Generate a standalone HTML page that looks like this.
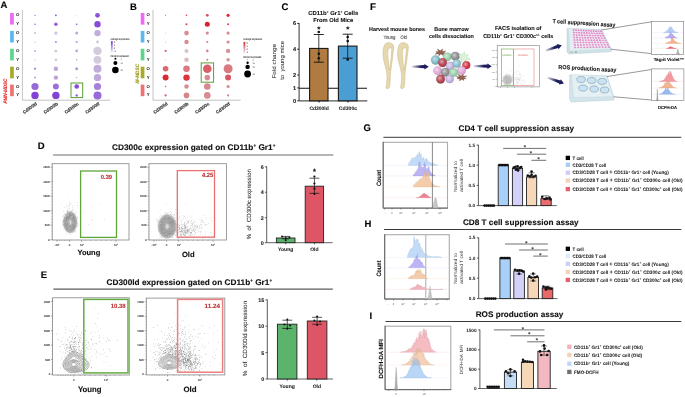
<!DOCTYPE html>
<html><head><meta charset="utf-8"><style>
html,body{margin:0;padding:0;background:#fff;}
body{width:685px;height:397px;overflow:hidden;}
svg{display:block;font-family:"Liberation Sans", sans-serif;will-change:transform;}
text{white-space:pre;text-rendering:geometricPrecision;}
</style></head><body>
<svg width="685" height="397" viewBox="0 0 685 397">
<rect x="0" y="0" width="685" height="397" fill="#fff"/>
<text x="0.60" y="7.80" font-size="9.5" font-weight="bold" text-anchor="start" fill="#000" stroke="#000" stroke-width="0.120">A</text>
<rect x="10.10" y="13.00" width="3.70" height="11.60" fill="#EE6AF2" stroke="none" stroke-width="0.8"/>
<rect x="10.10" y="30.90" width="3.70" height="11.60" fill="#5AB8EE" stroke="none" stroke-width="0.8"/>
<rect x="10.10" y="48.80" width="3.70" height="11.60" fill="#5CD68C" stroke="none" stroke-width="0.8"/>
<rect x="10.10" y="66.70" width="3.70" height="11.60" fill="#A9A92A" stroke="none" stroke-width="0.8"/>
<rect x="10.10" y="84.60" width="3.70" height="11.60" fill="#EE7272" stroke="none" stroke-width="0.8"/>
<text x="17.60" y="16.30" font-size="4.3" font-weight="bold" text-anchor="middle" fill="#222">O</text>
<text x="17.60" y="25.20" font-size="4.3" font-weight="bold" text-anchor="middle" fill="#222">Y</text>
<text x="17.60" y="34.10" font-size="4.3" font-weight="bold" text-anchor="middle" fill="#222">O</text>
<text x="17.60" y="43.00" font-size="4.3" font-weight="bold" text-anchor="middle" fill="#222">Y</text>
<text x="17.60" y="51.90" font-size="4.3" font-weight="bold" text-anchor="middle" fill="#222">O</text>
<text x="17.60" y="60.80" font-size="4.3" font-weight="bold" text-anchor="middle" fill="#222">Y</text>
<text x="17.60" y="69.70" font-size="4.3" font-weight="bold" text-anchor="middle" fill="#222">O</text>
<text x="17.60" y="78.60" font-size="4.3" font-weight="bold" text-anchor="middle" fill="#222">Y</text>
<text x="17.60" y="87.50" font-size="4.3" font-weight="bold" text-anchor="middle" fill="#222">O</text>
<text x="17.60" y="96.40" font-size="4.3" font-weight="bold" text-anchor="middle" fill="#222">Y</text>
<line x1="22.40" y1="10.00" x2="22.40" y2="100.20" stroke="#9a9a9a" stroke-width="0.6"/>
<line x1="22.40" y1="100.20" x2="110.00" y2="100.20" stroke="#9a9a9a" stroke-width="0.6"/>
<circle cx="35.00" cy="15.30" r="0.60" fill="#874bd7"/>
<circle cx="55.90" cy="15.30" r="0.90" fill="#874bd7"/>
<circle cx="76.70" cy="15.30" r="0.30" fill="#874bd7"/>
<circle cx="97.50" cy="15.30" r="2.40" fill="#8b53d7"/>
<circle cx="35.00" cy="24.20" r="0.70" fill="#874bd7"/>
<circle cx="55.90" cy="24.20" r="1.70" fill="#905ad7"/>
<circle cx="76.70" cy="24.20" r="0.80" fill="#874bd7"/>
<circle cx="97.50" cy="24.20" r="3.20" fill="#874bd7"/>
<circle cx="35.00" cy="33.10" r="0.90" fill="#bca6da"/>
<circle cx="55.90" cy="33.10" r="1.60" fill="#cdc4db"/>
<circle cx="76.70" cy="33.10" r="1.50" fill="#bca6da"/>
<circle cx="97.50" cy="33.10" r="3.20" fill="#c0adda"/>
<circle cx="35.00" cy="42.00" r="0.60" fill="#b397da"/>
<circle cx="55.90" cy="42.00" r="1.10" fill="#b397da"/>
<circle cx="76.70" cy="42.00" r="1.10" fill="#b79eda"/>
<circle cx="97.50" cy="42.00" r="1.40" fill="#cdc4db"/>
<circle cx="35.00" cy="50.90" r="0.90" fill="#b79eda"/>
<circle cx="55.90" cy="50.90" r="1.50" fill="#d2cbdc"/>
<circle cx="76.70" cy="50.90" r="1.40" fill="#bca6da"/>
<circle cx="97.50" cy="50.90" r="4.20" fill="#d2cbdc"/>
<circle cx="35.00" cy="59.80" r="0.60" fill="#bca6da"/>
<circle cx="55.90" cy="59.80" r="1.40" fill="#d2cbdc"/>
<circle cx="76.70" cy="59.80" r="0.80" fill="#bca6da"/>
<circle cx="97.50" cy="59.80" r="3.90" fill="#d2cbdc"/>
<circle cx="35.00" cy="68.70" r="1.20" fill="#b59ada"/>
<circle cx="55.90" cy="68.70" r="2.20" fill="#bca6da"/>
<circle cx="76.70" cy="68.70" r="1.50" fill="#b59ada"/>
<circle cx="97.50" cy="68.70" r="4.00" fill="#c0adda"/>
<circle cx="35.00" cy="77.60" r="1.00" fill="#b59ada"/>
<circle cx="55.90" cy="77.60" r="2.20" fill="#baa3da"/>
<circle cx="76.70" cy="77.60" r="0.70" fill="#b59ada"/>
<circle cx="97.50" cy="77.60" r="3.70" fill="#bda9da"/>
<circle cx="35.00" cy="86.50" r="3.60" fill="#9869d8"/>
<circle cx="55.90" cy="86.50" r="3.00" fill="#9d71d8"/>
<circle cx="76.70" cy="86.50" r="2.30" fill="#874bd7"/>
<circle cx="97.50" cy="86.50" r="3.60" fill="#a680d9"/>
<circle cx="35.00" cy="95.40" r="3.70" fill="#8244d6"/>
<circle cx="55.90" cy="95.40" r="3.70" fill="#8244d6"/>
<circle cx="76.70" cy="95.40" r="1.20" fill="#9462d8"/>
<circle cx="97.50" cy="95.40" r="4.00" fill="#9869d8"/>
<text x="37.40" y="104.50" font-size="4.6" font-weight="bold" text-anchor="end" fill="#333" textLength="16.30" lengthAdjust="spacingAndGlyphs" transform="rotate(-36 37.40 104.50)" stroke="#333" stroke-width="0.15">Cd300ld</text>
<text x="58.30" y="104.50" font-size="4.6" font-weight="bold" text-anchor="end" fill="#333" textLength="16.30" lengthAdjust="spacingAndGlyphs" transform="rotate(-36 58.30 104.50)" stroke="#333" stroke-width="0.15">Cd300lb</text>
<text x="79.10" y="104.50" font-size="4.6" font-weight="bold" text-anchor="end" fill="#333" textLength="16.30" lengthAdjust="spacingAndGlyphs" transform="rotate(-36 79.10 104.50)" stroke="#333" stroke-width="0.15">Cd300c</text>
<text x="99.90" y="104.50" font-size="4.6" font-weight="bold" text-anchor="end" fill="#333" textLength="16.30" lengthAdjust="spacingAndGlyphs" transform="rotate(-36 99.90 104.50)" stroke="#333" stroke-width="0.15">Cd300lf</text>
<rect x="71.00" y="83.00" width="11.70" height="14.60" fill="none" stroke="#5A9E32" stroke-width="1.0"/>
<text x="129.90" y="9.80" font-size="9.5" font-weight="bold" text-anchor="start" fill="#000" stroke="#000" stroke-width="0.120">B</text>
<rect x="140.70" y="13.00" width="3.70" height="11.60" fill="#EE6AF2" stroke="none" stroke-width="0.8"/>
<rect x="140.70" y="30.90" width="3.70" height="11.60" fill="#5AB8EE" stroke="none" stroke-width="0.8"/>
<rect x="140.70" y="48.80" width="3.70" height="11.60" fill="#5CD68C" stroke="none" stroke-width="0.8"/>
<rect x="140.70" y="66.70" width="3.70" height="11.60" fill="#A9A92A" stroke="none" stroke-width="0.8"/>
<rect x="140.70" y="84.60" width="3.70" height="11.60" fill="#EE7272" stroke="none" stroke-width="0.8"/>
<text x="148.20" y="16.30" font-size="4.3" font-weight="bold" text-anchor="middle" fill="#222">O</text>
<text x="148.20" y="25.20" font-size="4.3" font-weight="bold" text-anchor="middle" fill="#222">Y</text>
<text x="148.20" y="34.10" font-size="4.3" font-weight="bold" text-anchor="middle" fill="#222">O</text>
<text x="148.20" y="43.00" font-size="4.3" font-weight="bold" text-anchor="middle" fill="#222">Y</text>
<text x="148.20" y="51.90" font-size="4.3" font-weight="bold" text-anchor="middle" fill="#222">O</text>
<text x="148.20" y="60.80" font-size="4.3" font-weight="bold" text-anchor="middle" fill="#222">Y</text>
<text x="148.20" y="69.70" font-size="4.3" font-weight="bold" text-anchor="middle" fill="#222">O</text>
<text x="148.20" y="78.60" font-size="4.3" font-weight="bold" text-anchor="middle" fill="#222">Y</text>
<text x="148.20" y="87.50" font-size="4.3" font-weight="bold" text-anchor="middle" fill="#222">O</text>
<text x="148.20" y="96.40" font-size="4.3" font-weight="bold" text-anchor="middle" fill="#222">Y</text>
<line x1="153.00" y1="10.00" x2="153.00" y2="100.20" stroke="#9a9a9a" stroke-width="0.6"/>
<line x1="153.00" y1="100.20" x2="240.60" y2="100.20" stroke="#9a9a9a" stroke-width="0.6"/>
<circle cx="165.60" cy="15.30" r="0.50" fill="#d9343f"/>
<circle cx="186.50" cy="15.30" r="0.80" fill="#d93c47"/>
<circle cx="207.30" cy="15.30" r="1.40" fill="#d94e58"/>
<circle cx="228.10" cy="15.30" r="1.60" fill="#d92b37"/>
<circle cx="186.50" cy="24.20" r="1.00" fill="#d93c47"/>
<circle cx="207.30" cy="24.20" r="2.50" fill="#d9222f"/>
<circle cx="228.10" cy="24.20" r="1.00" fill="#d93c47"/>
<circle cx="165.60" cy="33.10" r="0.40" fill="#d96870"/>
<circle cx="186.50" cy="33.10" r="2.30" fill="#d88c91"/>
<circle cx="207.30" cy="33.10" r="1.60" fill="#d88c91"/>
<circle cx="228.10" cy="33.10" r="1.60" fill="#d88c91"/>
<circle cx="165.60" cy="42.00" r="0.40" fill="#d96870"/>
<circle cx="186.50" cy="42.00" r="2.20" fill="#d88c91"/>
<circle cx="207.30" cy="42.00" r="1.00" fill="#d87a80"/>
<circle cx="228.10" cy="42.00" r="1.60" fill="#d88c91"/>
<circle cx="165.60" cy="50.90" r="1.10" fill="#d96870"/>
<circle cx="186.50" cy="50.90" r="2.00" fill="#d8c4c5"/>
<circle cx="207.30" cy="50.90" r="1.30" fill="#d88389"/>
<circle cx="228.10" cy="50.90" r="2.20" fill="#d89499"/>
<circle cx="165.60" cy="59.80" r="0.40" fill="#d96870"/>
<circle cx="186.50" cy="59.80" r="2.30" fill="#d8bdbe"/>
<circle cx="207.30" cy="59.80" r="1.00" fill="#d87a80"/>
<circle cx="228.10" cy="59.80" r="1.80" fill="#d89499"/>
<circle cx="165.60" cy="68.70" r="2.80" fill="#d96870"/>
<circle cx="186.50" cy="68.70" r="3.30" fill="#d87a80"/>
<circle cx="207.30" cy="68.70" r="4.30" fill="#d96068"/>
<circle cx="228.10" cy="68.70" r="4.50" fill="#d87a80"/>
<circle cx="165.60" cy="77.60" r="3.00" fill="#d92b37"/>
<circle cx="186.50" cy="77.60" r="3.20" fill="#d9343f"/>
<circle cx="207.30" cy="77.60" r="2.80" fill="#d88c91"/>
<circle cx="228.10" cy="77.60" r="3.00" fill="#d95760"/>
<circle cx="165.60" cy="86.50" r="0.70" fill="#d95760"/>
<circle cx="186.50" cy="86.50" r="2.20" fill="#d88c91"/>
<circle cx="207.30" cy="86.50" r="3.30" fill="#d8888e"/>
<circle cx="228.10" cy="86.50" r="1.60" fill="#d88c91"/>
<circle cx="165.60" cy="95.40" r="1.10" fill="#d96068"/>
<circle cx="186.50" cy="95.40" r="2.80" fill="#d88389"/>
<circle cx="207.30" cy="95.40" r="3.30" fill="#d88c91"/>
<circle cx="228.10" cy="95.40" r="1.10" fill="#d88389"/>
<text x="168.00" y="104.50" font-size="4.6" font-weight="bold" text-anchor="end" fill="#333" textLength="16.30" lengthAdjust="spacingAndGlyphs" transform="rotate(-36 168.00 104.50)" stroke="#333" stroke-width="0.15">Cd300ld</text>
<text x="188.90" y="104.50" font-size="4.6" font-weight="bold" text-anchor="end" fill="#333" textLength="16.30" lengthAdjust="spacingAndGlyphs" transform="rotate(-36 188.90 104.50)" stroke="#333" stroke-width="0.15">Cd300lb</text>
<text x="209.70" y="104.50" font-size="4.6" font-weight="bold" text-anchor="end" fill="#333" textLength="16.30" lengthAdjust="spacingAndGlyphs" transform="rotate(-36 209.70 104.50)" stroke="#333" stroke-width="0.15">Cd300c</text>
<text x="230.50" y="104.50" font-size="4.6" font-weight="bold" text-anchor="end" fill="#333" textLength="16.30" lengthAdjust="spacingAndGlyphs" transform="rotate(-36 230.50 104.50)" stroke="#333" stroke-width="0.15">Cd300lf</text>
<rect x="201.20" y="62.90" width="12.40" height="19.30" fill="none" stroke="#5A9E32" stroke-width="1.0"/>
<text x="7.40" y="103.60" font-size="5.0" font-weight="bold" text-anchor="start" fill="#E02424" textLength="25.00" lengthAdjust="spacingAndGlyphs" transform="rotate(-90 7.40 103.60)" font-style="italic" stroke="#E02424" stroke-width="0.12">PMN-MDSC</text>
<text x="138.80" y="83.40" font-size="5.0" font-weight="bold" text-anchor="start" fill="#9A9A1A" textLength="19.50" lengthAdjust="spacingAndGlyphs" transform="rotate(-90 138.80 83.40)" font-style="italic" stroke="#9A9A1A" stroke-width="0.1">M-MDSC</text>
<text x="110.60" y="39.60" font-size="2.6" font-weight="normal" text-anchor="start" fill="#333" textLength="19.00" lengthAdjust="spacingAndGlyphs" stroke="#333" stroke-width="0.06">Average Expression</text>
<defs><linearGradient id="ga" x1="0" y1="0" x2="0" y2="1"><stop offset="0" stop-color="#7A32DA"/><stop offset="1" stop-color="#ECEAF0"/></linearGradient></defs>
<rect x="110.90" y="41.20" width="1.80" height="11.30" fill="url(#ga)" stroke="none" stroke-width="0.8"/>
<text x="113.80" y="43.00" font-size="2.2" font-weight="normal" text-anchor="start" fill="#444" stroke="#333" stroke-width="0.06">2</text>
<text x="113.80" y="46.00" font-size="2.2" font-weight="normal" text-anchor="start" fill="#444" stroke="#333" stroke-width="0.06">1</text>
<text x="113.80" y="49.00" font-size="2.2" font-weight="normal" text-anchor="start" fill="#444" stroke="#333" stroke-width="0.06">0</text>
<text x="113.80" y="52.00" font-size="2.2" font-weight="normal" text-anchor="start" fill="#444" stroke="#333" stroke-width="0.06">-1</text>
<text x="110.60" y="57.00" font-size="2.6" font-weight="normal" text-anchor="start" fill="#333" textLength="18.00" lengthAdjust="spacingAndGlyphs" stroke="#333" stroke-width="0.06">Percent Expressed</text>
<circle cx="115.40" cy="58.70" r="1.00" fill="#000"/>
<circle cx="115.40" cy="63.00" r="2.00" fill="#000"/>
<circle cx="115.40" cy="70.00" r="3.30" fill="#000"/>
<text x="120.50" y="59.50" font-size="2.2" font-weight="normal" text-anchor="start" fill="#444">1</text>
<text x="120.50" y="63.80" font-size="2.2" font-weight="normal" text-anchor="start" fill="#444">10</text>
<text x="120.50" y="70.80" font-size="2.2" font-weight="normal" text-anchor="start" fill="#444">20</text>
<text x="243.20" y="40.30" font-size="2.6" font-weight="normal" text-anchor="start" fill="#333" textLength="19.00" lengthAdjust="spacingAndGlyphs" stroke="#333" stroke-width="0.06">Average Expression</text>
<defs><linearGradient id="gb" x1="0" y1="0" x2="0" y2="1"><stop offset="0" stop-color="#D9222F"/><stop offset="1" stop-color="#ECEAF0"/></linearGradient></defs>
<rect x="243.50" y="41.90" width="1.80" height="11.30" fill="url(#gb)" stroke="none" stroke-width="0.8"/>
<text x="246.40" y="43.70" font-size="2.2" font-weight="normal" text-anchor="start" fill="#444" stroke="#333" stroke-width="0.06">2</text>
<text x="246.40" y="46.70" font-size="2.2" font-weight="normal" text-anchor="start" fill="#444" stroke="#333" stroke-width="0.06">1</text>
<text x="246.40" y="49.70" font-size="2.2" font-weight="normal" text-anchor="start" fill="#444" stroke="#333" stroke-width="0.06">0</text>
<text x="246.40" y="52.70" font-size="2.2" font-weight="normal" text-anchor="start" fill="#444" stroke="#333" stroke-width="0.06">-1</text>
<text x="243.20" y="57.70" font-size="2.6" font-weight="normal" text-anchor="start" fill="#333" textLength="18.00" lengthAdjust="spacingAndGlyphs" stroke="#333" stroke-width="0.06">Percent Expressed</text>
<circle cx="247.60" cy="59.80" r="0.40" fill="#000"/>
<circle cx="247.60" cy="62.70" r="1.20" fill="#000"/>
<circle cx="247.60" cy="66.90" r="2.20" fill="#000"/>
<circle cx="247.60" cy="74.00" r="3.40" fill="#000"/>
<text x="252.50" y="60.60" font-size="2.2" font-weight="normal" text-anchor="start" fill="#444">0</text>
<text x="252.50" y="63.50" font-size="2.2" font-weight="normal" text-anchor="start" fill="#444">10</text>
<text x="252.50" y="67.70" font-size="2.2" font-weight="normal" text-anchor="start" fill="#444">20</text>
<text x="252.50" y="74.80" font-size="2.2" font-weight="normal" text-anchor="start" fill="#444">30</text>
<text x="281.50" y="9.90" font-size="9.5" font-weight="bold" text-anchor="start" fill="#000" stroke="#000" stroke-width="0.120">C</text>
<text x="333.20" y="15.40" font-size="5.8" font-weight="bold" text-anchor="middle" fill="#111" textLength="50.00" lengthAdjust="spacingAndGlyphs" stroke="#111" stroke-width="0.087">CD11b<tspan font-size="3.2" dy="-2">+</tspan><tspan dy="2"> Gr1</tspan><tspan font-size="3.2" dy="-2">+</tspan><tspan dy="2"> Cells</tspan></text>
<text x="333.20" y="21.60" font-size="5.8" font-weight="bold" text-anchor="middle" fill="#111" textLength="40.00" lengthAdjust="spacingAndGlyphs" stroke="#111" stroke-width="0.087">From Old Mice</text>
<line x1="299.10" y1="23.00" x2="299.10" y2="100.80" stroke="#333" stroke-width="1.0"/>
<line x1="297.20" y1="23.40" x2="299.10" y2="23.40" stroke="#111" stroke-width="0.9"/>
<text x="296.20" y="25.40" font-size="5.6" font-weight="bold" text-anchor="end" fill="#111" stroke="#111" stroke-width="0.084">6</text>
<line x1="297.20" y1="49.20" x2="299.10" y2="49.20" stroke="#111" stroke-width="0.9"/>
<text x="296.20" y="51.20" font-size="5.6" font-weight="bold" text-anchor="end" fill="#111" stroke="#111" stroke-width="0.084">4</text>
<line x1="297.20" y1="75.00" x2="299.10" y2="75.00" stroke="#111" stroke-width="0.9"/>
<text x="296.20" y="77.00" font-size="5.6" font-weight="bold" text-anchor="end" fill="#111" stroke="#111" stroke-width="0.084">2</text>
<line x1="297.20" y1="87.90" x2="299.10" y2="87.90" stroke="#111" stroke-width="0.9"/>
<text x="296.20" y="89.90" font-size="5.6" font-weight="bold" text-anchor="end" fill="#111" stroke="#111" stroke-width="0.084">1</text>
<line x1="297.20" y1="100.80" x2="299.10" y2="100.80" stroke="#111" stroke-width="0.9"/>
<text x="296.20" y="102.80" font-size="5.6" font-weight="bold" text-anchor="end" fill="#111" stroke="#111" stroke-width="0.084">0</text>
<line x1="299.10" y1="100.80" x2="367.30" y2="100.80" stroke="#555" stroke-width="1.2"/>
<line x1="299.10" y1="88.20" x2="367.00" y2="88.20" stroke="#111" stroke-width="1.1"/>
<rect x="309.60" y="48.43" width="18.40" height="52.37" fill="#B07B40" stroke="#1a1a1a" stroke-width="1.1"/>
<rect x="338.40" y="46.10" width="18.60" height="54.70" fill="#4A9ED4" stroke="#1a1a1a" stroke-width="1.1"/>
<line x1="318.80" y1="34.50" x2="318.80" y2="62.20" stroke="#111" stroke-width="0.8"/>
<line x1="313.80" y1="34.50" x2="323.80" y2="34.50" stroke="#111" stroke-width="0.9"/>
<line x1="313.80" y1="62.20" x2="323.80" y2="62.20" stroke="#111" stroke-width="0.9"/>
<circle cx="318.80" cy="32.00" r="1.30" fill="#111"/>
<circle cx="318.80" cy="53.70" r="1.30" fill="#111"/>
<circle cx="318.80" cy="58.20" r="1.30" fill="#111"/>
<text x="318.80" y="32.20" font-size="8" font-weight="bold" text-anchor="middle" fill="#111" stroke="#111" stroke-width="0.120">*</text>
<line x1="347.70" y1="34.20" x2="347.70" y2="58.20" stroke="#111" stroke-width="0.8"/>
<line x1="342.70" y1="34.20" x2="352.70" y2="34.20" stroke="#111" stroke-width="0.9"/>
<line x1="342.70" y1="58.20" x2="352.70" y2="58.20" stroke="#111" stroke-width="0.9"/>
<circle cx="347.70" cy="37.00" r="1.30" fill="#111"/>
<circle cx="347.70" cy="41.10" r="1.30" fill="#111"/>
<circle cx="347.70" cy="59.60" r="1.30" fill="#111"/>
<text x="347.70" y="32.20" font-size="8" font-weight="bold" text-anchor="middle" fill="#111" stroke="#111" stroke-width="0.120">*</text>
<line x1="319.10" y1="100.80" x2="319.10" y2="102.60" stroke="#111" stroke-width="0.9"/>
<text x="319.10" y="109.60" font-size="5.0" font-weight="bold" text-anchor="middle" fill="#222" textLength="19.40" lengthAdjust="spacingAndGlyphs" stroke="#222" stroke-width="0.075">Cd300ld</text>
<line x1="348.00" y1="100.80" x2="348.00" y2="102.60" stroke="#111" stroke-width="0.9"/>
<text x="348.00" y="109.60" font-size="5.0" font-weight="bold" text-anchor="middle" fill="#222" textLength="18.40" lengthAdjust="spacingAndGlyphs" stroke="#222" stroke-width="0.075">Cd300c</text>
<text x="275.90" y="78.60" font-size="5.6" font-weight="normal" text-anchor="start" fill="#333" textLength="34.70" lengthAdjust="spacingAndGlyphs" transform="rotate(-90 275.90 78.60)" stroke="#333" stroke-width="0.067">Fold change</text>
<text x="284.00" y="79.80" font-size="5.6" font-weight="normal" text-anchor="start" fill="#333" textLength="38.80" lengthAdjust="spacingAndGlyphs" transform="rotate(-90 284.00 79.80)" stroke="#333" stroke-width="0.067">to  young mice</text>
<text x="369.90" y="9.90" font-size="9.8" font-weight="bold" text-anchor="start" fill="#000" stroke="#000" stroke-width="0.120">F</text>
<text x="369.00" y="30.60" font-size="5.6" font-weight="bold" text-anchor="start" fill="#111" textLength="56.00" lengthAdjust="spacingAndGlyphs" stroke="#111" stroke-width="0.084">Harvest mouse bones</text>
<text x="383.40" y="38.80" font-size="5.0" font-weight="normal" text-anchor="start" fill="#333" textLength="12.10" lengthAdjust="spacingAndGlyphs" stroke="#333" stroke-width="0.060">Young</text>
<text x="400.50" y="38.80" font-size="5.0" font-weight="normal" text-anchor="start" fill="#333" textLength="6.40" lengthAdjust="spacingAndGlyphs" stroke="#333" stroke-width="0.060">Old</text>
<path transform="translate(382.6,42.2)" d="M1.6,3.6 C2.2,1.2 4.5,0.2 7,0.5 C9.2,0.8 10.9,2.2 11.2,4.4 C11.3,6 10.6,10 10.0,15 C9.4,20 8.8,25 8.0,29.5 C7.6,33 7.7,38 7.4,42.5 C7.2,44.8 6.6,46.3 5.2,46.4 C4.0,46.5 3.2,46.0 3.4,45.0 C4.0,42 4.6,38 4.4,33.5 C4.2,29.5 3.0,25 1.8,21 C0.7,17 0.2,13 0.5,9 C0.7,6.5 1.1,5 1.6,3.6 Z M5.4,7.5 C6.5,5.8 8.2,5.2 9.2,5.6 C9.0,10 8.6,15 8.0,20 C7.6,23.5 7.2,26 6.8,28 C6.3,24 5.7,19 5.3,14 C5.1,11.5 5.1,9 5.4,7.5 Z" fill="#E6D9B0" fill-rule="evenodd" stroke="#C6B482" stroke-width="0.5"/>
<path transform="translate(397.2,42.2)" d="M1.6,3.6 C2.2,1.2 4.5,0.2 7,0.5 C9.2,0.8 10.9,2.2 11.2,4.4 C11.3,6 10.6,10 10.0,15 C9.4,20 8.8,25 8.0,29.5 C7.6,33 7.7,38 7.4,42.5 C7.2,44.8 6.6,46.3 5.2,46.4 C4.0,46.5 3.2,46.0 3.4,45.0 C4.0,42 4.6,38 4.4,33.5 C4.2,29.5 3.0,25 1.8,21 C0.7,17 0.2,13 0.5,9 C0.7,6.5 1.1,5 1.6,3.6 Z M5.4,7.5 C6.5,5.8 8.2,5.2 9.2,5.6 C9.0,10 8.6,15 8.0,20 C7.6,23.5 7.2,26 6.8,28 C6.3,24 5.7,19 5.3,14 C5.1,11.5 5.1,9 5.4,7.5 Z" fill="#E6D9B0" fill-rule="evenodd" stroke="#C6B482" stroke-width="0.5"/>
<defs><linearGradient id="arw" x1="0" y1="0" x2="1" y2="0"><stop offset="0" stop-color="#1E1E5C" stop-opacity="0.15"/><stop offset="0.55" stop-color="#1E1E5C"/><stop offset="1" stop-color="#1E1E5C"/></linearGradient></defs>
<polygon transform="translate(411.8,66.7) rotate(0.00)" points="0,-0.9 12.6,-1.6 12.6,-2.8 17.0,0 12.6,2.8 12.6,1.6 0,0.9" fill="url(#arw)"/>
<polygon transform="translate(473.8,66.2) rotate(0.00)" points="0,-0.9 13.6,-1.6 13.6,-2.8 18.0,0 13.6,2.8 13.6,1.6 0,0.9" fill="url(#arw)"/>
<polygon transform="translate(545.7,50.6) rotate(-18.54)" points="0,-0.9 12.581460479004656,-1.6 12.581460479004656,-2.8 16.981460479004657,0 12.581460479004656,2.8 12.581460479004656,1.6 0,0.9" fill="url(#arw)"/>
<polygon transform="translate(547.6,77.6) rotate(19.48)" points="0,-0.9 12.99540169125161,-1.6 12.99540169125161,-2.8 17.39540169125161,0 12.99540169125161,2.8 12.99540169125161,1.6 0,0.9" fill="url(#arw)"/>
<text x="451.50" y="30.70" font-size="5.6" font-weight="bold" text-anchor="middle" fill="#111" textLength="34.40" lengthAdjust="spacingAndGlyphs" stroke="#111" stroke-width="0.084">Bone marrow</text>
<text x="451.40" y="37.80" font-size="5.6" font-weight="bold" text-anchor="middle" fill="#111" textLength="44.80" lengthAdjust="spacingAndGlyphs" stroke="#111" stroke-width="0.084">cells dissociation</text>
<defs><radialGradient id="cg" cx="0.4" cy="0.38" r="0.65"><stop offset="0" stop-color="#fff" stop-opacity="0.55"/><stop offset="0.6" stop-color="#fff" stop-opacity="0.05"/><stop offset="1" stop-color="#000" stop-opacity="0.12"/></radialGradient></defs>
<polygon points="445.49,53.36 443.23,53.74 443.69,55.82 440.85,54.03 438.83,55.74 438.72,53.78 434.97,54.18 437.27,52.68 435.80,51.66 438.73,51.62 437.42,49.09 440.33,50.85 442.56,48.91 442.13,51.45 445.79,50.95 443.85,52.33" fill="#95604F" stroke="#684337" stroke-width="0.35" stroke-linejoin="round"/>
<polygon points="470.13,59.36 466.22,59.65 465.48,61.69 463.62,59.73 460.62,62.90 461.27,59.12 457.89,58.29 461.33,56.64 459.52,53.43 462.74,54.68 464.24,51.63 465.01,55.31 468.30,54.34 466.45,57.00" fill="#DDF2DA" stroke="#9CCC9A" stroke-width="0.35" stroke-linejoin="round"/>
<polygon points="466.36,78.50 463.67,78.70 463.97,80.45 461.68,79.36 459.60,81.01 459.87,78.68 457.27,78.88 458.12,77.78 456.39,76.69 459.41,76.63 458.16,74.00 461.13,75.93 463.34,73.91 463.23,76.30 466.82,75.93 463.88,77.46" fill="#95604F" stroke="#684337" stroke-width="0.35" stroke-linejoin="round"/>
<circle cx="435.6" cy="60.0" r="4.5" fill="#7CBAC6" stroke="#5d8c94" stroke-width="0.3"/>
<circle cx="435.6" cy="60.0" r="4.5" fill="url(#cg)"/>
<circle cx="447.2" cy="56.8" r="4.1" fill="#96D2A8" stroke="#709e7e" stroke-width="0.3"/>
<circle cx="447.2" cy="56.8" r="4.1" fill="url(#cg)"/>
<circle cx="455.2" cy="56.2" r="4.1" fill="#8E8E8E" stroke="#6a6a6a" stroke-width="0.3"/>
<circle cx="455.2" cy="56.2" r="4.1" fill="url(#cg)"/>
<circle cx="442.6" cy="62.6" r="4.3" fill="#B43E4C" stroke="#872e39" stroke-width="0.3"/>
<circle cx="442.6" cy="62.6" r="4.3" fill="url(#cg)"/>
<circle cx="450.2" cy="66.0" r="4.2" fill="#C4B2E2" stroke="#9386aa" stroke-width="0.3"/>
<circle cx="450.2" cy="66.0" r="4.2" fill="url(#cg)"/>
<circle cx="456.7" cy="63.5" r="4.0" fill="#86C2CE" stroke="#64929a" stroke-width="0.3"/>
<circle cx="456.7" cy="63.5" r="4.0" fill="url(#cg)"/>
<circle cx="466.3" cy="65.1" r="3.9" fill="#D42C3A" stroke="#9f212c" stroke-width="0.3"/>
<circle cx="466.3" cy="65.1" r="3.9" fill="url(#cg)"/>
<circle cx="437.6" cy="70.6" r="4.2" fill="#E2A8DA" stroke="#aa7ea4" stroke-width="0.3"/>
<circle cx="437.6" cy="70.6" r="4.2" fill="url(#cg)"/>
<circle cx="445.2" cy="72.2" r="4.2" fill="#8E8E8E" stroke="#6a6a6a" stroke-width="0.3"/>
<circle cx="445.2" cy="72.2" r="4.2" fill="url(#cg)"/>
<circle cx="453.7" cy="72.6" r="4.1" fill="#96D2A8" stroke="#709e7e" stroke-width="0.3"/>
<circle cx="453.7" cy="72.6" r="4.1" fill="url(#cg)"/>
<circle cx="461.6" cy="70.3" r="4.1" fill="#E2A8DA" stroke="#aa7ea4" stroke-width="0.3"/>
<circle cx="461.6" cy="70.3" r="4.1" fill="url(#cg)"/>
<circle cx="440.6" cy="79.1" r="4.3" fill="#B43E4C" stroke="#872e39" stroke-width="0.3"/>
<circle cx="440.6" cy="79.1" r="4.3" fill="url(#cg)"/>
<circle cx="449.7" cy="79.1" r="4.0" fill="#C4B2E2" stroke="#9386aa" stroke-width="0.3"/>
<circle cx="449.7" cy="79.1" r="4.0" fill="url(#cg)"/>
<text x="518.20" y="30.40" font-size="5.6" font-weight="bold" text-anchor="middle" fill="#111" textLength="46.50" lengthAdjust="spacingAndGlyphs" stroke="#111" stroke-width="0.084">FACS isolation of</text>
<text x="518.20" y="37.80" font-size="5.6" font-weight="bold" text-anchor="middle" fill="#111" textLength="70.00" lengthAdjust="spacingAndGlyphs" stroke="#111" stroke-width="0.084">CD11b<tspan font-size="3.2" dy="-2">+</tspan><tspan dy="2"> Gr1</tspan><tspan font-size="3.2" dy="-2">+</tspan><tspan dy="2"> CD300c</tspan><tspan font-size="3.2" dy="-2">+/-</tspan><tspan dy="2"> cells</tspan></text>
<rect x="497.20" y="45.30" width="42.20" height="41.60" fill="#fff" stroke="#666" stroke-width="0.5"/>
<line x1="495.90" y1="86.40" x2="497.20" y2="86.40" stroke="#666" stroke-width="0.4"/>
<text x="495.30" y="87.00" font-size="1.6" font-weight="normal" text-anchor="end" fill="#555">0</text>
<line x1="495.90" y1="79.20" x2="497.20" y2="79.20" stroke="#666" stroke-width="0.4"/>
<text x="495.30" y="79.80" font-size="1.6" font-weight="normal" text-anchor="end" fill="#555">50K</text>
<line x1="495.90" y1="72.00" x2="497.20" y2="72.00" stroke="#666" stroke-width="0.4"/>
<text x="495.30" y="72.60" font-size="1.6" font-weight="normal" text-anchor="end" fill="#555">100K</text>
<line x1="495.90" y1="64.80" x2="497.20" y2="64.80" stroke="#666" stroke-width="0.4"/>
<text x="495.30" y="65.40" font-size="1.6" font-weight="normal" text-anchor="end" fill="#555">150K</text>
<line x1="495.90" y1="57.60" x2="497.20" y2="57.60" stroke="#666" stroke-width="0.4"/>
<text x="495.30" y="58.20" font-size="1.6" font-weight="normal" text-anchor="end" fill="#555">200K</text>
<line x1="495.90" y1="50.40" x2="497.20" y2="50.40" stroke="#666" stroke-width="0.4"/>
<text x="495.30" y="51.00" font-size="1.6" font-weight="normal" text-anchor="end" fill="#555">250K</text>
<line x1="500.50" y1="86.90" x2="500.50" y2="88.00" stroke="#666" stroke-width="0.4"/>
<line x1="507.50" y1="86.90" x2="507.50" y2="88.00" stroke="#666" stroke-width="0.4"/>
<line x1="514.50" y1="86.90" x2="514.50" y2="88.00" stroke="#666" stroke-width="0.4"/>
<line x1="532.00" y1="86.90" x2="532.00" y2="88.00" stroke="#666" stroke-width="0.4"/>
<defs><radialGradient id="fb" cx="0.5" cy="0.55" r="0.5"><stop offset="0" stop-color="#bdbdbd"/><stop offset="0.6" stop-color="#c8c8c8"/><stop offset="1" stop-color="#e8e8e8" stop-opacity="0"/></radialGradient></defs>
<ellipse cx="507.4" cy="79.4" rx="6.2" ry="7.0" fill="url(#fb)"/>
<rect x="510.3" y="81.8" width="0.4" height="0.4" fill="#888"/>
<rect x="519.2" y="82.0" width="0.4" height="0.4" fill="#aaa"/>
<rect x="499.6" y="74.6" width="0.4" height="0.4" fill="#999"/>
<rect x="518.7" y="80.6" width="0.4" height="0.4" fill="#888"/>
<rect x="512.5" y="85.2" width="0.4" height="0.4" fill="#888"/>
<rect x="513.6" y="77.5" width="0.4" height="0.4" fill="#999"/>
<rect x="506.1" y="75.1" width="0.4" height="0.4" fill="#888"/>
<rect x="506.2" y="77.4" width="0.4" height="0.4" fill="#999"/>
<rect x="524.3" y="82.1" width="0.4" height="0.4" fill="#aaa"/>
<rect x="504.9" y="82.2" width="0.4" height="0.4" fill="#aaa"/>
<rect x="502.9" y="77.0" width="0.4" height="0.4" fill="#888"/>
<rect x="503.9" y="76.3" width="0.4" height="0.4" fill="#aaa"/>
<rect x="520.4" y="83.6" width="0.4" height="0.4" fill="#888"/>
<rect x="506.4" y="75.9" width="0.4" height="0.4" fill="#bbb"/>
<rect x="513.2" y="74.5" width="0.4" height="0.4" fill="#bbb"/>
<rect x="508.8" y="82.1" width="0.4" height="0.4" fill="#999"/>
<rect x="510.5" y="76.3" width="0.4" height="0.4" fill="#aaa"/>
<rect x="498.9" y="78.1" width="0.4" height="0.4" fill="#bbb"/>
<rect x="517.0" y="82.7" width="0.4" height="0.4" fill="#aaa"/>
<rect x="516.4" y="83.8" width="0.4" height="0.4" fill="#888"/>
<rect x="514.5" y="79.1" width="0.4" height="0.4" fill="#aaa"/>
<rect x="508.8" y="83.0" width="0.4" height="0.4" fill="#bbb"/>
<rect x="505.7" y="77.1" width="0.4" height="0.4" fill="#888"/>
<rect x="518.9" y="77.8" width="0.4" height="0.4" fill="#888"/>
<rect x="521.4" y="82.1" width="0.4" height="0.4" fill="#bbb"/>
<rect x="510.6" y="83.8" width="0.4" height="0.4" fill="#aaa"/>
<rect x="519.2" y="80.2" width="0.4" height="0.4" fill="#999"/>
<rect x="506.2" y="76.1" width="0.4" height="0.4" fill="#999"/>
<rect x="512.4" y="77.1" width="0.4" height="0.4" fill="#999"/>
<rect x="500.4" y="85.5" width="0.4" height="0.4" fill="#bbb"/>
<rect x="518.2" y="81.9" width="0.4" height="0.4" fill="#aaa"/>
<rect x="520.9" y="73.9" width="0.4" height="0.4" fill="#aaa"/>
<rect x="506.8" y="66.8" width="0.4" height="0.4" fill="#bbb"/>
<rect x="515.6" y="78.8" width="0.4" height="0.4" fill="#999"/>
<rect x="517.5" y="84.9" width="0.4" height="0.4" fill="#888"/>
<rect x="503.4" y="80.1" width="0.4" height="0.4" fill="#aaa"/>
<rect x="511.3" y="82.0" width="0.4" height="0.4" fill="#aaa"/>
<rect x="507.6" y="77.0" width="0.4" height="0.4" fill="#999"/>
<rect x="509.1" y="74.5" width="0.4" height="0.4" fill="#888"/>
<rect x="499.3" y="82.0" width="0.4" height="0.4" fill="#bbb"/>
<rect x="506.8" y="82.2" width="0.4" height="0.4" fill="#bbb"/>
<rect x="510.5" y="78.3" width="0.4" height="0.4" fill="#888"/>
<rect x="519.0" y="79.0" width="0.4" height="0.4" fill="#888"/>
<rect x="510.9" y="80.7" width="0.4" height="0.4" fill="#888"/>
<rect x="504.6" y="77.2" width="0.4" height="0.4" fill="#aaa"/>
<rect x="510.1" y="78.4" width="0.4" height="0.4" fill="#999"/>
<rect x="509.2" y="77.8" width="0.4" height="0.4" fill="#aaa"/>
<rect x="520.5" y="77.8" width="0.4" height="0.4" fill="#bbb"/>
<rect x="521.1" y="85.6" width="0.4" height="0.4" fill="#bbb"/>
<rect x="506.4" y="80.0" width="0.4" height="0.4" fill="#999"/>
<rect x="516.8" y="82.0" width="0.4" height="0.4" fill="#aaa"/>
<rect x="502.1" y="80.4" width="0.4" height="0.4" fill="#888"/>
<rect x="505.6" y="84.8" width="0.4" height="0.4" fill="#888"/>
<rect x="512.3" y="75.7" width="0.4" height="0.4" fill="#888"/>
<rect x="510.3" y="76.2" width="0.4" height="0.4" fill="#aaa"/>
<rect x="517.1" y="77.2" width="0.4" height="0.4" fill="#999"/>
<rect x="500.9" y="77.9" width="0.4" height="0.4" fill="#aaa"/>
<rect x="506.1" y="74.8" width="0.4" height="0.4" fill="#999"/>
<rect x="516.1" y="71.7" width="0.4" height="0.4" fill="#999"/>
<rect x="514.3" y="84.5" width="0.4" height="0.4" fill="#888"/>
<rect x="523.5" y="79.0" width="0.4" height="0.4" fill="#bbb"/>
<rect x="518.8" y="78.2" width="0.4" height="0.4" fill="#aaa"/>
<rect x="517.9" y="78.3" width="0.4" height="0.4" fill="#999"/>
<rect x="517.9" y="82.5" width="0.4" height="0.4" fill="#aaa"/>
<rect x="514.6" y="85.5" width="0.4" height="0.4" fill="#888"/>
<rect x="502.6" y="80.3" width="0.4" height="0.4" fill="#888"/>
<rect x="513.7" y="77.5" width="0.4" height="0.4" fill="#bbb"/>
<rect x="514.2" y="72.2" width="0.4" height="0.4" fill="#bbb"/>
<rect x="517.3" y="76.4" width="0.4" height="0.4" fill="#aaa"/>
<rect x="525.4" y="85.1" width="0.4" height="0.4" fill="#bbb"/>
<rect x="501.6" y="81.2" width="0.4" height="0.4" fill="#888"/>
<rect x="511.4" y="76.8" width="0.4" height="0.4" fill="#999"/>
<rect x="520.6" y="80.5" width="0.4" height="0.4" fill="#bbb"/>
<rect x="513.3" y="77.1" width="0.4" height="0.4" fill="#bbb"/>
<rect x="508.7" y="76.0" width="0.4" height="0.4" fill="#999"/>
<rect x="523.5" y="80.6" width="0.4" height="0.4" fill="#888"/>
<rect x="499.9" y="83.2" width="0.4" height="0.4" fill="#999"/>
<rect x="516.4" y="80.0" width="0.4" height="0.4" fill="#999"/>
<rect x="512.5" y="75.5" width="0.4" height="0.4" fill="#bbb"/>
<rect x="513.2" y="78.1" width="0.4" height="0.4" fill="#aaa"/>
<rect x="519.7" y="75.5" width="0.4" height="0.4" fill="#bbb"/>
<rect x="518.2" y="71.3" width="0.4" height="0.4" fill="#999"/>
<rect x="504.2" y="78.4" width="0.4" height="0.4" fill="#888"/>
<rect x="519.8" y="73.9" width="0.4" height="0.4" fill="#888"/>
<rect x="512.6" y="77.0" width="0.4" height="0.4" fill="#999"/>
<rect x="501.7" y="80.7" width="0.4" height="0.4" fill="#888"/>
<rect x="508.4" y="84.3" width="0.4" height="0.4" fill="#bbb"/>
<rect x="512.7" y="77.4" width="0.4" height="0.4" fill="#888"/>
<rect x="512.0" y="83.1" width="0.4" height="0.4" fill="#888"/>
<rect x="503.7" y="79.2" width="0.4" height="0.4" fill="#888"/>
<rect x="503.6" y="81.7" width="0.4" height="0.4" fill="#999"/>
<rect x="509.5" y="74.9" width="0.4" height="0.4" fill="#bbb"/>
<rect x="507.1" y="79.3" width="0.4" height="0.4" fill="#aaa"/>
<rect x="524.2" y="75.1" width="0.4" height="0.4" fill="#999"/>
<rect x="513.9" y="77.4" width="0.4" height="0.4" fill="#888"/>
<rect x="507.6" y="82.0" width="0.4" height="0.4" fill="#999"/>
<rect x="508.0" y="80.9" width="0.4" height="0.4" fill="#aaa"/>
<rect x="514.9" y="70.1" width="0.4" height="0.4" fill="#999"/>
<rect x="520.7" y="77.1" width="0.4" height="0.4" fill="#aaa"/>
<rect x="516.5" y="78.9" width="0.4" height="0.4" fill="#888"/>
<rect x="506.0" y="82.6" width="0.4" height="0.4" fill="#999"/>
<rect x="515.6" y="83.6" width="0.4" height="0.4" fill="#bbb"/>
<rect x="509.7" y="82.0" width="0.4" height="0.4" fill="#aaa"/>
<rect x="517.2" y="81.9" width="0.4" height="0.4" fill="#aaa"/>
<rect x="505.4" y="77.9" width="0.4" height="0.4" fill="#888"/>
<rect x="506.1" y="83.1" width="0.4" height="0.4" fill="#aaa"/>
<rect x="509.6" y="79.4" width="0.4" height="0.4" fill="#999"/>
<rect x="515.0" y="79.1" width="0.4" height="0.4" fill="#aaa"/>
<rect x="517.4" y="71.6" width="0.4" height="0.4" fill="#aaa"/>
<rect x="505.3" y="82.6" width="0.4" height="0.4" fill="#bbb"/>
<rect x="511.1" y="77.6" width="0.4" height="0.4" fill="#888"/>
<rect x="513.3" y="76.8" width="0.4" height="0.4" fill="#888"/>
<rect x="511.9" y="80.3" width="0.4" height="0.4" fill="#888"/>
<rect x="512.9" y="77.7" width="0.4" height="0.4" fill="#999"/>
<rect x="523.8" y="83.1" width="0.4" height="0.4" fill="#bbb"/>
<rect x="532.8" y="80.5" width="0.4" height="0.4" fill="#bbb"/>
<rect x="516.6" y="77.9" width="0.4" height="0.4" fill="#999"/>
<rect x="521.8" y="81.4" width="0.4" height="0.4" fill="#888"/>
<rect x="517.0" y="78.8" width="0.4" height="0.4" fill="#999"/>
<rect x="513.7" y="83.2" width="0.4" height="0.4" fill="#aaa"/>
<rect x="507.7" y="78.9" width="0.4" height="0.4" fill="#bbb"/>
<rect x="507.9" y="79.5" width="0.4" height="0.4" fill="#aaa"/>
<rect x="518.9" y="65.8" width="0.4" height="0.4" fill="#888"/>
<rect x="522.5" y="80.2" width="0.4" height="0.4" fill="#999"/>
<rect x="507.1" y="79.2" width="0.4" height="0.4" fill="#bbb"/>
<rect x="521.4" y="84.7" width="0.4" height="0.4" fill="#bbb"/>
<rect x="507.5" y="74.8" width="0.4" height="0.4" fill="#bbb"/>
<rect x="517.5" y="78.8" width="0.4" height="0.4" fill="#999"/>
<rect x="517.9" y="79.0" width="0.4" height="0.4" fill="#999"/>
<rect x="507.0" y="81.8" width="0.4" height="0.4" fill="#888"/>
<rect x="512.6" y="78.8" width="0.4" height="0.4" fill="#aaa"/>
<rect x="510.0" y="80.1" width="0.4" height="0.4" fill="#bbb"/>
<rect x="518.7" y="74.6" width="0.4" height="0.4" fill="#aaa"/>
<rect x="503.9" y="75.5" width="0.4" height="0.4" fill="#888"/>
<rect x="508.3" y="80.2" width="0.4" height="0.4" fill="#bbb"/>
<rect x="518.2" y="79.6" width="0.4" height="0.4" fill="#aaa"/>
<rect x="520.1" y="78.5" width="0.4" height="0.4" fill="#999"/>
<rect x="525.1" y="81.5" width="0.4" height="0.4" fill="#999"/>
<rect x="511.8" y="79.7" width="0.4" height="0.4" fill="#bbb"/>
<rect x="516.5" y="81.3" width="0.4" height="0.4" fill="#999"/>
<rect x="522.1" y="84.0" width="0.4" height="0.4" fill="#999"/>
<rect x="510.5" y="80.3" width="0.4" height="0.4" fill="#888"/>
<rect x="509.2" y="85.5" width="0.4" height="0.4" fill="#888"/>
<rect x="505.1" y="76.7" width="0.4" height="0.4" fill="#999"/>
<rect x="506.3" y="73.5" width="0.4" height="0.4" fill="#bbb"/>
<rect x="512.9" y="72.3" width="0.4" height="0.4" fill="#bbb"/>
<rect x="518.2" y="85.3" width="0.4" height="0.4" fill="#999"/>
<rect x="523.9" y="81.8" width="0.4" height="0.4" fill="#bbb"/>
<rect x="510.8" y="71.3" width="0.4" height="0.4" fill="#999"/>
<rect x="521.2" y="75.5" width="0.4" height="0.4" fill="#888"/>
<rect x="516.0" y="74.2" width="0.4" height="0.4" fill="#999"/>
<rect x="513.6" y="80.2" width="0.4" height="0.4" fill="#aaa"/>
<rect x="518.1" y="78.4" width="0.4" height="0.4" fill="#bbb"/>
<rect x="503.5" y="77.2" width="0.4" height="0.4" fill="#999"/>
<rect x="511.5" y="79.5" width="0.4" height="0.4" fill="#888"/>
<rect x="511.9" y="74.2" width="0.4" height="0.4" fill="#888"/>
<rect x="510.7" y="78.1" width="0.4" height="0.4" fill="#bbb"/>
<rect x="512.0" y="81.3" width="0.4" height="0.4" fill="#aaa"/>
<rect x="513.1" y="86.0" width="0.4" height="0.4" fill="#bbb"/>
<rect x="505.6" y="79.7" width="0.4" height="0.4" fill="#bbb"/>
<rect x="516.5" y="77.5" width="0.4" height="0.4" fill="#888"/>
<rect x="505.1" y="75.2" width="0.4" height="0.4" fill="#888"/>
<rect x="507.3" y="77.1" width="0.4" height="0.4" fill="#aaa"/>
<rect x="509.5" y="77.8" width="0.4" height="0.4" fill="#bbb"/>
<rect x="516.8" y="80.8" width="0.4" height="0.4" fill="#888"/>
<rect x="508.5" y="73.2" width="0.4" height="0.4" fill="#aaa"/>
<rect x="510.6" y="75.9" width="0.4" height="0.4" fill="#bbb"/>
<rect x="508.8" y="80.0" width="0.4" height="0.4" fill="#999"/>
<rect x="511.0" y="81.3" width="0.4" height="0.4" fill="#bbb"/>
<rect x="519.2" y="80.0" width="0.4" height="0.4" fill="#bbb"/>
<rect x="518.4" y="79.3" width="0.4" height="0.4" fill="#999"/>
<rect x="514.5" y="80.4" width="0.4" height="0.4" fill="#aaa"/>
<rect x="515.3" y="78.8" width="0.4" height="0.4" fill="#aaa"/>
<rect x="519.7" y="74.9" width="0.4" height="0.4" fill="#999"/>
<rect x="498.7" y="79.6" width="0.4" height="0.4" fill="#bbb"/>
<rect x="512.5" y="79.6" width="0.4" height="0.4" fill="#bbb"/>
<rect x="509.2" y="75.3" width="0.4" height="0.4" fill="#999"/>
<rect x="506.5" y="81.7" width="0.4" height="0.4" fill="#888"/>
<rect x="512.2" y="79.3" width="0.4" height="0.4" fill="#aaa"/>
<rect x="513.7" y="77.6" width="0.4" height="0.4" fill="#999"/>
<rect x="508.8" y="70.1" width="0.4" height="0.4" fill="#aaa"/>
<rect x="512.0" y="81.1" width="0.4" height="0.4" fill="#bbb"/>
<rect x="520.7" y="79.5" width="0.4" height="0.4" fill="#aaa"/>
<rect x="521.7" y="76.1" width="0.4" height="0.4" fill="#888"/>
<rect x="511.6" y="80.9" width="0.4" height="0.4" fill="#aaa"/>
<rect x="509.6" y="77.6" width="0.4" height="0.4" fill="#aaa"/>
<rect x="506.8" y="81.0" width="0.4" height="0.4" fill="#aaa"/>
<rect x="513.5" y="74.9" width="0.4" height="0.4" fill="#888"/>
<rect x="515.5" y="73.6" width="0.4" height="0.4" fill="#999"/>
<rect x="511.6" y="78.1" width="0.4" height="0.4" fill="#bbb"/>
<rect x="501.6" y="81.8" width="0.4" height="0.4" fill="#aaa"/>
<rect x="508.2" y="78.6" width="0.4" height="0.4" fill="#bbb"/>
<rect x="509.0" y="82.6" width="0.4" height="0.4" fill="#aaa"/>
<rect x="508.0" y="81.3" width="0.4" height="0.4" fill="#bbb"/>
<rect x="505.9" y="77.9" width="0.4" height="0.4" fill="#999"/>
<rect x="510.4" y="78.1" width="0.4" height="0.4" fill="#bbb"/>
<rect x="505.2" y="78.0" width="0.4" height="0.4" fill="#aaa"/>
<rect x="519.1" y="79.4" width="0.4" height="0.4" fill="#999"/>
<rect x="507.4" y="78.5" width="0.4" height="0.4" fill="#999"/>
<rect x="510.4" y="81.1" width="0.4" height="0.4" fill="#999"/>
<rect x="504.0" y="85.5" width="0.4" height="0.4" fill="#999"/>
<rect x="520.2" y="74.6" width="0.4" height="0.4" fill="#bbb"/>
<rect x="504.0" y="84.5" width="0.4" height="0.4" fill="#999"/>
<rect x="507.8" y="82.4" width="0.4" height="0.4" fill="#888"/>
<rect x="503.5" y="79.6" width="0.4" height="0.4" fill="#aaa"/>
<rect x="517.4" y="83.3" width="0.4" height="0.4" fill="#999"/>
<rect x="523.6" y="84.8" width="0.4" height="0.4" fill="#bbb"/>
<rect x="506.3" y="82.4" width="0.4" height="0.4" fill="#aaa"/>
<rect x="519.7" y="72.1" width="0.4" height="0.4" fill="#888"/>
<rect x="516.8" y="82.9" width="0.4" height="0.4" fill="#bbb"/>
<rect x="501.40" y="49.00" width="11.90" height="36.70" fill="none" stroke="#63A840" stroke-width="0.6"/>
<rect x="513.70" y="49.00" width="20.30" height="36.70" fill="none" stroke="#E88080" stroke-width="0.6"/>
<text x="507.30" y="56.00" font-size="2.6" font-weight="normal" text-anchor="middle" fill="#5AA03A">CD300c-</text>
<text x="523.20" y="56.00" font-size="2.6" font-weight="normal" text-anchor="middle" fill="#E06060">CD300c+</text>
<text x="552.40" y="23.00" font-size="5.8" font-weight="bold" text-anchor="start" fill="#111" textLength="63.00" lengthAdjust="spacingAndGlyphs" transform="rotate(3.6 552.40 23.00)" stroke="#111" stroke-width="0.087">T cell suppression assay</text>
<text x="558.30" y="68.90" font-size="5.8" font-weight="bold" text-anchor="start" fill="#111" textLength="58.00" lengthAdjust="spacingAndGlyphs" transform="rotate(3.0 558.30 68.90)" stroke="#111" stroke-width="0.087">ROS production assay</text>
<polygon points="567,28.6 601.5,29.5 611.3,49 611.3,51.6 569,54 567,52" fill="#CFE2E6" stroke="#A9C3CA" stroke-width="0.4"/>
<polygon points="568.6,28.2 601.4,29.9 610.6,49 569.6,51.2" fill="#E2EFF2" stroke="#B9CFD5" stroke-width="0.3"/>
<polygon points="572.6,29.7 601,31 609.4,47.6 574.8,48.3" fill="#F3EEF6"/>
<ellipse cx="573.60" cy="30.00" rx="1.1" ry="0.9" fill="#DE8EC8"/>
<ellipse cx="576.09" cy="30.13" rx="1.1" ry="0.9" fill="#DE8EC8"/>
<ellipse cx="578.58" cy="30.25" rx="1.1" ry="0.9" fill="#DE8EC8"/>
<ellipse cx="581.07" cy="30.38" rx="1.1" ry="0.9" fill="#DE8EC8"/>
<ellipse cx="583.56" cy="30.51" rx="1.1" ry="0.9" fill="#DE8EC8"/>
<ellipse cx="586.05" cy="30.64" rx="1.1" ry="0.9" fill="#DE8EC8"/>
<ellipse cx="588.55" cy="30.76" rx="1.1" ry="0.9" fill="#DE8EC8"/>
<ellipse cx="591.04" cy="30.89" rx="1.1" ry="0.9" fill="#DE8EC8"/>
<ellipse cx="593.53" cy="31.02" rx="1.1" ry="0.9" fill="#DE8EC8"/>
<ellipse cx="596.02" cy="31.15" rx="1.1" ry="0.9" fill="#DE8EC8"/>
<ellipse cx="598.51" cy="31.27" rx="1.1" ry="0.9" fill="#DE8EC8"/>
<ellipse cx="601.00" cy="31.40" rx="1.1" ry="0.9" fill="#DE8EC8"/>
<ellipse cx="573.83" cy="32.49" rx="1.1" ry="0.9" fill="#DE8EC8"/>
<ellipse cx="576.40" cy="32.59" rx="1.1" ry="0.9" fill="#DE8EC8"/>
<ellipse cx="578.97" cy="32.69" rx="1.1" ry="0.9" fill="#DE8EC8"/>
<ellipse cx="581.54" cy="32.80" rx="1.1" ry="0.9" fill="#DE8EC8"/>
<ellipse cx="584.11" cy="32.90" rx="1.1" ry="0.9" fill="#DE8EC8"/>
<ellipse cx="586.69" cy="33.01" rx="1.1" ry="0.9" fill="#DE8EC8"/>
<ellipse cx="589.26" cy="33.11" rx="1.1" ry="0.9" fill="#DE8EC8"/>
<ellipse cx="591.83" cy="33.21" rx="1.1" ry="0.9" fill="#DE8EC8"/>
<ellipse cx="594.40" cy="33.32" rx="1.1" ry="0.9" fill="#DE8EC8"/>
<ellipse cx="596.97" cy="33.42" rx="1.1" ry="0.9" fill="#DE8EC8"/>
<ellipse cx="599.54" cy="33.52" rx="1.1" ry="0.9" fill="#DE8EC8"/>
<ellipse cx="602.11" cy="33.63" rx="1.1" ry="0.9" fill="#DE8EC8"/>
<ellipse cx="574.06" cy="34.97" rx="1.1" ry="0.9" fill="#DE8EC8"/>
<ellipse cx="576.71" cy="35.05" rx="1.1" ry="0.9" fill="#DE8EC8"/>
<ellipse cx="579.36" cy="35.13" rx="1.1" ry="0.9" fill="#DE8EC8"/>
<ellipse cx="582.01" cy="35.21" rx="1.1" ry="0.9" fill="#DE8EC8"/>
<ellipse cx="584.66" cy="35.29" rx="1.1" ry="0.9" fill="#DE8EC8"/>
<ellipse cx="587.32" cy="35.37" rx="1.1" ry="0.9" fill="#DE8EC8"/>
<ellipse cx="589.97" cy="35.45" rx="1.1" ry="0.9" fill="#DE8EC8"/>
<ellipse cx="592.62" cy="35.54" rx="1.1" ry="0.9" fill="#DE8EC8"/>
<ellipse cx="595.27" cy="35.62" rx="1.1" ry="0.9" fill="#DE8EC8"/>
<ellipse cx="597.92" cy="35.70" rx="1.1" ry="0.9" fill="#DE8EC8"/>
<ellipse cx="600.58" cy="35.78" rx="1.1" ry="0.9" fill="#DE8EC8"/>
<ellipse cx="603.23" cy="35.86" rx="1.1" ry="0.9" fill="#DE8EC8"/>
<ellipse cx="574.29" cy="37.46" rx="1.1" ry="0.9" fill="#DE8EC8"/>
<ellipse cx="577.02" cy="37.51" rx="1.1" ry="0.9" fill="#DE8EC8"/>
<ellipse cx="579.75" cy="37.57" rx="1.1" ry="0.9" fill="#DE8EC8"/>
<ellipse cx="582.48" cy="37.63" rx="1.1" ry="0.9" fill="#DE8EC8"/>
<ellipse cx="585.22" cy="37.69" rx="1.1" ry="0.9" fill="#DE8EC8"/>
<ellipse cx="587.95" cy="37.74" rx="1.1" ry="0.9" fill="#DE8EC8"/>
<ellipse cx="590.68" cy="37.80" rx="1.1" ry="0.9" fill="#DE8EC8"/>
<ellipse cx="593.41" cy="37.86" rx="1.1" ry="0.9" fill="#DE8EC8"/>
<ellipse cx="596.15" cy="37.91" rx="1.1" ry="0.9" fill="#DE8EC8"/>
<ellipse cx="598.88" cy="37.97" rx="1.1" ry="0.9" fill="#DE8EC8"/>
<ellipse cx="601.61" cy="38.03" rx="1.1" ry="0.9" fill="#DE8EC8"/>
<ellipse cx="604.34" cy="38.09" rx="1.1" ry="0.9" fill="#DE8EC8"/>
<ellipse cx="574.51" cy="39.94" rx="1.1" ry="0.9" fill="#DE8EC8"/>
<ellipse cx="577.33" cy="39.98" rx="1.1" ry="0.9" fill="#DE8EC8"/>
<ellipse cx="580.14" cy="40.01" rx="1.1" ry="0.9" fill="#DE8EC8"/>
<ellipse cx="582.95" cy="40.04" rx="1.1" ry="0.9" fill="#DE8EC8"/>
<ellipse cx="585.77" cy="40.08" rx="1.1" ry="0.9" fill="#DE8EC8"/>
<ellipse cx="588.58" cy="40.11" rx="1.1" ry="0.9" fill="#DE8EC8"/>
<ellipse cx="591.39" cy="40.15" rx="1.1" ry="0.9" fill="#DE8EC8"/>
<ellipse cx="594.21" cy="40.18" rx="1.1" ry="0.9" fill="#DE8EC8"/>
<ellipse cx="597.02" cy="40.21" rx="1.1" ry="0.9" fill="#DE8EC8"/>
<ellipse cx="599.83" cy="40.25" rx="1.1" ry="0.9" fill="#DE8EC8"/>
<ellipse cx="602.64" cy="40.28" rx="1.1" ry="0.9" fill="#DE8EC8"/>
<ellipse cx="605.46" cy="40.31" rx="1.1" ry="0.9" fill="#DE8EC8"/>
<ellipse cx="574.74" cy="42.43" rx="1.1" ry="0.9" fill="#DE8EC8"/>
<ellipse cx="577.64" cy="42.44" rx="1.1" ry="0.9" fill="#DE8EC8"/>
<ellipse cx="580.53" cy="42.45" rx="1.1" ry="0.9" fill="#DE8EC8"/>
<ellipse cx="583.42" cy="42.46" rx="1.1" ry="0.9" fill="#DE8EC8"/>
<ellipse cx="586.32" cy="42.47" rx="1.1" ry="0.9" fill="#DE8EC8"/>
<ellipse cx="589.21" cy="42.48" rx="1.1" ry="0.9" fill="#DE8EC8"/>
<ellipse cx="592.10" cy="42.49" rx="1.1" ry="0.9" fill="#DE8EC8"/>
<ellipse cx="595.00" cy="42.50" rx="1.1" ry="0.9" fill="#DE8EC8"/>
<ellipse cx="597.89" cy="42.51" rx="1.1" ry="0.9" fill="#DE8EC8"/>
<ellipse cx="600.78" cy="42.52" rx="1.1" ry="0.9" fill="#DE8EC8"/>
<ellipse cx="603.68" cy="42.53" rx="1.1" ry="0.9" fill="#DE8EC8"/>
<ellipse cx="606.57" cy="42.54" rx="1.1" ry="0.9" fill="#DE8EC8"/>
<ellipse cx="574.97" cy="44.91" rx="1.1" ry="0.9" fill="#DE8EC8"/>
<ellipse cx="577.95" cy="44.90" rx="1.1" ry="0.9" fill="#DE8EC8"/>
<ellipse cx="580.92" cy="44.89" rx="1.1" ry="0.9" fill="#DE8EC8"/>
<ellipse cx="583.89" cy="44.88" rx="1.1" ry="0.9" fill="#DE8EC8"/>
<ellipse cx="586.87" cy="44.86" rx="1.1" ry="0.9" fill="#DE8EC8"/>
<ellipse cx="589.84" cy="44.85" rx="1.1" ry="0.9" fill="#DE8EC8"/>
<ellipse cx="592.82" cy="44.84" rx="1.1" ry="0.9" fill="#DE8EC8"/>
<ellipse cx="595.79" cy="44.82" rx="1.1" ry="0.9" fill="#DE8EC8"/>
<ellipse cx="598.76" cy="44.81" rx="1.1" ry="0.9" fill="#DE8EC8"/>
<ellipse cx="601.74" cy="44.80" rx="1.1" ry="0.9" fill="#DE8EC8"/>
<ellipse cx="604.71" cy="44.78" rx="1.1" ry="0.9" fill="#DE8EC8"/>
<ellipse cx="607.69" cy="44.77" rx="1.1" ry="0.9" fill="#DE8EC8"/>
<ellipse cx="575.20" cy="47.40" rx="1.1" ry="0.9" fill="#DE8EC8"/>
<ellipse cx="578.25" cy="47.36" rx="1.1" ry="0.9" fill="#DE8EC8"/>
<ellipse cx="581.31" cy="47.33" rx="1.1" ry="0.9" fill="#DE8EC8"/>
<ellipse cx="584.36" cy="47.29" rx="1.1" ry="0.9" fill="#DE8EC8"/>
<ellipse cx="587.42" cy="47.25" rx="1.1" ry="0.9" fill="#DE8EC8"/>
<ellipse cx="590.47" cy="47.22" rx="1.1" ry="0.9" fill="#DE8EC8"/>
<ellipse cx="593.53" cy="47.18" rx="1.1" ry="0.9" fill="#DE8EC8"/>
<ellipse cx="596.58" cy="47.15" rx="1.1" ry="0.9" fill="#DE8EC8"/>
<ellipse cx="599.64" cy="47.11" rx="1.1" ry="0.9" fill="#DE8EC8"/>
<ellipse cx="602.69" cy="47.07" rx="1.1" ry="0.9" fill="#DE8EC8"/>
<ellipse cx="605.75" cy="47.04" rx="1.1" ry="0.9" fill="#DE8EC8"/>
<ellipse cx="608.80" cy="47.00" rx="1.1" ry="0.9" fill="#DE8EC8"/>
<line x1="569.50" y1="52.20" x2="573.50" y2="52.00" stroke="#888" stroke-width="0.4"/>
<line x1="575.00" y1="52.00" x2="577.00" y2="51.90" stroke="#333" stroke-width="0.5"/>
<line x1="601.50" y1="30.00" x2="651.30" y2="21.80" stroke="#333" stroke-width="0.5"/>
<line x1="610.80" y1="49.20" x2="651.30" y2="53.60" stroke="#333" stroke-width="0.5"/>
<polygon points="569.6,75 607,75.8 613.8,97 613.8,100 571,102 569.6,99" fill="#D3E5EA" stroke="#A9C3CA" stroke-width="0.4"/>
<polygon points="571.5,74.6 606.8,76.2 612.8,96.6 573.6,97.6" fill="#E4F0F3" stroke="#B9CFD5" stroke-width="0.3"/>
<ellipse cx="581.1" cy="79.5" rx="4.3" ry="3.0" fill="#C9E3F4" stroke="#6A8898" stroke-width="0.5"/>
<ellipse cx="591.7" cy="80.4" rx="4.3" ry="3.0" fill="#C9E3F4" stroke="#6A8898" stroke-width="0.5"/>
<ellipse cx="602.2" cy="81.4" rx="4.3" ry="3.0" fill="#C9E3F4" stroke="#6A8898" stroke-width="0.5"/>
<ellipse cx="583.0" cy="88.1" rx="4.3" ry="3.0" fill="#C9E3F4" stroke="#6A8898" stroke-width="0.5"/>
<ellipse cx="594.1" cy="89.0" rx="4.3" ry="3.0" fill="#C9E3F4" stroke="#6A8898" stroke-width="0.5"/>
<ellipse cx="604.6" cy="90.0" rx="4.3" ry="3.0" fill="#C9E3F4" stroke="#6A8898" stroke-width="0.5"/>
<line x1="606.80" y1="76.60" x2="651.40" y2="69.50" stroke="#333" stroke-width="0.5"/>
<line x1="613.60" y1="96.80" x2="651.40" y2="100.00" stroke="#333" stroke-width="0.5"/>
<rect x="651.30" y="21.30" width="32.40" height="33.00" fill="#fff" stroke="#777" stroke-width="0.6"/>
<line x1="651.80" y1="32.70" x2="683.20" y2="32.70" stroke="#C8D8F8" stroke-width="0.3"/>
<line x1="651.80" y1="38.00" x2="683.20" y2="38.00" stroke="#D4D0F8" stroke-width="0.3"/>
<line x1="651.80" y1="43.40" x2="683.20" y2="43.40" stroke="#F8D8C8" stroke-width="0.3"/>
<line x1="651.80" y1="48.40" x2="683.20" y2="48.40" stroke="#F8C8C8" stroke-width="0.3"/>
<path d="M663.50,32.70 L663.50,32.63 L663.79,32.56 L664.08,32.52 L664.37,32.39 L664.66,32.27 L664.95,32.29 L665.24,32.19 L665.53,31.60 L665.82,31.74 L666.11,31.57 L666.40,30.68 L666.69,30.98 L666.98,30.38 L667.27,30.64 L667.56,30.24 L667.85,30.73 L668.14,29.67 L668.43,28.78 L668.72,28.94 L669.01,27.82 L669.30,27.43 L669.59,28.87 L669.88,26.41 L670.17,26.87 L670.46,27.87 L670.75,28.86 L671.04,26.40 L671.33,27.85 L671.62,27.46 L671.91,27.47 L672.20,28.37 L672.49,28.45 L672.78,29.91 L673.07,29.61 L673.36,30.45 L673.65,30.07 L673.94,30.39 L674.23,31.42 L674.52,31.52 L674.81,31.59 L675.10,31.19 L675.39,31.71 L675.68,31.74 L675.97,32.03 L676.26,32.07 L676.55,32.23 L676.84,32.36 L677.13,32.42 L677.42,32.51 L677.71,32.56 L678.00,32.63 L678.00,32.70 Z" fill="#A6C4F6" fill-opacity="0.85" stroke="#95b0dd" stroke-width="0.25"/>
<path d="M665.00,38.00 L665.00,37.84 L665.24,37.80 L665.48,37.65 L665.72,37.61 L665.96,37.52 L666.20,37.23 L666.44,36.74 L666.68,36.58 L666.92,36.39 L667.16,36.70 L667.40,36.25 L667.64,36.43 L667.88,36.49 L668.12,36.55 L668.36,36.42 L668.60,35.55 L668.84,35.49 L669.08,35.13 L669.32,34.49 L669.56,34.97 L669.80,33.99 L670.04,32.42 L670.28,31.72 L670.52,31.40 L670.76,31.78 L671.00,34.54 L671.24,33.50 L671.48,33.53 L671.72,33.98 L671.96,34.79 L672.20,34.21 L672.44,35.30 L672.68,33.97 L672.92,34.60 L673.16,35.50 L673.40,36.10 L673.64,35.55 L673.88,36.08 L674.12,35.88 L674.36,36.06 L674.60,36.53 L674.84,36.78 L675.08,36.84 L675.32,37.14 L675.56,37.44 L675.80,37.53 L676.04,37.54 L676.28,37.80 L676.52,37.87 L676.76,37.87 L677.00,37.94 L677.00,38.00 Z" fill="#A89EF2" fill-opacity="0.85" stroke="#978eda" stroke-width="0.25"/>
<path d="M665.50,43.40 L665.50,43.29 L665.81,43.21 L666.12,43.11 L666.43,42.95 L666.74,42.83 L667.05,42.56 L667.36,42.79 L667.67,42.37 L667.98,41.84 L668.29,41.88 L668.60,41.53 L668.91,42.19 L669.22,41.84 L669.53,42.03 L669.84,41.65 L670.15,41.38 L670.46,41.71 L670.77,40.89 L671.08,40.15 L671.39,37.89 L671.70,37.69 L672.01,39.21 L672.32,37.00 L672.63,39.17 L672.94,37.94 L673.25,39.86 L673.56,40.68 L673.87,39.44 L674.18,41.14 L674.49,41.41 L674.80,40.58 L675.11,40.93 L675.42,41.79 L675.73,41.28 L676.04,41.90 L676.35,42.00 L676.66,42.51 L676.97,42.24 L677.28,42.54 L677.59,42.57 L677.90,42.74 L678.21,43.02 L678.52,43.09 L678.83,43.19 L679.14,43.25 L679.45,43.30 L679.76,43.31 L680.07,43.33 L680.38,43.37 L680.69,43.37 L681.00,43.39 L681.00,43.40 Z" fill="#F2A47E" fill-opacity="0.85" stroke="#da9471" stroke-width="0.25"/>
<path d="M666.50,48.40 L666.50,48.36 L666.67,48.34 L666.83,48.33 L667.00,48.32 L667.17,48.31 L667.33,48.24 L667.50,48.22 L667.67,48.14 L667.83,48.13 L668.00,48.00 L668.17,48.03 L668.33,47.82 L668.50,47.74 L668.67,47.75 L668.83,47.60 L669.00,47.43 L669.17,47.56 L669.33,47.27 L669.50,47.02 L669.67,47.26 L669.83,46.82 L670.00,46.82 L670.17,46.64 L670.33,46.99 L670.50,47.16 L670.67,46.60 L670.83,46.61 L671.00,46.91 L671.17,47.21 L671.33,47.18 L671.50,46.92 L671.67,47.22 L671.83,46.88 L672.00,47.19 L672.17,47.49 L672.33,47.34 L672.50,47.57 L672.67,47.41 L672.83,47.53 L673.00,47.75 L673.17,47.79 L673.33,47.86 L673.50,47.91 L673.67,47.95 L673.83,48.16 L674.00,48.16 L674.17,48.17 L674.33,48.24 L674.50,48.24 L674.67,48.30 L674.83,48.28 L675.00,48.32 L675.17,48.35 L675.33,48.35 L675.50,48.37 L675.67,48.37 L675.83,48.38 L676.00,48.39 L676.17,48.39 L676.33,48.39 L676.50,48.39 L676.50,48.40 Z" fill="#E8485A" fill-opacity="0.85" stroke="#d14151" stroke-width="0.25"/>
<path d="M676.20,54.00 L676.20,53.85 L676.26,53.82 L676.31,53.75 L676.37,53.72 L676.43,53.62 L676.48,53.55 L676.54,53.49 L676.60,53.33 L676.65,53.27 L676.71,53.07 L676.77,52.99 L676.82,52.82 L676.88,52.54 L676.94,52.19 L676.99,52.22 L677.05,51.96 L677.11,51.53 L677.16,51.10 L677.22,51.04 L677.28,50.90 L677.33,50.27 L677.39,50.69 L677.45,49.87 L677.50,50.12 L677.56,50.09 L677.62,49.99 L677.67,49.72 L677.73,49.20 L677.79,49.75 L677.84,49.39 L677.90,49.38 L677.96,49.68 L678.01,49.63 L678.07,50.16 L678.13,50.29 L678.18,50.33 L678.24,50.15 L678.30,50.54 L678.35,50.82 L678.41,50.87 L678.47,51.17 L678.52,51.47 L678.58,51.45 L678.64,51.72 L678.69,52.12 L678.75,52.20 L678.81,52.41 L678.86,52.50 L678.92,52.72 L678.98,52.97 L679.03,52.98 L679.09,53.26 L679.15,53.33 L679.20,53.39 L679.26,53.54 L679.32,53.59 L679.37,53.69 L679.43,53.71 L679.49,53.75 L679.54,53.81 L679.60,53.83 L679.60,54.00 Z" fill="#A8A8A8" fill-opacity="0.85" stroke="#979797" stroke-width="0.25"/>
<line x1="656.00" y1="54.30" x2="656.00" y2="55.30" stroke="#555" stroke-width="0.35"/>
<line x1="661.00" y1="54.30" x2="661.00" y2="55.30" stroke="#555" stroke-width="0.35"/>
<line x1="667.00" y1="54.30" x2="667.00" y2="55.30" stroke="#555" stroke-width="0.35"/>
<line x1="673.00" y1="54.30" x2="673.00" y2="55.30" stroke="#555" stroke-width="0.35"/>
<line x1="679.00" y1="54.30" x2="679.00" y2="55.30" stroke="#555" stroke-width="0.35"/>
<text x="668.90" y="60.80" font-size="4.4" font-weight="bold" text-anchor="middle" fill="#111" textLength="30.50" lengthAdjust="spacingAndGlyphs" stroke="#111" stroke-width="0.1">Tag-it Violet™</text>
<rect x="651.40" y="68.90" width="32.50" height="31.50" fill="#fff" stroke="#777" stroke-width="0.6"/>
<line x1="651.90" y1="81.40" x2="683.40" y2="81.40" stroke="#F8C8C8" stroke-width="0.3"/>
<line x1="651.90" y1="88.00" x2="683.40" y2="88.00" stroke="#F8D8C8" stroke-width="0.3"/>
<line x1="651.90" y1="94.30" x2="683.40" y2="94.30" stroke="#C8D8F8" stroke-width="0.3"/>
<path d="M659.30,81.40 L659.30,81.32 L659.59,81.26 L659.89,81.29 L660.18,81.20 L660.48,81.22 L660.77,81.16 L661.07,80.97 L661.37,81.04 L661.66,80.85 L661.95,80.79 L662.25,80.67 L662.54,80.51 L662.84,80.51 L663.13,79.95 L663.43,80.24 L663.72,79.93 L664.02,79.91 L664.31,79.42 L664.61,78.96 L664.90,77.93 L665.20,78.35 L665.50,78.47 L665.79,77.86 L666.08,75.87 L666.38,77.60 L666.67,75.80 L666.97,76.05 L667.26,74.79 L667.56,75.41 L667.86,73.84 L668.15,74.16 L668.44,73.26 L668.74,71.97 L669.03,72.98 L669.33,74.60 L669.62,74.81 L669.92,71.00 L670.22,72.92 L670.51,74.25 L670.80,71.36 L671.10,73.25 L671.39,73.20 L671.69,73.33 L671.99,75.92 L672.28,76.34 L672.58,75.74 L672.87,78.06 L673.16,77.51 L673.46,79.13 L673.75,78.87 L674.05,79.37 L674.35,79.63 L674.64,80.10 L674.93,80.56 L675.23,80.87 L675.52,81.02 L675.82,81.07 L676.12,81.17 L676.41,81.28 L676.71,81.27 L677.00,81.33 L677.00,81.40 Z" fill="#F08890" fill-opacity="0.85" stroke="#d87a82" stroke-width="0.25"/>
<path d="M659.00,88.00 L659.00,87.88 L659.29,87.85 L659.58,87.83 L659.88,87.69 L660.17,87.76 L660.46,87.60 L660.75,87.40 L661.04,87.52 L661.33,87.24 L661.62,87.06 L661.92,87.18 L662.21,86.82 L662.50,86.37 L662.79,86.32 L663.08,85.79 L663.38,86.11 L663.67,85.75 L663.96,85.65 L664.25,84.73 L664.54,83.62 L664.83,83.85 L665.12,83.08 L665.42,83.59 L665.71,82.37 L666.00,83.73 L666.29,82.97 L666.58,81.61 L666.88,81.22 L667.17,81.98 L667.46,82.93 L667.75,82.29 L668.04,82.46 L668.33,82.27 L668.62,80.70 L668.92,82.78 L669.21,80.95 L669.50,81.32 L669.79,83.89 L670.08,83.38 L670.38,83.50 L670.67,84.86 L670.96,84.43 L671.25,84.02 L671.54,85.65 L671.83,85.34 L672.12,86.23 L672.42,86.06 L672.71,86.11 L673.00,86.88 L673.29,87.18 L673.58,87.30 L673.88,87.27 L674.17,87.57 L674.46,87.64 L674.75,87.65 L675.04,87.67 L675.33,87.80 L675.62,87.85 L675.92,87.87 L676.21,87.93 L676.50,87.93 L676.50,88.00 Z" fill="#F0A880" fill-opacity="0.85" stroke="#d89773" stroke-width="0.25"/>
<path d="M659.00,94.30 L659.00,94.20 L659.27,94.18 L659.55,94.13 L659.83,94.12 L660.10,93.99 L660.38,93.91 L660.65,93.85 L660.92,93.86 L661.20,93.65 L661.48,93.58 L661.75,93.47 L662.02,92.90 L662.30,92.62 L662.58,93.08 L662.85,92.13 L663.12,92.07 L663.40,92.03 L663.67,91.87 L663.95,90.99 L664.23,91.00 L664.50,90.25 L664.77,89.95 L665.05,90.77 L665.33,89.07 L665.60,88.26 L665.88,88.02 L666.15,88.73 L666.42,90.13 L666.70,90.18 L666.98,89.79 L667.25,87.60 L667.52,89.43 L667.80,89.39 L668.08,88.23 L668.35,89.93 L668.62,89.65 L668.90,90.21 L669.17,91.26 L669.45,90.61 L669.73,90.57 L670.00,91.95 L670.27,92.15 L670.55,92.22 L670.83,92.86 L671.10,92.71 L671.38,92.75 L671.65,93.10 L671.92,93.37 L672.20,93.42 L672.48,93.80 L672.75,93.81 L673.02,93.95 L673.30,93.99 L673.58,94.12 L673.85,94.10 L674.12,94.20 L674.40,94.22 L674.67,94.22 L674.95,94.24 L675.23,94.26 L675.50,94.27 L675.50,94.30 Z" fill="#86ABF0" fill-opacity="0.85" stroke="#799ad8" stroke-width="0.25"/>
<path d="M656.60,100.40 L656.60,100.02 L656.63,99.90 L656.65,99.74 L656.68,99.61 L656.71,99.41 L656.73,99.16 L656.76,98.94 L656.79,98.57 L656.81,98.17 L656.84,97.70 L656.87,97.44 L656.89,96.87 L656.92,96.41 L656.95,95.49 L656.97,94.90 L657.00,94.62 L657.03,93.34 L657.05,92.65 L657.08,92.20 L657.11,91.59 L657.13,91.41 L657.16,91.03 L657.19,90.05 L657.21,90.17 L657.24,89.74 L657.27,89.50 L657.29,89.66 L657.32,89.19 L657.35,89.30 L657.37,89.00 L657.40,89.57 L657.43,89.71 L657.45,90.18 L657.48,90.39 L657.51,91.01 L657.53,91.62 L657.56,91.47 L657.59,92.00 L657.61,92.66 L657.64,93.30 L657.67,94.09 L657.69,94.65 L657.72,95.11 L657.75,95.71 L657.77,95.86 L657.80,96.47 L657.83,96.73 L657.85,97.29 L657.88,97.50 L657.91,97.89 L657.93,98.39 L657.96,98.62 L657.99,98.76 L658.01,99.06 L658.04,99.20 L658.07,99.44 L658.09,99.62 L658.12,99.71 L658.15,99.82 L658.17,99.94 L658.20,100.03 L658.20,100.40 Z" fill="#909090" fill-opacity="0.85" stroke="#828282" stroke-width="0.25"/>
<line x1="657.30" y1="100.40" x2="657.30" y2="101.40" stroke="#555" stroke-width="0.35"/>
<line x1="668.50" y1="100.40" x2="668.50" y2="101.40" stroke="#555" stroke-width="0.35"/>
<text x="667.50" y="108.60" font-size="4.4" font-weight="bold" text-anchor="middle" fill="#111" textLength="19.00" lengthAdjust="spacingAndGlyphs" stroke="#111" stroke-width="0.1">DCFH-DA</text>
<text x="37.70" y="149.40" font-size="9.5" font-weight="bold" text-anchor="start" fill="#000" stroke="#000" stroke-width="0.120">D</text>
<line x1="53.10" y1="155.00" x2="333.40" y2="155.00" stroke="#9c9c9c" stroke-width="1.5"/>
<text x="112" y="150.4" font-size="8.1" font-weight="bold" fill="#111" stroke="#111" stroke-width="0.12" textLength="163.4" lengthAdjust="spacingAndGlyphs">CD300c expression gated on CD11b<tspan font-size="4.5" dy="-3">+</tspan><tspan dy="3"> Gr1</tspan><tspan font-size="4.5" dy="-3">+</tspan></text>
<rect x="52.20" y="163.70" width="76.80" height="76.30" fill="#fff" stroke="#858585" stroke-width="0.8"/>
<line x1="50.60" y1="239.70" x2="52.20" y2="239.70" stroke="#555" stroke-width="0.5"/>
<text x="49.80" y="240.70" font-size="2.8" font-weight="normal" text-anchor="end" fill="#444" stroke="#444" stroke-width="0.12">0</text>
<line x1="51.30" y1="236.80" x2="52.20" y2="236.80" stroke="#777" stroke-width="0.35"/>
<line x1="51.30" y1="233.90" x2="52.20" y2="233.90" stroke="#777" stroke-width="0.35"/>
<line x1="51.30" y1="231.00" x2="52.20" y2="231.00" stroke="#777" stroke-width="0.35"/>
<line x1="51.30" y1="228.10" x2="52.20" y2="228.10" stroke="#777" stroke-width="0.35"/>
<line x1="50.60" y1="225.20" x2="52.20" y2="225.20" stroke="#555" stroke-width="0.5"/>
<text x="49.80" y="226.20" font-size="2.8" font-weight="normal" text-anchor="end" fill="#444" stroke="#444" stroke-width="0.12">50K</text>
<line x1="51.30" y1="222.30" x2="52.20" y2="222.30" stroke="#777" stroke-width="0.35"/>
<line x1="51.30" y1="219.40" x2="52.20" y2="219.40" stroke="#777" stroke-width="0.35"/>
<line x1="51.30" y1="216.50" x2="52.20" y2="216.50" stroke="#777" stroke-width="0.35"/>
<line x1="51.30" y1="213.60" x2="52.20" y2="213.60" stroke="#777" stroke-width="0.35"/>
<line x1="50.60" y1="210.70" x2="52.20" y2="210.70" stroke="#555" stroke-width="0.5"/>
<text x="49.80" y="211.70" font-size="2.8" font-weight="normal" text-anchor="end" fill="#444" stroke="#444" stroke-width="0.12">100K</text>
<line x1="51.30" y1="207.80" x2="52.20" y2="207.80" stroke="#777" stroke-width="0.35"/>
<line x1="51.30" y1="204.90" x2="52.20" y2="204.90" stroke="#777" stroke-width="0.35"/>
<line x1="51.30" y1="202.00" x2="52.20" y2="202.00" stroke="#777" stroke-width="0.35"/>
<line x1="51.30" y1="199.10" x2="52.20" y2="199.10" stroke="#777" stroke-width="0.35"/>
<line x1="50.60" y1="196.20" x2="52.20" y2="196.20" stroke="#555" stroke-width="0.5"/>
<text x="49.80" y="197.20" font-size="2.8" font-weight="normal" text-anchor="end" fill="#444" stroke="#444" stroke-width="0.12">150K</text>
<line x1="51.30" y1="193.30" x2="52.20" y2="193.30" stroke="#777" stroke-width="0.35"/>
<line x1="51.30" y1="190.40" x2="52.20" y2="190.40" stroke="#777" stroke-width="0.35"/>
<line x1="51.30" y1="187.50" x2="52.20" y2="187.50" stroke="#777" stroke-width="0.35"/>
<line x1="51.30" y1="184.60" x2="52.20" y2="184.60" stroke="#777" stroke-width="0.35"/>
<line x1="50.60" y1="181.70" x2="52.20" y2="181.70" stroke="#555" stroke-width="0.5"/>
<text x="49.80" y="182.70" font-size="2.8" font-weight="normal" text-anchor="end" fill="#444" stroke="#444" stroke-width="0.12">200K</text>
<line x1="51.30" y1="178.80" x2="52.20" y2="178.80" stroke="#777" stroke-width="0.35"/>
<line x1="51.30" y1="175.90" x2="52.20" y2="175.90" stroke="#777" stroke-width="0.35"/>
<line x1="51.30" y1="173.00" x2="52.20" y2="173.00" stroke="#777" stroke-width="0.35"/>
<line x1="51.30" y1="170.10" x2="52.20" y2="170.10" stroke="#777" stroke-width="0.35"/>
<line x1="50.60" y1="167.20" x2="52.20" y2="167.20" stroke="#555" stroke-width="0.5"/>
<text x="49.80" y="168.20" font-size="2.8" font-weight="normal" text-anchor="end" fill="#444" stroke="#444" stroke-width="0.12">250K</text>
<line x1="51.30" y1="164.30" x2="52.20" y2="164.30" stroke="#777" stroke-width="0.35"/>
<line x1="57.00" y1="240.00" x2="57.00" y2="241.60" stroke="#555" stroke-width="0.5"/>
<line x1="69.60" y1="240.00" x2="69.60" y2="241.60" stroke="#555" stroke-width="0.5"/>
<line x1="81.60" y1="240.00" x2="81.60" y2="241.60" stroke="#555" stroke-width="0.5"/>
<line x1="116.00" y1="240.00" x2="116.00" y2="241.60" stroke="#555" stroke-width="0.5"/>
<line x1="59.50" y1="240.00" x2="59.50" y2="240.90" stroke="#555" stroke-width="0.35"/>
<line x1="62.00" y1="240.00" x2="62.00" y2="240.90" stroke="#555" stroke-width="0.35"/>
<line x1="64.50" y1="240.00" x2="64.50" y2="240.90" stroke="#555" stroke-width="0.35"/>
<line x1="67.00" y1="240.00" x2="67.00" y2="240.90" stroke="#555" stroke-width="0.35"/>
<line x1="86.00" y1="240.00" x2="86.00" y2="240.90" stroke="#555" stroke-width="0.35"/>
<line x1="91.00" y1="240.00" x2="91.00" y2="240.90" stroke="#555" stroke-width="0.35"/>
<line x1="96.00" y1="240.00" x2="96.00" y2="240.90" stroke="#555" stroke-width="0.35"/>
<line x1="101.00" y1="240.00" x2="101.00" y2="240.90" stroke="#555" stroke-width="0.35"/>
<line x1="106.00" y1="240.00" x2="106.00" y2="240.90" stroke="#555" stroke-width="0.35"/>
<line x1="111.00" y1="240.00" x2="111.00" y2="240.90" stroke="#555" stroke-width="0.35"/>
<text x="57" y="246.4" font-size="2.8" fill="#444" stroke="#444" stroke-width="0.1" text-anchor="middle">-10<tspan font-size="1.6" dy="-1">3</tspan></text>
<text x="69.6" y="246.4" font-size="2.8" fill="#444" stroke="#444" stroke-width="0.1" text-anchor="middle">0</text>
<text x="82" y="246.4" font-size="2.8" fill="#444" stroke="#444" stroke-width="0.1" text-anchor="middle">10<tspan font-size="1.6" dy="-1">3</tspan></text>
<text x="116" y="246.4" font-size="2.8" fill="#444" stroke="#444" stroke-width="0.1" text-anchor="middle">10<tspan font-size="1.6" dy="-1">5</tspan></text>
<defs><radialGradient id="gb21" cx="0.5" cy="0.52" r="0.5"><stop offset="0" stop-color="#f2f2f2"/><stop offset="0.12" stop-color="#d0d0d0"/><stop offset="0.3" stop-color="#a2a2a2"/><stop offset="0.65" stop-color="#989898"/><stop offset="0.88" stop-color="#b4b4b4"/><stop offset="1" stop-color="#e0e0e0" stop-opacity="0.4"/></radialGradient></defs>
<ellipse cx="70.2" cy="222.0" rx="7.6" ry="11.3" fill="url(#gb21)"/>
<rect x="73.7" y="230.9" width="0.5" height="0.5" fill="#f4f4f4"/>
<rect x="68.7" y="233.2" width="0.5" height="0.5" fill="#c8c8c8"/>
<rect x="72.3" y="213.7" width="0.5" height="0.5" fill="#dedede"/>
<rect x="62.9" y="220.1" width="0.5" height="0.5" fill="#8a8a8a"/>
<rect x="65.8" y="228.9" width="0.5" height="0.5" fill="#8a8a8a"/>
<rect x="74.6" y="230.5" width="0.5" height="0.5" fill="#9c9c9c"/>
<rect x="68.3" y="214.3" width="0.5" height="0.5" fill="#f4f4f4"/>
<rect x="70.9" y="214.1" width="0.5" height="0.5" fill="#c8c8c8"/>
<rect x="74.9" y="223.5" width="0.5" height="0.5" fill="#c8c8c8"/>
<rect x="67.9" y="212.6" width="0.5" height="0.5" fill="#b0b0b0"/>
<rect x="77.3" y="223.6" width="0.5" height="0.5" fill="#8a8a8a"/>
<rect x="75.9" y="230.5" width="0.5" height="0.5" fill="#c8c8c8"/>
<rect x="74.0" y="231.0" width="0.5" height="0.5" fill="#c8c8c8"/>
<rect x="66.6" y="222.5" width="0.5" height="0.5" fill="#8a8a8a"/>
<rect x="62.8" y="224.1" width="0.5" height="0.5" fill="#8a8a8a"/>
<rect x="70.9" y="216.4" width="0.5" height="0.5" fill="#f4f4f4"/>
<rect x="70.4" y="211.1" width="0.5" height="0.5" fill="#dedede"/>
<rect x="72.4" y="221.8" width="0.5" height="0.5" fill="#dedede"/>
<rect x="62.7" y="223.7" width="0.5" height="0.5" fill="#9c9c9c"/>
<rect x="68.5" y="226.0" width="0.5" height="0.5" fill="#dedede"/>
<rect x="65.9" y="226.0" width="0.5" height="0.5" fill="#c8c8c8"/>
<rect x="65.5" y="221.9" width="0.5" height="0.5" fill="#c8c8c8"/>
<rect x="69.2" y="223.3" width="0.5" height="0.5" fill="#8a8a8a"/>
<rect x="74.0" y="230.8" width="0.5" height="0.5" fill="#c8c8c8"/>
<rect x="72.4" y="222.1" width="0.5" height="0.5" fill="#dedede"/>
<rect x="70.2" y="216.1" width="0.5" height="0.5" fill="#dedede"/>
<rect x="66.7" y="233.2" width="0.5" height="0.5" fill="#8a8a8a"/>
<rect x="71.7" y="226.6" width="0.5" height="0.5" fill="#b0b0b0"/>
<rect x="72.6" y="215.8" width="0.5" height="0.5" fill="#dedede"/>
<rect x="73.9" y="219.4" width="0.5" height="0.5" fill="#9c9c9c"/>
<rect x="77.1" y="226.5" width="0.5" height="0.5" fill="#c8c8c8"/>
<rect x="65.3" y="229.3" width="0.5" height="0.5" fill="#f4f4f4"/>
<rect x="63.5" y="220.8" width="0.5" height="0.5" fill="#9c9c9c"/>
<rect x="63.3" y="228.8" width="0.5" height="0.5" fill="#f4f4f4"/>
<rect x="63.6" y="215.7" width="0.5" height="0.5" fill="#c8c8c8"/>
<rect x="63.4" y="221.6" width="0.5" height="0.5" fill="#9c9c9c"/>
<rect x="71.4" y="224.8" width="0.5" height="0.5" fill="#c8c8c8"/>
<rect x="71.1" y="213.5" width="0.5" height="0.5" fill="#b0b0b0"/>
<rect x="74.2" y="224.0" width="0.5" height="0.5" fill="#b0b0b0"/>
<rect x="74.3" y="223.3" width="0.5" height="0.5" fill="#c8c8c8"/>
<rect x="74.6" y="225.1" width="0.5" height="0.5" fill="#9c9c9c"/>
<rect x="77.4" y="220.9" width="0.5" height="0.5" fill="#c8c8c8"/>
<rect x="73.2" y="223.4" width="0.5" height="0.5" fill="#f4f4f4"/>
<rect x="63.2" y="220.3" width="0.5" height="0.5" fill="#8a8a8a"/>
<rect x="77.8" y="218.6" width="0.5" height="0.5" fill="#b0b0b0"/>
<rect x="72.4" y="210.8" width="0.5" height="0.5" fill="#dedede"/>
<rect x="71.0" y="213.4" width="0.5" height="0.5" fill="#c8c8c8"/>
<rect x="68.0" y="230.5" width="0.5" height="0.5" fill="#b0b0b0"/>
<rect x="74.7" y="230.1" width="0.5" height="0.5" fill="#c8c8c8"/>
<rect x="67.0" y="210.8" width="0.5" height="0.5" fill="#8a8a8a"/>
<rect x="69.8" y="229.1" width="0.5" height="0.5" fill="#9c9c9c"/>
<rect x="74.0" y="214.4" width="0.5" height="0.5" fill="#b0b0b0"/>
<rect x="67.2" y="212.2" width="0.5" height="0.5" fill="#9c9c9c"/>
<rect x="71.9" y="224.8" width="0.5" height="0.5" fill="#8a8a8a"/>
<rect x="72.8" y="231.2" width="0.5" height="0.5" fill="#9c9c9c"/>
<rect x="72.8" y="223.9" width="0.5" height="0.5" fill="#b0b0b0"/>
<rect x="74.5" y="228.5" width="0.5" height="0.5" fill="#b0b0b0"/>
<rect x="63.9" y="229.1" width="0.5" height="0.5" fill="#dedede"/>
<rect x="72.0" y="226.6" width="0.5" height="0.5" fill="#c8c8c8"/>
<rect x="72.4" y="232.2" width="0.5" height="0.5" fill="#8a8a8a"/>
<rect x="65.5" y="216.6" width="0.5" height="0.5" fill="#f4f4f4"/>
<rect x="71.3" y="211.1" width="0.5" height="0.5" fill="#8a8a8a"/>
<rect x="64.3" y="229.5" width="0.5" height="0.5" fill="#c8c8c8"/>
<rect x="70.5" y="216.8" width="0.5" height="0.5" fill="#f4f4f4"/>
<rect x="71.1" y="234.1" width="0.5" height="0.5" fill="#dedede"/>
<rect x="69.5" y="224.3" width="0.5" height="0.5" fill="#c8c8c8"/>
<rect x="74.2" y="230.8" width="0.5" height="0.5" fill="#b0b0b0"/>
<rect x="73.3" y="211.9" width="0.5" height="0.5" fill="#c8c8c8"/>
<rect x="72.7" y="220.8" width="0.5" height="0.5" fill="#dedede"/>
<rect x="76.2" y="225.5" width="0.5" height="0.5" fill="#b0b0b0"/>
<rect x="74.8" y="220.6" width="0.5" height="0.5" fill="#f4f4f4"/>
<rect x="65.0" y="214.4" width="0.5" height="0.5" fill="#9c9c9c"/>
<rect x="77.1" y="226.4" width="0.5" height="0.5" fill="#9c9c9c"/>
<rect x="67.3" y="227.5" width="0.5" height="0.5" fill="#c8c8c8"/>
<rect x="72.0" y="224.1" width="0.5" height="0.5" fill="#8a8a8a"/>
<rect x="64.9" y="214.0" width="0.5" height="0.5" fill="#c8c8c8"/>
<rect x="62.1" y="221.6" width="0.5" height="0.5" fill="#f4f4f4"/>
<rect x="66.8" y="215.5" width="0.5" height="0.5" fill="#dedede"/>
<rect x="62.4" y="221.1" width="0.5" height="0.5" fill="#8a8a8a"/>
<rect x="70.5" y="224.7" width="0.5" height="0.5" fill="#c8c8c8"/>
<rect x="74.4" y="223.7" width="0.5" height="0.5" fill="#dedede"/>
<rect x="73.1" y="212.4" width="0.5" height="0.5" fill="#c8c8c8"/>
<rect x="71.8" y="214.5" width="0.5" height="0.5" fill="#b0b0b0"/>
<rect x="63.6" y="222.8" width="0.5" height="0.5" fill="#f4f4f4"/>
<rect x="75.2" y="226.4" width="0.5" height="0.5" fill="#c8c8c8"/>
<rect x="65.7" y="228.9" width="0.5" height="0.5" fill="#9c9c9c"/>
<rect x="71.4" y="212.3" width="0.5" height="0.5" fill="#dedede"/>
<rect x="66.4" y="212.0" width="0.5" height="0.5" fill="#f4f4f4"/>
<rect x="72.0" y="216.2" width="0.5" height="0.5" fill="#c8c8c8"/>
<rect x="74.7" y="218.1" width="0.5" height="0.5" fill="#dedede"/>
<rect x="65.7" y="228.1" width="0.5" height="0.5" fill="#f4f4f4"/>
<rect x="70.9" y="221.9" width="0.5" height="0.5" fill="#b0b0b0"/>
<rect x="72.5" y="233.1" width="0.5" height="0.5" fill="#f4f4f4"/>
<rect x="74.0" y="229.3" width="0.5" height="0.5" fill="#8a8a8a"/>
<rect x="63.7" y="220.6" width="0.5" height="0.5" fill="#c8c8c8"/>
<rect x="69.9" y="213.6" width="0.5" height="0.5" fill="#8a8a8a"/>
<rect x="73.6" y="221.7" width="0.5" height="0.5" fill="#c8c8c8"/>
<rect x="71.5" y="228.9" width="0.5" height="0.5" fill="#f4f4f4"/>
<rect x="67.0" y="219.3" width="0.5" height="0.5" fill="#8a8a8a"/>
<rect x="74.7" y="219.9" width="0.5" height="0.5" fill="#b0b0b0"/>
<rect x="77.9" y="217.9" width="0.5" height="0.5" fill="#f4f4f4"/>
<rect x="66.1" y="221.7" width="0.5" height="0.5" fill="#f4f4f4"/>
<rect x="69.3" y="229.5" width="0.5" height="0.5" fill="#c8c8c8"/>
<rect x="64.8" y="223.7" width="0.5" height="0.5" fill="#dedede"/>
<rect x="66.7" y="213.2" width="0.5" height="0.5" fill="#f4f4f4"/>
<rect x="66.9" y="226.3" width="0.5" height="0.5" fill="#9c9c9c"/>
<rect x="74.0" y="221.1" width="0.5" height="0.5" fill="#b0b0b0"/>
<rect x="73.2" y="210.8" width="0.5" height="0.5" fill="#f4f4f4"/>
<rect x="68.7" y="224.5" width="0.5" height="0.5" fill="#dedede"/>
<rect x="76.5" y="224.4" width="0.5" height="0.5" fill="#f4f4f4"/>
<rect x="62.3" y="225.9" width="0.5" height="0.5" fill="#dedede"/>
<rect x="75.1" y="231.8" width="0.5" height="0.5" fill="#9c9c9c"/>
<rect x="62.6" y="225.3" width="0.5" height="0.5" fill="#b0b0b0"/>
<rect x="73.4" y="230.1" width="0.5" height="0.5" fill="#c8c8c8"/>
<rect x="68.4" y="221.5" width="0.5" height="0.5" fill="#9c9c9c"/>
<rect x="63.4" y="227.8" width="0.5" height="0.5" fill="#9c9c9c"/>
<rect x="71.4" y="233.0" width="0.5" height="0.5" fill="#dedede"/>
<rect x="77.2" y="216.7" width="0.5" height="0.5" fill="#8a8a8a"/>
<rect x="69.0" y="219.2" width="0.5" height="0.5" fill="#c8c8c8"/>
<rect x="76.0" y="215.7" width="0.5" height="0.5" fill="#f4f4f4"/>
<rect x="71.0" y="224.8" width="0.5" height="0.5" fill="#dedede"/>
<rect x="65.0" y="215.9" width="0.5" height="0.5" fill="#c8c8c8"/>
<rect x="67.2" y="212.8" width="0.5" height="0.5" fill="#9c9c9c"/>
<rect x="69.6" y="229.3" width="0.5" height="0.5" fill="#b0b0b0"/>
<rect x="69.7" y="221.1" width="0.5" height="0.5" fill="#8a8a8a"/>
<rect x="68.4" y="217.3" width="0.5" height="0.5" fill="#8a8a8a"/>
<rect x="68.6" y="217.1" width="0.5" height="0.5" fill="#b0b0b0"/>
<rect x="68.2" y="226.0" width="0.5" height="0.5" fill="#dedede"/>
<rect x="63.3" y="222.3" width="0.5" height="0.5" fill="#f4f4f4"/>
<rect x="69.0" y="223.3" width="0.5" height="0.5" fill="#9c9c9c"/>
<rect x="75.8" y="218.2" width="0.5" height="0.5" fill="#c8c8c8"/>
<rect x="71.4" y="227.2" width="0.5" height="0.5" fill="#dedede"/>
<rect x="66.0" y="225.3" width="0.5" height="0.5" fill="#9c9c9c"/>
<rect x="70.6" y="224.4" width="0.5" height="0.5" fill="#b0b0b0"/>
<rect x="65.0" y="215.9" width="0.5" height="0.5" fill="#f4f4f4"/>
<rect x="73.4" y="231.3" width="0.5" height="0.5" fill="#c8c8c8"/>
<rect x="62.5" y="223.6" width="0.5" height="0.5" fill="#c8c8c8"/>
<rect x="73.0" y="210.9" width="0.5" height="0.5" fill="#f4f4f4"/>
<rect x="76.7" y="225.5" width="0.5" height="0.5" fill="#f4f4f4"/>
<rect x="75.2" y="216.8" width="0.5" height="0.5" fill="#8a8a8a"/>
<rect x="75.3" y="220.6" width="0.5" height="0.5" fill="#c8c8c8"/>
<rect x="77.1" y="217.7" width="0.5" height="0.5" fill="#8a8a8a"/>
<rect x="73.2" y="219.3" width="0.5" height="0.5" fill="#b0b0b0"/>
<rect x="64.5" y="215.3" width="0.5" height="0.5" fill="#f4f4f4"/>
<rect x="70.2" y="216.7" width="0.5" height="0.5" fill="#dedede"/>
<rect x="64.8" y="222.0" width="0.5" height="0.5" fill="#9c9c9c"/>
<rect x="76.4" y="221.9" width="0.5" height="0.5" fill="#c8c8c8"/>
<rect x="69.7" y="210.3" width="0.5" height="0.5" fill="#b0b0b0"/>
<rect x="73.7" y="218.7" width="0.5" height="0.5" fill="#dedede"/>
<rect x="72.9" y="230.2" width="0.5" height="0.5" fill="#b0b0b0"/>
<rect x="62.7" y="216.5" width="0.5" height="0.5" fill="#c8c8c8"/>
<rect x="77.2" y="219.0" width="0.5" height="0.5" fill="#f4f4f4"/>
<rect x="69.8" y="211.3" width="0.5" height="0.5" fill="#9c9c9c"/>
<rect x="75.6" y="218.1" width="0.5" height="0.5" fill="#dedede"/>
<rect x="69.2" y="226.8" width="0.5" height="0.5" fill="#f4f4f4"/>
<rect x="64.3" y="226.6" width="0.5" height="0.5" fill="#c8c8c8"/>
<rect x="70.3" y="212.0" width="0.5" height="0.5" fill="#b0b0b0"/>
<rect x="73.2" y="232.4" width="0.5" height="0.5" fill="#9c9c9c"/>
<rect x="65.9" y="222.4" width="0.5" height="0.5" fill="#dedede"/>
<rect x="72.6" y="217.6" width="0.5" height="0.5" fill="#b0b0b0"/>
<rect x="63.8" y="216.2" width="0.5" height="0.5" fill="#f4f4f4"/>
<rect x="72.7" y="226.5" width="0.5" height="0.5" fill="#9c9c9c"/>
<rect x="66.4" y="227.4" width="0.5" height="0.5" fill="#8a8a8a"/>
<rect x="71.5" y="210.6" width="0.5" height="0.5" fill="#b0b0b0"/>
<rect x="62.8" y="216.3" width="0.5" height="0.5" fill="#9c9c9c"/>
<rect x="62.4" y="223.0" width="0.5" height="0.5" fill="#dedede"/>
<rect x="72.4" y="214.0" width="0.5" height="0.5" fill="#8a8a8a"/>
<rect x="78.1" y="224.0" width="0.5" height="0.5" fill="#9c9c9c"/>
<rect x="64.5" y="222.0" width="0.5" height="0.5" fill="#c8c8c8"/>
<rect x="65.0" y="218.8" width="0.5" height="0.5" fill="#f4f4f4"/>
<rect x="67.5" y="211.2" width="0.5" height="0.5" fill="#8a8a8a"/>
<rect x="67.2" y="226.4" width="0.5" height="0.5" fill="#c8c8c8"/>
<rect x="72.3" y="210.5" width="0.5" height="0.5" fill="#9c9c9c"/>
<rect x="66.2" y="218.0" width="0.5" height="0.5" fill="#8a8a8a"/>
<rect x="70.1" y="215.8" width="0.5" height="0.5" fill="#9c9c9c"/>
<rect x="74.8" y="231.0" width="0.5" height="0.5" fill="#b0b0b0"/>
<rect x="75.4" y="227.9" width="0.5" height="0.5" fill="#f4f4f4"/>
<rect x="71.0" y="227.5" width="0.5" height="0.5" fill="#c8c8c8"/>
<rect x="71.0" y="213.3" width="0.5" height="0.5" fill="#8a8a8a"/>
<rect x="68.3" y="215.4" width="0.5" height="0.5" fill="#f4f4f4"/>
<rect x="69.4" y="221.8" width="0.5" height="0.5" fill="#9c9c9c"/>
<rect x="69.3" y="228.2" width="0.5" height="0.5" fill="#c8c8c8"/>
<rect x="77.0" y="226.0" width="0.5" height="0.5" fill="#dedede"/>
<rect x="69.5" y="220.5" width="0.5" height="0.5" fill="#f4f4f4"/>
<rect x="71.0" y="232.4" width="0.5" height="0.5" fill="#c8c8c8"/>
<rect x="62.0" y="222.0" width="0.5" height="0.5" fill="#b0b0b0"/>
<rect x="69.1" y="222.7" width="0.5" height="0.5" fill="#b0b0b0"/>
<rect x="73.5" y="228.2" width="0.5" height="0.5" fill="#c8c8c8"/>
<rect x="66.5" y="215.7" width="0.5" height="0.5" fill="#dedede"/>
<rect x="65.5" y="217.8" width="0.5" height="0.5" fill="#9c9c9c"/>
<rect x="76.9" y="223.2" width="0.5" height="0.5" fill="#c8c8c8"/>
<rect x="74.3" y="212.9" width="0.5" height="0.5" fill="#dedede"/>
<rect x="70.2" y="214.7" width="0.5" height="0.5" fill="#9c9c9c"/>
<rect x="74.0" y="231.6" width="0.5" height="0.5" fill="#b0b0b0"/>
<rect x="68.6" y="215.6" width="0.5" height="0.5" fill="#8a8a8a"/>
<rect x="66.6" y="223.5" width="0.5" height="0.5" fill="#8a8a8a"/>
<rect x="64.7" y="214.0" width="0.5" height="0.5" fill="#9c9c9c"/>
<rect x="67.0" y="220.4" width="0.5" height="0.5" fill="#f4f4f4"/>
<rect x="74.2" y="227.3" width="0.5" height="0.5" fill="#8a8a8a"/>
<rect x="72.2" y="231.9" width="0.5" height="0.5" fill="#dedede"/>
<rect x="77.5" y="223.2" width="0.5" height="0.5" fill="#9c9c9c"/>
<rect x="68.1" y="219.7" width="0.5" height="0.5" fill="#9c9c9c"/>
<rect x="63.4" y="226.6" width="0.5" height="0.5" fill="#dedede"/>
<rect x="67.8" y="211.4" width="0.5" height="0.5" fill="#c8c8c8"/>
<rect x="68.7" y="228.6" width="0.5" height="0.5" fill="#f4f4f4"/>
<rect x="65.6" y="230.6" width="0.5" height="0.5" fill="#8a8a8a"/>
<rect x="68.6" y="220.8" width="0.5" height="0.5" fill="#c8c8c8"/>
<rect x="71.0" y="212.6" width="0.5" height="0.5" fill="#9c9c9c"/>
<rect x="76.7" y="224.3" width="0.5" height="0.5" fill="#b0b0b0"/>
<rect x="71.4" y="211.6" width="0.5" height="0.5" fill="#dedede"/>
<rect x="72.2" y="216.0" width="0.5" height="0.5" fill="#b0b0b0"/>
<rect x="66.7" y="213.4" width="0.5" height="0.5" fill="#c8c8c8"/>
<rect x="74.1" y="218.6" width="0.5" height="0.5" fill="#8a8a8a"/>
<rect x="69.6" y="225.6" width="0.5" height="0.5" fill="#b0b0b0"/>
<rect x="71.5" y="217.8" width="0.5" height="0.5" fill="#f4f4f4"/>
<rect x="72.9" y="227.6" width="0.5" height="0.5" fill="#8a8a8a"/>
<rect x="69.4" y="232.2" width="0.5" height="0.5" fill="#9c9c9c"/>
<rect x="77.1" y="225.3" width="0.5" height="0.5" fill="#c8c8c8"/>
<rect x="67.5" y="221.7" width="0.5" height="0.5" fill="#c8c8c8"/>
<rect x="71.8" y="233.4" width="0.5" height="0.5" fill="#f4f4f4"/>
<rect x="72.1" y="230.3" width="0.5" height="0.5" fill="#b0b0b0"/>
<rect x="65.9" y="216.8" width="0.5" height="0.5" fill="#8a8a8a"/>
<rect x="66.9" y="224.5" width="0.5" height="0.5" fill="#8a8a8a"/>
<rect x="70.9" y="227.0" width="0.5" height="0.5" fill="#b0b0b0"/>
<rect x="77.5" y="222.9" width="0.5" height="0.5" fill="#f4f4f4"/>
<rect x="74.3" y="220.6" width="0.5" height="0.5" fill="#b0b0b0"/>
<rect x="65.2" y="220.6" width="0.5" height="0.5" fill="#b0b0b0"/>
<rect x="67.8" y="210.8" width="0.5" height="0.5" fill="#9c9c9c"/>
<rect x="68.1" y="214.0" width="0.5" height="0.5" fill="#b0b0b0"/>
<rect x="64.8" y="230.7" width="0.5" height="0.5" fill="#f4f4f4"/>
<rect x="74.4" y="230.1" width="0.5" height="0.5" fill="#f4f4f4"/>
<rect x="66.5" y="211.1" width="0.5" height="0.5" fill="#8a8a8a"/>
<rect x="70.4" y="234.4" width="0.5" height="0.5" fill="#b0b0b0"/>
<rect x="63.2" y="217.9" width="0.5" height="0.5" fill="#9c9c9c"/>
<rect x="70.0" y="220.0" width="0.5" height="0.5" fill="#dedede"/>
<rect x="69.6" y="228.4" width="0.5" height="0.5" fill="#dedede"/>
<rect x="70.6" y="216.1" width="0.5" height="0.5" fill="#8a8a8a"/>
<rect x="75.7" y="213.5" width="0.5" height="0.5" fill="#c8c8c8"/>
<rect x="76.1" y="220.8" width="0.5" height="0.5" fill="#f4f4f4"/>
<rect x="68.3" y="217.1" width="0.5" height="0.5" fill="#9c9c9c"/>
<rect x="67.1" y="215.3" width="0.5" height="0.5" fill="#f4f4f4"/>
<rect x="76.8" y="217.3" width="0.5" height="0.5" fill="#dedede"/>
<rect x="67.9" y="225.0" width="0.5" height="0.5" fill="#8a8a8a"/>
<rect x="70.3" y="216.9" width="0.5" height="0.5" fill="#8a8a8a"/>
<rect x="70.4" y="219.3" width="0.5" height="0.5" fill="#f4f4f4"/>
<rect x="68.6" y="226.6" width="0.5" height="0.5" fill="#dedede"/>
<rect x="68.6" y="230.0" width="0.5" height="0.5" fill="#f4f4f4"/>
<rect x="68.3" y="232.5" width="0.5" height="0.5" fill="#f4f4f4"/>
<rect x="66.0" y="219.8" width="0.5" height="0.5" fill="#8a8a8a"/>
<rect x="67.9" y="211.2" width="0.5" height="0.5" fill="#b0b0b0"/>
<rect x="62.4" y="224.7" width="0.5" height="0.5" fill="#f4f4f4"/>
<rect x="69.7" y="229.3" width="0.5" height="0.5" fill="#dedede"/>
<rect x="65.7" y="231.9" width="0.5" height="0.5" fill="#b0b0b0"/>
<rect x="71.1" y="226.8" width="0.5" height="0.5" fill="#8a8a8a"/>
<rect x="68.9" y="232.8" width="0.5" height="0.5" fill="#8a8a8a"/>
<rect x="71.9" y="221.5" width="0.5" height="0.5" fill="#b0b0b0"/>
<rect x="68.1" y="213.7" width="0.5" height="0.5" fill="#8a8a8a"/>
<rect x="71.3" y="217.1" width="0.5" height="0.5" fill="#dedede"/>
<rect x="68.6" y="216.5" width="0.5" height="0.5" fill="#9c9c9c"/>
<rect x="74.0" y="214.0" width="0.5" height="0.5" fill="#9c9c9c"/>
<rect x="71.95" y="210.30" width="0.45" height="0.45" fill="#aaa"/>
<rect x="70.75" y="211.84" width="0.45" height="0.45" fill="#555"/>
<rect x="63.85" y="207.23" width="0.45" height="0.45" fill="#777"/>
<rect x="73.95" y="220.51" width="0.45" height="0.45" fill="#555"/>
<rect x="73.24" y="217.50" width="0.45" height="0.45" fill="#aaa"/>
<rect x="67.33" y="209.12" width="0.45" height="0.45" fill="#555"/>
<rect x="75.06" y="219.28" width="0.45" height="0.45" fill="#aaa"/>
<rect x="68.52" y="214.56" width="0.45" height="0.45" fill="#aaa"/>
<rect x="63.41" y="224.96" width="0.45" height="0.45" fill="#777"/>
<rect x="69.32" y="201.81" width="0.45" height="0.45" fill="#555"/>
<rect x="77.32" y="205.62" width="0.45" height="0.45" fill="#999"/>
<rect x="71.50" y="213.39" width="0.45" height="0.45" fill="#aaa"/>
<rect x="76.40" y="212.47" width="0.45" height="0.45" fill="#aaa"/>
<rect x="68.37" y="205.43" width="0.45" height="0.45" fill="#aaa"/>
<rect x="69.67" y="204.79" width="0.45" height="0.45" fill="#777"/>
<rect x="66.89" y="210.70" width="0.45" height="0.45" fill="#999"/>
<rect x="67.97" y="216.93" width="0.45" height="0.45" fill="#999"/>
<rect x="80.63" y="204.73" width="0.45" height="0.45" fill="#555"/>
<rect x="70.85" y="203.37" width="0.45" height="0.45" fill="#777"/>
<rect x="61.28" y="203.11" width="0.45" height="0.45" fill="#999"/>
<rect x="72.18" y="212.90" width="0.45" height="0.45" fill="#999"/>
<rect x="69.40" y="206.62" width="0.45" height="0.45" fill="#aaa"/>
<rect x="69.26" y="216.67" width="0.45" height="0.45" fill="#777"/>
<rect x="72.03" y="213.53" width="0.45" height="0.45" fill="#999"/>
<rect x="63.37" y="214.81" width="0.45" height="0.45" fill="#555"/>
<rect x="69.10" y="226.16" width="0.45" height="0.45" fill="#555"/>
<rect x="72.60" y="208.69" width="0.45" height="0.45" fill="#777"/>
<rect x="68.21" y="194.72" width="0.45" height="0.45" fill="#aaa"/>
<rect x="75.14" y="213.92" width="0.45" height="0.45" fill="#999"/>
<rect x="77.22" y="192.63" width="0.45" height="0.45" fill="#aaa"/>
<rect x="69.27" y="208.32" width="0.45" height="0.45" fill="#555"/>
<rect x="62.88" y="211.31" width="0.45" height="0.45" fill="#aaa"/>
<rect x="76.74" y="207.71" width="0.45" height="0.45" fill="#999"/>
<rect x="63.04" y="210.90" width="0.45" height="0.45" fill="#aaa"/>
<rect x="69.65" y="210.98" width="0.45" height="0.45" fill="#aaa"/>
<rect x="66.23" y="205.68" width="0.45" height="0.45" fill="#555"/>
<rect x="73.49" y="217.64" width="0.45" height="0.45" fill="#555"/>
<rect x="77.40" y="202.27" width="0.45" height="0.45" fill="#777"/>
<rect x="77.58" y="204.72" width="0.45" height="0.45" fill="#777"/>
<rect x="65.18" y="206.57" width="0.45" height="0.45" fill="#aaa"/>
<rect x="70.38" y="215.21" width="0.45" height="0.45" fill="#aaa"/>
<rect x="67.34" y="223.81" width="0.45" height="0.45" fill="#999"/>
<rect x="71.37" y="213.06" width="0.45" height="0.45" fill="#999"/>
<rect x="69.69" y="190.88" width="0.45" height="0.45" fill="#aaa"/>
<rect x="67.88" y="207.68" width="0.45" height="0.45" fill="#555"/>
<rect x="69.70" y="204.57" width="0.45" height="0.45" fill="#777"/>
<rect x="67.49" y="214.67" width="0.45" height="0.45" fill="#aaa"/>
<rect x="72.64" y="205.64" width="0.45" height="0.45" fill="#777"/>
<rect x="72.77" y="206.92" width="0.45" height="0.45" fill="#555"/>
<rect x="75.41" y="212.27" width="0.45" height="0.45" fill="#999"/>
<rect x="69.85" y="215.37" width="0.45" height="0.45" fill="#999"/>
<rect x="70.26" y="212.02" width="0.45" height="0.45" fill="#aaa"/>
<rect x="68.01" y="213.54" width="0.45" height="0.45" fill="#777"/>
<rect x="68.53" y="216.04" width="0.45" height="0.45" fill="#999"/>
<rect x="72.12" y="213.62" width="0.45" height="0.45" fill="#777"/>
<rect x="74.61" y="201.85" width="0.45" height="0.45" fill="#aaa"/>
<rect x="64.45" y="213.46" width="0.45" height="0.45" fill="#777"/>
<rect x="68.69" y="211.48" width="0.45" height="0.45" fill="#777"/>
<rect x="68.68" y="218.67" width="0.45" height="0.45" fill="#555"/>
<rect x="73.20" y="209.24" width="0.45" height="0.45" fill="#999"/>
<rect x="92.40" y="206.56" width="0.45" height="0.45" fill="#777"/>
<rect x="83.07" y="210.14" width="0.45" height="0.45" fill="#777"/>
<rect x="92.38" y="220.53" width="0.45" height="0.45" fill="#999"/>
<rect x="100.75" y="202.94" width="0.45" height="0.45" fill="#777"/>
<rect x="113.58" y="217.81" width="0.45" height="0.45" fill="#aaa"/>
<rect x="105.95" y="209.59" width="0.45" height="0.45" fill="#999"/>
<rect x="88.43" y="224.24" width="0.45" height="0.45" fill="#777"/>
<rect x="85.33" y="212.63" width="0.45" height="0.45" fill="#aaa"/>
<rect x="104.41" y="218.88" width="0.45" height="0.45" fill="#777"/>
<rect x="115.74" y="222.41" width="0.45" height="0.45" fill="#999"/>
<rect x="91.31" y="219.73" width="0.45" height="0.45" fill="#555"/>
<rect x="84.41" y="229.28" width="0.45" height="0.45" fill="#aaa"/>
<rect x="80.60" y="171.00" width="35.90" height="66.40" fill="none" stroke="#5FA63A" stroke-width="1.3"/>
<text x="112.10" y="179.00" font-size="6.0" font-weight="bold" text-anchor="end" fill="#B83232" textLength="11.30" lengthAdjust="spacingAndGlyphs" stroke="#B83232" stroke-width="0.090">0.39</text>
<text x="88.90" y="255.30" font-size="7.4" font-weight="bold" text-anchor="middle" fill="#111" textLength="22.80" lengthAdjust="spacingAndGlyphs" stroke="#111" stroke-width="0.111">Young</text>
<rect x="149.00" y="163.70" width="77.50" height="76.30" fill="#fff" stroke="#858585" stroke-width="0.8"/>
<line x1="147.40" y1="239.70" x2="149.00" y2="239.70" stroke="#555" stroke-width="0.5"/>
<text x="146.60" y="240.70" font-size="2.8" font-weight="normal" text-anchor="end" fill="#444" stroke="#444" stroke-width="0.12">0</text>
<line x1="148.10" y1="236.80" x2="149.00" y2="236.80" stroke="#777" stroke-width="0.35"/>
<line x1="148.10" y1="233.90" x2="149.00" y2="233.90" stroke="#777" stroke-width="0.35"/>
<line x1="148.10" y1="231.00" x2="149.00" y2="231.00" stroke="#777" stroke-width="0.35"/>
<line x1="148.10" y1="228.10" x2="149.00" y2="228.10" stroke="#777" stroke-width="0.35"/>
<line x1="147.40" y1="225.20" x2="149.00" y2="225.20" stroke="#555" stroke-width="0.5"/>
<text x="146.60" y="226.20" font-size="2.8" font-weight="normal" text-anchor="end" fill="#444" stroke="#444" stroke-width="0.12">50K</text>
<line x1="148.10" y1="222.30" x2="149.00" y2="222.30" stroke="#777" stroke-width="0.35"/>
<line x1="148.10" y1="219.40" x2="149.00" y2="219.40" stroke="#777" stroke-width="0.35"/>
<line x1="148.10" y1="216.50" x2="149.00" y2="216.50" stroke="#777" stroke-width="0.35"/>
<line x1="148.10" y1="213.60" x2="149.00" y2="213.60" stroke="#777" stroke-width="0.35"/>
<line x1="147.40" y1="210.70" x2="149.00" y2="210.70" stroke="#555" stroke-width="0.5"/>
<text x="146.60" y="211.70" font-size="2.8" font-weight="normal" text-anchor="end" fill="#444" stroke="#444" stroke-width="0.12">100K</text>
<line x1="148.10" y1="207.80" x2="149.00" y2="207.80" stroke="#777" stroke-width="0.35"/>
<line x1="148.10" y1="204.90" x2="149.00" y2="204.90" stroke="#777" stroke-width="0.35"/>
<line x1="148.10" y1="202.00" x2="149.00" y2="202.00" stroke="#777" stroke-width="0.35"/>
<line x1="148.10" y1="199.10" x2="149.00" y2="199.10" stroke="#777" stroke-width="0.35"/>
<line x1="147.40" y1="196.20" x2="149.00" y2="196.20" stroke="#555" stroke-width="0.5"/>
<text x="146.60" y="197.20" font-size="2.8" font-weight="normal" text-anchor="end" fill="#444" stroke="#444" stroke-width="0.12">150K</text>
<line x1="148.10" y1="193.30" x2="149.00" y2="193.30" stroke="#777" stroke-width="0.35"/>
<line x1="148.10" y1="190.40" x2="149.00" y2="190.40" stroke="#777" stroke-width="0.35"/>
<line x1="148.10" y1="187.50" x2="149.00" y2="187.50" stroke="#777" stroke-width="0.35"/>
<line x1="148.10" y1="184.60" x2="149.00" y2="184.60" stroke="#777" stroke-width="0.35"/>
<line x1="147.40" y1="181.70" x2="149.00" y2="181.70" stroke="#555" stroke-width="0.5"/>
<text x="146.60" y="182.70" font-size="2.8" font-weight="normal" text-anchor="end" fill="#444" stroke="#444" stroke-width="0.12">200K</text>
<line x1="148.10" y1="178.80" x2="149.00" y2="178.80" stroke="#777" stroke-width="0.35"/>
<line x1="148.10" y1="175.90" x2="149.00" y2="175.90" stroke="#777" stroke-width="0.35"/>
<line x1="148.10" y1="173.00" x2="149.00" y2="173.00" stroke="#777" stroke-width="0.35"/>
<line x1="148.10" y1="170.10" x2="149.00" y2="170.10" stroke="#777" stroke-width="0.35"/>
<line x1="147.40" y1="167.20" x2="149.00" y2="167.20" stroke="#555" stroke-width="0.5"/>
<text x="146.60" y="168.20" font-size="2.8" font-weight="normal" text-anchor="end" fill="#444" stroke="#444" stroke-width="0.12">250K</text>
<line x1="148.10" y1="164.30" x2="149.00" y2="164.30" stroke="#777" stroke-width="0.35"/>
<line x1="154.00" y1="240.00" x2="154.00" y2="241.60" stroke="#555" stroke-width="0.5"/>
<line x1="166.60" y1="240.00" x2="166.60" y2="241.60" stroke="#555" stroke-width="0.5"/>
<line x1="178.60" y1="240.00" x2="178.60" y2="241.60" stroke="#555" stroke-width="0.5"/>
<line x1="213.00" y1="240.00" x2="213.00" y2="241.60" stroke="#555" stroke-width="0.5"/>
<line x1="156.50" y1="240.00" x2="156.50" y2="240.90" stroke="#555" stroke-width="0.35"/>
<line x1="159.00" y1="240.00" x2="159.00" y2="240.90" stroke="#555" stroke-width="0.35"/>
<line x1="161.50" y1="240.00" x2="161.50" y2="240.90" stroke="#555" stroke-width="0.35"/>
<line x1="164.00" y1="240.00" x2="164.00" y2="240.90" stroke="#555" stroke-width="0.35"/>
<line x1="183.00" y1="240.00" x2="183.00" y2="240.90" stroke="#555" stroke-width="0.35"/>
<line x1="188.00" y1="240.00" x2="188.00" y2="240.90" stroke="#555" stroke-width="0.35"/>
<line x1="193.00" y1="240.00" x2="193.00" y2="240.90" stroke="#555" stroke-width="0.35"/>
<line x1="198.00" y1="240.00" x2="198.00" y2="240.90" stroke="#555" stroke-width="0.35"/>
<line x1="203.00" y1="240.00" x2="203.00" y2="240.90" stroke="#555" stroke-width="0.35"/>
<line x1="208.00" y1="240.00" x2="208.00" y2="240.90" stroke="#555" stroke-width="0.35"/>
<text x="154" y="246.4" font-size="2.8" fill="#444" stroke="#444" stroke-width="0.1" text-anchor="middle">-10<tspan font-size="1.6" dy="-1">3</tspan></text>
<text x="166.6" y="246.4" font-size="2.8" fill="#444" stroke="#444" stroke-width="0.1" text-anchor="middle">0</text>
<text x="179" y="246.4" font-size="2.8" fill="#444" stroke="#444" stroke-width="0.1" text-anchor="middle">10<tspan font-size="1.6" dy="-1">3</tspan></text>
<text x="213" y="246.4" font-size="2.8" fill="#444" stroke="#444" stroke-width="0.1" text-anchor="middle">10<tspan font-size="1.6" dy="-1">5</tspan></text>
<rect x="186.68" y="232.13" width="0.45" height="0.45" fill="#999"/>
<rect x="181.59" y="228.56" width="0.45" height="0.45" fill="#555"/>
<rect x="182.49" y="229.42" width="0.45" height="0.45" fill="#999"/>
<rect x="187.03" y="227.45" width="0.45" height="0.45" fill="#aaa"/>
<rect x="182.84" y="231.10" width="0.45" height="0.45" fill="#777"/>
<rect x="176.17" y="230.38" width="0.45" height="0.45" fill="#777"/>
<rect x="190.69" y="223.58" width="0.45" height="0.45" fill="#777"/>
<rect x="177.89" y="232.05" width="0.45" height="0.45" fill="#555"/>
<rect x="185.89" y="230.76" width="0.45" height="0.45" fill="#777"/>
<rect x="177.09" y="232.39" width="0.45" height="0.45" fill="#555"/>
<rect x="178.96" y="230.14" width="0.45" height="0.45" fill="#aaa"/>
<rect x="177.95" y="238.49" width="0.45" height="0.45" fill="#777"/>
<rect x="180.60" y="235.37" width="0.45" height="0.45" fill="#555"/>
<rect x="184.01" y="226.38" width="0.45" height="0.45" fill="#777"/>
<rect x="182.42" y="232.38" width="0.45" height="0.45" fill="#aaa"/>
<rect x="185.69" y="228.57" width="0.45" height="0.45" fill="#555"/>
<rect x="183.22" y="230.54" width="0.45" height="0.45" fill="#777"/>
<rect x="174.20" y="232.83" width="0.45" height="0.45" fill="#555"/>
<rect x="185.09" y="229.59" width="0.45" height="0.45" fill="#999"/>
<rect x="187.86" y="231.89" width="0.45" height="0.45" fill="#aaa"/>
<rect x="190.52" y="232.61" width="0.45" height="0.45" fill="#aaa"/>
<rect x="197.75" y="231.36" width="0.45" height="0.45" fill="#999"/>
<rect x="189.66" y="229.79" width="0.45" height="0.45" fill="#777"/>
<rect x="177.60" y="228.11" width="0.45" height="0.45" fill="#777"/>
<rect x="183.90" y="234.36" width="0.45" height="0.45" fill="#999"/>
<rect x="186.94" y="237.42" width="0.45" height="0.45" fill="#777"/>
<rect x="174.16" y="227.04" width="0.45" height="0.45" fill="#999"/>
<rect x="185.94" y="233.01" width="0.45" height="0.45" fill="#555"/>
<rect x="180.14" y="231.01" width="0.45" height="0.45" fill="#555"/>
<rect x="184.00" y="228.01" width="0.45" height="0.45" fill="#aaa"/>
<rect x="188.86" y="229.19" width="0.45" height="0.45" fill="#555"/>
<rect x="189.34" y="230.49" width="0.45" height="0.45" fill="#999"/>
<rect x="178.63" y="238.38" width="0.45" height="0.45" fill="#777"/>
<rect x="189.31" y="234.91" width="0.45" height="0.45" fill="#999"/>
<rect x="175.02" y="235.52" width="0.45" height="0.45" fill="#555"/>
<rect x="184.41" y="230.27" width="0.45" height="0.45" fill="#777"/>
<rect x="178.35" y="225.69" width="0.45" height="0.45" fill="#aaa"/>
<rect x="184.11" y="234.48" width="0.45" height="0.45" fill="#777"/>
<rect x="199.23" y="228.16" width="0.45" height="0.45" fill="#777"/>
<rect x="181.49" y="230.17" width="0.45" height="0.45" fill="#555"/>
<rect x="194.27" y="231.23" width="0.45" height="0.45" fill="#999"/>
<rect x="185.25" y="231.13" width="0.45" height="0.45" fill="#999"/>
<rect x="193.74" y="234.66" width="0.45" height="0.45" fill="#777"/>
<rect x="194.82" y="229.77" width="0.45" height="0.45" fill="#555"/>
<rect x="181.71" y="233.08" width="0.45" height="0.45" fill="#777"/>
<rect x="180.78" y="230.98" width="0.45" height="0.45" fill="#777"/>
<rect x="184.14" y="230.81" width="0.45" height="0.45" fill="#555"/>
<rect x="183.10" y="234.06" width="0.45" height="0.45" fill="#999"/>
<rect x="178.85" y="228.71" width="0.45" height="0.45" fill="#555"/>
<rect x="181.72" y="230.70" width="0.45" height="0.45" fill="#777"/>
<rect x="190.08" y="234.32" width="0.45" height="0.45" fill="#777"/>
<rect x="178.14" y="233.77" width="0.45" height="0.45" fill="#777"/>
<rect x="174.14" y="232.78" width="0.45" height="0.45" fill="#777"/>
<rect x="180.06" y="235.83" width="0.45" height="0.45" fill="#777"/>
<rect x="183.91" y="230.17" width="0.45" height="0.45" fill="#aaa"/>
<rect x="193.66" y="229.54" width="0.45" height="0.45" fill="#999"/>
<rect x="176.21" y="225.57" width="0.45" height="0.45" fill="#777"/>
<rect x="175.67" y="231.70" width="0.45" height="0.45" fill="#555"/>
<rect x="188.69" y="231.57" width="0.45" height="0.45" fill="#aaa"/>
<rect x="193.07" y="237.94" width="0.45" height="0.45" fill="#999"/>
<rect x="182.85" y="230.78" width="0.45" height="0.45" fill="#aaa"/>
<rect x="184.09" y="231.91" width="0.45" height="0.45" fill="#777"/>
<rect x="180.77" y="231.70" width="0.45" height="0.45" fill="#555"/>
<rect x="185.50" y="226.44" width="0.45" height="0.45" fill="#555"/>
<rect x="182.37" y="232.83" width="0.45" height="0.45" fill="#aaa"/>
<rect x="176.12" y="230.39" width="0.45" height="0.45" fill="#aaa"/>
<rect x="175.96" y="229.14" width="0.45" height="0.45" fill="#aaa"/>
<rect x="187.18" y="229.86" width="0.45" height="0.45" fill="#777"/>
<rect x="187.65" y="229.22" width="0.45" height="0.45" fill="#555"/>
<rect x="187.54" y="228.84" width="0.45" height="0.45" fill="#777"/>
<rect x="185.24" y="225.45" width="0.45" height="0.45" fill="#555"/>
<rect x="179.05" y="227.04" width="0.45" height="0.45" fill="#555"/>
<rect x="187.66" y="227.30" width="0.45" height="0.45" fill="#999"/>
<rect x="190.42" y="233.11" width="0.45" height="0.45" fill="#aaa"/>
<rect x="181.18" y="236.10" width="0.45" height="0.45" fill="#555"/>
<rect x="177.92" y="224.55" width="0.45" height="0.45" fill="#555"/>
<rect x="190.30" y="233.32" width="0.45" height="0.45" fill="#999"/>
<rect x="186.92" y="230.62" width="0.45" height="0.45" fill="#777"/>
<rect x="190.11" y="234.98" width="0.45" height="0.45" fill="#555"/>
<rect x="186.36" y="227.16" width="0.45" height="0.45" fill="#777"/>
<rect x="174.57" y="234.38" width="0.45" height="0.45" fill="#555"/>
<rect x="181.04" y="224.48" width="0.45" height="0.45" fill="#777"/>
<rect x="185.71" y="234.22" width="0.45" height="0.45" fill="#aaa"/>
<rect x="186.84" y="230.86" width="0.45" height="0.45" fill="#777"/>
<rect x="175.87" y="232.63" width="0.45" height="0.45" fill="#555"/>
<rect x="191.39" y="235.50" width="0.45" height="0.45" fill="#999"/>
<rect x="179.31" y="234.69" width="0.45" height="0.45" fill="#777"/>
<rect x="181.15" y="232.57" width="0.45" height="0.45" fill="#aaa"/>
<rect x="180.29" y="228.10" width="0.45" height="0.45" fill="#aaa"/>
<rect x="182.08" y="228.58" width="0.45" height="0.45" fill="#aaa"/>
<rect x="184.74" y="236.81" width="0.45" height="0.45" fill="#555"/>
<rect x="178.45" y="229.94" width="0.45" height="0.45" fill="#777"/>
<rect x="180.48" y="233.22" width="0.45" height="0.45" fill="#555"/>
<rect x="183.78" y="235.47" width="0.45" height="0.45" fill="#555"/>
<rect x="188.68" y="228.94" width="0.45" height="0.45" fill="#555"/>
<rect x="179.31" y="231.74" width="0.45" height="0.45" fill="#555"/>
<rect x="188.54" y="230.41" width="0.45" height="0.45" fill="#555"/>
<rect x="184.55" y="221.94" width="0.45" height="0.45" fill="#777"/>
<rect x="191.16" y="233.03" width="0.45" height="0.45" fill="#555"/>
<rect x="181.08" y="227.34" width="0.45" height="0.45" fill="#555"/>
<rect x="197.03" y="228.33" width="0.45" height="0.45" fill="#999"/>
<rect x="192.52" y="228.93" width="0.45" height="0.45" fill="#999"/>
<rect x="184.74" y="224.23" width="0.45" height="0.45" fill="#999"/>
<rect x="187.49" y="231.69" width="0.45" height="0.45" fill="#555"/>
<rect x="180.36" y="231.00" width="0.45" height="0.45" fill="#777"/>
<rect x="187.12" y="230.51" width="0.45" height="0.45" fill="#555"/>
<rect x="180.88" y="234.60" width="0.45" height="0.45" fill="#555"/>
<rect x="191.94" y="231.18" width="0.45" height="0.45" fill="#555"/>
<rect x="185.51" y="234.72" width="0.45" height="0.45" fill="#555"/>
<rect x="182.67" y="232.49" width="0.45" height="0.45" fill="#777"/>
<rect x="176.45" y="230.84" width="0.45" height="0.45" fill="#777"/>
<rect x="185.20" y="227.36" width="0.45" height="0.45" fill="#999"/>
<rect x="181.39" y="227.39" width="0.45" height="0.45" fill="#999"/>
<rect x="185.78" y="236.70" width="0.45" height="0.45" fill="#aaa"/>
<rect x="185.86" y="236.16" width="0.45" height="0.45" fill="#999"/>
<rect x="178.50" y="226.95" width="0.45" height="0.45" fill="#555"/>
<rect x="186.44" y="231.98" width="0.45" height="0.45" fill="#555"/>
<rect x="193.24" y="229.56" width="0.45" height="0.45" fill="#777"/>
<rect x="178.79" y="229.27" width="0.45" height="0.45" fill="#555"/>
<rect x="185.84" y="226.72" width="0.45" height="0.45" fill="#555"/>
<rect x="185.40" y="231.82" width="0.45" height="0.45" fill="#999"/>
<rect x="182.84" y="230.51" width="0.45" height="0.45" fill="#aaa"/>
<rect x="185.61" y="233.09" width="0.45" height="0.45" fill="#999"/>
<rect x="177.51" y="228.07" width="0.45" height="0.45" fill="#aaa"/>
<rect x="185.61" y="228.57" width="0.45" height="0.45" fill="#aaa"/>
<rect x="187.07" y="230.21" width="0.45" height="0.45" fill="#999"/>
<rect x="184.44" y="224.86" width="0.45" height="0.45" fill="#555"/>
<rect x="184.86" y="225.20" width="0.45" height="0.45" fill="#555"/>
<rect x="180.83" y="234.29" width="0.45" height="0.45" fill="#aaa"/>
<rect x="186.90" y="233.15" width="0.45" height="0.45" fill="#999"/>
<rect x="177.29" y="231.93" width="0.45" height="0.45" fill="#555"/>
<rect x="201.28" y="231.49" width="0.45" height="0.45" fill="#aaa"/>
<rect x="182.47" y="226.54" width="0.45" height="0.45" fill="#aaa"/>
<rect x="180.07" y="231.31" width="0.45" height="0.45" fill="#aaa"/>
<rect x="183.17" y="233.79" width="0.45" height="0.45" fill="#999"/>
<rect x="179.29" y="230.87" width="0.45" height="0.45" fill="#777"/>
<rect x="182.07" y="231.22" width="0.45" height="0.45" fill="#777"/>
<rect x="180.96" y="236.32" width="0.45" height="0.45" fill="#999"/>
<rect x="185.87" y="229.98" width="0.45" height="0.45" fill="#777"/>
<rect x="179.08" y="225.43" width="0.45" height="0.45" fill="#777"/>
<rect x="179.29" y="227.00" width="0.45" height="0.45" fill="#777"/>
<rect x="195.37" y="232.47" width="0.45" height="0.45" fill="#555"/>
<rect x="194.51" y="225.74" width="0.45" height="0.45" fill="#999"/>
<rect x="187.94" y="230.59" width="0.45" height="0.45" fill="#aaa"/>
<rect x="181.27" y="235.07" width="0.45" height="0.45" fill="#555"/>
<rect x="188.22" y="234.45" width="0.45" height="0.45" fill="#555"/>
<rect x="175.37" y="230.96" width="0.45" height="0.45" fill="#aaa"/>
<rect x="183.27" y="234.52" width="0.45" height="0.45" fill="#999"/>
<rect x="176.85" y="229.55" width="0.45" height="0.45" fill="#999"/>
<rect x="177.62" y="230.56" width="0.45" height="0.45" fill="#777"/>
<rect x="185.10" y="228.95" width="0.45" height="0.45" fill="#999"/>
<rect x="190.80" y="224.92" width="0.45" height="0.45" fill="#999"/>
<rect x="189.52" y="236.56" width="0.45" height="0.45" fill="#aaa"/>
<rect x="175.73" y="226.75" width="0.45" height="0.45" fill="#777"/>
<rect x="184.44" y="228.46" width="0.45" height="0.45" fill="#777"/>
<rect x="178.67" y="231.70" width="0.45" height="0.45" fill="#777"/>
<rect x="187.82" y="232.73" width="0.45" height="0.45" fill="#555"/>
<rect x="179.50" y="228.67" width="0.45" height="0.45" fill="#aaa"/>
<rect x="176.74" y="227.12" width="0.45" height="0.45" fill="#777"/>
<rect x="186.10" y="232.45" width="0.45" height="0.45" fill="#aaa"/>
<rect x="181.84" y="226.69" width="0.45" height="0.45" fill="#999"/>
<rect x="186.41" y="231.77" width="0.45" height="0.45" fill="#aaa"/>
<rect x="180.93" y="231.20" width="0.45" height="0.45" fill="#aaa"/>
<rect x="195.92" y="227.52" width="0.45" height="0.45" fill="#aaa"/>
<rect x="179.87" y="226.11" width="0.45" height="0.45" fill="#aaa"/>
<rect x="194.11" y="231.18" width="0.45" height="0.45" fill="#777"/>
<rect x="182.15" y="225.21" width="0.45" height="0.45" fill="#999"/>
<rect x="176.60" y="234.06" width="0.45" height="0.45" fill="#777"/>
<rect x="183.20" y="232.81" width="0.45" height="0.45" fill="#999"/>
<rect x="184.75" y="229.76" width="0.45" height="0.45" fill="#aaa"/>
<rect x="181.90" y="231.41" width="0.45" height="0.45" fill="#555"/>
<rect x="186.85" y="232.19" width="0.45" height="0.45" fill="#555"/>
<rect x="181.85" y="228.61" width="0.45" height="0.45" fill="#555"/>
<rect x="184.01" y="234.97" width="0.45" height="0.45" fill="#555"/>
<rect x="194.77" y="232.77" width="0.45" height="0.45" fill="#555"/>
<rect x="178.88" y="229.39" width="0.45" height="0.45" fill="#777"/>
<rect x="184.17" y="228.71" width="0.45" height="0.45" fill="#777"/>
<rect x="193.46" y="236.67" width="0.45" height="0.45" fill="#777"/>
<rect x="178.95" y="228.19" width="0.45" height="0.45" fill="#555"/>
<rect x="182.11" y="229.49" width="0.45" height="0.45" fill="#999"/>
<rect x="183.04" y="228.18" width="0.45" height="0.45" fill="#aaa"/>
<rect x="190.17" y="228.48" width="0.45" height="0.45" fill="#aaa"/>
<rect x="187.57" y="230.74" width="0.45" height="0.45" fill="#777"/>
<rect x="180.95" y="227.35" width="0.45" height="0.45" fill="#999"/>
<rect x="184.91" y="232.34" width="0.45" height="0.45" fill="#555"/>
<rect x="189.10" y="228.92" width="0.45" height="0.45" fill="#777"/>
<rect x="187.05" y="231.61" width="0.45" height="0.45" fill="#555"/>
<rect x="175.00" y="235.65" width="0.45" height="0.45" fill="#aaa"/>
<rect x="181.13" y="230.21" width="0.45" height="0.45" fill="#777"/>
<rect x="181.80" y="227.77" width="0.45" height="0.45" fill="#999"/>
<rect x="190.34" y="232.13" width="0.45" height="0.45" fill="#999"/>
<rect x="183.20" y="232.44" width="0.45" height="0.45" fill="#aaa"/>
<rect x="188.43" y="231.29" width="0.45" height="0.45" fill="#555"/>
<rect x="180.71" y="228.95" width="0.45" height="0.45" fill="#777"/>
<rect x="179.32" y="225.51" width="0.45" height="0.45" fill="#777"/>
<rect x="174.96" y="228.30" width="0.45" height="0.45" fill="#555"/>
<rect x="183.47" y="229.29" width="0.45" height="0.45" fill="#999"/>
<rect x="184.49" y="232.17" width="0.45" height="0.45" fill="#555"/>
<rect x="184.49" y="231.71" width="0.45" height="0.45" fill="#999"/>
<rect x="185.23" y="232.53" width="0.45" height="0.45" fill="#999"/>
<rect x="185.65" y="227.43" width="0.45" height="0.45" fill="#999"/>
<rect x="177.62" y="234.13" width="0.45" height="0.45" fill="#777"/>
<rect x="186.06" y="223.10" width="0.45" height="0.45" fill="#777"/>
<rect x="193.50" y="229.92" width="0.45" height="0.45" fill="#555"/>
<rect x="182.45" y="228.10" width="0.45" height="0.45" fill="#999"/>
<rect x="185.60" y="233.50" width="0.45" height="0.45" fill="#777"/>
<rect x="180.78" y="229.92" width="0.45" height="0.45" fill="#aaa"/>
<rect x="189.07" y="231.40" width="0.45" height="0.45" fill="#777"/>
<rect x="183.22" y="233.05" width="0.45" height="0.45" fill="#999"/>
<rect x="185.94" y="229.86" width="0.45" height="0.45" fill="#555"/>
<rect x="181.39" y="230.88" width="0.45" height="0.45" fill="#aaa"/>
<rect x="190.76" y="232.29" width="0.45" height="0.45" fill="#777"/>
<rect x="189.66" y="235.34" width="0.45" height="0.45" fill="#aaa"/>
<rect x="180.00" y="234.51" width="0.45" height="0.45" fill="#555"/>
<rect x="180.94" y="229.75" width="0.45" height="0.45" fill="#999"/>
<rect x="179.78" y="232.57" width="0.45" height="0.45" fill="#777"/>
<rect x="182.80" y="233.29" width="0.45" height="0.45" fill="#aaa"/>
<rect x="174.98" y="209.51" width="0.45" height="0.45" fill="#555"/>
<rect x="174.46" y="232.02" width="0.45" height="0.45" fill="#999"/>
<rect x="166.00" y="227.83" width="0.45" height="0.45" fill="#777"/>
<rect x="170.00" y="216.71" width="0.45" height="0.45" fill="#999"/>
<rect x="177.32" y="238.69" width="0.45" height="0.45" fill="#aaa"/>
<rect x="155.92" y="218.90" width="0.45" height="0.45" fill="#555"/>
<rect x="171.13" y="212.39" width="0.45" height="0.45" fill="#555"/>
<rect x="187.26" y="217.59" width="0.45" height="0.45" fill="#999"/>
<rect x="169.06" y="227.12" width="0.45" height="0.45" fill="#aaa"/>
<rect x="175.31" y="212.01" width="0.45" height="0.45" fill="#aaa"/>
<rect x="168.04" y="229.57" width="0.45" height="0.45" fill="#777"/>
<rect x="161.66" y="235.49" width="0.45" height="0.45" fill="#777"/>
<rect x="173.96" y="214.74" width="0.45" height="0.45" fill="#555"/>
<rect x="163.37" y="231.63" width="0.45" height="0.45" fill="#aaa"/>
<rect x="172.82" y="224.82" width="0.45" height="0.45" fill="#aaa"/>
<rect x="170.08" y="211.62" width="0.45" height="0.45" fill="#777"/>
<rect x="170.01" y="231.54" width="0.45" height="0.45" fill="#777"/>
<rect x="172.61" y="228.65" width="0.45" height="0.45" fill="#777"/>
<rect x="174.12" y="214.02" width="0.45" height="0.45" fill="#777"/>
<rect x="176.53" y="209.33" width="0.45" height="0.45" fill="#aaa"/>
<rect x="168.77" y="233.95" width="0.45" height="0.45" fill="#777"/>
<rect x="172.71" y="230.55" width="0.45" height="0.45" fill="#999"/>
<rect x="163.75" y="234.19" width="0.45" height="0.45" fill="#999"/>
<rect x="164.98" y="222.12" width="0.45" height="0.45" fill="#aaa"/>
<rect x="175.76" y="225.17" width="0.45" height="0.45" fill="#999"/>
<rect x="175.96" y="227.72" width="0.45" height="0.45" fill="#aaa"/>
<rect x="169.98" y="211.66" width="0.45" height="0.45" fill="#aaa"/>
<rect x="164.68" y="231.47" width="0.45" height="0.45" fill="#555"/>
<rect x="185.20" y="222.70" width="0.45" height="0.45" fill="#999"/>
<rect x="166.00" y="236.29" width="0.45" height="0.45" fill="#aaa"/>
<rect x="185.20" y="204.02" width="0.45" height="0.45" fill="#777"/>
<rect x="172.60" y="217.87" width="0.45" height="0.45" fill="#999"/>
<rect x="159.43" y="238.14" width="0.45" height="0.45" fill="#aaa"/>
<rect x="176.40" y="229.55" width="0.45" height="0.45" fill="#aaa"/>
<rect x="173.64" y="233.41" width="0.45" height="0.45" fill="#aaa"/>
<rect x="175.00" y="228.29" width="0.45" height="0.45" fill="#999"/>
<rect x="173.68" y="221.04" width="0.45" height="0.45" fill="#777"/>
<rect x="178.65" y="226.65" width="0.45" height="0.45" fill="#999"/>
<rect x="164.52" y="235.14" width="0.45" height="0.45" fill="#aaa"/>
<rect x="179.68" y="217.62" width="0.45" height="0.45" fill="#777"/>
<rect x="173.58" y="226.33" width="0.45" height="0.45" fill="#999"/>
<rect x="184.93" y="217.84" width="0.45" height="0.45" fill="#555"/>
<rect x="187.28" y="222.18" width="0.45" height="0.45" fill="#777"/>
<rect x="183.95" y="224.58" width="0.45" height="0.45" fill="#999"/>
<rect x="165.94" y="204.66" width="0.45" height="0.45" fill="#777"/>
<rect x="166.94" y="215.32" width="0.45" height="0.45" fill="#999"/>
<rect x="178.16" y="220.74" width="0.45" height="0.45" fill="#aaa"/>
<rect x="190.70" y="221.44" width="0.45" height="0.45" fill="#555"/>
<rect x="179.05" y="212.26" width="0.45" height="0.45" fill="#999"/>
<rect x="176.07" y="226.18" width="0.45" height="0.45" fill="#aaa"/>
<rect x="182.72" y="234.61" width="0.45" height="0.45" fill="#555"/>
<rect x="183.92" y="216.66" width="0.45" height="0.45" fill="#999"/>
<rect x="179.02" y="216.62" width="0.45" height="0.45" fill="#555"/>
<rect x="164.59" y="228.41" width="0.45" height="0.45" fill="#777"/>
<rect x="158.07" y="211.40" width="0.45" height="0.45" fill="#aaa"/>
<rect x="170.76" y="207.83" width="0.45" height="0.45" fill="#999"/>
<rect x="183.57" y="215.60" width="0.45" height="0.45" fill="#aaa"/>
<rect x="184.56" y="232.99" width="0.45" height="0.45" fill="#aaa"/>
<rect x="167.19" y="225.44" width="0.45" height="0.45" fill="#aaa"/>
<rect x="161.32" y="224.70" width="0.45" height="0.45" fill="#999"/>
<rect x="166.99" y="231.95" width="0.45" height="0.45" fill="#555"/>
<rect x="162.77" y="225.89" width="0.45" height="0.45" fill="#777"/>
<rect x="175.27" y="220.60" width="0.45" height="0.45" fill="#aaa"/>
<rect x="172.54" y="237.20" width="0.45" height="0.45" fill="#999"/>
<rect x="160.19" y="209.34" width="0.45" height="0.45" fill="#999"/>
<rect x="169.87" y="213.78" width="0.45" height="0.45" fill="#777"/>
<rect x="167.05" y="229.44" width="0.45" height="0.45" fill="#aaa"/>
<rect x="166.68" y="213.72" width="0.45" height="0.45" fill="#999"/>
<rect x="185.34" y="235.45" width="0.45" height="0.45" fill="#999"/>
<rect x="182.35" y="228.15" width="0.45" height="0.45" fill="#555"/>
<rect x="188.02" y="225.35" width="0.45" height="0.45" fill="#999"/>
<rect x="165.17" y="214.47" width="0.45" height="0.45" fill="#777"/>
<rect x="178.45" y="219.30" width="0.45" height="0.45" fill="#aaa"/>
<rect x="177.20" y="214.38" width="0.45" height="0.45" fill="#777"/>
<rect x="172.26" y="223.19" width="0.45" height="0.45" fill="#555"/>
<rect x="176.02" y="213.59" width="0.45" height="0.45" fill="#999"/>
<rect x="171.97" y="228.55" width="0.45" height="0.45" fill="#777"/>
<rect x="172.92" y="229.50" width="0.45" height="0.45" fill="#999"/>
<rect x="175.98" y="224.14" width="0.45" height="0.45" fill="#777"/>
<rect x="170.47" y="219.65" width="0.45" height="0.45" fill="#555"/>
<rect x="177.36" y="220.13" width="0.45" height="0.45" fill="#999"/>
<rect x="171.66" y="236.95" width="0.45" height="0.45" fill="#777"/>
<rect x="184.64" y="223.80" width="0.45" height="0.45" fill="#777"/>
<rect x="180.88" y="220.10" width="0.45" height="0.45" fill="#aaa"/>
<rect x="157.44" y="219.86" width="0.45" height="0.45" fill="#555"/>
<rect x="177.96" y="218.38" width="0.45" height="0.45" fill="#777"/>
<rect x="181.51" y="222.72" width="0.45" height="0.45" fill="#aaa"/>
<rect x="191.67" y="229.05" width="0.45" height="0.45" fill="#555"/>
<rect x="192.49" y="224.65" width="0.45" height="0.45" fill="#999"/>
<rect x="187.10" y="230.77" width="0.45" height="0.45" fill="#777"/>
<rect x="195.54" y="220.87" width="0.45" height="0.45" fill="#777"/>
<rect x="200.23" y="234.18" width="0.45" height="0.45" fill="#777"/>
<rect x="195.19" y="231.87" width="0.45" height="0.45" fill="#aaa"/>
<rect x="192.52" y="223.51" width="0.45" height="0.45" fill="#999"/>
<rect x="200.62" y="231.28" width="0.45" height="0.45" fill="#555"/>
<rect x="200.89" y="219.29" width="0.45" height="0.45" fill="#555"/>
<rect x="189.78" y="233.43" width="0.45" height="0.45" fill="#555"/>
<rect x="201.31" y="224.16" width="0.45" height="0.45" fill="#999"/>
<rect x="210.17" y="218.53" width="0.45" height="0.45" fill="#aaa"/>
<rect x="205.38" y="232.96" width="0.45" height="0.45" fill="#777"/>
<rect x="181.62" y="229.95" width="0.45" height="0.45" fill="#777"/>
<rect x="180.12" y="220.89" width="0.45" height="0.45" fill="#aaa"/>
<rect x="184.80" y="231.36" width="0.45" height="0.45" fill="#555"/>
<rect x="201.58" y="217.16" width="0.45" height="0.45" fill="#999"/>
<rect x="187.96" y="222.01" width="0.45" height="0.45" fill="#999"/>
<rect x="191.64" y="219.89" width="0.45" height="0.45" fill="#555"/>
<rect x="179.60" y="225.55" width="0.45" height="0.45" fill="#777"/>
<rect x="192.05" y="224.18" width="0.45" height="0.45" fill="#999"/>
<rect x="182.90" y="224.16" width="0.45" height="0.45" fill="#555"/>
<rect x="188.63" y="221.88" width="0.45" height="0.45" fill="#777"/>
<rect x="196.64" y="225.67" width="0.45" height="0.45" fill="#555"/>
<rect x="194.57" y="225.26" width="0.45" height="0.45" fill="#999"/>
<rect x="199.43" y="231.58" width="0.45" height="0.45" fill="#999"/>
<rect x="204.29" y="235.30" width="0.45" height="0.45" fill="#999"/>
<rect x="184.37" y="227.46" width="0.45" height="0.45" fill="#555"/>
<rect x="191.70" y="215.42" width="0.45" height="0.45" fill="#aaa"/>
<rect x="191.40" y="221.65" width="0.45" height="0.45" fill="#aaa"/>
<rect x="201.54" y="227.01" width="0.45" height="0.45" fill="#777"/>
<rect x="191.39" y="230.11" width="0.45" height="0.45" fill="#999"/>
<rect x="199.33" y="219.10" width="0.45" height="0.45" fill="#aaa"/>
<rect x="192.60" y="230.40" width="0.45" height="0.45" fill="#999"/>
<rect x="185.51" y="226.70" width="0.45" height="0.45" fill="#555"/>
<rect x="194.50" y="210.99" width="0.45" height="0.45" fill="#999"/>
<rect x="191.67" y="230.80" width="0.45" height="0.45" fill="#999"/>
<rect x="191.01" y="225.18" width="0.45" height="0.45" fill="#999"/>
<rect x="194.76" y="234.72" width="0.45" height="0.45" fill="#777"/>
<rect x="192.26" y="234.77" width="0.45" height="0.45" fill="#555"/>
<rect x="192.73" y="227.75" width="0.45" height="0.45" fill="#777"/>
<rect x="183.91" y="215.90" width="0.45" height="0.45" fill="#999"/>
<rect x="184.50" y="225.53" width="0.45" height="0.45" fill="#555"/>
<rect x="200.79" y="222.08" width="0.45" height="0.45" fill="#555"/>
<rect x="201.67" y="225.34" width="0.45" height="0.45" fill="#777"/>
<rect x="184.07" y="222.82" width="0.45" height="0.45" fill="#555"/>
<rect x="194.59" y="228.22" width="0.45" height="0.45" fill="#999"/>
<rect x="206.72" y="224.43" width="0.45" height="0.45" fill="#555"/>
<rect x="210.63" y="232.30" width="0.45" height="0.45" fill="#555"/>
<rect x="196.45" y="226.88" width="0.45" height="0.45" fill="#777"/>
<rect x="188.95" y="221.12" width="0.45" height="0.45" fill="#999"/>
<rect x="203.56" y="221.83" width="0.45" height="0.45" fill="#555"/>
<rect x="193.52" y="226.76" width="0.45" height="0.45" fill="#aaa"/>
<rect x="190.72" y="235.58" width="0.45" height="0.45" fill="#999"/>
<rect x="204.57" y="223.88" width="0.45" height="0.45" fill="#777"/>
<rect x="186.91" y="226.14" width="0.45" height="0.45" fill="#777"/>
<rect x="197.03" y="225.55" width="0.45" height="0.45" fill="#aaa"/>
<rect x="195.36" y="228.80" width="0.45" height="0.45" fill="#777"/>
<rect x="213.23" y="236.26" width="0.45" height="0.45" fill="#555"/>
<rect x="181.33" y="214.99" width="0.45" height="0.45" fill="#999"/>
<rect x="179.58" y="227.83" width="0.45" height="0.45" fill="#777"/>
<rect x="191.41" y="227.89" width="0.45" height="0.45" fill="#777"/>
<rect x="180.99" y="222.27" width="0.45" height="0.45" fill="#999"/>
<rect x="184.17" y="230.64" width="0.45" height="0.45" fill="#aaa"/>
<rect x="193.91" y="220.34" width="0.45" height="0.45" fill="#999"/>
<rect x="194.92" y="225.86" width="0.45" height="0.45" fill="#555"/>
<rect x="186.45" y="236.62" width="0.45" height="0.45" fill="#999"/>
<rect x="202.46" y="237.83" width="0.45" height="0.45" fill="#555"/>
<rect x="181.37" y="220.20" width="0.45" height="0.45" fill="#aaa"/>
<rect x="190.53" y="227.69" width="0.45" height="0.45" fill="#555"/>
<rect x="196.67" y="226.05" width="0.45" height="0.45" fill="#aaa"/>
<rect x="185.58" y="226.96" width="0.45" height="0.45" fill="#555"/>
<rect x="191.53" y="232.23" width="0.45" height="0.45" fill="#777"/>
<rect x="202.76" y="220.77" width="0.45" height="0.45" fill="#aaa"/>
<rect x="192.20" y="226.67" width="0.45" height="0.45" fill="#aaa"/>
<rect x="211.70" y="220.69" width="0.45" height="0.45" fill="#555"/>
<rect x="200.14" y="232.13" width="0.45" height="0.45" fill="#777"/>
<rect x="182.24" y="219.18" width="0.45" height="0.45" fill="#777"/>
<rect x="196.76" y="224.78" width="0.45" height="0.45" fill="#aaa"/>
<rect x="203.74" y="215.26" width="0.45" height="0.45" fill="#777"/>
<rect x="196.29" y="230.72" width="0.45" height="0.45" fill="#999"/>
<rect x="202.19" y="234.96" width="0.45" height="0.45" fill="#999"/>
<rect x="194.97" y="225.09" width="0.45" height="0.45" fill="#777"/>
<rect x="188.07" y="215.65" width="0.45" height="0.45" fill="#999"/>
<rect x="185.53" y="233.68" width="0.45" height="0.45" fill="#777"/>
<rect x="194.71" y="225.83" width="0.45" height="0.45" fill="#aaa"/>
<rect x="197.27" y="227.11" width="0.45" height="0.45" fill="#555"/>
<rect x="188.32" y="221.67" width="0.45" height="0.45" fill="#555"/>
<rect x="186.55" y="220.03" width="0.45" height="0.45" fill="#777"/>
<rect x="186.07" y="224.35" width="0.45" height="0.45" fill="#999"/>
<rect x="199.42" y="226.73" width="0.45" height="0.45" fill="#555"/>
<rect x="206.12" y="219.23" width="0.45" height="0.45" fill="#aaa"/>
<rect x="191.53" y="223.04" width="0.45" height="0.45" fill="#999"/>
<rect x="199.45" y="225.65" width="0.45" height="0.45" fill="#aaa"/>
<rect x="187.60" y="223.54" width="0.45" height="0.45" fill="#999"/>
<rect x="192.00" y="219.12" width="0.45" height="0.45" fill="#999"/>
<rect x="188.33" y="220.79" width="0.45" height="0.45" fill="#777"/>
<rect x="189.55" y="232.55" width="0.45" height="0.45" fill="#aaa"/>
<rect x="201.02" y="227.36" width="0.45" height="0.45" fill="#aaa"/>
<rect x="185.19" y="231.58" width="0.45" height="0.45" fill="#999"/>
<rect x="212.23" y="217.70" width="0.45" height="0.45" fill="#aaa"/>
<rect x="193.68" y="222.30" width="0.45" height="0.45" fill="#777"/>
<rect x="191.61" y="216.77" width="0.45" height="0.45" fill="#aaa"/>
<rect x="204.93" y="236.64" width="0.45" height="0.45" fill="#555"/>
<rect x="198.79" y="227.23" width="0.45" height="0.45" fill="#999"/>
<rect x="194.97" y="228.30" width="0.45" height="0.45" fill="#aaa"/>
<rect x="202.34" y="221.25" width="0.45" height="0.45" fill="#999"/>
<rect x="186.98" y="221.40" width="0.45" height="0.45" fill="#555"/>
<rect x="183.71" y="225.83" width="0.45" height="0.45" fill="#555"/>
<rect x="181.01" y="226.30" width="0.45" height="0.45" fill="#999"/>
<rect x="201.63" y="226.76" width="0.45" height="0.45" fill="#777"/>
<rect x="201.67" y="220.84" width="0.45" height="0.45" fill="#999"/>
<rect x="187.45" y="229.14" width="0.45" height="0.45" fill="#aaa"/>
<rect x="194.54" y="227.83" width="0.45" height="0.45" fill="#999"/>
<rect x="191.43" y="232.54" width="0.45" height="0.45" fill="#555"/>
<rect x="198.81" y="235.84" width="0.45" height="0.45" fill="#aaa"/>
<rect x="194.58" y="227.36" width="0.45" height="0.45" fill="#aaa"/>
<rect x="201.99" y="221.71" width="0.45" height="0.45" fill="#aaa"/>
<rect x="197.63" y="229.33" width="0.45" height="0.45" fill="#aaa"/>
<rect x="196.98" y="226.03" width="0.45" height="0.45" fill="#555"/>
<rect x="193.42" y="229.90" width="0.45" height="0.45" fill="#777"/>
<rect x="182.65" y="228.37" width="0.45" height="0.45" fill="#777"/>
<rect x="184.63" y="227.97" width="0.45" height="0.45" fill="#555"/>
<rect x="179.90" y="231.36" width="0.45" height="0.45" fill="#aaa"/>
<rect x="205.59" y="224.26" width="0.45" height="0.45" fill="#777"/>
<rect x="192.89" y="226.69" width="0.45" height="0.45" fill="#999"/>
<rect x="205.63" y="217.24" width="0.45" height="0.45" fill="#777"/>
<rect x="199.10" y="225.78" width="0.45" height="0.45" fill="#999"/>
<rect x="189.79" y="228.28" width="0.45" height="0.45" fill="#aaa"/>
<rect x="191.81" y="225.53" width="0.45" height="0.45" fill="#777"/>
<rect x="203.14" y="237.79" width="0.45" height="0.45" fill="#999"/>
<rect x="183.83" y="223.50" width="0.45" height="0.45" fill="#999"/>
<rect x="190.31" y="217.35" width="0.45" height="0.45" fill="#aaa"/>
<rect x="192.83" y="222.81" width="0.45" height="0.45" fill="#555"/>
<rect x="205.03" y="231.14" width="0.45" height="0.45" fill="#999"/>
<rect x="183.23" y="218.51" width="0.45" height="0.45" fill="#777"/>
<rect x="194.52" y="224.09" width="0.45" height="0.45" fill="#aaa"/>
<rect x="191.70" y="225.75" width="0.45" height="0.45" fill="#999"/>
<rect x="197.13" y="232.27" width="0.45" height="0.45" fill="#aaa"/>
<rect x="188.07" y="223.60" width="0.45" height="0.45" fill="#aaa"/>
<rect x="200.27" y="228.87" width="0.45" height="0.45" fill="#aaa"/>
<rect x="181.39" y="224.47" width="0.45" height="0.45" fill="#999"/>
<rect x="192.18" y="224.31" width="0.45" height="0.45" fill="#999"/>
<rect x="190.63" y="232.48" width="0.45" height="0.45" fill="#555"/>
<rect x="194.32" y="230.63" width="0.45" height="0.45" fill="#555"/>
<rect x="176.39" y="225.04" width="0.45" height="0.45" fill="#555"/>
<rect x="185.16" y="228.29" width="0.45" height="0.45" fill="#999"/>
<rect x="193.09" y="222.63" width="0.45" height="0.45" fill="#555"/>
<rect x="180.77" y="231.42" width="0.45" height="0.45" fill="#777"/>
<rect x="202.43" y="228.34" width="0.45" height="0.45" fill="#999"/>
<rect x="201.04" y="220.59" width="0.45" height="0.45" fill="#555"/>
<rect x="204.97" y="225.09" width="0.45" height="0.45" fill="#777"/>
<rect x="183.85" y="230.15" width="0.45" height="0.45" fill="#999"/>
<rect x="196.38" y="226.94" width="0.45" height="0.45" fill="#aaa"/>
<rect x="198.37" y="229.04" width="0.45" height="0.45" fill="#999"/>
<rect x="187.61" y="229.66" width="0.45" height="0.45" fill="#555"/>
<rect x="200.34" y="224.51" width="0.45" height="0.45" fill="#555"/>
<rect x="208.29" y="222.95" width="0.45" height="0.45" fill="#777"/>
<defs><radialGradient id="gb22" cx="0.5" cy="0.52" r="0.5"><stop offset="0" stop-color="#f2f2f2"/><stop offset="0.12" stop-color="#d0d0d0"/><stop offset="0.3" stop-color="#a2a2a2"/><stop offset="0.65" stop-color="#989898"/><stop offset="0.88" stop-color="#b4b4b4"/><stop offset="1" stop-color="#e0e0e0" stop-opacity="0.4"/></radialGradient></defs>
<ellipse cx="167.2" cy="226.0" rx="9.8" ry="12.8" fill="url(#gb22)"/>
<rect x="171.1" y="224.6" width="0.5" height="0.5" fill="#8a8a8a"/>
<rect x="161.7" y="219.9" width="0.5" height="0.5" fill="#f4f4f4"/>
<rect x="173.5" y="233.8" width="0.5" height="0.5" fill="#b0b0b0"/>
<rect x="168.0" y="222.2" width="0.5" height="0.5" fill="#b0b0b0"/>
<rect x="173.1" y="224.0" width="0.5" height="0.5" fill="#dedede"/>
<rect x="170.6" y="235.4" width="0.5" height="0.5" fill="#f4f4f4"/>
<rect x="175.3" y="220.5" width="0.5" height="0.5" fill="#8a8a8a"/>
<rect x="165.8" y="225.0" width="0.5" height="0.5" fill="#b0b0b0"/>
<rect x="165.5" y="231.7" width="0.5" height="0.5" fill="#8a8a8a"/>
<rect x="158.1" y="219.2" width="0.5" height="0.5" fill="#dedede"/>
<rect x="172.9" y="229.0" width="0.5" height="0.5" fill="#b0b0b0"/>
<rect x="166.6" y="239.8" width="0.5" height="0.5" fill="#b0b0b0"/>
<rect x="175.4" y="218.3" width="0.5" height="0.5" fill="#f4f4f4"/>
<rect x="161.5" y="225.3" width="0.5" height="0.5" fill="#b0b0b0"/>
<rect x="164.9" y="220.7" width="0.5" height="0.5" fill="#8a8a8a"/>
<rect x="161.6" y="237.2" width="0.5" height="0.5" fill="#c8c8c8"/>
<rect x="174.0" y="221.5" width="0.5" height="0.5" fill="#dedede"/>
<rect x="172.2" y="220.0" width="0.5" height="0.5" fill="#9c9c9c"/>
<rect x="164.9" y="234.1" width="0.5" height="0.5" fill="#dedede"/>
<rect x="175.3" y="227.7" width="0.5" height="0.5" fill="#dedede"/>
<rect x="160.4" y="223.5" width="0.5" height="0.5" fill="#f4f4f4"/>
<rect x="172.9" y="220.6" width="0.5" height="0.5" fill="#8a8a8a"/>
<rect x="173.6" y="225.8" width="0.5" height="0.5" fill="#c8c8c8"/>
<rect x="167.7" y="222.7" width="0.5" height="0.5" fill="#9c9c9c"/>
<rect x="160.4" y="225.3" width="0.5" height="0.5" fill="#8a8a8a"/>
<rect x="162.6" y="227.6" width="0.5" height="0.5" fill="#8a8a8a"/>
<rect x="161.1" y="223.6" width="0.5" height="0.5" fill="#b0b0b0"/>
<rect x="174.4" y="220.0" width="0.5" height="0.5" fill="#c8c8c8"/>
<rect x="174.9" y="228.4" width="0.5" height="0.5" fill="#f4f4f4"/>
<rect x="166.6" y="214.6" width="0.5" height="0.5" fill="#8a8a8a"/>
<rect x="173.7" y="228.9" width="0.5" height="0.5" fill="#9c9c9c"/>
<rect x="173.6" y="221.5" width="0.5" height="0.5" fill="#8a8a8a"/>
<rect x="159.4" y="226.1" width="0.5" height="0.5" fill="#dedede"/>
<rect x="165.3" y="237.4" width="0.5" height="0.5" fill="#c8c8c8"/>
<rect x="164.5" y="226.5" width="0.5" height="0.5" fill="#f4f4f4"/>
<rect x="161.4" y="235.9" width="0.5" height="0.5" fill="#dedede"/>
<rect x="167.0" y="230.9" width="0.5" height="0.5" fill="#9c9c9c"/>
<rect x="158.6" y="226.0" width="0.5" height="0.5" fill="#b0b0b0"/>
<rect x="174.2" y="232.4" width="0.5" height="0.5" fill="#dedede"/>
<rect x="162.1" y="228.9" width="0.5" height="0.5" fill="#8a8a8a"/>
<rect x="171.4" y="228.8" width="0.5" height="0.5" fill="#f4f4f4"/>
<rect x="170.9" y="230.4" width="0.5" height="0.5" fill="#b0b0b0"/>
<rect x="164.4" y="226.3" width="0.5" height="0.5" fill="#8a8a8a"/>
<rect x="166.6" y="230.3" width="0.5" height="0.5" fill="#c8c8c8"/>
<rect x="162.2" y="219.9" width="0.5" height="0.5" fill="#8a8a8a"/>
<rect x="166.2" y="212.5" width="0.5" height="0.5" fill="#9c9c9c"/>
<rect x="173.6" y="228.1" width="0.5" height="0.5" fill="#dedede"/>
<rect x="172.0" y="227.3" width="0.5" height="0.5" fill="#c8c8c8"/>
<rect x="165.6" y="223.7" width="0.5" height="0.5" fill="#f4f4f4"/>
<rect x="165.7" y="216.6" width="0.5" height="0.5" fill="#9c9c9c"/>
<rect x="170.0" y="223.0" width="0.5" height="0.5" fill="#8a8a8a"/>
<rect x="174.6" y="221.5" width="0.5" height="0.5" fill="#9c9c9c"/>
<rect x="173.9" y="218.8" width="0.5" height="0.5" fill="#8a8a8a"/>
<rect x="171.4" y="227.0" width="0.5" height="0.5" fill="#b0b0b0"/>
<rect x="174.5" y="228.6" width="0.5" height="0.5" fill="#8a8a8a"/>
<rect x="165.6" y="238.2" width="0.5" height="0.5" fill="#9c9c9c"/>
<rect x="160.0" y="215.7" width="0.5" height="0.5" fill="#f4f4f4"/>
<rect x="168.0" y="236.2" width="0.5" height="0.5" fill="#9c9c9c"/>
<rect x="163.8" y="231.7" width="0.5" height="0.5" fill="#f4f4f4"/>
<rect x="173.8" y="226.5" width="0.5" height="0.5" fill="#f4f4f4"/>
<rect x="174.9" y="234.1" width="0.5" height="0.5" fill="#dedede"/>
<rect x="161.0" y="223.3" width="0.5" height="0.5" fill="#dedede"/>
<rect x="166.7" y="233.1" width="0.5" height="0.5" fill="#dedede"/>
<rect x="172.5" y="236.8" width="0.5" height="0.5" fill="#dedede"/>
<rect x="159.6" y="226.3" width="0.5" height="0.5" fill="#9c9c9c"/>
<rect x="171.8" y="225.0" width="0.5" height="0.5" fill="#c8c8c8"/>
<rect x="161.6" y="237.0" width="0.5" height="0.5" fill="#8a8a8a"/>
<rect x="160.6" y="233.4" width="0.5" height="0.5" fill="#9c9c9c"/>
<rect x="166.4" y="222.0" width="0.5" height="0.5" fill="#c8c8c8"/>
<rect x="165.9" y="228.8" width="0.5" height="0.5" fill="#dedede"/>
<rect x="171.3" y="225.0" width="0.5" height="0.5" fill="#dedede"/>
<rect x="160.4" y="236.5" width="0.5" height="0.5" fill="#8a8a8a"/>
<rect x="157.9" y="223.9" width="0.5" height="0.5" fill="#8a8a8a"/>
<rect x="173.0" y="232.6" width="0.5" height="0.5" fill="#8a8a8a"/>
<rect x="170.6" y="214.0" width="0.5" height="0.5" fill="#8a8a8a"/>
<rect x="157.9" y="220.2" width="0.5" height="0.5" fill="#b0b0b0"/>
<rect x="156.8" y="225.6" width="0.5" height="0.5" fill="#c8c8c8"/>
<rect x="160.2" y="221.4" width="0.5" height="0.5" fill="#dedede"/>
<rect x="161.9" y="238.1" width="0.5" height="0.5" fill="#f4f4f4"/>
<rect x="172.1" y="228.2" width="0.5" height="0.5" fill="#dedede"/>
<rect x="163.7" y="219.5" width="0.5" height="0.5" fill="#b0b0b0"/>
<rect x="172.5" y="226.1" width="0.5" height="0.5" fill="#8a8a8a"/>
<rect x="172.5" y="222.5" width="0.5" height="0.5" fill="#8a8a8a"/>
<rect x="170.5" y="224.2" width="0.5" height="0.5" fill="#c8c8c8"/>
<rect x="171.9" y="214.0" width="0.5" height="0.5" fill="#9c9c9c"/>
<rect x="160.3" y="227.3" width="0.5" height="0.5" fill="#b0b0b0"/>
<rect x="171.6" y="232.9" width="0.5" height="0.5" fill="#9c9c9c"/>
<rect x="157.4" y="222.6" width="0.5" height="0.5" fill="#b0b0b0"/>
<rect x="173.2" y="220.5" width="0.5" height="0.5" fill="#b0b0b0"/>
<rect x="162.2" y="225.4" width="0.5" height="0.5" fill="#9c9c9c"/>
<rect x="171.3" y="215.0" width="0.5" height="0.5" fill="#dedede"/>
<rect x="168.7" y="228.4" width="0.5" height="0.5" fill="#9c9c9c"/>
<rect x="168.8" y="221.7" width="0.5" height="0.5" fill="#c8c8c8"/>
<rect x="165.2" y="231.1" width="0.5" height="0.5" fill="#c8c8c8"/>
<rect x="172.9" y="229.5" width="0.5" height="0.5" fill="#c8c8c8"/>
<rect x="173.1" y="234.5" width="0.5" height="0.5" fill="#c8c8c8"/>
<rect x="160.0" y="230.2" width="0.5" height="0.5" fill="#c8c8c8"/>
<rect x="163.4" y="214.3" width="0.5" height="0.5" fill="#f4f4f4"/>
<rect x="162.6" y="228.4" width="0.5" height="0.5" fill="#f4f4f4"/>
<rect x="170.3" y="226.3" width="0.5" height="0.5" fill="#9c9c9c"/>
<rect x="172.4" y="215.8" width="0.5" height="0.5" fill="#8a8a8a"/>
<rect x="168.7" y="235.5" width="0.5" height="0.5" fill="#f4f4f4"/>
<rect x="166.8" y="231.0" width="0.5" height="0.5" fill="#9c9c9c"/>
<rect x="162.1" y="222.0" width="0.5" height="0.5" fill="#9c9c9c"/>
<rect x="163.1" y="222.8" width="0.5" height="0.5" fill="#b0b0b0"/>
<rect x="166.7" y="216.6" width="0.5" height="0.5" fill="#f4f4f4"/>
<rect x="170.3" y="234.0" width="0.5" height="0.5" fill="#c8c8c8"/>
<rect x="158.0" y="221.6" width="0.5" height="0.5" fill="#b0b0b0"/>
<rect x="168.0" y="219.7" width="0.5" height="0.5" fill="#9c9c9c"/>
<rect x="168.4" y="236.1" width="0.5" height="0.5" fill="#f4f4f4"/>
<rect x="166.6" y="228.9" width="0.5" height="0.5" fill="#9c9c9c"/>
<rect x="163.1" y="221.6" width="0.5" height="0.5" fill="#c8c8c8"/>
<rect x="169.2" y="217.8" width="0.5" height="0.5" fill="#8a8a8a"/>
<rect x="162.7" y="222.7" width="0.5" height="0.5" fill="#c8c8c8"/>
<rect x="159.7" y="235.8" width="0.5" height="0.5" fill="#9c9c9c"/>
<rect x="175.2" y="229.1" width="0.5" height="0.5" fill="#b0b0b0"/>
<rect x="165.1" y="222.2" width="0.5" height="0.5" fill="#f4f4f4"/>
<rect x="156.9" y="225.2" width="0.5" height="0.5" fill="#c8c8c8"/>
<rect x="171.7" y="232.3" width="0.5" height="0.5" fill="#f4f4f4"/>
<rect x="167.1" y="224.4" width="0.5" height="0.5" fill="#9c9c9c"/>
<rect x="158.2" y="230.6" width="0.5" height="0.5" fill="#9c9c9c"/>
<rect x="162.9" y="226.6" width="0.5" height="0.5" fill="#dedede"/>
<rect x="169.0" y="229.8" width="0.5" height="0.5" fill="#b0b0b0"/>
<rect x="170.4" y="230.0" width="0.5" height="0.5" fill="#f4f4f4"/>
<rect x="173.8" y="231.0" width="0.5" height="0.5" fill="#b0b0b0"/>
<rect x="164.1" y="216.5" width="0.5" height="0.5" fill="#b0b0b0"/>
<rect x="164.5" y="215.9" width="0.5" height="0.5" fill="#9c9c9c"/>
<rect x="172.5" y="216.1" width="0.5" height="0.5" fill="#f4f4f4"/>
<rect x="170.8" y="227.5" width="0.5" height="0.5" fill="#8a8a8a"/>
<rect x="175.0" y="226.6" width="0.5" height="0.5" fill="#c8c8c8"/>
<rect x="162.8" y="220.2" width="0.5" height="0.5" fill="#c8c8c8"/>
<rect x="167.5" y="221.7" width="0.5" height="0.5" fill="#c8c8c8"/>
<rect x="166.5" y="236.6" width="0.5" height="0.5" fill="#dedede"/>
<rect x="163.4" y="224.0" width="0.5" height="0.5" fill="#b0b0b0"/>
<rect x="174.1" y="221.5" width="0.5" height="0.5" fill="#8a8a8a"/>
<rect x="164.3" y="216.4" width="0.5" height="0.5" fill="#9c9c9c"/>
<rect x="158.1" y="230.4" width="0.5" height="0.5" fill="#8a8a8a"/>
<rect x="160.8" y="228.6" width="0.5" height="0.5" fill="#8a8a8a"/>
<rect x="166.1" y="227.8" width="0.5" height="0.5" fill="#c8c8c8"/>
<rect x="162.8" y="230.9" width="0.5" height="0.5" fill="#dedede"/>
<rect x="157.7" y="220.9" width="0.5" height="0.5" fill="#b0b0b0"/>
<rect x="170.8" y="226.0" width="0.5" height="0.5" fill="#c8c8c8"/>
<rect x="169.7" y="218.8" width="0.5" height="0.5" fill="#9c9c9c"/>
<rect x="163.0" y="227.6" width="0.5" height="0.5" fill="#8a8a8a"/>
<rect x="171.9" y="225.7" width="0.5" height="0.5" fill="#c8c8c8"/>
<rect x="167.7" y="213.5" width="0.5" height="0.5" fill="#f4f4f4"/>
<rect x="165.6" y="236.8" width="0.5" height="0.5" fill="#b0b0b0"/>
<rect x="166.5" y="217.5" width="0.5" height="0.5" fill="#8a8a8a"/>
<rect x="157.3" y="221.0" width="0.5" height="0.5" fill="#9c9c9c"/>
<rect x="169.7" y="234.2" width="0.5" height="0.5" fill="#8a8a8a"/>
<rect x="170.7" y="214.5" width="0.5" height="0.5" fill="#b0b0b0"/>
<rect x="167.1" y="224.5" width="0.5" height="0.5" fill="#c8c8c8"/>
<rect x="157.2" y="223.9" width="0.5" height="0.5" fill="#c8c8c8"/>
<rect x="169.0" y="232.0" width="0.5" height="0.5" fill="#f4f4f4"/>
<rect x="163.5" y="238.1" width="0.5" height="0.5" fill="#c8c8c8"/>
<rect x="171.9" y="231.6" width="0.5" height="0.5" fill="#8a8a8a"/>
<rect x="160.4" y="215.5" width="0.5" height="0.5" fill="#c8c8c8"/>
<rect x="169.8" y="232.3" width="0.5" height="0.5" fill="#9c9c9c"/>
<rect x="168.9" y="215.2" width="0.5" height="0.5" fill="#f4f4f4"/>
<rect x="158.7" y="231.3" width="0.5" height="0.5" fill="#b0b0b0"/>
<rect x="169.8" y="229.9" width="0.5" height="0.5" fill="#b0b0b0"/>
<rect x="177.3" y="223.5" width="0.5" height="0.5" fill="#f4f4f4"/>
<rect x="161.6" y="235.4" width="0.5" height="0.5" fill="#b0b0b0"/>
<rect x="160.6" y="218.4" width="0.5" height="0.5" fill="#f4f4f4"/>
<rect x="159.2" y="234.4" width="0.5" height="0.5" fill="#9c9c9c"/>
<rect x="164.6" y="222.1" width="0.5" height="0.5" fill="#b0b0b0"/>
<rect x="167.0" y="239.8" width="0.5" height="0.5" fill="#f4f4f4"/>
<rect x="167.5" y="229.1" width="0.5" height="0.5" fill="#c8c8c8"/>
<rect x="170.2" y="219.4" width="0.5" height="0.5" fill="#8a8a8a"/>
<rect x="159.0" y="232.1" width="0.5" height="0.5" fill="#8a8a8a"/>
<rect x="167.1" y="224.0" width="0.5" height="0.5" fill="#f4f4f4"/>
<rect x="168.9" y="216.4" width="0.5" height="0.5" fill="#c8c8c8"/>
<rect x="159.6" y="232.1" width="0.5" height="0.5" fill="#dedede"/>
<rect x="167.6" y="220.1" width="0.5" height="0.5" fill="#b0b0b0"/>
<rect x="171.3" y="227.6" width="0.5" height="0.5" fill="#8a8a8a"/>
<rect x="167.5" y="216.6" width="0.5" height="0.5" fill="#dedede"/>
<rect x="160.7" y="225.7" width="0.5" height="0.5" fill="#9c9c9c"/>
<rect x="166.3" y="233.9" width="0.5" height="0.5" fill="#f4f4f4"/>
<rect x="169.8" y="227.0" width="0.5" height="0.5" fill="#f4f4f4"/>
<rect x="173.1" y="227.2" width="0.5" height="0.5" fill="#dedede"/>
<rect x="164.7" y="229.2" width="0.5" height="0.5" fill="#c8c8c8"/>
<rect x="159.6" y="225.0" width="0.5" height="0.5" fill="#b0b0b0"/>
<rect x="173.0" y="232.4" width="0.5" height="0.5" fill="#b0b0b0"/>
<rect x="163.1" y="230.5" width="0.5" height="0.5" fill="#9c9c9c"/>
<rect x="172.1" y="230.3" width="0.5" height="0.5" fill="#dedede"/>
<rect x="165.7" y="213.4" width="0.5" height="0.5" fill="#c8c8c8"/>
<rect x="164.7" y="232.5" width="0.5" height="0.5" fill="#b0b0b0"/>
<rect x="165.4" y="212.4" width="0.5" height="0.5" fill="#b0b0b0"/>
<rect x="168.3" y="212.1" width="0.5" height="0.5" fill="#b0b0b0"/>
<rect x="169.8" y="219.3" width="0.5" height="0.5" fill="#b0b0b0"/>
<rect x="176.6" y="223.4" width="0.5" height="0.5" fill="#c8c8c8"/>
<rect x="162.9" y="224.2" width="0.5" height="0.5" fill="#f4f4f4"/>
<rect x="170.7" y="229.2" width="0.5" height="0.5" fill="#9c9c9c"/>
<rect x="168.2" y="219.3" width="0.5" height="0.5" fill="#c8c8c8"/>
<rect x="161.7" y="215.5" width="0.5" height="0.5" fill="#c8c8c8"/>
<rect x="170.3" y="217.0" width="0.5" height="0.5" fill="#dedede"/>
<rect x="174.3" y="224.3" width="0.5" height="0.5" fill="#b0b0b0"/>
<rect x="170.7" y="224.7" width="0.5" height="0.5" fill="#b0b0b0"/>
<rect x="163.0" y="213.5" width="0.5" height="0.5" fill="#dedede"/>
<rect x="161.7" y="220.1" width="0.5" height="0.5" fill="#b0b0b0"/>
<rect x="175.5" y="225.1" width="0.5" height="0.5" fill="#dedede"/>
<rect x="173.8" y="223.7" width="0.5" height="0.5" fill="#9c9c9c"/>
<rect x="167.8" y="217.4" width="0.5" height="0.5" fill="#8a8a8a"/>
<rect x="165.7" y="212.4" width="0.5" height="0.5" fill="#f4f4f4"/>
<rect x="169.8" y="222.8" width="0.5" height="0.5" fill="#8a8a8a"/>
<rect x="166.3" y="217.8" width="0.5" height="0.5" fill="#f4f4f4"/>
<rect x="173.6" y="215.6" width="0.5" height="0.5" fill="#c8c8c8"/>
<rect x="164.9" y="219.2" width="0.5" height="0.5" fill="#c8c8c8"/>
<rect x="172.6" y="226.5" width="0.5" height="0.5" fill="#b0b0b0"/>
<rect x="164.8" y="226.7" width="0.5" height="0.5" fill="#9c9c9c"/>
<rect x="173.6" y="225.2" width="0.5" height="0.5" fill="#8a8a8a"/>
<rect x="164.9" y="225.6" width="0.5" height="0.5" fill="#8a8a8a"/>
<rect x="176.4" y="228.0" width="0.5" height="0.5" fill="#c8c8c8"/>
<rect x="176.4" y="223.7" width="0.5" height="0.5" fill="#dedede"/>
<rect x="163.5" y="216.5" width="0.5" height="0.5" fill="#9c9c9c"/>
<rect x="159.0" y="225.3" width="0.5" height="0.5" fill="#8a8a8a"/>
<rect x="171.1" y="220.0" width="0.5" height="0.5" fill="#c8c8c8"/>
<rect x="162.0" y="238.0" width="0.5" height="0.5" fill="#f4f4f4"/>
<rect x="170.2" y="227.2" width="0.5" height="0.5" fill="#f4f4f4"/>
<rect x="169.1" y="220.3" width="0.5" height="0.5" fill="#dedede"/>
<rect x="170.7" y="234.9" width="0.5" height="0.5" fill="#f4f4f4"/>
<rect x="168.2" y="236.6" width="0.5" height="0.5" fill="#b0b0b0"/>
<rect x="166.1" y="233.2" width="0.5" height="0.5" fill="#b0b0b0"/>
<rect x="169.8" y="216.1" width="0.5" height="0.5" fill="#b0b0b0"/>
<rect x="162.9" y="231.2" width="0.5" height="0.5" fill="#dedede"/>
<rect x="162.7" y="230.4" width="0.5" height="0.5" fill="#b0b0b0"/>
<rect x="169.3" y="224.6" width="0.5" height="0.5" fill="#b0b0b0"/>
<rect x="163.3" y="216.1" width="0.5" height="0.5" fill="#f4f4f4"/>
<rect x="174.5" y="221.0" width="0.5" height="0.5" fill="#9c9c9c"/>
<rect x="173.6" y="226.0" width="0.5" height="0.5" fill="#f4f4f4"/>
<rect x="167.0" y="215.8" width="0.5" height="0.5" fill="#8a8a8a"/>
<rect x="164.1" y="223.1" width="0.5" height="0.5" fill="#dedede"/>
<rect x="162.5" y="228.2" width="0.5" height="0.5" fill="#8a8a8a"/>
<rect x="172.7" y="237.1" width="0.5" height="0.5" fill="#8a8a8a"/>
<rect x="173.2" y="232.5" width="0.5" height="0.5" fill="#dedede"/>
<rect x="166.8" y="215.2" width="0.5" height="0.5" fill="#b0b0b0"/>
<rect x="168.5" y="227.1" width="0.5" height="0.5" fill="#b0b0b0"/>
<rect x="172.5" y="223.7" width="0.5" height="0.5" fill="#8a8a8a"/>
<rect x="177.0" y="224.9" width="0.5" height="0.5" fill="#dedede"/>
<rect x="166.3" y="233.6" width="0.5" height="0.5" fill="#dedede"/>
<rect x="170.5" y="219.1" width="0.5" height="0.5" fill="#9c9c9c"/>
<rect x="168.5" y="219.1" width="0.5" height="0.5" fill="#8a8a8a"/>
<rect x="162.3" y="232.2" width="0.5" height="0.5" fill="#8a8a8a"/>
<rect x="172.8" y="218.8" width="0.5" height="0.5" fill="#c8c8c8"/>
<rect x="166.9" y="221.8" width="0.5" height="0.5" fill="#b0b0b0"/>
<rect x="167.7" y="214.8" width="0.5" height="0.5" fill="#b0b0b0"/>
<rect x="166.2" y="220.1" width="0.5" height="0.5" fill="#f4f4f4"/>
<rect x="170.4" y="230.7" width="0.5" height="0.5" fill="#dedede"/>
<rect x="164.1" y="213.2" width="0.5" height="0.5" fill="#dedede"/>
<rect x="169.1" y="235.4" width="0.5" height="0.5" fill="#8a8a8a"/>
<rect x="160.3" y="226.8" width="0.5" height="0.5" fill="#dedede"/>
<rect x="159.6" y="230.9" width="0.5" height="0.5" fill="#c8c8c8"/>
<rect x="172.0" y="221.1" width="0.5" height="0.5" fill="#8a8a8a"/>
<rect x="168.5" y="235.7" width="0.5" height="0.5" fill="#f4f4f4"/>
<rect x="160.7" y="231.9" width="0.5" height="0.5" fill="#9c9c9c"/>
<rect x="161.9" y="218.4" width="0.5" height="0.5" fill="#f4f4f4"/>
<rect x="175.4" y="217.3" width="0.5" height="0.5" fill="#9c9c9c"/>
<rect x="165.5" y="213.8" width="0.5" height="0.5" fill="#f4f4f4"/>
<rect x="165.0" y="217.6" width="0.5" height="0.5" fill="#c8c8c8"/>
<rect x="157.6" y="227.3" width="0.5" height="0.5" fill="#8a8a8a"/>
<rect x="172.1" y="223.1" width="0.5" height="0.5" fill="#dedede"/>
<rect x="168.9" y="222.1" width="0.5" height="0.5" fill="#8a8a8a"/>
<rect x="164.0" y="220.4" width="0.5" height="0.5" fill="#dedede"/>
<rect x="160.9" y="229.6" width="0.5" height="0.5" fill="#dedede"/>
<rect x="160.1" y="230.5" width="0.5" height="0.5" fill="#9c9c9c"/>
<rect x="171.7" y="218.7" width="0.5" height="0.5" fill="#b0b0b0"/>
<rect x="164.3" y="215.0" width="0.5" height="0.5" fill="#9c9c9c"/>
<rect x="172.7" y="219.5" width="0.5" height="0.5" fill="#b0b0b0"/>
<rect x="175.5" y="228.8" width="0.5" height="0.5" fill="#9c9c9c"/>
<rect x="173.6" y="228.3" width="0.5" height="0.5" fill="#f4f4f4"/>
<rect x="164.3" y="224.8" width="0.5" height="0.5" fill="#8a8a8a"/>
<rect x="166.1" y="227.3" width="0.5" height="0.5" fill="#c8c8c8"/>
<rect x="162.8" y="233.9" width="0.5" height="0.5" fill="#dedede"/>
<rect x="165.5" y="227.8" width="0.5" height="0.5" fill="#dedede"/>
<rect x="166.2" y="220.5" width="0.5" height="0.5" fill="#f4f4f4"/>
<rect x="170.6" y="235.0" width="0.5" height="0.5" fill="#dedede"/>
<rect x="158.8" y="223.9" width="0.5" height="0.5" fill="#f4f4f4"/>
<rect x="173.0" y="234.4" width="0.5" height="0.5" fill="#c8c8c8"/>
<rect x="177.9" y="224.7" width="0.5" height="0.5" fill="#8a8a8a"/>
<rect x="159.0" y="229.7" width="0.5" height="0.5" fill="#b0b0b0"/>
<rect x="162.5" y="226.2" width="0.5" height="0.5" fill="#dedede"/>
<rect x="174.5" y="223.0" width="0.5" height="0.5" fill="#8a8a8a"/>
<rect x="175.6" y="220.6" width="0.5" height="0.5" fill="#9c9c9c"/>
<rect x="163.3" y="223.9" width="0.5" height="0.5" fill="#8a8a8a"/>
<rect x="166.7" y="234.6" width="0.5" height="0.5" fill="#b0b0b0"/>
<rect x="176.0" y="227.9" width="0.5" height="0.5" fill="#f4f4f4"/>
<rect x="163.5" y="221.0" width="0.5" height="0.5" fill="#f4f4f4"/>
<rect x="168.9" y="220.0" width="0.5" height="0.5" fill="#dedede"/>
<rect x="167.0" y="213.0" width="0.5" height="0.5" fill="#9c9c9c"/>
<rect x="169.5" y="219.6" width="0.5" height="0.5" fill="#8a8a8a"/>
<rect x="167.1" y="226.4" width="0.5" height="0.5" fill="#8a8a8a"/>
<rect x="176.3" y="220.6" width="0.5" height="0.5" fill="#dedede"/>
<rect x="172.0" y="228.9" width="0.5" height="0.5" fill="#c8c8c8"/>
<rect x="159.1" y="221.6" width="0.5" height="0.5" fill="#f4f4f4"/>
<rect x="173.4" y="215.9" width="0.5" height="0.5" fill="#9c9c9c"/>
<rect x="159.4" y="216.9" width="0.5" height="0.5" fill="#9c9c9c"/>
<rect x="167.1" y="218.0" width="0.5" height="0.5" fill="#c8c8c8"/>
<rect x="174.0" y="217.6" width="0.5" height="0.5" fill="#8a8a8a"/>
<rect x="166.2" y="225.7" width="0.5" height="0.5" fill="#f4f4f4"/>
<rect x="173.1" y="227.5" width="0.5" height="0.5" fill="#8a8a8a"/>
<rect x="177.30" y="170.60" width="37.20" height="66.60" fill="none" stroke="#E87070" stroke-width="1.3"/>
<text x="213.30" y="177.40" font-size="6.0" font-weight="bold" text-anchor="end" fill="#B83232" textLength="11.40" lengthAdjust="spacingAndGlyphs" stroke="#B83232" stroke-width="0.090">4.25</text>
<text x="188.30" y="256.60" font-size="7.4" font-weight="bold" text-anchor="middle" fill="#111" textLength="12.70" lengthAdjust="spacingAndGlyphs" stroke="#111" stroke-width="0.111">Old</text>
<line x1="266.70" y1="166.50" x2="266.70" y2="242.70" stroke="#333" stroke-width="0.8"/>
<line x1="264.90" y1="166.80" x2="266.70" y2="166.80" stroke="#333" stroke-width="0.8"/>
<text x="263.70" y="168.74" font-size="5.4" font-weight="bold" text-anchor="end" fill="#222" stroke="#222" stroke-width="0.081">6</text>
<line x1="264.90" y1="192.20" x2="266.70" y2="192.20" stroke="#333" stroke-width="0.8"/>
<text x="263.70" y="194.14" font-size="5.4" font-weight="bold" text-anchor="end" fill="#222" stroke="#222" stroke-width="0.081">4</text>
<line x1="264.90" y1="217.80" x2="266.70" y2="217.80" stroke="#333" stroke-width="0.8"/>
<text x="263.70" y="219.74" font-size="5.4" font-weight="bold" text-anchor="end" fill="#222" stroke="#222" stroke-width="0.081">2</text>
<line x1="264.90" y1="242.70" x2="266.70" y2="242.70" stroke="#333" stroke-width="0.8"/>
<text x="263.70" y="244.64" font-size="5.4" font-weight="bold" text-anchor="end" fill="#222" stroke="#222" stroke-width="0.081">0</text>
<line x1="266.70" y1="242.70" x2="332.70" y2="242.70" stroke="#222" stroke-width="0.7"/>
<rect x="276.40" y="238.00" width="18.60" height="4.70" fill="#5BB36C" stroke="#222" stroke-width="0.9"/>
<rect x="305.20" y="186.20" width="18.40" height="56.50" fill="#DE5566" stroke="#222" stroke-width="0.9"/>
<line x1="285.70" y1="236.40" x2="285.70" y2="238.80" stroke="#111" stroke-width="0.7"/>
<line x1="282.20" y1="236.40" x2="289.20" y2="236.40" stroke="#111" stroke-width="0.7"/>
<line x1="282.20" y1="238.80" x2="289.20" y2="238.80" stroke="#111" stroke-width="0.7"/>
<circle cx="282.00" cy="236.50" r="1.00" fill="#111"/>
<circle cx="285.70" cy="238.50" r="1.00" fill="#111"/>
<circle cx="289.50" cy="237.20" r="1.00" fill="#111"/>
<circle cx="285.70" cy="240.20" r="1.00" fill="#111"/>
<line x1="314.40" y1="178.20" x2="314.40" y2="193.30" stroke="#111" stroke-width="0.7"/>
<line x1="309.50" y1="178.20" x2="319.30" y2="178.20" stroke="#111" stroke-width="0.7"/>
<line x1="309.50" y1="193.30" x2="319.30" y2="193.30" stroke="#111" stroke-width="0.7"/>
<circle cx="314.40" cy="176.60" r="1.10" fill="#111"/>
<circle cx="314.40" cy="183.50" r="1.10" fill="#111"/>
<circle cx="314.40" cy="188.70" r="1.10" fill="#111"/>
<circle cx="314.40" cy="194.00" r="1.10" fill="#111"/>
<text x="314.40" y="174.00" font-size="7.5" font-weight="bold" text-anchor="middle" fill="#111" stroke="#111" stroke-width="0.112">*</text>
<line x1="285.70" y1="242.70" x2="285.70" y2="244.40" stroke="#222" stroke-width="0.7"/>
<text x="285.70" y="251.40" font-size="5.0" font-weight="bold" text-anchor="middle" fill="#222" stroke="#222" stroke-width="0.075">Young</text>
<line x1="314.40" y1="242.70" x2="314.40" y2="244.40" stroke="#222" stroke-width="0.7"/>
<text x="314.40" y="251.40" font-size="5.0" font-weight="bold" text-anchor="middle" fill="#222" stroke="#222" stroke-width="0.075">Old</text>
<text x="251.20" y="239.30" font-size="6.0" font-weight="normal" text-anchor="start" fill="#333" textLength="70.30" lengthAdjust="spacingAndGlyphs" transform="rotate(-90 251.20 239.30)" stroke="#333" stroke-width="0.072">%  of  CD300c expression</text>
<text x="40.70" y="277.60" font-size="9.5" font-weight="bold" text-anchor="start" fill="#000" stroke="#000" stroke-width="0.120">E</text>
<line x1="53.40" y1="289.10" x2="332.80" y2="289.10" stroke="#333" stroke-width="1.0"/>
<text x="106.6" y="284.9" font-size="8.1" font-weight="bold" fill="#111" stroke="#111" stroke-width="0.12" textLength="165.5" lengthAdjust="spacingAndGlyphs">CD300ld expression gated on CD11b<tspan font-size="4.5" dy="-3">+</tspan><tspan dy="3"> Gr1</tspan><tspan font-size="4.5" dy="-3">+</tspan></text>
<rect x="52.60" y="297.80" width="76.70" height="77.20" fill="#fff" stroke="#858585" stroke-width="0.8"/>
<line x1="51.00" y1="374.10" x2="52.60" y2="374.10" stroke="#555" stroke-width="0.5"/>
<text x="50.20" y="375.10" font-size="2.8" font-weight="normal" text-anchor="end" fill="#444" stroke="#444" stroke-width="0.12">0</text>
<line x1="51.70" y1="371.20" x2="52.60" y2="371.20" stroke="#777" stroke-width="0.35"/>
<line x1="51.70" y1="368.30" x2="52.60" y2="368.30" stroke="#777" stroke-width="0.35"/>
<line x1="51.70" y1="365.40" x2="52.60" y2="365.40" stroke="#777" stroke-width="0.35"/>
<line x1="51.70" y1="362.50" x2="52.60" y2="362.50" stroke="#777" stroke-width="0.35"/>
<line x1="51.00" y1="359.60" x2="52.60" y2="359.60" stroke="#555" stroke-width="0.5"/>
<text x="50.20" y="360.60" font-size="2.8" font-weight="normal" text-anchor="end" fill="#444" stroke="#444" stroke-width="0.12">50K</text>
<line x1="51.70" y1="356.70" x2="52.60" y2="356.70" stroke="#777" stroke-width="0.35"/>
<line x1="51.70" y1="353.80" x2="52.60" y2="353.80" stroke="#777" stroke-width="0.35"/>
<line x1="51.70" y1="350.90" x2="52.60" y2="350.90" stroke="#777" stroke-width="0.35"/>
<line x1="51.70" y1="348.00" x2="52.60" y2="348.00" stroke="#777" stroke-width="0.35"/>
<line x1="51.00" y1="345.10" x2="52.60" y2="345.10" stroke="#555" stroke-width="0.5"/>
<text x="50.20" y="346.10" font-size="2.8" font-weight="normal" text-anchor="end" fill="#444" stroke="#444" stroke-width="0.12">100K</text>
<line x1="51.70" y1="342.20" x2="52.60" y2="342.20" stroke="#777" stroke-width="0.35"/>
<line x1="51.70" y1="339.30" x2="52.60" y2="339.30" stroke="#777" stroke-width="0.35"/>
<line x1="51.70" y1="336.40" x2="52.60" y2="336.40" stroke="#777" stroke-width="0.35"/>
<line x1="51.70" y1="333.50" x2="52.60" y2="333.50" stroke="#777" stroke-width="0.35"/>
<line x1="51.00" y1="330.60" x2="52.60" y2="330.60" stroke="#555" stroke-width="0.5"/>
<text x="50.20" y="331.60" font-size="2.8" font-weight="normal" text-anchor="end" fill="#444" stroke="#444" stroke-width="0.12">150K</text>
<line x1="51.70" y1="327.70" x2="52.60" y2="327.70" stroke="#777" stroke-width="0.35"/>
<line x1="51.70" y1="324.80" x2="52.60" y2="324.80" stroke="#777" stroke-width="0.35"/>
<line x1="51.70" y1="321.90" x2="52.60" y2="321.90" stroke="#777" stroke-width="0.35"/>
<line x1="51.70" y1="319.00" x2="52.60" y2="319.00" stroke="#777" stroke-width="0.35"/>
<line x1="51.00" y1="316.10" x2="52.60" y2="316.10" stroke="#555" stroke-width="0.5"/>
<text x="50.20" y="317.10" font-size="2.8" font-weight="normal" text-anchor="end" fill="#444" stroke="#444" stroke-width="0.12">200K</text>
<line x1="51.70" y1="313.20" x2="52.60" y2="313.20" stroke="#777" stroke-width="0.35"/>
<line x1="51.70" y1="310.30" x2="52.60" y2="310.30" stroke="#777" stroke-width="0.35"/>
<line x1="51.70" y1="307.40" x2="52.60" y2="307.40" stroke="#777" stroke-width="0.35"/>
<line x1="51.70" y1="304.50" x2="52.60" y2="304.50" stroke="#777" stroke-width="0.35"/>
<line x1="51.00" y1="301.60" x2="52.60" y2="301.60" stroke="#555" stroke-width="0.5"/>
<text x="50.20" y="302.60" font-size="2.8" font-weight="normal" text-anchor="end" fill="#444" stroke="#444" stroke-width="0.12">250K</text>
<line x1="51.70" y1="298.70" x2="52.60" y2="298.70" stroke="#777" stroke-width="0.35"/>
<line x1="73.80" y1="375.00" x2="73.80" y2="376.60" stroke="#555" stroke-width="0.5"/>
<line x1="106.10" y1="375.00" x2="106.10" y2="376.60" stroke="#555" stroke-width="0.5"/>
<line x1="58.00" y1="375.00" x2="58.00" y2="375.90" stroke="#555" stroke-width="0.35"/>
<line x1="60.50" y1="375.00" x2="60.50" y2="375.90" stroke="#555" stroke-width="0.35"/>
<line x1="63.00" y1="375.00" x2="63.00" y2="375.90" stroke="#555" stroke-width="0.35"/>
<line x1="65.50" y1="375.00" x2="65.50" y2="375.90" stroke="#555" stroke-width="0.35"/>
<line x1="68.00" y1="375.00" x2="68.00" y2="375.90" stroke="#555" stroke-width="0.35"/>
<line x1="70.50" y1="375.00" x2="70.50" y2="375.90" stroke="#555" stroke-width="0.35"/>
<line x1="80.00" y1="375.00" x2="80.00" y2="375.90" stroke="#555" stroke-width="0.35"/>
<line x1="85.00" y1="375.00" x2="85.00" y2="375.90" stroke="#555" stroke-width="0.35"/>
<line x1="90.00" y1="375.00" x2="90.00" y2="375.90" stroke="#555" stroke-width="0.35"/>
<line x1="95.00" y1="375.00" x2="95.00" y2="375.90" stroke="#555" stroke-width="0.35"/>
<line x1="100.00" y1="375.00" x2="100.00" y2="375.90" stroke="#555" stroke-width="0.35"/>
<line x1="105.00" y1="375.00" x2="105.00" y2="375.90" stroke="#555" stroke-width="0.35"/>
<line x1="110.00" y1="375.00" x2="110.00" y2="375.90" stroke="#555" stroke-width="0.35"/>
<line x1="115.00" y1="375.00" x2="115.00" y2="375.90" stroke="#555" stroke-width="0.35"/>
<line x1="120.00" y1="375.00" x2="120.00" y2="375.90" stroke="#555" stroke-width="0.35"/>
<text x="73.8" y="381.4" font-size="2.8" fill="#444" stroke="#444" stroke-width="0.1" text-anchor="middle">0</text>
<text x="106.1" y="381.4" font-size="2.8" fill="#444" stroke="#444" stroke-width="0.1" text-anchor="middle">10<tspan font-size="1.6" dy="-1">5</tspan></text>
<rect x="72.28" y="359.43" width="0.45" height="0.45" fill="#555"/>
<rect x="81.64" y="349.87" width="0.45" height="0.45" fill="#777"/>
<rect x="69.49" y="352.10" width="0.45" height="0.45" fill="#333"/>
<rect x="78.01" y="342.01" width="0.45" height="0.45" fill="#333"/>
<rect x="72.23" y="356.94" width="0.45" height="0.45" fill="#555"/>
<rect x="82.09" y="354.01" width="0.45" height="0.45" fill="#777"/>
<rect x="70.50" y="344.65" width="0.45" height="0.45" fill="#333"/>
<rect x="82.80" y="363.19" width="0.45" height="0.45" fill="#999"/>
<rect x="85.00" y="342.19" width="0.45" height="0.45" fill="#555"/>
<rect x="81.94" y="358.75" width="0.45" height="0.45" fill="#999"/>
<rect x="83.37" y="364.48" width="0.45" height="0.45" fill="#333"/>
<rect x="79.17" y="357.91" width="0.45" height="0.45" fill="#555"/>
<rect x="81.78" y="357.60" width="0.45" height="0.45" fill="#333"/>
<rect x="72.55" y="351.41" width="0.45" height="0.45" fill="#333"/>
<rect x="74.75" y="359.79" width="0.45" height="0.45" fill="#333"/>
<rect x="67.38" y="362.31" width="0.45" height="0.45" fill="#999"/>
<rect x="79.22" y="349.97" width="0.45" height="0.45" fill="#333"/>
<rect x="81.13" y="362.47" width="0.45" height="0.45" fill="#999"/>
<rect x="65.68" y="361.69" width="0.45" height="0.45" fill="#333"/>
<rect x="83.46" y="346.03" width="0.45" height="0.45" fill="#777"/>
<rect x="81.67" y="369.61" width="0.45" height="0.45" fill="#333"/>
<rect x="74.03" y="341.61" width="0.45" height="0.45" fill="#333"/>
<rect x="86.90" y="353.81" width="0.45" height="0.45" fill="#999"/>
<rect x="69.48" y="342.59" width="0.45" height="0.45" fill="#999"/>
<rect x="73.42" y="352.55" width="0.45" height="0.45" fill="#555"/>
<rect x="77.22" y="363.41" width="0.45" height="0.45" fill="#999"/>
<rect x="72.93" y="346.63" width="0.45" height="0.45" fill="#999"/>
<rect x="85.02" y="361.66" width="0.45" height="0.45" fill="#555"/>
<rect x="80.78" y="352.06" width="0.45" height="0.45" fill="#999"/>
<rect x="80.97" y="350.20" width="0.45" height="0.45" fill="#999"/>
<rect x="77.37" y="347.69" width="0.45" height="0.45" fill="#999"/>
<rect x="75.45" y="348.79" width="0.45" height="0.45" fill="#555"/>
<rect x="77.13" y="361.27" width="0.45" height="0.45" fill="#999"/>
<rect x="74.72" y="352.16" width="0.45" height="0.45" fill="#555"/>
<rect x="66.66" y="351.29" width="0.45" height="0.45" fill="#999"/>
<rect x="73.60" y="360.70" width="0.45" height="0.45" fill="#333"/>
<rect x="79.36" y="346.20" width="0.45" height="0.45" fill="#555"/>
<rect x="68.23" y="351.57" width="0.45" height="0.45" fill="#777"/>
<rect x="86.21" y="344.65" width="0.45" height="0.45" fill="#333"/>
<rect x="80.77" y="367.73" width="0.45" height="0.45" fill="#555"/>
<rect x="70.58" y="346.76" width="0.45" height="0.45" fill="#555"/>
<rect x="60.06" y="367.78" width="0.45" height="0.45" fill="#333"/>
<rect x="86.02" y="358.47" width="0.45" height="0.45" fill="#777"/>
<rect x="77.58" y="363.86" width="0.45" height="0.45" fill="#777"/>
<rect x="74.85" y="361.81" width="0.45" height="0.45" fill="#999"/>
<rect x="65.96" y="344.05" width="0.45" height="0.45" fill="#777"/>
<rect x="70.76" y="348.53" width="0.45" height="0.45" fill="#999"/>
<rect x="79.16" y="341.81" width="0.45" height="0.45" fill="#555"/>
<rect x="82.45" y="360.83" width="0.45" height="0.45" fill="#999"/>
<rect x="76.47" y="360.68" width="0.45" height="0.45" fill="#999"/>
<rect x="74.64" y="361.55" width="0.45" height="0.45" fill="#999"/>
<rect x="88.17" y="348.80" width="0.45" height="0.45" fill="#333"/>
<rect x="56.22" y="333.82" width="0.45" height="0.45" fill="#333"/>
<rect x="76.45" y="342.31" width="0.45" height="0.45" fill="#999"/>
<rect x="78.02" y="347.50" width="0.45" height="0.45" fill="#777"/>
<rect x="69.51" y="350.43" width="0.45" height="0.45" fill="#333"/>
<rect x="78.50" y="372.99" width="0.45" height="0.45" fill="#999"/>
<rect x="82.08" y="365.55" width="0.45" height="0.45" fill="#999"/>
<rect x="88.85" y="357.83" width="0.45" height="0.45" fill="#777"/>
<rect x="69.57" y="347.03" width="0.45" height="0.45" fill="#555"/>
<rect x="72.61" y="358.80" width="0.45" height="0.45" fill="#777"/>
<rect x="66.83" y="347.89" width="0.45" height="0.45" fill="#999"/>
<rect x="84.01" y="359.37" width="0.45" height="0.45" fill="#333"/>
<rect x="77.63" y="360.28" width="0.45" height="0.45" fill="#999"/>
<rect x="84.76" y="361.88" width="0.45" height="0.45" fill="#999"/>
<rect x="82.00" y="355.82" width="0.45" height="0.45" fill="#777"/>
<rect x="74.01" y="357.15" width="0.45" height="0.45" fill="#777"/>
<rect x="70.34" y="341.84" width="0.45" height="0.45" fill="#777"/>
<rect x="71.61" y="354.57" width="0.45" height="0.45" fill="#333"/>
<rect x="71.53" y="361.08" width="0.45" height="0.45" fill="#999"/>
<rect x="77.92" y="359.69" width="0.45" height="0.45" fill="#333"/>
<rect x="77.10" y="355.61" width="0.45" height="0.45" fill="#777"/>
<rect x="80.98" y="350.54" width="0.45" height="0.45" fill="#333"/>
<rect x="81.12" y="373.27" width="0.45" height="0.45" fill="#333"/>
<rect x="88.34" y="342.91" width="0.45" height="0.45" fill="#777"/>
<rect x="59.88" y="351.57" width="0.45" height="0.45" fill="#777"/>
<rect x="73.59" y="359.50" width="0.45" height="0.45" fill="#999"/>
<rect x="77.62" y="339.66" width="0.45" height="0.45" fill="#999"/>
<rect x="70.69" y="355.70" width="0.45" height="0.45" fill="#777"/>
<rect x="72.27" y="352.65" width="0.45" height="0.45" fill="#555"/>
<rect x="76.52" y="353.07" width="0.45" height="0.45" fill="#777"/>
<rect x="71.46" y="354.17" width="0.45" height="0.45" fill="#777"/>
<rect x="74.96" y="361.71" width="0.45" height="0.45" fill="#777"/>
<rect x="75.60" y="358.93" width="0.45" height="0.45" fill="#777"/>
<rect x="81.97" y="354.75" width="0.45" height="0.45" fill="#999"/>
<rect x="82.28" y="347.05" width="0.45" height="0.45" fill="#333"/>
<rect x="63.92" y="370.77" width="0.45" height="0.45" fill="#777"/>
<rect x="82.54" y="350.98" width="0.45" height="0.45" fill="#999"/>
<rect x="71.66" y="358.07" width="0.45" height="0.45" fill="#555"/>
<rect x="84.91" y="359.65" width="0.45" height="0.45" fill="#333"/>
<rect x="79.40" y="363.33" width="0.45" height="0.45" fill="#333"/>
<rect x="67.03" y="354.28" width="0.45" height="0.45" fill="#999"/>
<rect x="82.09" y="345.19" width="0.45" height="0.45" fill="#333"/>
<rect x="70.85" y="347.57" width="0.45" height="0.45" fill="#333"/>
<rect x="65.20" y="350.48" width="0.45" height="0.45" fill="#333"/>
<rect x="82.78" y="334.03" width="0.45" height="0.45" fill="#333"/>
<rect x="85.06" y="362.07" width="0.45" height="0.45" fill="#777"/>
<rect x="68.90" y="357.83" width="0.45" height="0.45" fill="#777"/>
<rect x="79.19" y="351.83" width="0.45" height="0.45" fill="#333"/>
<rect x="87.50" y="347.60" width="0.45" height="0.45" fill="#999"/>
<rect x="70.08" y="361.72" width="0.45" height="0.45" fill="#777"/>
<rect x="75.29" y="343.06" width="0.45" height="0.45" fill="#333"/>
<rect x="82.81" y="348.51" width="0.45" height="0.45" fill="#555"/>
<rect x="73.77" y="348.14" width="0.45" height="0.45" fill="#555"/>
<rect x="85.33" y="350.55" width="0.45" height="0.45" fill="#777"/>
<rect x="64.63" y="356.35" width="0.45" height="0.45" fill="#555"/>
<rect x="71.91" y="354.21" width="0.45" height="0.45" fill="#333"/>
<rect x="88.74" y="365.06" width="0.45" height="0.45" fill="#777"/>
<rect x="81.47" y="333.69" width="0.45" height="0.45" fill="#555"/>
<rect x="79.68" y="359.97" width="0.45" height="0.45" fill="#555"/>
<rect x="75.50" y="355.88" width="0.45" height="0.45" fill="#999"/>
<rect x="78.38" y="356.71" width="0.45" height="0.45" fill="#333"/>
<rect x="78.00" y="342.26" width="0.45" height="0.45" fill="#333"/>
<rect x="77.74" y="361.94" width="0.45" height="0.45" fill="#555"/>
<rect x="79.73" y="353.42" width="0.45" height="0.45" fill="#777"/>
<rect x="79.59" y="357.67" width="0.45" height="0.45" fill="#333"/>
<rect x="79.01" y="364.17" width="0.45" height="0.45" fill="#555"/>
<rect x="75.94" y="361.32" width="0.45" height="0.45" fill="#333"/>
<rect x="68.18" y="369.24" width="0.45" height="0.45" fill="#999"/>
<rect x="71.30" y="363.32" width="0.45" height="0.45" fill="#777"/>
<rect x="78.00" y="342.67" width="0.45" height="0.45" fill="#777"/>
<rect x="77.87" y="358.23" width="0.45" height="0.45" fill="#999"/>
<rect x="80.33" y="362.82" width="0.45" height="0.45" fill="#999"/>
<rect x="86.77" y="338.21" width="0.45" height="0.45" fill="#777"/>
<rect x="76.78" y="363.24" width="0.45" height="0.45" fill="#333"/>
<rect x="70.42" y="353.13" width="0.45" height="0.45" fill="#555"/>
<rect x="80.82" y="354.28" width="0.45" height="0.45" fill="#333"/>
<rect x="61.06" y="353.16" width="0.45" height="0.45" fill="#999"/>
<rect x="75.93" y="341.60" width="0.45" height="0.45" fill="#999"/>
<rect x="84.36" y="349.47" width="0.45" height="0.45" fill="#999"/>
<rect x="76.41" y="359.08" width="0.45" height="0.45" fill="#999"/>
<rect x="81.64" y="365.63" width="0.45" height="0.45" fill="#333"/>
<rect x="83.51" y="356.07" width="0.45" height="0.45" fill="#555"/>
<rect x="68.86" y="369.17" width="0.45" height="0.45" fill="#555"/>
<rect x="72.50" y="336.53" width="0.45" height="0.45" fill="#777"/>
<rect x="75.69" y="357.32" width="0.45" height="0.45" fill="#777"/>
<rect x="77.97" y="362.89" width="0.45" height="0.45" fill="#555"/>
<rect x="82.09" y="356.70" width="0.45" height="0.45" fill="#999"/>
<rect x="71.84" y="337.72" width="0.45" height="0.45" fill="#333"/>
<rect x="68.38" y="352.43" width="0.45" height="0.45" fill="#999"/>
<rect x="75.23" y="360.37" width="0.45" height="0.45" fill="#999"/>
<rect x="80.78" y="362.32" width="0.45" height="0.45" fill="#333"/>
<rect x="76.59" y="365.30" width="0.45" height="0.45" fill="#333"/>
<rect x="79.34" y="357.74" width="0.45" height="0.45" fill="#333"/>
<rect x="82.15" y="358.01" width="0.45" height="0.45" fill="#333"/>
<rect x="57.34" y="338.95" width="0.45" height="0.45" fill="#777"/>
<rect x="78.91" y="347.98" width="0.45" height="0.45" fill="#555"/>
<rect x="91.30" y="348.19" width="0.45" height="0.45" fill="#555"/>
<rect x="83.37" y="356.46" width="0.45" height="0.45" fill="#999"/>
<rect x="78.92" y="355.36" width="0.45" height="0.45" fill="#999"/>
<rect x="82.03" y="362.95" width="0.45" height="0.45" fill="#555"/>
<rect x="68.98" y="355.46" width="0.45" height="0.45" fill="#333"/>
<rect x="91.22" y="367.80" width="0.45" height="0.45" fill="#999"/>
<rect x="71.34" y="344.17" width="0.45" height="0.45" fill="#555"/>
<rect x="85.35" y="364.52" width="0.45" height="0.45" fill="#999"/>
<rect x="76.39" y="349.76" width="0.45" height="0.45" fill="#333"/>
<rect x="77.26" y="355.33" width="0.45" height="0.45" fill="#999"/>
<rect x="71.59" y="364.90" width="0.45" height="0.45" fill="#777"/>
<rect x="80.92" y="352.04" width="0.45" height="0.45" fill="#555"/>
<rect x="68.41" y="368.45" width="0.45" height="0.45" fill="#333"/>
<rect x="61.07" y="359.27" width="0.45" height="0.45" fill="#777"/>
<rect x="76.67" y="364.73" width="0.45" height="0.45" fill="#333"/>
<rect x="82.83" y="358.99" width="0.45" height="0.45" fill="#999"/>
<rect x="73.20" y="361.01" width="0.45" height="0.45" fill="#333"/>
<rect x="65.71" y="339.87" width="0.45" height="0.45" fill="#777"/>
<rect x="87.28" y="355.82" width="0.45" height="0.45" fill="#999"/>
<rect x="73.16" y="351.45" width="0.45" height="0.45" fill="#777"/>
<rect x="76.23" y="349.24" width="0.45" height="0.45" fill="#999"/>
<rect x="69.27" y="342.18" width="0.45" height="0.45" fill="#555"/>
<rect x="67.97" y="354.67" width="0.45" height="0.45" fill="#333"/>
<rect x="73.44" y="351.10" width="0.45" height="0.45" fill="#555"/>
<rect x="73.83" y="349.40" width="0.45" height="0.45" fill="#333"/>
<rect x="72.41" y="349.21" width="0.45" height="0.45" fill="#555"/>
<rect x="76.89" y="353.04" width="0.45" height="0.45" fill="#555"/>
<rect x="76.24" y="331.54" width="0.45" height="0.45" fill="#777"/>
<rect x="69.97" y="349.09" width="0.45" height="0.45" fill="#777"/>
<rect x="87.20" y="348.45" width="0.45" height="0.45" fill="#999"/>
<rect x="83.00" y="357.97" width="0.45" height="0.45" fill="#555"/>
<rect x="69.22" y="337.08" width="0.45" height="0.45" fill="#777"/>
<rect x="78.54" y="335.89" width="0.45" height="0.45" fill="#333"/>
<rect x="74.70" y="354.56" width="0.45" height="0.45" fill="#777"/>
<rect x="69.84" y="356.82" width="0.45" height="0.45" fill="#777"/>
<rect x="80.58" y="369.92" width="0.45" height="0.45" fill="#555"/>
<rect x="74.99" y="346.98" width="0.45" height="0.45" fill="#777"/>
<rect x="73.52" y="349.14" width="0.45" height="0.45" fill="#333"/>
<rect x="79.02" y="336.97" width="0.45" height="0.45" fill="#555"/>
<rect x="66.90" y="364.56" width="0.45" height="0.45" fill="#777"/>
<rect x="78.14" y="349.37" width="0.45" height="0.45" fill="#555"/>
<rect x="83.09" y="349.11" width="0.45" height="0.45" fill="#333"/>
<rect x="73.93" y="365.11" width="0.45" height="0.45" fill="#777"/>
<rect x="82.77" y="355.97" width="0.45" height="0.45" fill="#333"/>
<rect x="78.03" y="344.29" width="0.45" height="0.45" fill="#999"/>
<rect x="71.22" y="347.99" width="0.45" height="0.45" fill="#333"/>
<rect x="65.28" y="345.59" width="0.45" height="0.45" fill="#333"/>
<rect x="69.33" y="351.93" width="0.45" height="0.45" fill="#333"/>
<rect x="83.96" y="362.91" width="0.45" height="0.45" fill="#333"/>
<rect x="57.75" y="329.51" width="0.45" height="0.45" fill="#777"/>
<rect x="90.64" y="349.23" width="0.45" height="0.45" fill="#555"/>
<rect x="80.44" y="352.64" width="0.45" height="0.45" fill="#999"/>
<rect x="70.84" y="357.33" width="0.45" height="0.45" fill="#333"/>
<rect x="80.29" y="351.62" width="0.45" height="0.45" fill="#555"/>
<rect x="70.33" y="359.08" width="0.45" height="0.45" fill="#555"/>
<rect x="72.28" y="353.46" width="0.45" height="0.45" fill="#555"/>
<rect x="72.01" y="337.98" width="0.45" height="0.45" fill="#555"/>
<rect x="71.44" y="351.47" width="0.45" height="0.45" fill="#999"/>
<rect x="86.25" y="347.54" width="0.45" height="0.45" fill="#333"/>
<rect x="72.14" y="338.73" width="0.45" height="0.45" fill="#777"/>
<rect x="76.02" y="354.77" width="0.45" height="0.45" fill="#333"/>
<rect x="70.31" y="345.49" width="0.45" height="0.45" fill="#999"/>
<rect x="77.94" y="364.72" width="0.45" height="0.45" fill="#555"/>
<rect x="83.22" y="348.17" width="0.45" height="0.45" fill="#555"/>
<rect x="80.40" y="337.79" width="0.45" height="0.45" fill="#999"/>
<rect x="82.82" y="354.38" width="0.45" height="0.45" fill="#555"/>
<rect x="70.78" y="358.54" width="0.45" height="0.45" fill="#999"/>
<rect x="74.01" y="373.64" width="0.45" height="0.45" fill="#555"/>
<rect x="77.72" y="363.07" width="0.45" height="0.45" fill="#333"/>
<rect x="71.01" y="354.65" width="0.45" height="0.45" fill="#555"/>
<rect x="62.89" y="346.44" width="0.45" height="0.45" fill="#999"/>
<rect x="67.85" y="357.68" width="0.45" height="0.45" fill="#777"/>
<rect x="87.92" y="363.15" width="0.45" height="0.45" fill="#555"/>
<rect x="68.62" y="347.57" width="0.45" height="0.45" fill="#555"/>
<rect x="75.49" y="337.59" width="0.45" height="0.45" fill="#333"/>
<rect x="74.48" y="348.67" width="0.45" height="0.45" fill="#777"/>
<rect x="71.59" y="364.50" width="0.45" height="0.45" fill="#999"/>
<rect x="82.51" y="354.21" width="0.45" height="0.45" fill="#555"/>
<rect x="69.03" y="357.77" width="0.45" height="0.45" fill="#777"/>
<rect x="78.17" y="368.00" width="0.45" height="0.45" fill="#999"/>
<rect x="81.97" y="356.11" width="0.45" height="0.45" fill="#999"/>
<rect x="73.77" y="341.92" width="0.45" height="0.45" fill="#333"/>
<rect x="75.67" y="351.38" width="0.45" height="0.45" fill="#555"/>
<rect x="84.49" y="366.59" width="0.45" height="0.45" fill="#999"/>
<rect x="83.18" y="373.72" width="0.45" height="0.45" fill="#555"/>
<rect x="71.46" y="371.85" width="0.45" height="0.45" fill="#555"/>
<rect x="81.11" y="360.82" width="0.45" height="0.45" fill="#555"/>
<rect x="66.66" y="357.00" width="0.45" height="0.45" fill="#555"/>
<rect x="79.84" y="340.68" width="0.45" height="0.45" fill="#333"/>
<rect x="81.16" y="359.60" width="0.45" height="0.45" fill="#777"/>
<rect x="76.35" y="349.45" width="0.45" height="0.45" fill="#555"/>
<rect x="71.03" y="348.88" width="0.45" height="0.45" fill="#333"/>
<rect x="77.29" y="364.63" width="0.45" height="0.45" fill="#999"/>
<rect x="89.70" y="346.43" width="0.45" height="0.45" fill="#999"/>
<rect x="85.13" y="359.49" width="0.45" height="0.45" fill="#999"/>
<rect x="74.33" y="358.99" width="0.45" height="0.45" fill="#555"/>
<rect x="84.34" y="353.50" width="0.45" height="0.45" fill="#999"/>
<rect x="73.25" y="356.12" width="0.45" height="0.45" fill="#999"/>
<rect x="71.37" y="356.55" width="0.45" height="0.45" fill="#333"/>
<rect x="79.23" y="346.48" width="0.45" height="0.45" fill="#555"/>
<rect x="91.04" y="356.48" width="0.45" height="0.45" fill="#333"/>
<rect x="61.92" y="344.23" width="0.45" height="0.45" fill="#777"/>
<rect x="78.89" y="357.47" width="0.45" height="0.45" fill="#555"/>
<rect x="70.17" y="346.21" width="0.45" height="0.45" fill="#333"/>
<rect x="70.65" y="350.69" width="0.45" height="0.45" fill="#333"/>
<rect x="84.32" y="373.02" width="0.45" height="0.45" fill="#555"/>
<rect x="73.15" y="361.87" width="0.45" height="0.45" fill="#555"/>
<rect x="67.81" y="365.49" width="0.45" height="0.45" fill="#999"/>
<rect x="80.65" y="350.74" width="0.45" height="0.45" fill="#777"/>
<rect x="78.50" y="342.09" width="0.45" height="0.45" fill="#999"/>
<rect x="75.65" y="333.26" width="0.45" height="0.45" fill="#999"/>
<rect x="62.77" y="344.54" width="0.45" height="0.45" fill="#333"/>
<rect x="65.53" y="352.28" width="0.45" height="0.45" fill="#333"/>
<rect x="75.53" y="338.10" width="0.45" height="0.45" fill="#333"/>
<rect x="72.74" y="341.80" width="0.45" height="0.45" fill="#333"/>
<rect x="75.69" y="358.42" width="0.45" height="0.45" fill="#333"/>
<rect x="74.03" y="346.51" width="0.45" height="0.45" fill="#777"/>
<rect x="64.54" y="348.12" width="0.45" height="0.45" fill="#999"/>
<rect x="69.90" y="346.73" width="0.45" height="0.45" fill="#333"/>
<rect x="80.14" y="342.03" width="0.45" height="0.45" fill="#777"/>
<rect x="70.98" y="349.57" width="0.45" height="0.45" fill="#333"/>
<rect x="75.06" y="337.43" width="0.45" height="0.45" fill="#999"/>
<rect x="75.06" y="341.54" width="0.45" height="0.45" fill="#333"/>
<rect x="59.72" y="346.61" width="0.45" height="0.45" fill="#777"/>
<rect x="71.70" y="341.39" width="0.45" height="0.45" fill="#777"/>
<rect x="70.55" y="347.69" width="0.45" height="0.45" fill="#333"/>
<rect x="70.74" y="345.38" width="0.45" height="0.45" fill="#555"/>
<rect x="72.87" y="346.02" width="0.45" height="0.45" fill="#333"/>
<rect x="65.29" y="349.70" width="0.45" height="0.45" fill="#555"/>
<rect x="85.98" y="351.62" width="0.45" height="0.45" fill="#777"/>
<rect x="74.82" y="346.14" width="0.45" height="0.45" fill="#777"/>
<rect x="82.53" y="342.93" width="0.45" height="0.45" fill="#555"/>
<rect x="76.26" y="344.69" width="0.45" height="0.45" fill="#555"/>
<rect x="77.07" y="334.40" width="0.45" height="0.45" fill="#333"/>
<rect x="70.91" y="349.72" width="0.45" height="0.45" fill="#555"/>
<rect x="67.71" y="355.35" width="0.45" height="0.45" fill="#333"/>
<rect x="66.44" y="348.98" width="0.45" height="0.45" fill="#777"/>
<rect x="74.50" y="338.01" width="0.45" height="0.45" fill="#333"/>
<rect x="96.04" y="350.79" width="0.45" height="0.45" fill="#333"/>
<rect x="73.77" y="335.46" width="0.45" height="0.45" fill="#999"/>
<rect x="75.48" y="353.16" width="0.45" height="0.45" fill="#999"/>
<rect x="71.94" y="344.03" width="0.45" height="0.45" fill="#555"/>
<rect x="80.46" y="337.24" width="0.45" height="0.45" fill="#555"/>
<rect x="66.59" y="348.04" width="0.45" height="0.45" fill="#999"/>
<rect x="65.60" y="353.63" width="0.45" height="0.45" fill="#777"/>
<rect x="69.95" y="342.88" width="0.45" height="0.45" fill="#555"/>
<rect x="74.19" y="330.11" width="0.45" height="0.45" fill="#777"/>
<rect x="69.09" y="344.40" width="0.45" height="0.45" fill="#999"/>
<rect x="67.38" y="351.09" width="0.45" height="0.45" fill="#333"/>
<rect x="76.52" y="326.56" width="0.45" height="0.45" fill="#333"/>
<rect x="73.79" y="353.80" width="0.45" height="0.45" fill="#777"/>
<rect x="69.80" y="353.32" width="0.45" height="0.45" fill="#555"/>
<rect x="67.41" y="339.86" width="0.45" height="0.45" fill="#333"/>
<rect x="73.08" y="331.30" width="0.45" height="0.45" fill="#999"/>
<rect x="93.57" y="336.18" width="0.45" height="0.45" fill="#999"/>
<rect x="76.64" y="356.07" width="0.45" height="0.45" fill="#777"/>
<rect x="72.38" y="350.64" width="0.45" height="0.45" fill="#555"/>
<rect x="73.76" y="342.25" width="0.45" height="0.45" fill="#777"/>
<rect x="69.39" y="348.20" width="0.45" height="0.45" fill="#999"/>
<rect x="69.62" y="353.08" width="0.45" height="0.45" fill="#555"/>
<rect x="79.55" y="334.42" width="0.45" height="0.45" fill="#999"/>
<rect x="64.93" y="327.50" width="0.45" height="0.45" fill="#555"/>
<rect x="73.97" y="346.47" width="0.45" height="0.45" fill="#555"/>
<rect x="77.47" y="347.07" width="0.45" height="0.45" fill="#999"/>
<rect x="81.59" y="354.58" width="0.45" height="0.45" fill="#333"/>
<rect x="71.84" y="351.75" width="0.45" height="0.45" fill="#999"/>
<rect x="76.94" y="352.15" width="0.45" height="0.45" fill="#555"/>
<rect x="73.14" y="354.79" width="0.45" height="0.45" fill="#777"/>
<rect x="78.18" y="344.79" width="0.45" height="0.45" fill="#333"/>
<rect x="71.72" y="351.33" width="0.45" height="0.45" fill="#999"/>
<rect x="79.12" y="340.33" width="0.45" height="0.45" fill="#333"/>
<rect x="78.72" y="345.98" width="0.45" height="0.45" fill="#555"/>
<rect x="89.34" y="352.21" width="0.45" height="0.45" fill="#999"/>
<rect x="58.40" y="339.03" width="0.45" height="0.45" fill="#333"/>
<rect x="66.61" y="347.04" width="0.45" height="0.45" fill="#333"/>
<rect x="70.70" y="341.45" width="0.45" height="0.45" fill="#333"/>
<rect x="74.49" y="344.37" width="0.45" height="0.45" fill="#333"/>
<rect x="74.43" y="339.13" width="0.45" height="0.45" fill="#555"/>
<rect x="71.97" y="346.63" width="0.45" height="0.45" fill="#333"/>
<rect x="77.25" y="356.82" width="0.45" height="0.45" fill="#555"/>
<rect x="82.70" y="351.60" width="0.45" height="0.45" fill="#555"/>
<rect x="69.21" y="344.96" width="0.45" height="0.45" fill="#999"/>
<rect x="67.56" y="345.81" width="0.45" height="0.45" fill="#555"/>
<rect x="76.39" y="334.21" width="0.45" height="0.45" fill="#999"/>
<rect x="61.00" y="340.88" width="0.45" height="0.45" fill="#333"/>
<rect x="67.66" y="348.74" width="0.45" height="0.45" fill="#777"/>
<rect x="79.74" y="349.90" width="0.45" height="0.45" fill="#777"/>
<rect x="69.35" y="348.25" width="0.45" height="0.45" fill="#555"/>
<rect x="84.23" y="349.37" width="0.45" height="0.45" fill="#999"/>
<rect x="80.12" y="334.94" width="0.45" height="0.45" fill="#333"/>
<rect x="73.79" y="344.74" width="0.45" height="0.45" fill="#777"/>
<rect x="81.10" y="342.65" width="0.45" height="0.45" fill="#999"/>
<rect x="81.61" y="332.24" width="0.45" height="0.45" fill="#333"/>
<rect x="68.51" y="359.17" width="0.45" height="0.45" fill="#555"/>
<rect x="73.28" y="346.77" width="0.45" height="0.45" fill="#777"/>
<rect x="77.61" y="335.10" width="0.45" height="0.45" fill="#999"/>
<rect x="64.04" y="347.81" width="0.45" height="0.45" fill="#333"/>
<rect x="92.40" y="343.79" width="0.45" height="0.45" fill="#555"/>
<rect x="72.46" y="359.97" width="0.45" height="0.45" fill="#777"/>
<rect x="73.18" y="348.02" width="0.45" height="0.45" fill="#777"/>
<rect x="82.60" y="344.19" width="0.45" height="0.45" fill="#555"/>
<rect x="67.85" y="347.85" width="0.45" height="0.45" fill="#555"/>
<rect x="83.30" y="333.06" width="0.45" height="0.45" fill="#999"/>
<rect x="72.16" y="353.45" width="0.45" height="0.45" fill="#333"/>
<rect x="83.44" y="343.03" width="0.45" height="0.45" fill="#777"/>
<rect x="69.08" y="330.20" width="0.45" height="0.45" fill="#555"/>
<rect x="85.10" y="331.21" width="0.45" height="0.45" fill="#555"/>
<rect x="84.01" y="336.11" width="0.45" height="0.45" fill="#777"/>
<rect x="79.21" y="339.32" width="0.45" height="0.45" fill="#333"/>
<rect x="62.86" y="351.84" width="0.45" height="0.45" fill="#555"/>
<rect x="66.82" y="347.13" width="0.45" height="0.45" fill="#777"/>
<rect x="75.50" y="346.04" width="0.45" height="0.45" fill="#777"/>
<rect x="75.10" y="336.97" width="0.45" height="0.45" fill="#333"/>
<rect x="74.44" y="338.17" width="0.45" height="0.45" fill="#555"/>
<rect x="79.94" y="353.48" width="0.45" height="0.45" fill="#777"/>
<rect x="68.97" y="350.40" width="0.45" height="0.45" fill="#555"/>
<rect x="63.89" y="344.23" width="0.45" height="0.45" fill="#999"/>
<rect x="77.15" y="352.11" width="0.45" height="0.45" fill="#333"/>
<rect x="72.93" y="347.64" width="0.45" height="0.45" fill="#999"/>
<rect x="82.58" y="348.41" width="0.45" height="0.45" fill="#555"/>
<rect x="66.08" y="344.29" width="0.45" height="0.45" fill="#333"/>
<rect x="65.01" y="329.02" width="0.45" height="0.45" fill="#555"/>
<rect x="71.21" y="351.52" width="0.45" height="0.45" fill="#999"/>
<rect x="68.14" y="339.88" width="0.45" height="0.45" fill="#777"/>
<rect x="71.05" y="356.67" width="0.45" height="0.45" fill="#333"/>
<rect x="73.68" y="351.62" width="0.45" height="0.45" fill="#555"/>
<rect x="80.74" y="338.32" width="0.45" height="0.45" fill="#777"/>
<rect x="85.22" y="345.63" width="0.45" height="0.45" fill="#333"/>
<rect x="74.63" y="329.37" width="0.45" height="0.45" fill="#777"/>
<rect x="72.88" y="332.63" width="0.45" height="0.45" fill="#555"/>
<rect x="84.72" y="352.71" width="0.45" height="0.45" fill="#777"/>
<rect x="73.44" y="342.19" width="0.45" height="0.45" fill="#555"/>
<rect x="67.11" y="339.33" width="0.45" height="0.45" fill="#777"/>
<rect x="60.56" y="341.53" width="0.45" height="0.45" fill="#555"/>
<rect x="81.57" y="339.48" width="0.45" height="0.45" fill="#777"/>
<rect x="69.87" y="347.04" width="0.45" height="0.45" fill="#333"/>
<rect x="88.77" y="346.07" width="0.45" height="0.45" fill="#777"/>
<rect x="72.50" y="333.01" width="0.45" height="0.45" fill="#999"/>
<rect x="65.43" y="332.66" width="0.45" height="0.45" fill="#333"/>
<rect x="63.74" y="337.01" width="0.45" height="0.45" fill="#999"/>
<rect x="69.31" y="336.64" width="0.45" height="0.45" fill="#333"/>
<rect x="59.92" y="346.21" width="0.45" height="0.45" fill="#555"/>
<rect x="74.86" y="349.99" width="0.45" height="0.45" fill="#333"/>
<rect x="79.67" y="330.83" width="0.45" height="0.45" fill="#777"/>
<rect x="72.86" y="351.19" width="0.45" height="0.45" fill="#333"/>
<rect x="75.74" y="346.08" width="0.45" height="0.45" fill="#555"/>
<rect x="74.81" y="350.46" width="0.45" height="0.45" fill="#333"/>
<rect x="70.03" y="362.27" width="0.45" height="0.45" fill="#333"/>
<rect x="66.68" y="354.80" width="0.45" height="0.45" fill="#999"/>
<rect x="83.86" y="338.15" width="0.45" height="0.45" fill="#777"/>
<rect x="74.26" y="348.96" width="0.45" height="0.45" fill="#777"/>
<rect x="76.00" y="352.73" width="0.45" height="0.45" fill="#555"/>
<rect x="71.19" y="339.80" width="0.45" height="0.45" fill="#999"/>
<rect x="63.98" y="342.77" width="0.45" height="0.45" fill="#777"/>
<rect x="70.33" y="345.49" width="0.45" height="0.45" fill="#333"/>
<rect x="62.17" y="338.24" width="0.45" height="0.45" fill="#999"/>
<rect x="78.53" y="337.74" width="0.45" height="0.45" fill="#555"/>
<rect x="72.93" y="346.49" width="0.45" height="0.45" fill="#333"/>
<rect x="58.80" y="332.99" width="0.45" height="0.45" fill="#999"/>
<rect x="67.65" y="344.16" width="0.45" height="0.45" fill="#333"/>
<rect x="84.26" y="324.44" width="0.45" height="0.45" fill="#999"/>
<rect x="71.49" y="341.54" width="0.45" height="0.45" fill="#333"/>
<rect x="73.71" y="351.43" width="0.45" height="0.45" fill="#555"/>
<rect x="70.94" y="331.45" width="0.45" height="0.45" fill="#555"/>
<rect x="84.63" y="319.91" width="0.45" height="0.45" fill="#777"/>
<rect x="81.57" y="353.60" width="0.45" height="0.45" fill="#333"/>
<rect x="73.95" y="342.56" width="0.45" height="0.45" fill="#555"/>
<rect x="72.86" y="335.54" width="0.45" height="0.45" fill="#999"/>
<rect x="74.37" y="340.68" width="0.45" height="0.45" fill="#777"/>
<rect x="78.40" y="350.72" width="0.45" height="0.45" fill="#333"/>
<rect x="69.83" y="346.72" width="0.45" height="0.45" fill="#333"/>
<rect x="74.42" y="349.85" width="0.45" height="0.45" fill="#999"/>
<rect x="71.24" y="334.35" width="0.45" height="0.45" fill="#777"/>
<rect x="61.45" y="357.00" width="0.45" height="0.45" fill="#777"/>
<rect x="85.33" y="330.43" width="0.45" height="0.45" fill="#555"/>
<rect x="73.23" y="347.21" width="0.45" height="0.45" fill="#333"/>
<rect x="109.19" y="340.20" width="0.45" height="0.45" fill="#333"/>
<rect x="91.32" y="367.20" width="0.45" height="0.45" fill="#555"/>
<rect x="99.01" y="340.95" width="0.45" height="0.45" fill="#333"/>
<rect x="108.14" y="348.69" width="0.45" height="0.45" fill="#999"/>
<rect x="90.97" y="339.01" width="0.45" height="0.45" fill="#333"/>
<rect x="95.73" y="353.93" width="0.45" height="0.45" fill="#777"/>
<rect x="91.00" y="367.45" width="0.45" height="0.45" fill="#333"/>
<rect x="100.75" y="354.12" width="0.45" height="0.45" fill="#555"/>
<rect x="103.32" y="361.78" width="0.45" height="0.45" fill="#999"/>
<rect x="90.40" y="359.83" width="0.45" height="0.45" fill="#333"/>
<rect x="96.61" y="356.12" width="0.45" height="0.45" fill="#999"/>
<rect x="105.13" y="356.67" width="0.45" height="0.45" fill="#999"/>
<rect x="95.84" y="342.76" width="0.45" height="0.45" fill="#555"/>
<rect x="85.20" y="330.04" width="0.45" height="0.45" fill="#333"/>
<rect x="97.38" y="344.33" width="0.45" height="0.45" fill="#999"/>
<rect x="85.35" y="354.25" width="0.45" height="0.45" fill="#777"/>
<rect x="96.87" y="358.02" width="0.45" height="0.45" fill="#999"/>
<rect x="105.63" y="362.02" width="0.45" height="0.45" fill="#777"/>
<rect x="85.36" y="326.41" width="0.45" height="0.45" fill="#999"/>
<rect x="84.41" y="334.91" width="0.45" height="0.45" fill="#777"/>
<rect x="95.15" y="323.11" width="0.45" height="0.45" fill="#333"/>
<rect x="87.78" y="341.75" width="0.45" height="0.45" fill="#555"/>
<rect x="92.87" y="345.61" width="0.45" height="0.45" fill="#777"/>
<rect x="117.57" y="339.99" width="0.45" height="0.45" fill="#333"/>
<rect x="99.13" y="352.94" width="0.45" height="0.45" fill="#777"/>
<rect x="96.70" y="325.83" width="0.45" height="0.45" fill="#777"/>
<rect x="87.31" y="362.26" width="0.45" height="0.45" fill="#555"/>
<rect x="86.35" y="340.16" width="0.45" height="0.45" fill="#555"/>
<rect x="103.63" y="337.80" width="0.45" height="0.45" fill="#333"/>
<rect x="84.83" y="333.96" width="0.45" height="0.45" fill="#555"/>
<rect x="108.20" y="340.26" width="0.45" height="0.45" fill="#333"/>
<rect x="85.57" y="351.30" width="0.45" height="0.45" fill="#777"/>
<rect x="98.88" y="337.39" width="0.45" height="0.45" fill="#333"/>
<rect x="95.18" y="332.43" width="0.45" height="0.45" fill="#999"/>
<rect x="87.89" y="341.87" width="0.45" height="0.45" fill="#333"/>
<rect x="104.26" y="352.43" width="0.45" height="0.45" fill="#999"/>
<rect x="98.94" y="335.65" width="0.45" height="0.45" fill="#555"/>
<rect x="90.65" y="333.36" width="0.45" height="0.45" fill="#777"/>
<rect x="91.74" y="331.80" width="0.45" height="0.45" fill="#333"/>
<rect x="94.70" y="308.00" width="0.45" height="0.45" fill="#777"/>
<rect x="93.72" y="342.98" width="0.45" height="0.45" fill="#999"/>
<rect x="89.10" y="344.25" width="0.45" height="0.45" fill="#999"/>
<rect x="110.26" y="351.47" width="0.45" height="0.45" fill="#555"/>
<rect x="96.88" y="352.57" width="0.45" height="0.45" fill="#333"/>
<rect x="103.03" y="354.19" width="0.45" height="0.45" fill="#999"/>
<rect x="109.33" y="349.21" width="0.45" height="0.45" fill="#333"/>
<rect x="107.29" y="338.13" width="0.45" height="0.45" fill="#333"/>
<rect x="99.85" y="341.91" width="0.45" height="0.45" fill="#555"/>
<rect x="95.87" y="343.31" width="0.45" height="0.45" fill="#333"/>
<rect x="102.33" y="343.61" width="0.45" height="0.45" fill="#999"/>
<rect x="103.40" y="349.44" width="0.45" height="0.45" fill="#333"/>
<rect x="106.38" y="340.94" width="0.45" height="0.45" fill="#555"/>
<rect x="97.29" y="318.52" width="0.45" height="0.45" fill="#777"/>
<rect x="91.56" y="339.26" width="0.45" height="0.45" fill="#333"/>
<rect x="100.39" y="328.83" width="0.45" height="0.45" fill="#555"/>
<rect x="94.76" y="349.06" width="0.45" height="0.45" fill="#555"/>
<rect x="86.69" y="316.87" width="0.45" height="0.45" fill="#777"/>
<rect x="97.97" y="331.31" width="0.45" height="0.45" fill="#777"/>
<rect x="98.51" y="313.06" width="0.45" height="0.45" fill="#777"/>
<rect x="107.33" y="355.99" width="0.45" height="0.45" fill="#333"/>
<rect x="85.20" y="340.30" width="0.45" height="0.45" fill="#555"/>
<rect x="109.78" y="364.98" width="0.45" height="0.45" fill="#999"/>
<path d="M88.84,364.00 L88.94,365.33 L88.90,366.68 L87.94,367.87 L87.11,369.13 L85.38,370.09 L83.48,370.97 L81.41,371.83 L78.65,371.99 L76.08,372.35 L73.40,372.61 L71.54,372.67 L69.73,372.38 L68.06,371.84 L66.82,370.83 L65.51,370.01 L64.53,368.98 L63.79,367.84 L63.34,366.61 L63.15,365.32 L62.80,364.00 L63.31,362.65 L63.61,361.26 L64.57,359.96 L65.46,358.51 L66.50,356.99 L67.86,355.66 L69.25,354.36 L70.57,352.94 L71.97,351.76 L73.40,351.02 L75.56,351.71 L77.74,352.76 L79.66,354.32 L81.44,355.88 L83.25,357.29 L85.04,358.63 L86.30,360.06 L87.66,361.34 L88.94,362.62 Z" fill="#fff" fill-opacity="0.75"/>
<path d="M74.94,364.00 L74.97,364.13 L74.91,364.26 L74.89,364.40 L74.73,364.50 L74.60,364.61 L74.43,364.71 L74.18,364.76 L73.95,364.84 L73.68,364.86 L73.40,364.86 L73.22,364.86 L73.04,364.82 L72.88,364.76 L72.71,364.72 L72.61,364.60 L72.47,364.52 L72.40,364.40 L72.40,364.26 L72.37,364.13 L72.36,364.00 L72.37,363.86 L72.47,363.74 L72.52,363.61 L72.62,363.50 L72.72,363.38 L72.83,363.29 L72.97,363.22 L73.12,363.20 L73.25,363.14 L73.40,363.14 L73.62,363.13 L73.83,363.18 L74.05,363.22 L74.25,363.28 L74.43,363.38 L74.60,363.48 L74.74,363.60 L74.84,363.73 L74.88,363.87 Z" fill="none" stroke="#2a2a2a" stroke-width="0.35"/>
<path d="M76.61,364.00 L76.53,364.27 L76.39,364.52 L76.32,364.78 L76.09,365.01 L75.75,365.19 L75.47,365.43 L74.93,365.50 L74.50,365.68 L73.95,365.70 L73.40,365.69 L73.04,365.68 L72.69,365.63 L72.38,365.50 L72.04,365.41 L71.79,365.23 L71.55,365.04 L71.41,364.80 L71.31,364.54 L71.24,364.28 L71.27,364.00 L71.37,363.73 L71.49,363.47 L71.65,363.22 L71.81,362.97 L72.02,362.75 L72.27,362.58 L72.54,362.44 L72.85,362.41 L73.11,362.31 L73.40,362.32 L73.83,362.29 L74.26,362.36 L74.67,362.46 L75.09,362.58 L75.39,362.80 L75.78,362.98 L76.04,363.22 L76.21,363.48 L76.51,363.72 Z" fill="none" stroke="#2a2a2a" stroke-width="0.35"/>
<path d="M77.95,364.00 L78.10,364.40 L78.03,364.80 L77.82,365.18 L77.57,365.56 L77.00,365.83 L76.49,366.14 L75.72,366.27 L75.01,366.45 L74.20,366.49 L73.40,366.60 L72.86,366.54 L72.31,366.50 L71.87,366.25 L71.39,366.08 L70.94,365.87 L70.78,365.47 L70.44,365.18 L70.29,364.81 L70.22,364.41 L70.27,364.00 L70.38,363.60 L70.46,363.18 L70.81,362.84 L71.03,362.46 L71.36,362.16 L71.72,361.88 L72.14,361.70 L72.57,361.62 L72.96,361.41 L73.40,361.45 L74.06,361.41 L74.72,361.47 L75.33,361.66 L75.87,361.92 L76.49,362.14 L76.90,362.49 L77.30,362.84 L77.70,363.20 L77.98,363.59 Z" fill="none" stroke="#2a2a2a" stroke-width="0.35"/>
<path d="M79.71,364.00 L79.70,364.54 L79.52,365.06 L79.35,365.58 L78.75,366.00 L78.22,366.45 L77.30,366.70 L76.47,367.00 L75.60,367.34 L74.47,367.34 L73.40,367.42 L72.69,367.31 L71.94,367.32 L71.33,367.03 L70.79,366.71 L70.25,366.40 L69.70,366.07 L69.43,365.59 L69.42,365.03 L69.10,364.55 L69.35,364.00 L69.37,363.46 L69.58,362.93 L69.84,362.41 L70.34,362.02 L70.66,361.52 L71.22,361.25 L71.69,360.89 L72.23,360.64 L72.82,360.58 L73.40,360.66 L74.27,360.57 L75.10,360.74 L75.96,360.89 L76.77,361.17 L77.34,361.62 L78.11,361.97 L78.70,362.42 L79.26,362.91 L79.49,363.46 Z" fill="none" stroke="#2a2a2a" stroke-width="0.35"/>
<path d="M81.25,364.00 L81.38,364.68 L80.94,365.30 L80.89,365.99 L80.19,366.54 L79.43,367.07 L78.33,367.41 L77.33,367.84 L76.07,368.07 L74.74,368.17 L73.40,368.41 L72.47,368.34 L71.61,368.08 L70.85,367.73 L69.95,367.58 L69.50,366.97 L68.89,366.53 L68.50,365.96 L68.16,365.36 L68.12,364.68 L68.17,364.00 L68.36,363.33 L68.50,362.63 L68.94,362.01 L69.52,361.49 L69.98,360.91 L70.57,360.43 L71.29,360.17 L72.01,360.01 L72.70,359.86 L73.40,359.58 L74.46,359.83 L75.57,359.84 L76.50,360.24 L77.47,360.58 L78.34,361.02 L79.38,361.42 L79.81,362.10 L80.53,362.67 L81.10,363.31 Z" fill="none" stroke="#2a2a2a" stroke-width="0.35"/>
<path d="M82.78,364.00 L82.54,364.78 L82.36,365.55 L82.37,366.39 L81.41,367.00 L80.40,367.56 L79.44,368.18 L78.18,368.68 L76.58,368.85 L75.00,368.98 L73.40,369.06 L72.31,369.09 L71.22,368.99 L70.34,368.48 L69.31,368.24 L68.56,367.69 L67.98,367.04 L67.58,366.33 L67.42,365.55 L67.12,364.81 L67.19,364.00 L67.29,363.18 L67.84,362.45 L68.25,361.64 L68.84,360.84 L69.37,359.89 L70.18,359.12 L70.86,358.13 L71.70,357.36 L72.55,356.69 L73.40,356.21 L74.72,356.51 L75.96,357.34 L77.10,358.25 L78.39,358.99 L79.55,359.83 L80.43,360.75 L81.47,361.54 L82.15,362.37 L82.57,363.18 Z" fill="none" stroke="#2a2a2a" stroke-width="0.35"/>
<path d="M84.01,364.00 L84.32,364.94 L84.18,365.86 L83.46,366.68 L82.86,367.54 L81.86,368.30 L80.55,368.94 L78.97,369.45 L77.22,369.81 L75.29,369.87 L73.40,370.06 L72.13,369.95 L70.85,369.81 L69.82,369.24 L68.80,368.78 L67.74,368.31 L67.01,367.59 L66.67,366.69 L66.10,365.89 L65.95,364.96 L66.06,364.00 L66.36,363.06 L66.91,362.19 L67.37,361.23 L67.84,360.16 L68.57,359.09 L69.61,358.27 L70.53,357.32 L71.43,356.28 L72.37,355.26 L73.40,354.90 L74.95,355.26 L76.44,356.13 L77.92,357.06 L79.37,358.03 L80.54,359.16 L81.46,360.28 L82.56,361.20 L83.34,362.15 L84.09,363.05 Z" fill="none" stroke="#2a2a2a" stroke-width="0.35"/>
<path d="M85.77,364.00 L86.13,365.09 L85.36,366.07 L84.93,367.07 L84.03,367.98 L82.78,368.77 L81.57,369.65 L79.81,370.27 L77.59,370.38 L75.58,370.79 L73.40,370.68 L71.97,370.69 L70.60,370.40 L69.17,370.20 L67.93,369.68 L66.89,368.96 L66.29,367.99 L65.63,367.11 L65.33,366.09 L64.95,365.09 L65.22,364.00 L65.21,362.91 L65.79,361.88 L66.37,360.78 L67.00,359.58 L67.88,358.39 L69.05,357.42 L69.98,356.11 L71.15,355.21 L72.29,354.39 L73.40,353.34 L75.09,354.31 L76.77,355.20 L78.53,356.11 L80.16,357.23 L81.42,358.55 L82.91,359.62 L83.85,360.81 L84.50,361.93 L85.53,362.92 Z" fill="none" stroke="#2a2a2a" stroke-width="0.35"/>
<path d="M87.16,364.00 L87.28,365.19 L87.17,366.38 L86.71,367.54 L85.36,368.47 L83.99,369.38 L82.49,370.29 L80.36,370.80 L78.25,371.39 L75.88,371.72 L73.40,371.65 L71.72,371.83 L70.09,371.57 L68.83,370.71 L67.52,370.10 L66.39,369.34 L65.30,368.55 L64.71,367.47 L64.04,366.43 L63.71,365.25 L64.07,364.00 L64.45,362.81 L64.97,361.65 L65.32,360.30 L66.23,359.04 L67.21,357.71 L68.28,356.32 L69.62,355.24 L70.80,353.90 L72.12,353.04 L73.40,352.33 L75.36,352.87 L77.21,354.06 L79.11,355.20 L80.88,356.49 L82.35,357.91 L83.65,359.26 L85.40,360.34 L86.46,361.57 L87.22,362.77 Z" fill="none" stroke="#2a2a2a" stroke-width="0.35"/>
<path d="M88.84,364.00 L88.94,365.33 L88.90,366.68 L87.94,367.87 L87.11,369.13 L85.38,370.09 L83.48,370.97 L81.41,371.83 L78.65,371.99 L76.08,372.35 L73.40,372.61 L71.54,372.67 L69.73,372.38 L68.06,371.84 L66.82,370.83 L65.51,370.01 L64.53,368.98 L63.79,367.84 L63.34,366.61 L63.15,365.32 L62.80,364.00 L63.31,362.65 L63.61,361.26 L64.57,359.96 L65.46,358.51 L66.50,356.99 L67.86,355.66 L69.25,354.36 L70.57,352.94 L71.97,351.76 L73.40,351.02 L75.56,351.71 L77.74,352.76 L79.66,354.32 L81.44,355.88 L83.25,357.29 L85.04,358.63 L86.30,360.06 L87.66,361.34 L88.94,362.62 Z" fill="none" stroke="#2a2a2a" stroke-width="0.35"/>
<ellipse cx="73.6" cy="364.6" rx="1.6" ry="1.3" fill="#fff"/>
<rect x="83.80" y="299.40" width="44.20" height="73.50" fill="none" stroke="#63AC44" stroke-width="1.5"/>
<text x="125.60" y="308.30" font-size="6.2" font-weight="bold" text-anchor="end" fill="#B83232" textLength="14.80" lengthAdjust="spacingAndGlyphs" stroke="#B83232" stroke-width="0.093">10.38</text>
<text x="89.70" y="391.60" font-size="7.9" font-weight="bold" text-anchor="middle" fill="#111" textLength="23.60" lengthAdjust="spacingAndGlyphs" stroke="#111" stroke-width="0.118">Young</text>
<rect x="146.30" y="298.10" width="78.50" height="76.80" fill="#fff" stroke="#858585" stroke-width="0.8"/>
<line x1="144.70" y1="374.30" x2="146.30" y2="374.30" stroke="#555" stroke-width="0.5"/>
<text x="143.90" y="375.30" font-size="2.8" font-weight="normal" text-anchor="end" fill="#444" stroke="#444" stroke-width="0.12">0</text>
<line x1="145.40" y1="371.40" x2="146.30" y2="371.40" stroke="#777" stroke-width="0.35"/>
<line x1="145.40" y1="368.50" x2="146.30" y2="368.50" stroke="#777" stroke-width="0.35"/>
<line x1="145.40" y1="365.60" x2="146.30" y2="365.60" stroke="#777" stroke-width="0.35"/>
<line x1="145.40" y1="362.70" x2="146.30" y2="362.70" stroke="#777" stroke-width="0.35"/>
<line x1="144.70" y1="359.80" x2="146.30" y2="359.80" stroke="#555" stroke-width="0.5"/>
<text x="143.90" y="360.80" font-size="2.8" font-weight="normal" text-anchor="end" fill="#444" stroke="#444" stroke-width="0.12">50K</text>
<line x1="145.40" y1="356.90" x2="146.30" y2="356.90" stroke="#777" stroke-width="0.35"/>
<line x1="145.40" y1="354.00" x2="146.30" y2="354.00" stroke="#777" stroke-width="0.35"/>
<line x1="145.40" y1="351.10" x2="146.30" y2="351.10" stroke="#777" stroke-width="0.35"/>
<line x1="145.40" y1="348.20" x2="146.30" y2="348.20" stroke="#777" stroke-width="0.35"/>
<line x1="144.70" y1="345.30" x2="146.30" y2="345.30" stroke="#555" stroke-width="0.5"/>
<text x="143.90" y="346.30" font-size="2.8" font-weight="normal" text-anchor="end" fill="#444" stroke="#444" stroke-width="0.12">100K</text>
<line x1="145.40" y1="342.40" x2="146.30" y2="342.40" stroke="#777" stroke-width="0.35"/>
<line x1="145.40" y1="339.50" x2="146.30" y2="339.50" stroke="#777" stroke-width="0.35"/>
<line x1="145.40" y1="336.60" x2="146.30" y2="336.60" stroke="#777" stroke-width="0.35"/>
<line x1="145.40" y1="333.70" x2="146.30" y2="333.70" stroke="#777" stroke-width="0.35"/>
<line x1="144.70" y1="330.80" x2="146.30" y2="330.80" stroke="#555" stroke-width="0.5"/>
<text x="143.90" y="331.80" font-size="2.8" font-weight="normal" text-anchor="end" fill="#444" stroke="#444" stroke-width="0.12">150K</text>
<line x1="145.40" y1="327.90" x2="146.30" y2="327.90" stroke="#777" stroke-width="0.35"/>
<line x1="145.40" y1="325.00" x2="146.30" y2="325.00" stroke="#777" stroke-width="0.35"/>
<line x1="145.40" y1="322.10" x2="146.30" y2="322.10" stroke="#777" stroke-width="0.35"/>
<line x1="145.40" y1="319.20" x2="146.30" y2="319.20" stroke="#777" stroke-width="0.35"/>
<line x1="144.70" y1="316.30" x2="146.30" y2="316.30" stroke="#555" stroke-width="0.5"/>
<text x="143.90" y="317.30" font-size="2.8" font-weight="normal" text-anchor="end" fill="#444" stroke="#444" stroke-width="0.12">200K</text>
<line x1="145.40" y1="313.40" x2="146.30" y2="313.40" stroke="#777" stroke-width="0.35"/>
<line x1="145.40" y1="310.50" x2="146.30" y2="310.50" stroke="#777" stroke-width="0.35"/>
<line x1="145.40" y1="307.60" x2="146.30" y2="307.60" stroke="#777" stroke-width="0.35"/>
<line x1="145.40" y1="304.70" x2="146.30" y2="304.70" stroke="#777" stroke-width="0.35"/>
<line x1="144.70" y1="301.80" x2="146.30" y2="301.80" stroke="#555" stroke-width="0.5"/>
<text x="143.90" y="302.80" font-size="2.8" font-weight="normal" text-anchor="end" fill="#444" stroke="#444" stroke-width="0.12">250K</text>
<line x1="145.40" y1="298.90" x2="146.30" y2="298.90" stroke="#777" stroke-width="0.35"/>
<line x1="167.50" y1="374.90" x2="167.50" y2="376.50" stroke="#555" stroke-width="0.5"/>
<line x1="199.80" y1="374.90" x2="199.80" y2="376.50" stroke="#555" stroke-width="0.5"/>
<line x1="152.00" y1="374.90" x2="152.00" y2="375.80" stroke="#555" stroke-width="0.35"/>
<line x1="154.50" y1="374.90" x2="154.50" y2="375.80" stroke="#555" stroke-width="0.35"/>
<line x1="157.00" y1="374.90" x2="157.00" y2="375.80" stroke="#555" stroke-width="0.35"/>
<line x1="159.50" y1="374.90" x2="159.50" y2="375.80" stroke="#555" stroke-width="0.35"/>
<line x1="162.00" y1="374.90" x2="162.00" y2="375.80" stroke="#555" stroke-width="0.35"/>
<line x1="164.50" y1="374.90" x2="164.50" y2="375.80" stroke="#555" stroke-width="0.35"/>
<line x1="174.00" y1="374.90" x2="174.00" y2="375.80" stroke="#555" stroke-width="0.35"/>
<line x1="179.00" y1="374.90" x2="179.00" y2="375.80" stroke="#555" stroke-width="0.35"/>
<line x1="184.00" y1="374.90" x2="184.00" y2="375.80" stroke="#555" stroke-width="0.35"/>
<line x1="189.00" y1="374.90" x2="189.00" y2="375.80" stroke="#555" stroke-width="0.35"/>
<line x1="194.00" y1="374.90" x2="194.00" y2="375.80" stroke="#555" stroke-width="0.35"/>
<line x1="199.00" y1="374.90" x2="199.00" y2="375.80" stroke="#555" stroke-width="0.35"/>
<line x1="204.00" y1="374.90" x2="204.00" y2="375.80" stroke="#555" stroke-width="0.35"/>
<line x1="209.00" y1="374.90" x2="209.00" y2="375.80" stroke="#555" stroke-width="0.35"/>
<line x1="214.00" y1="374.90" x2="214.00" y2="375.80" stroke="#555" stroke-width="0.35"/>
<text x="167.5" y="381.29999999999995" font-size="2.8" fill="#444" stroke="#444" stroke-width="0.1" text-anchor="middle">0</text>
<text x="199.8" y="381.29999999999995" font-size="2.8" fill="#444" stroke="#444" stroke-width="0.1" text-anchor="middle">10<tspan font-size="1.6" dy="-1">5</tspan></text>
<rect x="172.70" y="353.79" width="0.45" height="0.45" fill="#555"/>
<rect x="174.16" y="358.84" width="0.45" height="0.45" fill="#222"/>
<rect x="165.56" y="341.77" width="0.45" height="0.45" fill="#222"/>
<rect x="172.07" y="354.04" width="0.45" height="0.45" fill="#222"/>
<rect x="176.09" y="363.14" width="0.45" height="0.45" fill="#222"/>
<rect x="160.76" y="350.83" width="0.45" height="0.45" fill="#999"/>
<rect x="165.40" y="358.70" width="0.45" height="0.45" fill="#555"/>
<rect x="174.37" y="354.26" width="0.45" height="0.45" fill="#444"/>
<rect x="171.37" y="348.95" width="0.45" height="0.45" fill="#444"/>
<rect x="177.30" y="366.61" width="0.45" height="0.45" fill="#222"/>
<rect x="177.39" y="356.74" width="0.45" height="0.45" fill="#555"/>
<rect x="161.02" y="347.30" width="0.45" height="0.45" fill="#777"/>
<rect x="150.42" y="350.75" width="0.45" height="0.45" fill="#777"/>
<rect x="180.60" y="357.77" width="0.45" height="0.45" fill="#999"/>
<rect x="180.41" y="350.63" width="0.45" height="0.45" fill="#444"/>
<rect x="173.22" y="352.94" width="0.45" height="0.45" fill="#444"/>
<rect x="177.77" y="334.89" width="0.45" height="0.45" fill="#444"/>
<rect x="179.88" y="349.91" width="0.45" height="0.45" fill="#777"/>
<rect x="168.36" y="349.98" width="0.45" height="0.45" fill="#555"/>
<rect x="165.77" y="363.23" width="0.45" height="0.45" fill="#222"/>
<rect x="169.73" y="352.28" width="0.45" height="0.45" fill="#444"/>
<rect x="178.55" y="360.85" width="0.45" height="0.45" fill="#999"/>
<rect x="175.51" y="361.09" width="0.45" height="0.45" fill="#222"/>
<rect x="174.30" y="356.77" width="0.45" height="0.45" fill="#555"/>
<rect x="171.29" y="356.51" width="0.45" height="0.45" fill="#999"/>
<rect x="179.58" y="350.73" width="0.45" height="0.45" fill="#777"/>
<rect x="158.18" y="364.47" width="0.45" height="0.45" fill="#777"/>
<rect x="177.08" y="358.00" width="0.45" height="0.45" fill="#999"/>
<rect x="159.52" y="352.19" width="0.45" height="0.45" fill="#777"/>
<rect x="181.28" y="350.77" width="0.45" height="0.45" fill="#444"/>
<rect x="178.91" y="354.94" width="0.45" height="0.45" fill="#777"/>
<rect x="176.35" y="356.18" width="0.45" height="0.45" fill="#222"/>
<rect x="177.05" y="358.39" width="0.45" height="0.45" fill="#777"/>
<rect x="166.71" y="351.07" width="0.45" height="0.45" fill="#999"/>
<rect x="185.04" y="354.79" width="0.45" height="0.45" fill="#999"/>
<rect x="174.88" y="354.18" width="0.45" height="0.45" fill="#222"/>
<rect x="169.35" y="347.10" width="0.45" height="0.45" fill="#555"/>
<rect x="174.96" y="348.66" width="0.45" height="0.45" fill="#555"/>
<rect x="164.92" y="358.07" width="0.45" height="0.45" fill="#555"/>
<rect x="189.01" y="352.92" width="0.45" height="0.45" fill="#999"/>
<rect x="189.52" y="347.61" width="0.45" height="0.45" fill="#555"/>
<rect x="179.84" y="348.01" width="0.45" height="0.45" fill="#444"/>
<rect x="182.75" y="364.73" width="0.45" height="0.45" fill="#999"/>
<rect x="193.49" y="350.44" width="0.45" height="0.45" fill="#222"/>
<rect x="165.53" y="350.28" width="0.45" height="0.45" fill="#222"/>
<rect x="190.68" y="348.80" width="0.45" height="0.45" fill="#555"/>
<rect x="174.44" y="360.19" width="0.45" height="0.45" fill="#999"/>
<rect x="177.60" y="354.03" width="0.45" height="0.45" fill="#777"/>
<rect x="184.02" y="337.30" width="0.45" height="0.45" fill="#999"/>
<rect x="174.47" y="351.35" width="0.45" height="0.45" fill="#777"/>
<rect x="179.11" y="353.62" width="0.45" height="0.45" fill="#999"/>
<rect x="180.57" y="349.72" width="0.45" height="0.45" fill="#444"/>
<rect x="187.62" y="349.93" width="0.45" height="0.45" fill="#444"/>
<rect x="171.90" y="348.13" width="0.45" height="0.45" fill="#555"/>
<rect x="163.94" y="358.20" width="0.45" height="0.45" fill="#222"/>
<rect x="174.04" y="357.55" width="0.45" height="0.45" fill="#222"/>
<rect x="168.47" y="352.33" width="0.45" height="0.45" fill="#444"/>
<rect x="188.10" y="355.50" width="0.45" height="0.45" fill="#222"/>
<rect x="176.58" y="370.07" width="0.45" height="0.45" fill="#555"/>
<rect x="179.99" y="357.22" width="0.45" height="0.45" fill="#777"/>
<rect x="175.07" y="358.64" width="0.45" height="0.45" fill="#999"/>
<rect x="168.04" y="352.59" width="0.45" height="0.45" fill="#777"/>
<rect x="176.07" y="350.74" width="0.45" height="0.45" fill="#222"/>
<rect x="169.44" y="349.49" width="0.45" height="0.45" fill="#777"/>
<rect x="159.77" y="357.33" width="0.45" height="0.45" fill="#222"/>
<rect x="187.49" y="359.20" width="0.45" height="0.45" fill="#222"/>
<rect x="174.05" y="359.55" width="0.45" height="0.45" fill="#777"/>
<rect x="177.65" y="358.44" width="0.45" height="0.45" fill="#777"/>
<rect x="174.02" y="370.86" width="0.45" height="0.45" fill="#777"/>
<rect x="180.32" y="342.13" width="0.45" height="0.45" fill="#222"/>
<rect x="186.21" y="339.18" width="0.45" height="0.45" fill="#444"/>
<rect x="179.21" y="361.98" width="0.45" height="0.45" fill="#444"/>
<rect x="186.81" y="343.65" width="0.45" height="0.45" fill="#444"/>
<rect x="155.05" y="369.02" width="0.45" height="0.45" fill="#555"/>
<rect x="188.13" y="349.53" width="0.45" height="0.45" fill="#555"/>
<rect x="153.99" y="363.18" width="0.45" height="0.45" fill="#999"/>
<rect x="168.53" y="348.12" width="0.45" height="0.45" fill="#444"/>
<rect x="167.15" y="372.64" width="0.45" height="0.45" fill="#999"/>
<rect x="173.71" y="352.53" width="0.45" height="0.45" fill="#555"/>
<rect x="185.16" y="358.26" width="0.45" height="0.45" fill="#999"/>
<rect x="183.69" y="350.82" width="0.45" height="0.45" fill="#222"/>
<rect x="177.57" y="354.30" width="0.45" height="0.45" fill="#444"/>
<rect x="177.07" y="356.10" width="0.45" height="0.45" fill="#444"/>
<rect x="156.35" y="364.48" width="0.45" height="0.45" fill="#999"/>
<rect x="174.29" y="364.40" width="0.45" height="0.45" fill="#999"/>
<rect x="185.46" y="360.05" width="0.45" height="0.45" fill="#999"/>
<rect x="153.19" y="352.67" width="0.45" height="0.45" fill="#444"/>
<rect x="170.22" y="349.68" width="0.45" height="0.45" fill="#555"/>
<rect x="163.35" y="361.36" width="0.45" height="0.45" fill="#555"/>
<rect x="154.04" y="359.28" width="0.45" height="0.45" fill="#222"/>
<rect x="186.52" y="355.57" width="0.45" height="0.45" fill="#999"/>
<rect x="177.51" y="354.93" width="0.45" height="0.45" fill="#444"/>
<rect x="169.21" y="354.86" width="0.45" height="0.45" fill="#555"/>
<rect x="187.56" y="345.20" width="0.45" height="0.45" fill="#555"/>
<rect x="171.89" y="362.34" width="0.45" height="0.45" fill="#999"/>
<rect x="170.44" y="345.78" width="0.45" height="0.45" fill="#999"/>
<rect x="190.57" y="355.63" width="0.45" height="0.45" fill="#555"/>
<rect x="177.83" y="353.64" width="0.45" height="0.45" fill="#444"/>
<rect x="172.28" y="369.64" width="0.45" height="0.45" fill="#999"/>
<rect x="178.10" y="359.72" width="0.45" height="0.45" fill="#444"/>
<rect x="172.77" y="350.37" width="0.45" height="0.45" fill="#555"/>
<rect x="167.16" y="354.82" width="0.45" height="0.45" fill="#222"/>
<rect x="181.90" y="359.03" width="0.45" height="0.45" fill="#555"/>
<rect x="181.80" y="356.72" width="0.45" height="0.45" fill="#444"/>
<rect x="169.43" y="350.86" width="0.45" height="0.45" fill="#777"/>
<rect x="164.99" y="352.64" width="0.45" height="0.45" fill="#222"/>
<rect x="190.54" y="365.90" width="0.45" height="0.45" fill="#444"/>
<rect x="157.62" y="351.25" width="0.45" height="0.45" fill="#999"/>
<rect x="164.98" y="352.60" width="0.45" height="0.45" fill="#222"/>
<rect x="167.10" y="369.00" width="0.45" height="0.45" fill="#222"/>
<rect x="178.98" y="352.15" width="0.45" height="0.45" fill="#444"/>
<rect x="169.81" y="349.33" width="0.45" height="0.45" fill="#999"/>
<rect x="180.86" y="350.24" width="0.45" height="0.45" fill="#999"/>
<rect x="173.93" y="339.04" width="0.45" height="0.45" fill="#444"/>
<rect x="190.23" y="340.61" width="0.45" height="0.45" fill="#444"/>
<rect x="175.48" y="353.94" width="0.45" height="0.45" fill="#555"/>
<rect x="175.87" y="347.94" width="0.45" height="0.45" fill="#444"/>
<rect x="172.33" y="367.25" width="0.45" height="0.45" fill="#222"/>
<rect x="172.13" y="356.32" width="0.45" height="0.45" fill="#777"/>
<rect x="176.86" y="367.70" width="0.45" height="0.45" fill="#777"/>
<rect x="164.22" y="365.51" width="0.45" height="0.45" fill="#444"/>
<rect x="176.24" y="365.13" width="0.45" height="0.45" fill="#777"/>
<rect x="165.51" y="367.33" width="0.45" height="0.45" fill="#555"/>
<rect x="167.62" y="361.72" width="0.45" height="0.45" fill="#999"/>
<rect x="172.96" y="356.45" width="0.45" height="0.45" fill="#555"/>
<rect x="184.01" y="371.16" width="0.45" height="0.45" fill="#555"/>
<rect x="185.78" y="357.25" width="0.45" height="0.45" fill="#555"/>
<rect x="172.95" y="348.98" width="0.45" height="0.45" fill="#999"/>
<rect x="178.44" y="354.66" width="0.45" height="0.45" fill="#999"/>
<rect x="175.00" y="356.96" width="0.45" height="0.45" fill="#777"/>
<rect x="194.51" y="355.17" width="0.45" height="0.45" fill="#999"/>
<rect x="165.74" y="339.67" width="0.45" height="0.45" fill="#444"/>
<rect x="171.75" y="357.01" width="0.45" height="0.45" fill="#555"/>
<rect x="164.50" y="347.78" width="0.45" height="0.45" fill="#222"/>
<rect x="172.56" y="349.19" width="0.45" height="0.45" fill="#555"/>
<rect x="170.01" y="349.61" width="0.45" height="0.45" fill="#555"/>
<rect x="168.47" y="353.47" width="0.45" height="0.45" fill="#777"/>
<rect x="165.43" y="341.43" width="0.45" height="0.45" fill="#999"/>
<rect x="165.67" y="351.99" width="0.45" height="0.45" fill="#222"/>
<rect x="171.95" y="359.54" width="0.45" height="0.45" fill="#999"/>
<rect x="167.78" y="351.17" width="0.45" height="0.45" fill="#777"/>
<rect x="168.17" y="356.73" width="0.45" height="0.45" fill="#777"/>
<rect x="180.19" y="337.92" width="0.45" height="0.45" fill="#444"/>
<rect x="170.02" y="350.19" width="0.45" height="0.45" fill="#999"/>
<rect x="165.52" y="366.12" width="0.45" height="0.45" fill="#444"/>
<rect x="171.01" y="350.58" width="0.45" height="0.45" fill="#444"/>
<rect x="175.66" y="356.72" width="0.45" height="0.45" fill="#777"/>
<rect x="162.22" y="347.29" width="0.45" height="0.45" fill="#777"/>
<rect x="163.10" y="360.05" width="0.45" height="0.45" fill="#444"/>
<rect x="172.25" y="348.25" width="0.45" height="0.45" fill="#777"/>
<rect x="174.50" y="365.22" width="0.45" height="0.45" fill="#222"/>
<rect x="187.95" y="346.33" width="0.45" height="0.45" fill="#222"/>
<rect x="175.12" y="350.16" width="0.45" height="0.45" fill="#999"/>
<rect x="162.79" y="356.97" width="0.45" height="0.45" fill="#222"/>
<rect x="158.42" y="358.40" width="0.45" height="0.45" fill="#999"/>
<rect x="186.07" y="354.28" width="0.45" height="0.45" fill="#777"/>
<rect x="163.10" y="347.75" width="0.45" height="0.45" fill="#999"/>
<rect x="156.43" y="361.78" width="0.45" height="0.45" fill="#777"/>
<rect x="185.86" y="348.05" width="0.45" height="0.45" fill="#777"/>
<rect x="159.71" y="358.61" width="0.45" height="0.45" fill="#555"/>
<rect x="175.08" y="346.55" width="0.45" height="0.45" fill="#444"/>
<rect x="173.44" y="357.78" width="0.45" height="0.45" fill="#555"/>
<rect x="174.79" y="361.30" width="0.45" height="0.45" fill="#999"/>
<rect x="178.50" y="356.94" width="0.45" height="0.45" fill="#777"/>
<rect x="169.14" y="344.71" width="0.45" height="0.45" fill="#222"/>
<rect x="167.06" y="358.20" width="0.45" height="0.45" fill="#777"/>
<rect x="168.71" y="357.41" width="0.45" height="0.45" fill="#777"/>
<rect x="162.15" y="362.68" width="0.45" height="0.45" fill="#222"/>
<rect x="183.53" y="345.66" width="0.45" height="0.45" fill="#777"/>
<rect x="152.70" y="357.41" width="0.45" height="0.45" fill="#555"/>
<rect x="174.39" y="341.28" width="0.45" height="0.45" fill="#777"/>
<rect x="159.76" y="352.29" width="0.45" height="0.45" fill="#999"/>
<rect x="182.34" y="350.15" width="0.45" height="0.45" fill="#555"/>
<rect x="171.99" y="355.67" width="0.45" height="0.45" fill="#555"/>
<rect x="166.14" y="344.07" width="0.45" height="0.45" fill="#444"/>
<rect x="184.88" y="341.76" width="0.45" height="0.45" fill="#999"/>
<rect x="154.84" y="351.75" width="0.45" height="0.45" fill="#999"/>
<rect x="172.06" y="354.35" width="0.45" height="0.45" fill="#777"/>
<rect x="180.59" y="360.87" width="0.45" height="0.45" fill="#222"/>
<rect x="173.49" y="361.22" width="0.45" height="0.45" fill="#777"/>
<rect x="166.93" y="365.49" width="0.45" height="0.45" fill="#777"/>
<rect x="170.09" y="371.93" width="0.45" height="0.45" fill="#777"/>
<rect x="173.95" y="357.89" width="0.45" height="0.45" fill="#222"/>
<rect x="173.98" y="352.71" width="0.45" height="0.45" fill="#555"/>
<rect x="174.55" y="357.60" width="0.45" height="0.45" fill="#222"/>
<rect x="174.59" y="337.89" width="0.45" height="0.45" fill="#444"/>
<rect x="180.67" y="346.74" width="0.45" height="0.45" fill="#444"/>
<rect x="183.40" y="362.42" width="0.45" height="0.45" fill="#999"/>
<rect x="183.53" y="352.48" width="0.45" height="0.45" fill="#555"/>
<rect x="174.58" y="350.78" width="0.45" height="0.45" fill="#999"/>
<rect x="187.96" y="352.48" width="0.45" height="0.45" fill="#444"/>
<rect x="178.20" y="354.26" width="0.45" height="0.45" fill="#222"/>
<rect x="184.63" y="351.04" width="0.45" height="0.45" fill="#777"/>
<rect x="162.64" y="361.71" width="0.45" height="0.45" fill="#222"/>
<rect x="159.80" y="347.79" width="0.45" height="0.45" fill="#444"/>
<rect x="186.42" y="362.20" width="0.45" height="0.45" fill="#999"/>
<rect x="179.49" y="343.27" width="0.45" height="0.45" fill="#999"/>
<rect x="175.69" y="348.67" width="0.45" height="0.45" fill="#777"/>
<rect x="172.20" y="352.75" width="0.45" height="0.45" fill="#555"/>
<rect x="183.37" y="355.58" width="0.45" height="0.45" fill="#777"/>
<rect x="192.05" y="365.97" width="0.45" height="0.45" fill="#777"/>
<rect x="171.45" y="347.78" width="0.45" height="0.45" fill="#999"/>
<rect x="180.97" y="353.80" width="0.45" height="0.45" fill="#999"/>
<rect x="175.55" y="347.27" width="0.45" height="0.45" fill="#999"/>
<rect x="171.97" y="368.59" width="0.45" height="0.45" fill="#222"/>
<rect x="172.22" y="362.54" width="0.45" height="0.45" fill="#777"/>
<rect x="161.90" y="350.58" width="0.45" height="0.45" fill="#555"/>
<rect x="191.28" y="357.45" width="0.45" height="0.45" fill="#444"/>
<rect x="165.60" y="355.51" width="0.45" height="0.45" fill="#555"/>
<rect x="164.03" y="367.16" width="0.45" height="0.45" fill="#555"/>
<rect x="163.81" y="352.10" width="0.45" height="0.45" fill="#444"/>
<rect x="186.33" y="360.72" width="0.45" height="0.45" fill="#777"/>
<rect x="167.72" y="353.24" width="0.45" height="0.45" fill="#777"/>
<rect x="167.64" y="348.55" width="0.45" height="0.45" fill="#222"/>
<rect x="179.31" y="357.73" width="0.45" height="0.45" fill="#444"/>
<rect x="169.89" y="363.67" width="0.45" height="0.45" fill="#777"/>
<rect x="166.20" y="352.88" width="0.45" height="0.45" fill="#999"/>
<rect x="167.18" y="364.53" width="0.45" height="0.45" fill="#555"/>
<rect x="171.73" y="359.75" width="0.45" height="0.45" fill="#444"/>
<rect x="168.06" y="365.57" width="0.45" height="0.45" fill="#444"/>
<rect x="179.29" y="365.70" width="0.45" height="0.45" fill="#555"/>
<rect x="170.08" y="336.06" width="0.45" height="0.45" fill="#999"/>
<rect x="153.27" y="343.78" width="0.45" height="0.45" fill="#444"/>
<rect x="171.56" y="361.35" width="0.45" height="0.45" fill="#555"/>
<rect x="185.08" y="355.77" width="0.45" height="0.45" fill="#555"/>
<rect x="176.89" y="355.66" width="0.45" height="0.45" fill="#555"/>
<rect x="172.48" y="351.56" width="0.45" height="0.45" fill="#777"/>
<rect x="175.13" y="355.66" width="0.45" height="0.45" fill="#555"/>
<rect x="164.48" y="356.44" width="0.45" height="0.45" fill="#444"/>
<rect x="180.71" y="353.85" width="0.45" height="0.45" fill="#777"/>
<rect x="176.49" y="356.69" width="0.45" height="0.45" fill="#777"/>
<rect x="185.33" y="359.43" width="0.45" height="0.45" fill="#222"/>
<rect x="183.51" y="365.42" width="0.45" height="0.45" fill="#555"/>
<rect x="179.85" y="357.70" width="0.45" height="0.45" fill="#999"/>
<rect x="175.11" y="345.48" width="0.45" height="0.45" fill="#999"/>
<rect x="175.67" y="363.41" width="0.45" height="0.45" fill="#777"/>
<rect x="180.35" y="351.80" width="0.45" height="0.45" fill="#999"/>
<rect x="181.67" y="354.63" width="0.45" height="0.45" fill="#999"/>
<rect x="195.23" y="361.56" width="0.45" height="0.45" fill="#222"/>
<rect x="179.81" y="353.45" width="0.45" height="0.45" fill="#444"/>
<rect x="173.66" y="357.87" width="0.45" height="0.45" fill="#444"/>
<rect x="175.64" y="357.45" width="0.45" height="0.45" fill="#222"/>
<rect x="162.45" y="360.82" width="0.45" height="0.45" fill="#777"/>
<rect x="172.33" y="359.91" width="0.45" height="0.45" fill="#555"/>
<rect x="171.12" y="347.63" width="0.45" height="0.45" fill="#444"/>
<rect x="188.07" y="349.33" width="0.45" height="0.45" fill="#999"/>
<rect x="162.90" y="341.17" width="0.45" height="0.45" fill="#777"/>
<rect x="178.82" y="358.30" width="0.45" height="0.45" fill="#444"/>
<rect x="188.13" y="347.87" width="0.45" height="0.45" fill="#222"/>
<rect x="188.86" y="359.54" width="0.45" height="0.45" fill="#999"/>
<rect x="173.92" y="345.92" width="0.45" height="0.45" fill="#555"/>
<rect x="164.61" y="357.94" width="0.45" height="0.45" fill="#555"/>
<rect x="167.32" y="339.09" width="0.45" height="0.45" fill="#999"/>
<rect x="164.64" y="353.13" width="0.45" height="0.45" fill="#999"/>
<rect x="183.27" y="356.85" width="0.45" height="0.45" fill="#555"/>
<rect x="172.36" y="354.03" width="0.45" height="0.45" fill="#444"/>
<rect x="190.62" y="351.85" width="0.45" height="0.45" fill="#999"/>
<rect x="172.43" y="354.25" width="0.45" height="0.45" fill="#555"/>
<rect x="160.45" y="349.52" width="0.45" height="0.45" fill="#444"/>
<rect x="161.16" y="356.87" width="0.45" height="0.45" fill="#555"/>
<rect x="178.98" y="363.44" width="0.45" height="0.45" fill="#777"/>
<rect x="183.95" y="353.48" width="0.45" height="0.45" fill="#777"/>
<rect x="167.30" y="364.03" width="0.45" height="0.45" fill="#444"/>
<rect x="167.35" y="364.44" width="0.45" height="0.45" fill="#555"/>
<rect x="169.25" y="348.96" width="0.45" height="0.45" fill="#999"/>
<rect x="177.76" y="355.69" width="0.45" height="0.45" fill="#555"/>
<rect x="163.40" y="371.62" width="0.45" height="0.45" fill="#777"/>
<rect x="185.10" y="345.19" width="0.45" height="0.45" fill="#222"/>
<rect x="167.83" y="347.68" width="0.45" height="0.45" fill="#777"/>
<rect x="184.26" y="357.83" width="0.45" height="0.45" fill="#999"/>
<rect x="174.51" y="345.20" width="0.45" height="0.45" fill="#222"/>
<rect x="177.27" y="363.46" width="0.45" height="0.45" fill="#555"/>
<rect x="161.11" y="359.11" width="0.45" height="0.45" fill="#222"/>
<rect x="186.48" y="356.78" width="0.45" height="0.45" fill="#444"/>
<rect x="172.06" y="349.15" width="0.45" height="0.45" fill="#222"/>
<rect x="170.23" y="354.00" width="0.45" height="0.45" fill="#222"/>
<rect x="169.63" y="355.84" width="0.45" height="0.45" fill="#444"/>
<rect x="159.71" y="355.11" width="0.45" height="0.45" fill="#999"/>
<rect x="171.42" y="348.03" width="0.45" height="0.45" fill="#777"/>
<rect x="180.68" y="354.35" width="0.45" height="0.45" fill="#999"/>
<rect x="177.60" y="358.59" width="0.45" height="0.45" fill="#999"/>
<rect x="155.52" y="354.25" width="0.45" height="0.45" fill="#222"/>
<rect x="171.39" y="367.20" width="0.45" height="0.45" fill="#777"/>
<rect x="165.52" y="365.41" width="0.45" height="0.45" fill="#555"/>
<rect x="177.15" y="349.84" width="0.45" height="0.45" fill="#555"/>
<rect x="180.19" y="347.14" width="0.45" height="0.45" fill="#777"/>
<rect x="180.49" y="349.30" width="0.45" height="0.45" fill="#777"/>
<rect x="167.58" y="362.33" width="0.45" height="0.45" fill="#999"/>
<rect x="159.01" y="366.34" width="0.45" height="0.45" fill="#444"/>
<rect x="180.60" y="354.38" width="0.45" height="0.45" fill="#777"/>
<rect x="175.60" y="367.04" width="0.45" height="0.45" fill="#222"/>
<rect x="169.77" y="362.21" width="0.45" height="0.45" fill="#777"/>
<rect x="163.97" y="361.78" width="0.45" height="0.45" fill="#444"/>
<rect x="171.53" y="355.06" width="0.45" height="0.45" fill="#999"/>
<rect x="181.89" y="353.64" width="0.45" height="0.45" fill="#222"/>
<rect x="180.82" y="349.64" width="0.45" height="0.45" fill="#999"/>
<rect x="175.34" y="354.34" width="0.45" height="0.45" fill="#444"/>
<rect x="162.92" y="360.47" width="0.45" height="0.45" fill="#444"/>
<rect x="187.99" y="360.53" width="0.45" height="0.45" fill="#555"/>
<rect x="166.70" y="364.13" width="0.45" height="0.45" fill="#222"/>
<rect x="184.50" y="344.01" width="0.45" height="0.45" fill="#999"/>
<rect x="168.27" y="359.18" width="0.45" height="0.45" fill="#777"/>
<rect x="175.69" y="353.64" width="0.45" height="0.45" fill="#222"/>
<rect x="175.31" y="365.58" width="0.45" height="0.45" fill="#555"/>
<rect x="188.91" y="354.81" width="0.45" height="0.45" fill="#777"/>
<rect x="189.07" y="353.39" width="0.45" height="0.45" fill="#222"/>
<rect x="161.01" y="358.73" width="0.45" height="0.45" fill="#222"/>
<rect x="189.39" y="358.56" width="0.45" height="0.45" fill="#555"/>
<rect x="167.98" y="360.77" width="0.45" height="0.45" fill="#444"/>
<rect x="162.59" y="353.24" width="0.45" height="0.45" fill="#444"/>
<rect x="175.76" y="357.49" width="0.45" height="0.45" fill="#777"/>
<rect x="169.12" y="351.45" width="0.45" height="0.45" fill="#999"/>
<rect x="180.23" y="361.09" width="0.45" height="0.45" fill="#555"/>
<rect x="161.08" y="357.61" width="0.45" height="0.45" fill="#777"/>
<rect x="185.02" y="348.87" width="0.45" height="0.45" fill="#444"/>
<rect x="193.40" y="362.55" width="0.45" height="0.45" fill="#999"/>
<rect x="167.00" y="372.06" width="0.45" height="0.45" fill="#555"/>
<rect x="166.65" y="356.59" width="0.45" height="0.45" fill="#777"/>
<rect x="176.58" y="352.35" width="0.45" height="0.45" fill="#777"/>
<rect x="163.41" y="351.00" width="0.45" height="0.45" fill="#555"/>
<rect x="190.78" y="356.81" width="0.45" height="0.45" fill="#777"/>
<rect x="172.22" y="363.94" width="0.45" height="0.45" fill="#222"/>
<rect x="186.60" y="348.84" width="0.45" height="0.45" fill="#555"/>
<rect x="175.05" y="350.00" width="0.45" height="0.45" fill="#555"/>
<rect x="175.13" y="359.46" width="0.45" height="0.45" fill="#555"/>
<rect x="167.70" y="344.95" width="0.45" height="0.45" fill="#444"/>
<rect x="160.52" y="344.08" width="0.45" height="0.45" fill="#222"/>
<rect x="170.49" y="362.04" width="0.45" height="0.45" fill="#999"/>
<rect x="170.84" y="357.79" width="0.45" height="0.45" fill="#555"/>
<rect x="169.68" y="361.43" width="0.45" height="0.45" fill="#444"/>
<rect x="181.56" y="361.43" width="0.45" height="0.45" fill="#555"/>
<rect x="154.46" y="352.02" width="0.45" height="0.45" fill="#444"/>
<rect x="173.26" y="368.05" width="0.45" height="0.45" fill="#777"/>
<rect x="181.37" y="353.81" width="0.45" height="0.45" fill="#555"/>
<rect x="177.38" y="347.58" width="0.45" height="0.45" fill="#222"/>
<rect x="188.87" y="369.11" width="0.45" height="0.45" fill="#777"/>
<rect x="189.92" y="352.42" width="0.45" height="0.45" fill="#555"/>
<rect x="181.60" y="358.77" width="0.45" height="0.45" fill="#555"/>
<rect x="164.35" y="353.24" width="0.45" height="0.45" fill="#555"/>
<rect x="159.57" y="348.41" width="0.45" height="0.45" fill="#555"/>
<rect x="179.10" y="358.22" width="0.45" height="0.45" fill="#222"/>
<rect x="158.25" y="343.56" width="0.45" height="0.45" fill="#555"/>
<rect x="179.49" y="352.49" width="0.45" height="0.45" fill="#222"/>
<rect x="167.37" y="349.12" width="0.45" height="0.45" fill="#555"/>
<rect x="171.35" y="352.19" width="0.45" height="0.45" fill="#222"/>
<rect x="181.23" y="353.02" width="0.45" height="0.45" fill="#777"/>
<rect x="178.91" y="358.41" width="0.45" height="0.45" fill="#999"/>
<rect x="180.51" y="360.79" width="0.45" height="0.45" fill="#999"/>
<rect x="161.05" y="360.61" width="0.45" height="0.45" fill="#444"/>
<rect x="183.87" y="348.27" width="0.45" height="0.45" fill="#777"/>
<rect x="158.09" y="344.00" width="0.45" height="0.45" fill="#555"/>
<rect x="182.48" y="356.37" width="0.45" height="0.45" fill="#777"/>
<rect x="167.79" y="356.75" width="0.45" height="0.45" fill="#555"/>
<rect x="185.11" y="361.22" width="0.45" height="0.45" fill="#999"/>
<rect x="184.56" y="349.17" width="0.45" height="0.45" fill="#222"/>
<rect x="169.32" y="357.71" width="0.45" height="0.45" fill="#222"/>
<rect x="189.93" y="350.89" width="0.45" height="0.45" fill="#222"/>
<rect x="167.28" y="346.44" width="0.45" height="0.45" fill="#999"/>
<rect x="176.85" y="354.59" width="0.45" height="0.45" fill="#555"/>
<rect x="174.19" y="358.63" width="0.45" height="0.45" fill="#999"/>
<rect x="178.70" y="367.66" width="0.45" height="0.45" fill="#999"/>
<rect x="175.67" y="359.71" width="0.45" height="0.45" fill="#444"/>
<rect x="171.59" y="358.48" width="0.45" height="0.45" fill="#999"/>
<rect x="191.79" y="355.25" width="0.45" height="0.45" fill="#444"/>
<rect x="185.18" y="354.32" width="0.45" height="0.45" fill="#444"/>
<rect x="187.92" y="363.95" width="0.45" height="0.45" fill="#444"/>
<rect x="189.83" y="356.15" width="0.45" height="0.45" fill="#444"/>
<rect x="172.64" y="354.34" width="0.45" height="0.45" fill="#555"/>
<rect x="188.01" y="358.72" width="0.45" height="0.45" fill="#999"/>
<rect x="176.46" y="356.66" width="0.45" height="0.45" fill="#777"/>
<rect x="175.89" y="346.73" width="0.45" height="0.45" fill="#222"/>
<rect x="167.92" y="356.47" width="0.45" height="0.45" fill="#999"/>
<rect x="189.16" y="358.29" width="0.45" height="0.45" fill="#999"/>
<rect x="169.88" y="364.53" width="0.45" height="0.45" fill="#222"/>
<rect x="183.54" y="357.98" width="0.45" height="0.45" fill="#777"/>
<rect x="170.15" y="356.50" width="0.45" height="0.45" fill="#777"/>
<rect x="177.31" y="356.28" width="0.45" height="0.45" fill="#999"/>
<rect x="176.79" y="357.92" width="0.45" height="0.45" fill="#999"/>
<rect x="166.39" y="348.45" width="0.45" height="0.45" fill="#555"/>
<rect x="165.10" y="361.42" width="0.45" height="0.45" fill="#555"/>
<rect x="162.24" y="357.74" width="0.45" height="0.45" fill="#222"/>
<rect x="175.19" y="351.68" width="0.45" height="0.45" fill="#999"/>
<rect x="172.86" y="350.21" width="0.45" height="0.45" fill="#777"/>
<rect x="181.10" y="350.32" width="0.45" height="0.45" fill="#777"/>
<rect x="162.29" y="361.73" width="0.45" height="0.45" fill="#555"/>
<rect x="162.07" y="359.60" width="0.45" height="0.45" fill="#555"/>
<rect x="187.14" y="351.93" width="0.45" height="0.45" fill="#777"/>
<rect x="189.50" y="360.41" width="0.45" height="0.45" fill="#222"/>
<rect x="160.47" y="359.80" width="0.45" height="0.45" fill="#555"/>
<rect x="178.34" y="346.74" width="0.45" height="0.45" fill="#999"/>
<rect x="185.13" y="352.58" width="0.45" height="0.45" fill="#222"/>
<rect x="158.49" y="362.57" width="0.45" height="0.45" fill="#777"/>
<rect x="183.72" y="346.75" width="0.45" height="0.45" fill="#555"/>
<rect x="167.23" y="351.16" width="0.45" height="0.45" fill="#999"/>
<rect x="168.79" y="354.81" width="0.45" height="0.45" fill="#777"/>
<rect x="174.69" y="358.31" width="0.45" height="0.45" fill="#999"/>
<rect x="163.72" y="363.78" width="0.45" height="0.45" fill="#999"/>
<rect x="175.42" y="362.33" width="0.45" height="0.45" fill="#999"/>
<rect x="190.41" y="352.94" width="0.45" height="0.45" fill="#999"/>
<rect x="168.79" y="347.04" width="0.45" height="0.45" fill="#999"/>
<rect x="189.27" y="349.33" width="0.45" height="0.45" fill="#555"/>
<rect x="181.07" y="356.01" width="0.45" height="0.45" fill="#555"/>
<rect x="181.37" y="351.92" width="0.45" height="0.45" fill="#444"/>
<rect x="181.96" y="348.40" width="0.45" height="0.45" fill="#777"/>
<rect x="187.40" y="359.87" width="0.45" height="0.45" fill="#222"/>
<rect x="183.28" y="359.69" width="0.45" height="0.45" fill="#777"/>
<rect x="166.80" y="358.09" width="0.45" height="0.45" fill="#555"/>
<rect x="170.99" y="360.74" width="0.45" height="0.45" fill="#999"/>
<rect x="158.65" y="346.75" width="0.45" height="0.45" fill="#444"/>
<rect x="180.86" y="363.11" width="0.45" height="0.45" fill="#222"/>
<rect x="172.17" y="365.21" width="0.45" height="0.45" fill="#777"/>
<rect x="166.72" y="350.49" width="0.45" height="0.45" fill="#444"/>
<rect x="174.14" y="351.56" width="0.45" height="0.45" fill="#777"/>
<rect x="184.39" y="361.76" width="0.45" height="0.45" fill="#999"/>
<rect x="160.70" y="355.87" width="0.45" height="0.45" fill="#222"/>
<rect x="179.73" y="356.60" width="0.45" height="0.45" fill="#444"/>
<rect x="175.66" y="343.17" width="0.45" height="0.45" fill="#555"/>
<rect x="173.47" y="355.77" width="0.45" height="0.45" fill="#777"/>
<rect x="177.96" y="361.11" width="0.45" height="0.45" fill="#444"/>
<rect x="156.96" y="354.98" width="0.45" height="0.45" fill="#555"/>
<rect x="190.10" y="361.09" width="0.45" height="0.45" fill="#222"/>
<rect x="164.80" y="358.03" width="0.45" height="0.45" fill="#222"/>
<rect x="181.63" y="348.01" width="0.45" height="0.45" fill="#999"/>
<rect x="163.38" y="360.66" width="0.45" height="0.45" fill="#555"/>
<rect x="175.38" y="355.95" width="0.45" height="0.45" fill="#555"/>
<rect x="184.30" y="369.99" width="0.45" height="0.45" fill="#777"/>
<rect x="183.96" y="341.32" width="0.45" height="0.45" fill="#222"/>
<rect x="170.07" y="356.28" width="0.45" height="0.45" fill="#777"/>
<rect x="164.70" y="350.48" width="0.45" height="0.45" fill="#777"/>
<rect x="184.23" y="346.58" width="0.45" height="0.45" fill="#444"/>
<rect x="171.28" y="358.68" width="0.45" height="0.45" fill="#999"/>
<rect x="166.59" y="348.61" width="0.45" height="0.45" fill="#444"/>
<rect x="180.93" y="351.38" width="0.45" height="0.45" fill="#444"/>
<rect x="174.44" y="358.92" width="0.45" height="0.45" fill="#444"/>
<rect x="176.40" y="358.58" width="0.45" height="0.45" fill="#222"/>
<rect x="180.85" y="365.81" width="0.45" height="0.45" fill="#777"/>
<rect x="162.70" y="357.02" width="0.45" height="0.45" fill="#999"/>
<rect x="154.60" y="360.02" width="0.45" height="0.45" fill="#999"/>
<rect x="157.55" y="338.93" width="0.45" height="0.45" fill="#555"/>
<rect x="182.32" y="347.59" width="0.45" height="0.45" fill="#444"/>
<rect x="164.59" y="357.91" width="0.45" height="0.45" fill="#555"/>
<rect x="177.46" y="346.03" width="0.45" height="0.45" fill="#555"/>
<rect x="166.25" y="354.72" width="0.45" height="0.45" fill="#777"/>
<rect x="182.39" y="356.57" width="0.45" height="0.45" fill="#555"/>
<rect x="189.94" y="361.49" width="0.45" height="0.45" fill="#222"/>
<rect x="165.97" y="349.49" width="0.45" height="0.45" fill="#777"/>
<rect x="154.43" y="346.59" width="0.45" height="0.45" fill="#222"/>
<rect x="158.41" y="358.96" width="0.45" height="0.45" fill="#444"/>
<rect x="169.56" y="362.16" width="0.45" height="0.45" fill="#444"/>
<rect x="183.50" y="352.99" width="0.45" height="0.45" fill="#555"/>
<rect x="177.75" y="354.68" width="0.45" height="0.45" fill="#444"/>
<rect x="187.69" y="357.67" width="0.45" height="0.45" fill="#777"/>
<rect x="161.79" y="353.55" width="0.45" height="0.45" fill="#555"/>
<rect x="168.88" y="359.09" width="0.45" height="0.45" fill="#777"/>
<rect x="176.08" y="344.57" width="0.45" height="0.45" fill="#222"/>
<rect x="177.17" y="345.20" width="0.45" height="0.45" fill="#222"/>
<rect x="168.48" y="362.85" width="0.45" height="0.45" fill="#777"/>
<rect x="170.93" y="365.97" width="0.45" height="0.45" fill="#999"/>
<rect x="179.67" y="350.49" width="0.45" height="0.45" fill="#999"/>
<rect x="163.63" y="341.64" width="0.45" height="0.45" fill="#555"/>
<rect x="187.65" y="352.82" width="0.45" height="0.45" fill="#777"/>
<rect x="183.75" y="362.97" width="0.45" height="0.45" fill="#222"/>
<rect x="170.80" y="361.33" width="0.45" height="0.45" fill="#555"/>
<rect x="179.18" y="345.39" width="0.45" height="0.45" fill="#999"/>
<rect x="185.16" y="360.78" width="0.45" height="0.45" fill="#999"/>
<rect x="168.48" y="360.07" width="0.45" height="0.45" fill="#444"/>
<rect x="181.85" y="353.07" width="0.45" height="0.45" fill="#777"/>
<rect x="178.24" y="359.85" width="0.45" height="0.45" fill="#222"/>
<rect x="162.80" y="354.58" width="0.45" height="0.45" fill="#999"/>
<rect x="181.93" y="356.49" width="0.45" height="0.45" fill="#999"/>
<rect x="179.95" y="359.99" width="0.45" height="0.45" fill="#444"/>
<rect x="179.82" y="364.76" width="0.45" height="0.45" fill="#999"/>
<rect x="175.96" y="351.08" width="0.45" height="0.45" fill="#777"/>
<rect x="182.25" y="356.81" width="0.45" height="0.45" fill="#444"/>
<rect x="186.14" y="353.17" width="0.45" height="0.45" fill="#777"/>
<rect x="174.67" y="360.15" width="0.45" height="0.45" fill="#777"/>
<rect x="178.87" y="352.39" width="0.45" height="0.45" fill="#999"/>
<rect x="183.97" y="354.24" width="0.45" height="0.45" fill="#555"/>
<rect x="175.87" y="346.85" width="0.45" height="0.45" fill="#777"/>
<rect x="190.21" y="352.29" width="0.45" height="0.45" fill="#999"/>
<rect x="178.40" y="359.06" width="0.45" height="0.45" fill="#777"/>
<rect x="182.05" y="348.67" width="0.45" height="0.45" fill="#222"/>
<rect x="171.40" y="346.81" width="0.45" height="0.45" fill="#222"/>
<rect x="170.66" y="366.59" width="0.45" height="0.45" fill="#555"/>
<rect x="163.74" y="357.63" width="0.45" height="0.45" fill="#777"/>
<rect x="190.58" y="363.38" width="0.45" height="0.45" fill="#777"/>
<rect x="189.56" y="344.28" width="0.45" height="0.45" fill="#777"/>
<rect x="184.04" y="357.71" width="0.45" height="0.45" fill="#444"/>
<rect x="171.20" y="356.89" width="0.45" height="0.45" fill="#444"/>
<rect x="194.48" y="357.85" width="0.45" height="0.45" fill="#555"/>
<rect x="175.26" y="351.32" width="0.45" height="0.45" fill="#555"/>
<rect x="182.84" y="351.07" width="0.45" height="0.45" fill="#444"/>
<rect x="174.56" y="347.13" width="0.45" height="0.45" fill="#999"/>
<rect x="177.65" y="355.09" width="0.45" height="0.45" fill="#555"/>
<rect x="175.10" y="358.89" width="0.45" height="0.45" fill="#999"/>
<rect x="169.70" y="354.41" width="0.45" height="0.45" fill="#555"/>
<rect x="174.36" y="358.56" width="0.45" height="0.45" fill="#444"/>
<rect x="159.99" y="361.01" width="0.45" height="0.45" fill="#777"/>
<rect x="189.82" y="360.12" width="0.45" height="0.45" fill="#777"/>
<rect x="172.65" y="354.27" width="0.45" height="0.45" fill="#999"/>
<rect x="161.23" y="349.94" width="0.45" height="0.45" fill="#555"/>
<rect x="162.78" y="359.16" width="0.45" height="0.45" fill="#444"/>
<rect x="168.77" y="353.06" width="0.45" height="0.45" fill="#222"/>
<rect x="165.58" y="354.03" width="0.45" height="0.45" fill="#999"/>
<rect x="158.79" y="351.64" width="0.45" height="0.45" fill="#999"/>
<rect x="165.56" y="352.68" width="0.45" height="0.45" fill="#777"/>
<rect x="182.57" y="356.87" width="0.45" height="0.45" fill="#555"/>
<rect x="173.96" y="356.27" width="0.45" height="0.45" fill="#222"/>
<rect x="165.79" y="364.42" width="0.45" height="0.45" fill="#222"/>
<rect x="175.98" y="343.69" width="0.45" height="0.45" fill="#555"/>
<rect x="179.61" y="359.85" width="0.45" height="0.45" fill="#555"/>
<rect x="176.17" y="351.00" width="0.45" height="0.45" fill="#777"/>
<rect x="184.20" y="354.04" width="0.45" height="0.45" fill="#444"/>
<rect x="175.22" y="352.66" width="0.45" height="0.45" fill="#777"/>
<rect x="179.88" y="356.08" width="0.45" height="0.45" fill="#444"/>
<rect x="179.90" y="350.99" width="0.45" height="0.45" fill="#555"/>
<rect x="167.37" y="353.57" width="0.45" height="0.45" fill="#444"/>
<rect x="169.97" y="368.58" width="0.45" height="0.45" fill="#222"/>
<rect x="179.38" y="350.30" width="0.45" height="0.45" fill="#222"/>
<rect x="176.94" y="347.86" width="0.45" height="0.45" fill="#777"/>
<rect x="173.20" y="340.16" width="0.45" height="0.45" fill="#777"/>
<rect x="170.93" y="358.82" width="0.45" height="0.45" fill="#777"/>
<rect x="163.19" y="364.26" width="0.45" height="0.45" fill="#555"/>
<rect x="178.58" y="344.30" width="0.45" height="0.45" fill="#222"/>
<rect x="177.18" y="360.29" width="0.45" height="0.45" fill="#222"/>
<rect x="185.60" y="359.96" width="0.45" height="0.45" fill="#555"/>
<rect x="160.51" y="358.71" width="0.45" height="0.45" fill="#444"/>
<rect x="170.90" y="348.95" width="0.45" height="0.45" fill="#222"/>
<rect x="171.12" y="339.74" width="0.45" height="0.45" fill="#999"/>
<rect x="181.21" y="354.93" width="0.45" height="0.45" fill="#222"/>
<rect x="185.42" y="359.53" width="0.45" height="0.45" fill="#555"/>
<rect x="159.07" y="354.04" width="0.45" height="0.45" fill="#444"/>
<rect x="178.78" y="353.86" width="0.45" height="0.45" fill="#999"/>
<rect x="169.78" y="348.24" width="0.45" height="0.45" fill="#444"/>
<rect x="188.25" y="359.98" width="0.45" height="0.45" fill="#555"/>
<rect x="159.75" y="368.03" width="0.45" height="0.45" fill="#222"/>
<rect x="163.28" y="348.53" width="0.45" height="0.45" fill="#555"/>
<rect x="163.40" y="363.56" width="0.45" height="0.45" fill="#999"/>
<rect x="179.58" y="360.10" width="0.45" height="0.45" fill="#555"/>
<rect x="169.98" y="350.72" width="0.45" height="0.45" fill="#222"/>
<rect x="179.70" y="355.73" width="0.45" height="0.45" fill="#999"/>
<rect x="165.23" y="360.86" width="0.45" height="0.45" fill="#555"/>
<rect x="176.19" y="344.21" width="0.45" height="0.45" fill="#444"/>
<rect x="181.38" y="354.87" width="0.45" height="0.45" fill="#777"/>
<rect x="175.50" y="358.60" width="0.45" height="0.45" fill="#222"/>
<rect x="155.61" y="359.45" width="0.45" height="0.45" fill="#777"/>
<rect x="190.41" y="354.78" width="0.45" height="0.45" fill="#555"/>
<rect x="167.01" y="345.43" width="0.45" height="0.45" fill="#999"/>
<rect x="155.70" y="351.14" width="0.45" height="0.45" fill="#444"/>
<rect x="169.10" y="339.43" width="0.45" height="0.45" fill="#444"/>
<rect x="176.91" y="346.97" width="0.45" height="0.45" fill="#222"/>
<rect x="189.88" y="353.84" width="0.45" height="0.45" fill="#444"/>
<rect x="174.52" y="353.44" width="0.45" height="0.45" fill="#999"/>
<rect x="164.92" y="351.55" width="0.45" height="0.45" fill="#999"/>
<rect x="186.81" y="365.58" width="0.45" height="0.45" fill="#222"/>
<rect x="171.86" y="346.61" width="0.45" height="0.45" fill="#777"/>
<rect x="175.57" y="352.55" width="0.45" height="0.45" fill="#555"/>
<rect x="167.84" y="349.03" width="0.45" height="0.45" fill="#999"/>
<rect x="163.67" y="366.90" width="0.45" height="0.45" fill="#999"/>
<rect x="170.36" y="351.59" width="0.45" height="0.45" fill="#444"/>
<rect x="155.96" y="361.32" width="0.45" height="0.45" fill="#222"/>
<rect x="179.32" y="347.62" width="0.45" height="0.45" fill="#555"/>
<rect x="178.06" y="360.31" width="0.45" height="0.45" fill="#444"/>
<rect x="161.85" y="368.71" width="0.45" height="0.45" fill="#555"/>
<rect x="177.88" y="350.62" width="0.45" height="0.45" fill="#999"/>
<rect x="172.07" y="364.69" width="0.45" height="0.45" fill="#999"/>
<rect x="163.60" y="353.27" width="0.45" height="0.45" fill="#444"/>
<rect x="164.05" y="349.97" width="0.45" height="0.45" fill="#444"/>
<rect x="166.20" y="345.61" width="0.45" height="0.45" fill="#999"/>
<rect x="163.31" y="368.54" width="0.45" height="0.45" fill="#222"/>
<rect x="174.98" y="353.50" width="0.45" height="0.45" fill="#222"/>
<rect x="188.65" y="351.18" width="0.45" height="0.45" fill="#555"/>
<rect x="165.06" y="345.28" width="0.45" height="0.45" fill="#777"/>
<rect x="172.35" y="353.83" width="0.45" height="0.45" fill="#999"/>
<rect x="168.44" y="372.00" width="0.45" height="0.45" fill="#777"/>
<rect x="174.53" y="367.70" width="0.45" height="0.45" fill="#777"/>
<rect x="172.97" y="357.60" width="0.45" height="0.45" fill="#222"/>
<rect x="179.09" y="361.08" width="0.45" height="0.45" fill="#777"/>
<rect x="177.50" y="364.17" width="0.45" height="0.45" fill="#555"/>
<rect x="179.09" y="350.31" width="0.45" height="0.45" fill="#555"/>
<rect x="178.71" y="354.43" width="0.45" height="0.45" fill="#555"/>
<rect x="169.75" y="354.69" width="0.45" height="0.45" fill="#444"/>
<rect x="167.06" y="356.15" width="0.45" height="0.45" fill="#444"/>
<rect x="175.84" y="356.75" width="0.45" height="0.45" fill="#777"/>
<rect x="180.16" y="349.51" width="0.45" height="0.45" fill="#444"/>
<rect x="182.14" y="339.97" width="0.45" height="0.45" fill="#555"/>
<rect x="175.96" y="358.83" width="0.45" height="0.45" fill="#999"/>
<rect x="155.90" y="357.98" width="0.45" height="0.45" fill="#777"/>
<rect x="195.46" y="357.45" width="0.45" height="0.45" fill="#999"/>
<rect x="167.56" y="356.38" width="0.45" height="0.45" fill="#999"/>
<rect x="172.25" y="356.80" width="0.45" height="0.45" fill="#777"/>
<rect x="159.84" y="347.26" width="0.45" height="0.45" fill="#777"/>
<rect x="173.74" y="355.87" width="0.45" height="0.45" fill="#222"/>
<rect x="157.10" y="361.09" width="0.45" height="0.45" fill="#555"/>
<rect x="174.75" y="348.34" width="0.45" height="0.45" fill="#777"/>
<rect x="184.97" y="357.84" width="0.45" height="0.45" fill="#555"/>
<rect x="170.68" y="354.10" width="0.45" height="0.45" fill="#999"/>
<rect x="163.18" y="357.71" width="0.45" height="0.45" fill="#999"/>
<rect x="172.08" y="351.81" width="0.45" height="0.45" fill="#222"/>
<rect x="161.41" y="362.70" width="0.45" height="0.45" fill="#555"/>
<rect x="165.97" y="352.63" width="0.45" height="0.45" fill="#444"/>
<rect x="177.38" y="362.93" width="0.45" height="0.45" fill="#999"/>
<rect x="176.46" y="355.49" width="0.45" height="0.45" fill="#555"/>
<rect x="177.62" y="347.01" width="0.45" height="0.45" fill="#444"/>
<rect x="165.49" y="349.78" width="0.45" height="0.45" fill="#555"/>
<rect x="181.16" y="352.44" width="0.45" height="0.45" fill="#777"/>
<rect x="188.73" y="354.32" width="0.45" height="0.45" fill="#555"/>
<rect x="165.10" y="350.37" width="0.45" height="0.45" fill="#999"/>
<rect x="160.15" y="352.78" width="0.45" height="0.45" fill="#555"/>
<rect x="172.37" y="355.20" width="0.45" height="0.45" fill="#555"/>
<rect x="162.41" y="337.63" width="0.45" height="0.45" fill="#999"/>
<rect x="167.17" y="369.01" width="0.45" height="0.45" fill="#222"/>
<rect x="168.20" y="351.85" width="0.45" height="0.45" fill="#999"/>
<rect x="161.29" y="349.75" width="0.45" height="0.45" fill="#999"/>
<rect x="163.11" y="356.05" width="0.45" height="0.45" fill="#999"/>
<rect x="175.36" y="348.23" width="0.45" height="0.45" fill="#444"/>
<rect x="195.47" y="358.36" width="0.45" height="0.45" fill="#222"/>
<rect x="177.53" y="362.03" width="0.45" height="0.45" fill="#777"/>
<rect x="182.00" y="363.73" width="0.45" height="0.45" fill="#777"/>
<rect x="161.63" y="354.89" width="0.45" height="0.45" fill="#777"/>
<rect x="184.24" y="346.81" width="0.45" height="0.45" fill="#222"/>
<rect x="171.01" y="346.86" width="0.45" height="0.45" fill="#999"/>
<rect x="167.98" y="364.19" width="0.45" height="0.45" fill="#999"/>
<rect x="157.87" y="367.26" width="0.45" height="0.45" fill="#777"/>
<rect x="181.01" y="351.64" width="0.45" height="0.45" fill="#555"/>
<rect x="165.87" y="342.42" width="0.45" height="0.45" fill="#555"/>
<rect x="169.47" y="352.08" width="0.45" height="0.45" fill="#444"/>
<rect x="172.63" y="360.80" width="0.45" height="0.45" fill="#555"/>
<rect x="175.87" y="344.16" width="0.45" height="0.45" fill="#777"/>
<rect x="170.59" y="360.92" width="0.45" height="0.45" fill="#555"/>
<rect x="171.24" y="363.88" width="0.45" height="0.45" fill="#999"/>
<rect x="155.66" y="368.44" width="0.45" height="0.45" fill="#555"/>
<rect x="189.61" y="351.44" width="0.45" height="0.45" fill="#555"/>
<rect x="195.66" y="359.56" width="0.45" height="0.45" fill="#222"/>
<rect x="168.46" y="361.22" width="0.45" height="0.45" fill="#555"/>
<rect x="173.90" y="350.14" width="0.45" height="0.45" fill="#999"/>
<rect x="172.47" y="363.92" width="0.45" height="0.45" fill="#555"/>
<rect x="182.10" y="362.35" width="0.45" height="0.45" fill="#999"/>
<rect x="174.20" y="357.25" width="0.45" height="0.45" fill="#999"/>
<rect x="175.00" y="360.04" width="0.45" height="0.45" fill="#222"/>
<rect x="161.76" y="360.77" width="0.45" height="0.45" fill="#222"/>
<rect x="171.95" y="351.54" width="0.45" height="0.45" fill="#999"/>
<rect x="179.23" y="354.43" width="0.45" height="0.45" fill="#777"/>
<rect x="168.06" y="355.66" width="0.45" height="0.45" fill="#555"/>
<rect x="168.39" y="364.09" width="0.45" height="0.45" fill="#222"/>
<rect x="170.23" y="350.84" width="0.45" height="0.45" fill="#222"/>
<rect x="178.77" y="352.75" width="0.45" height="0.45" fill="#444"/>
<rect x="176.24" y="354.23" width="0.45" height="0.45" fill="#777"/>
<rect x="175.37" y="350.63" width="0.45" height="0.45" fill="#555"/>
<rect x="174.88" y="354.33" width="0.45" height="0.45" fill="#999"/>
<rect x="157.49" y="345.32" width="0.45" height="0.45" fill="#555"/>
<rect x="163.88" y="352.80" width="0.45" height="0.45" fill="#444"/>
<rect x="180.00" y="348.67" width="0.45" height="0.45" fill="#444"/>
<rect x="176.91" y="349.15" width="0.45" height="0.45" fill="#777"/>
<rect x="165.45" y="346.05" width="0.45" height="0.45" fill="#222"/>
<rect x="172.66" y="342.66" width="0.45" height="0.45" fill="#999"/>
<rect x="171.30" y="350.92" width="0.45" height="0.45" fill="#999"/>
<rect x="185.87" y="343.27" width="0.45" height="0.45" fill="#777"/>
<rect x="170.18" y="354.71" width="0.45" height="0.45" fill="#222"/>
<rect x="175.97" y="358.53" width="0.45" height="0.45" fill="#555"/>
<rect x="174.97" y="354.68" width="0.45" height="0.45" fill="#777"/>
<rect x="175.37" y="366.67" width="0.45" height="0.45" fill="#555"/>
<rect x="169.38" y="365.62" width="0.45" height="0.45" fill="#222"/>
<rect x="173.38" y="361.59" width="0.45" height="0.45" fill="#444"/>
<rect x="178.18" y="356.34" width="0.45" height="0.45" fill="#555"/>
<rect x="181.36" y="363.99" width="0.45" height="0.45" fill="#555"/>
<rect x="169.29" y="345.71" width="0.45" height="0.45" fill="#555"/>
<rect x="169.72" y="358.66" width="0.45" height="0.45" fill="#444"/>
<rect x="164.18" y="356.05" width="0.45" height="0.45" fill="#999"/>
<rect x="164.18" y="362.77" width="0.45" height="0.45" fill="#777"/>
<rect x="174.75" y="342.42" width="0.45" height="0.45" fill="#444"/>
<rect x="175.01" y="344.46" width="0.45" height="0.45" fill="#999"/>
<rect x="176.60" y="352.93" width="0.45" height="0.45" fill="#777"/>
<rect x="165.60" y="353.83" width="0.45" height="0.45" fill="#999"/>
<rect x="186.88" y="363.52" width="0.45" height="0.45" fill="#999"/>
<rect x="177.31" y="363.29" width="0.45" height="0.45" fill="#444"/>
<rect x="168.86" y="362.48" width="0.45" height="0.45" fill="#222"/>
<rect x="167.94" y="344.93" width="0.45" height="0.45" fill="#777"/>
<rect x="183.05" y="359.52" width="0.45" height="0.45" fill="#222"/>
<rect x="163.66" y="357.42" width="0.45" height="0.45" fill="#777"/>
<rect x="163.40" y="351.50" width="0.45" height="0.45" fill="#555"/>
<rect x="172.49" y="348.07" width="0.45" height="0.45" fill="#222"/>
<rect x="173.69" y="345.80" width="0.45" height="0.45" fill="#222"/>
<rect x="161.60" y="360.01" width="0.45" height="0.45" fill="#999"/>
<rect x="195.00" y="354.40" width="0.45" height="0.45" fill="#222"/>
<rect x="184.13" y="354.31" width="0.45" height="0.45" fill="#555"/>
<rect x="161.05" y="361.49" width="0.45" height="0.45" fill="#777"/>
<rect x="160.64" y="365.46" width="0.45" height="0.45" fill="#777"/>
<rect x="187.39" y="343.86" width="0.45" height="0.45" fill="#777"/>
<rect x="194.33" y="363.73" width="0.45" height="0.45" fill="#999"/>
<rect x="185.98" y="365.30" width="0.45" height="0.45" fill="#222"/>
<rect x="178.85" y="362.83" width="0.45" height="0.45" fill="#999"/>
<rect x="191.40" y="368.94" width="0.45" height="0.45" fill="#222"/>
<rect x="189.65" y="348.16" width="0.45" height="0.45" fill="#777"/>
<rect x="185.52" y="356.44" width="0.45" height="0.45" fill="#999"/>
<rect x="185.85" y="364.48" width="0.45" height="0.45" fill="#777"/>
<rect x="186.26" y="365.30" width="0.45" height="0.45" fill="#222"/>
<rect x="197.64" y="363.48" width="0.45" height="0.45" fill="#999"/>
<rect x="190.25" y="351.68" width="0.45" height="0.45" fill="#222"/>
<rect x="189.13" y="363.86" width="0.45" height="0.45" fill="#999"/>
<rect x="196.92" y="363.41" width="0.45" height="0.45" fill="#222"/>
<rect x="189.06" y="363.50" width="0.45" height="0.45" fill="#777"/>
<rect x="189.41" y="365.48" width="0.45" height="0.45" fill="#222"/>
<rect x="182.01" y="358.98" width="0.45" height="0.45" fill="#555"/>
<rect x="190.01" y="372.19" width="0.45" height="0.45" fill="#999"/>
<rect x="189.92" y="366.16" width="0.45" height="0.45" fill="#222"/>
<rect x="181.47" y="359.67" width="0.45" height="0.45" fill="#444"/>
<rect x="184.55" y="358.24" width="0.45" height="0.45" fill="#777"/>
<rect x="194.28" y="363.33" width="0.45" height="0.45" fill="#777"/>
<rect x="190.17" y="357.73" width="0.45" height="0.45" fill="#777"/>
<rect x="184.75" y="364.30" width="0.45" height="0.45" fill="#444"/>
<rect x="189.19" y="356.34" width="0.45" height="0.45" fill="#444"/>
<rect x="186.05" y="369.45" width="0.45" height="0.45" fill="#777"/>
<rect x="195.63" y="358.72" width="0.45" height="0.45" fill="#777"/>
<rect x="185.99" y="361.05" width="0.45" height="0.45" fill="#444"/>
<rect x="188.83" y="366.47" width="0.45" height="0.45" fill="#222"/>
<rect x="199.27" y="357.45" width="0.45" height="0.45" fill="#222"/>
<rect x="178.00" y="359.91" width="0.45" height="0.45" fill="#222"/>
<rect x="187.96" y="369.43" width="0.45" height="0.45" fill="#999"/>
<rect x="191.26" y="362.48" width="0.45" height="0.45" fill="#999"/>
<rect x="187.77" y="355.69" width="0.45" height="0.45" fill="#777"/>
<rect x="192.34" y="372.54" width="0.45" height="0.45" fill="#555"/>
<rect x="190.02" y="361.77" width="0.45" height="0.45" fill="#444"/>
<rect x="191.91" y="361.41" width="0.45" height="0.45" fill="#777"/>
<rect x="196.95" y="358.05" width="0.45" height="0.45" fill="#444"/>
<rect x="185.47" y="364.24" width="0.45" height="0.45" fill="#555"/>
<rect x="189.94" y="357.17" width="0.45" height="0.45" fill="#999"/>
<rect x="185.94" y="358.55" width="0.45" height="0.45" fill="#555"/>
<rect x="181.99" y="361.53" width="0.45" height="0.45" fill="#222"/>
<rect x="192.13" y="354.43" width="0.45" height="0.45" fill="#555"/>
<rect x="193.96" y="359.53" width="0.45" height="0.45" fill="#777"/>
<rect x="200.50" y="364.83" width="0.45" height="0.45" fill="#444"/>
<rect x="196.58" y="362.65" width="0.45" height="0.45" fill="#999"/>
<rect x="183.52" y="359.52" width="0.45" height="0.45" fill="#444"/>
<rect x="190.44" y="365.41" width="0.45" height="0.45" fill="#999"/>
<rect x="192.53" y="356.91" width="0.45" height="0.45" fill="#555"/>
<rect x="188.49" y="371.27" width="0.45" height="0.45" fill="#777"/>
<rect x="179.55" y="363.98" width="0.45" height="0.45" fill="#555"/>
<rect x="193.65" y="368.98" width="0.45" height="0.45" fill="#777"/>
<rect x="194.07" y="371.60" width="0.45" height="0.45" fill="#222"/>
<rect x="177.66" y="360.57" width="0.45" height="0.45" fill="#222"/>
<rect x="197.39" y="359.49" width="0.45" height="0.45" fill="#222"/>
<rect x="179.17" y="367.03" width="0.45" height="0.45" fill="#444"/>
<rect x="192.13" y="363.19" width="0.45" height="0.45" fill="#444"/>
<rect x="183.20" y="361.83" width="0.45" height="0.45" fill="#999"/>
<rect x="179.93" y="353.13" width="0.45" height="0.45" fill="#777"/>
<rect x="188.42" y="361.25" width="0.45" height="0.45" fill="#999"/>
<rect x="188.12" y="361.75" width="0.45" height="0.45" fill="#999"/>
<rect x="187.71" y="355.90" width="0.45" height="0.45" fill="#555"/>
<rect x="199.93" y="362.98" width="0.45" height="0.45" fill="#777"/>
<rect x="193.55" y="351.71" width="0.45" height="0.45" fill="#222"/>
<rect x="195.37" y="359.00" width="0.45" height="0.45" fill="#444"/>
<rect x="191.62" y="367.71" width="0.45" height="0.45" fill="#555"/>
<rect x="188.34" y="367.00" width="0.45" height="0.45" fill="#555"/>
<rect x="195.43" y="360.60" width="0.45" height="0.45" fill="#444"/>
<rect x="193.29" y="361.78" width="0.45" height="0.45" fill="#222"/>
<rect x="182.26" y="353.87" width="0.45" height="0.45" fill="#222"/>
<rect x="193.88" y="364.71" width="0.45" height="0.45" fill="#999"/>
<rect x="180.56" y="363.07" width="0.45" height="0.45" fill="#444"/>
<rect x="199.06" y="366.80" width="0.45" height="0.45" fill="#555"/>
<rect x="178.15" y="358.03" width="0.45" height="0.45" fill="#222"/>
<rect x="199.62" y="355.12" width="0.45" height="0.45" fill="#444"/>
<rect x="191.90" y="371.77" width="0.45" height="0.45" fill="#999"/>
<rect x="187.17" y="362.24" width="0.45" height="0.45" fill="#222"/>
<rect x="187.05" y="358.28" width="0.45" height="0.45" fill="#999"/>
<rect x="187.57" y="361.50" width="0.45" height="0.45" fill="#555"/>
<rect x="193.07" y="362.33" width="0.45" height="0.45" fill="#444"/>
<rect x="189.13" y="354.10" width="0.45" height="0.45" fill="#777"/>
<rect x="193.56" y="360.18" width="0.45" height="0.45" fill="#999"/>
<rect x="189.68" y="371.47" width="0.45" height="0.45" fill="#777"/>
<rect x="185.69" y="356.41" width="0.45" height="0.45" fill="#777"/>
<rect x="189.12" y="359.26" width="0.45" height="0.45" fill="#222"/>
<rect x="172.76" y="361.93" width="0.45" height="0.45" fill="#222"/>
<rect x="192.57" y="364.09" width="0.45" height="0.45" fill="#222"/>
<rect x="183.46" y="369.21" width="0.45" height="0.45" fill="#999"/>
<rect x="180.76" y="367.21" width="0.45" height="0.45" fill="#222"/>
<rect x="182.01" y="355.47" width="0.45" height="0.45" fill="#777"/>
<rect x="183.38" y="362.28" width="0.45" height="0.45" fill="#777"/>
<rect x="180.76" y="365.13" width="0.45" height="0.45" fill="#777"/>
<rect x="196.15" y="365.56" width="0.45" height="0.45" fill="#444"/>
<rect x="188.43" y="359.99" width="0.45" height="0.45" fill="#444"/>
<rect x="181.34" y="367.99" width="0.45" height="0.45" fill="#444"/>
<rect x="188.66" y="357.65" width="0.45" height="0.45" fill="#222"/>
<rect x="201.05" y="368.51" width="0.45" height="0.45" fill="#777"/>
<rect x="185.97" y="365.06" width="0.45" height="0.45" fill="#444"/>
<rect x="194.44" y="364.77" width="0.45" height="0.45" fill="#999"/>
<rect x="183.22" y="360.27" width="0.45" height="0.45" fill="#222"/>
<rect x="195.45" y="365.39" width="0.45" height="0.45" fill="#999"/>
<rect x="184.66" y="359.44" width="0.45" height="0.45" fill="#777"/>
<rect x="195.18" y="362.40" width="0.45" height="0.45" fill="#222"/>
<rect x="187.79" y="355.68" width="0.45" height="0.45" fill="#444"/>
<rect x="185.71" y="360.67" width="0.45" height="0.45" fill="#777"/>
<rect x="191.30" y="365.46" width="0.45" height="0.45" fill="#555"/>
<rect x="186.83" y="362.08" width="0.45" height="0.45" fill="#777"/>
<rect x="188.18" y="366.16" width="0.45" height="0.45" fill="#222"/>
<rect x="179.73" y="371.20" width="0.45" height="0.45" fill="#777"/>
<rect x="185.71" y="360.17" width="0.45" height="0.45" fill="#222"/>
<rect x="189.46" y="362.44" width="0.45" height="0.45" fill="#777"/>
<rect x="184.88" y="368.05" width="0.45" height="0.45" fill="#555"/>
<rect x="183.08" y="363.95" width="0.45" height="0.45" fill="#999"/>
<rect x="192.46" y="365.32" width="0.45" height="0.45" fill="#444"/>
<rect x="185.28" y="362.41" width="0.45" height="0.45" fill="#777"/>
<rect x="193.88" y="361.19" width="0.45" height="0.45" fill="#777"/>
<rect x="199.26" y="360.24" width="0.45" height="0.45" fill="#555"/>
<rect x="181.14" y="368.47" width="0.45" height="0.45" fill="#777"/>
<rect x="179.80" y="370.70" width="0.45" height="0.45" fill="#444"/>
<rect x="182.69" y="358.56" width="0.45" height="0.45" fill="#999"/>
<rect x="198.53" y="363.36" width="0.45" height="0.45" fill="#444"/>
<rect x="184.39" y="363.56" width="0.45" height="0.45" fill="#222"/>
<rect x="193.49" y="353.91" width="0.45" height="0.45" fill="#777"/>
<rect x="187.47" y="359.58" width="0.45" height="0.45" fill="#555"/>
<rect x="189.44" y="369.32" width="0.45" height="0.45" fill="#777"/>
<rect x="189.57" y="360.10" width="0.45" height="0.45" fill="#999"/>
<rect x="182.98" y="362.66" width="0.45" height="0.45" fill="#999"/>
<rect x="199.74" y="357.33" width="0.45" height="0.45" fill="#777"/>
<rect x="178.78" y="359.61" width="0.45" height="0.45" fill="#555"/>
<rect x="185.72" y="353.27" width="0.45" height="0.45" fill="#999"/>
<rect x="187.37" y="360.39" width="0.45" height="0.45" fill="#444"/>
<rect x="185.92" y="358.08" width="0.45" height="0.45" fill="#999"/>
<rect x="205.54" y="365.94" width="0.45" height="0.45" fill="#777"/>
<rect x="194.27" y="361.07" width="0.45" height="0.45" fill="#777"/>
<rect x="191.15" y="363.41" width="0.45" height="0.45" fill="#444"/>
<rect x="181.76" y="361.59" width="0.45" height="0.45" fill="#999"/>
<rect x="187.38" y="358.73" width="0.45" height="0.45" fill="#555"/>
<rect x="181.00" y="367.44" width="0.45" height="0.45" fill="#999"/>
<rect x="187.75" y="359.34" width="0.45" height="0.45" fill="#222"/>
<rect x="184.01" y="362.45" width="0.45" height="0.45" fill="#222"/>
<rect x="199.63" y="369.92" width="0.45" height="0.45" fill="#444"/>
<rect x="185.81" y="365.74" width="0.45" height="0.45" fill="#444"/>
<rect x="183.50" y="361.39" width="0.45" height="0.45" fill="#222"/>
<rect x="180.42" y="364.93" width="0.45" height="0.45" fill="#555"/>
<rect x="190.65" y="362.62" width="0.45" height="0.45" fill="#222"/>
<rect x="194.45" y="362.65" width="0.45" height="0.45" fill="#222"/>
<rect x="187.41" y="359.31" width="0.45" height="0.45" fill="#444"/>
<rect x="181.44" y="361.36" width="0.45" height="0.45" fill="#555"/>
<rect x="174.92" y="357.37" width="0.45" height="0.45" fill="#444"/>
<rect x="191.50" y="355.27" width="0.45" height="0.45" fill="#444"/>
<rect x="184.95" y="357.89" width="0.45" height="0.45" fill="#222"/>
<rect x="188.02" y="351.67" width="0.45" height="0.45" fill="#777"/>
<rect x="184.02" y="359.28" width="0.45" height="0.45" fill="#444"/>
<rect x="191.75" y="370.03" width="0.45" height="0.45" fill="#222"/>
<rect x="179.49" y="357.81" width="0.45" height="0.45" fill="#999"/>
<rect x="191.06" y="366.10" width="0.45" height="0.45" fill="#777"/>
<rect x="195.75" y="366.89" width="0.45" height="0.45" fill="#777"/>
<rect x="180.56" y="360.76" width="0.45" height="0.45" fill="#999"/>
<rect x="184.42" y="365.22" width="0.45" height="0.45" fill="#222"/>
<rect x="182.31" y="369.89" width="0.45" height="0.45" fill="#999"/>
<rect x="193.20" y="368.61" width="0.45" height="0.45" fill="#555"/>
<rect x="195.99" y="358.73" width="0.45" height="0.45" fill="#444"/>
<rect x="187.29" y="365.40" width="0.45" height="0.45" fill="#222"/>
<rect x="192.77" y="369.02" width="0.45" height="0.45" fill="#999"/>
<rect x="182.82" y="366.34" width="0.45" height="0.45" fill="#999"/>
<rect x="186.14" y="364.14" width="0.45" height="0.45" fill="#999"/>
<rect x="185.99" y="355.25" width="0.45" height="0.45" fill="#444"/>
<rect x="182.45" y="360.04" width="0.45" height="0.45" fill="#444"/>
<rect x="193.44" y="370.86" width="0.45" height="0.45" fill="#999"/>
<rect x="194.34" y="363.56" width="0.45" height="0.45" fill="#222"/>
<rect x="185.07" y="362.32" width="0.45" height="0.45" fill="#777"/>
<rect x="195.94" y="360.66" width="0.45" height="0.45" fill="#777"/>
<rect x="183.13" y="365.14" width="0.45" height="0.45" fill="#777"/>
<rect x="186.51" y="362.15" width="0.45" height="0.45" fill="#222"/>
<rect x="190.20" y="358.62" width="0.45" height="0.45" fill="#222"/>
<rect x="187.84" y="368.13" width="0.45" height="0.45" fill="#444"/>
<rect x="190.49" y="355.66" width="0.45" height="0.45" fill="#777"/>
<rect x="186.20" y="361.25" width="0.45" height="0.45" fill="#222"/>
<rect x="188.16" y="368.22" width="0.45" height="0.45" fill="#555"/>
<rect x="179.26" y="359.80" width="0.45" height="0.45" fill="#777"/>
<rect x="171.60" y="357.65" width="0.45" height="0.45" fill="#222"/>
<rect x="188.23" y="354.75" width="0.45" height="0.45" fill="#444"/>
<rect x="183.72" y="363.44" width="0.45" height="0.45" fill="#222"/>
<rect x="171.21" y="367.97" width="0.45" height="0.45" fill="#444"/>
<rect x="191.45" y="369.92" width="0.45" height="0.45" fill="#555"/>
<rect x="194.29" y="356.74" width="0.45" height="0.45" fill="#777"/>
<rect x="190.66" y="364.37" width="0.45" height="0.45" fill="#444"/>
<rect x="193.22" y="353.66" width="0.45" height="0.45" fill="#999"/>
<rect x="186.11" y="365.27" width="0.45" height="0.45" fill="#999"/>
<rect x="186.93" y="368.29" width="0.45" height="0.45" fill="#999"/>
<rect x="198.01" y="361.31" width="0.45" height="0.45" fill="#222"/>
<rect x="195.58" y="368.27" width="0.45" height="0.45" fill="#777"/>
<rect x="205.37" y="354.36" width="0.45" height="0.45" fill="#444"/>
<rect x="188.04" y="359.46" width="0.45" height="0.45" fill="#444"/>
<rect x="186.29" y="352.89" width="0.45" height="0.45" fill="#777"/>
<rect x="181.14" y="362.43" width="0.45" height="0.45" fill="#555"/>
<rect x="184.96" y="358.51" width="0.45" height="0.45" fill="#222"/>
<rect x="180.75" y="354.33" width="0.45" height="0.45" fill="#222"/>
<rect x="180.82" y="366.77" width="0.45" height="0.45" fill="#555"/>
<rect x="182.34" y="363.62" width="0.45" height="0.45" fill="#999"/>
<rect x="199.35" y="362.13" width="0.45" height="0.45" fill="#222"/>
<rect x="188.21" y="356.50" width="0.45" height="0.45" fill="#555"/>
<rect x="195.29" y="354.79" width="0.45" height="0.45" fill="#777"/>
<rect x="190.28" y="367.19" width="0.45" height="0.45" fill="#444"/>
<rect x="183.70" y="362.15" width="0.45" height="0.45" fill="#555"/>
<rect x="184.87" y="367.59" width="0.45" height="0.45" fill="#999"/>
<rect x="195.34" y="354.95" width="0.45" height="0.45" fill="#222"/>
<rect x="197.07" y="364.00" width="0.45" height="0.45" fill="#777"/>
<rect x="202.74" y="363.18" width="0.45" height="0.45" fill="#444"/>
<rect x="188.79" y="362.07" width="0.45" height="0.45" fill="#777"/>
<rect x="191.70" y="369.30" width="0.45" height="0.45" fill="#444"/>
<rect x="192.75" y="359.14" width="0.45" height="0.45" fill="#555"/>
<rect x="193.72" y="364.62" width="0.45" height="0.45" fill="#222"/>
<rect x="180.00" y="369.80" width="0.45" height="0.45" fill="#444"/>
<rect x="196.97" y="364.24" width="0.45" height="0.45" fill="#444"/>
<rect x="186.63" y="362.94" width="0.45" height="0.45" fill="#222"/>
<rect x="195.83" y="362.04" width="0.45" height="0.45" fill="#444"/>
<rect x="182.96" y="358.64" width="0.45" height="0.45" fill="#777"/>
<rect x="198.24" y="362.45" width="0.45" height="0.45" fill="#222"/>
<rect x="195.27" y="361.61" width="0.45" height="0.45" fill="#444"/>
<rect x="184.72" y="362.50" width="0.45" height="0.45" fill="#222"/>
<rect x="188.66" y="359.69" width="0.45" height="0.45" fill="#555"/>
<rect x="185.59" y="365.12" width="0.45" height="0.45" fill="#777"/>
<rect x="190.47" y="353.73" width="0.45" height="0.45" fill="#444"/>
<rect x="183.32" y="356.16" width="0.45" height="0.45" fill="#222"/>
<rect x="188.23" y="361.88" width="0.45" height="0.45" fill="#444"/>
<rect x="180.07" y="364.94" width="0.45" height="0.45" fill="#444"/>
<rect x="196.27" y="358.66" width="0.45" height="0.45" fill="#777"/>
<rect x="190.63" y="360.36" width="0.45" height="0.45" fill="#222"/>
<rect x="190.96" y="363.98" width="0.45" height="0.45" fill="#777"/>
<rect x="185.21" y="366.25" width="0.45" height="0.45" fill="#444"/>
<rect x="189.12" y="369.19" width="0.45" height="0.45" fill="#444"/>
<rect x="181.33" y="359.77" width="0.45" height="0.45" fill="#999"/>
<rect x="200.46" y="363.63" width="0.45" height="0.45" fill="#555"/>
<rect x="191.27" y="368.57" width="0.45" height="0.45" fill="#444"/>
<rect x="188.93" y="357.82" width="0.45" height="0.45" fill="#222"/>
<rect x="191.25" y="353.31" width="0.45" height="0.45" fill="#444"/>
<rect x="186.07" y="362.08" width="0.45" height="0.45" fill="#777"/>
<rect x="187.51" y="360.54" width="0.45" height="0.45" fill="#222"/>
<rect x="202.94" y="361.04" width="0.45" height="0.45" fill="#444"/>
<rect x="180.31" y="368.24" width="0.45" height="0.45" fill="#777"/>
<rect x="182.97" y="367.67" width="0.45" height="0.45" fill="#777"/>
<rect x="198.87" y="359.58" width="0.45" height="0.45" fill="#222"/>
<rect x="188.15" y="361.57" width="0.45" height="0.45" fill="#444"/>
<rect x="191.05" y="362.44" width="0.45" height="0.45" fill="#777"/>
<rect x="180.56" y="361.71" width="0.45" height="0.45" fill="#999"/>
<rect x="189.68" y="356.78" width="0.45" height="0.45" fill="#777"/>
<rect x="195.47" y="365.07" width="0.45" height="0.45" fill="#999"/>
<rect x="190.44" y="363.71" width="0.45" height="0.45" fill="#222"/>
<rect x="184.97" y="361.76" width="0.45" height="0.45" fill="#444"/>
<rect x="183.18" y="360.87" width="0.45" height="0.45" fill="#222"/>
<rect x="186.62" y="366.98" width="0.45" height="0.45" fill="#444"/>
<rect x="191.38" y="362.76" width="0.45" height="0.45" fill="#777"/>
<rect x="195.16" y="366.58" width="0.45" height="0.45" fill="#222"/>
<rect x="185.41" y="369.66" width="0.45" height="0.45" fill="#444"/>
<rect x="195.88" y="367.35" width="0.45" height="0.45" fill="#222"/>
<rect x="196.65" y="372.60" width="0.45" height="0.45" fill="#999"/>
<rect x="177.91" y="361.00" width="0.45" height="0.45" fill="#555"/>
<rect x="190.56" y="364.26" width="0.45" height="0.45" fill="#555"/>
<rect x="188.68" y="359.51" width="0.45" height="0.45" fill="#222"/>
<rect x="185.76" y="366.56" width="0.45" height="0.45" fill="#999"/>
<rect x="197.72" y="365.08" width="0.45" height="0.45" fill="#999"/>
<rect x="184.11" y="357.79" width="0.45" height="0.45" fill="#999"/>
<rect x="184.50" y="366.53" width="0.45" height="0.45" fill="#999"/>
<rect x="190.75" y="364.54" width="0.45" height="0.45" fill="#222"/>
<rect x="196.07" y="357.38" width="0.45" height="0.45" fill="#222"/>
<rect x="189.97" y="367.91" width="0.45" height="0.45" fill="#222"/>
<rect x="189.60" y="361.39" width="0.45" height="0.45" fill="#222"/>
<rect x="183.20" y="362.87" width="0.45" height="0.45" fill="#444"/>
<rect x="199.55" y="363.99" width="0.45" height="0.45" fill="#777"/>
<rect x="189.72" y="365.73" width="0.45" height="0.45" fill="#555"/>
<rect x="188.68" y="364.00" width="0.45" height="0.45" fill="#555"/>
<rect x="195.57" y="367.10" width="0.45" height="0.45" fill="#222"/>
<rect x="193.65" y="370.16" width="0.45" height="0.45" fill="#222"/>
<rect x="191.17" y="361.46" width="0.45" height="0.45" fill="#777"/>
<rect x="195.89" y="355.57" width="0.45" height="0.45" fill="#555"/>
<rect x="185.45" y="367.61" width="0.45" height="0.45" fill="#222"/>
<rect x="185.61" y="365.05" width="0.45" height="0.45" fill="#555"/>
<rect x="188.71" y="358.28" width="0.45" height="0.45" fill="#555"/>
<rect x="183.13" y="358.82" width="0.45" height="0.45" fill="#444"/>
<rect x="188.17" y="355.75" width="0.45" height="0.45" fill="#444"/>
<rect x="197.15" y="371.41" width="0.45" height="0.45" fill="#222"/>
<rect x="189.59" y="366.59" width="0.45" height="0.45" fill="#222"/>
<rect x="189.31" y="361.92" width="0.45" height="0.45" fill="#777"/>
<rect x="194.64" y="355.45" width="0.45" height="0.45" fill="#222"/>
<rect x="175.61" y="368.15" width="0.45" height="0.45" fill="#444"/>
<rect x="188.37" y="359.85" width="0.45" height="0.45" fill="#444"/>
<rect x="194.81" y="358.36" width="0.45" height="0.45" fill="#555"/>
<rect x="179.38" y="364.14" width="0.45" height="0.45" fill="#999"/>
<rect x="191.65" y="363.51" width="0.45" height="0.45" fill="#777"/>
<rect x="195.93" y="364.93" width="0.45" height="0.45" fill="#777"/>
<rect x="187.34" y="359.74" width="0.45" height="0.45" fill="#555"/>
<rect x="188.64" y="366.34" width="0.45" height="0.45" fill="#777"/>
<rect x="186.02" y="354.23" width="0.45" height="0.45" fill="#555"/>
<rect x="184.81" y="363.07" width="0.45" height="0.45" fill="#444"/>
<rect x="195.75" y="368.47" width="0.45" height="0.45" fill="#222"/>
<rect x="191.01" y="364.48" width="0.45" height="0.45" fill="#777"/>
<rect x="187.81" y="364.33" width="0.45" height="0.45" fill="#555"/>
<rect x="192.99" y="361.25" width="0.45" height="0.45" fill="#555"/>
<rect x="177.57" y="364.23" width="0.45" height="0.45" fill="#222"/>
<rect x="194.01" y="368.36" width="0.45" height="0.45" fill="#999"/>
<rect x="200.04" y="364.38" width="0.45" height="0.45" fill="#555"/>
<rect x="194.64" y="368.33" width="0.45" height="0.45" fill="#555"/>
<rect x="187.49" y="362.96" width="0.45" height="0.45" fill="#555"/>
<rect x="194.99" y="362.99" width="0.45" height="0.45" fill="#777"/>
<rect x="181.88" y="359.82" width="0.45" height="0.45" fill="#222"/>
<rect x="178.48" y="364.13" width="0.45" height="0.45" fill="#444"/>
<rect x="190.55" y="363.23" width="0.45" height="0.45" fill="#444"/>
<rect x="196.62" y="368.82" width="0.45" height="0.45" fill="#555"/>
<rect x="183.49" y="351.15" width="0.45" height="0.45" fill="#222"/>
<rect x="184.96" y="360.09" width="0.45" height="0.45" fill="#222"/>
<rect x="191.17" y="362.25" width="0.45" height="0.45" fill="#777"/>
<rect x="189.96" y="359.95" width="0.45" height="0.45" fill="#555"/>
<rect x="199.29" y="370.31" width="0.45" height="0.45" fill="#222"/>
<rect x="192.86" y="367.68" width="0.45" height="0.45" fill="#777"/>
<rect x="183.11" y="362.12" width="0.45" height="0.45" fill="#777"/>
<rect x="190.94" y="365.08" width="0.45" height="0.45" fill="#444"/>
<rect x="187.98" y="367.37" width="0.45" height="0.45" fill="#444"/>
<rect x="197.14" y="363.50" width="0.45" height="0.45" fill="#444"/>
<rect x="184.76" y="357.30" width="0.45" height="0.45" fill="#999"/>
<rect x="186.45" y="362.28" width="0.45" height="0.45" fill="#777"/>
<rect x="191.60" y="364.53" width="0.45" height="0.45" fill="#999"/>
<rect x="187.85" y="361.73" width="0.45" height="0.45" fill="#777"/>
<rect x="190.13" y="357.38" width="0.45" height="0.45" fill="#999"/>
<rect x="190.08" y="357.50" width="0.45" height="0.45" fill="#999"/>
<rect x="183.05" y="361.93" width="0.45" height="0.45" fill="#444"/>
<rect x="196.98" y="363.10" width="0.45" height="0.45" fill="#222"/>
<rect x="193.15" y="329.42" width="0.45" height="0.45" fill="#222"/>
<rect x="182.48" y="329.46" width="0.45" height="0.45" fill="#555"/>
<rect x="182.99" y="339.25" width="0.45" height="0.45" fill="#444"/>
<rect x="175.90" y="358.31" width="0.45" height="0.45" fill="#222"/>
<rect x="180.36" y="315.79" width="0.45" height="0.45" fill="#999"/>
<rect x="189.20" y="325.32" width="0.45" height="0.45" fill="#555"/>
<rect x="209.21" y="327.77" width="0.45" height="0.45" fill="#444"/>
<rect x="184.60" y="351.98" width="0.45" height="0.45" fill="#555"/>
<rect x="180.26" y="338.77" width="0.45" height="0.45" fill="#555"/>
<rect x="191.40" y="335.83" width="0.45" height="0.45" fill="#999"/>
<rect x="197.85" y="333.93" width="0.45" height="0.45" fill="#777"/>
<rect x="171.40" y="338.37" width="0.45" height="0.45" fill="#222"/>
<rect x="184.75" y="343.91" width="0.45" height="0.45" fill="#444"/>
<rect x="190.44" y="341.42" width="0.45" height="0.45" fill="#555"/>
<rect x="184.42" y="336.69" width="0.45" height="0.45" fill="#444"/>
<rect x="174.29" y="345.26" width="0.45" height="0.45" fill="#555"/>
<rect x="183.79" y="342.07" width="0.45" height="0.45" fill="#444"/>
<rect x="181.25" y="320.87" width="0.45" height="0.45" fill="#555"/>
<rect x="188.31" y="337.63" width="0.45" height="0.45" fill="#777"/>
<rect x="169.46" y="335.34" width="0.45" height="0.45" fill="#555"/>
<rect x="182.21" y="344.43" width="0.45" height="0.45" fill="#777"/>
<rect x="185.27" y="315.44" width="0.45" height="0.45" fill="#555"/>
<rect x="191.28" y="363.40" width="0.45" height="0.45" fill="#999"/>
<rect x="179.80" y="333.08" width="0.45" height="0.45" fill="#999"/>
<rect x="182.23" y="331.04" width="0.45" height="0.45" fill="#555"/>
<rect x="190.38" y="351.59" width="0.45" height="0.45" fill="#999"/>
<rect x="150.54" y="360.24" width="0.45" height="0.45" fill="#999"/>
<rect x="192.63" y="342.74" width="0.45" height="0.45" fill="#999"/>
<rect x="180.58" y="352.70" width="0.45" height="0.45" fill="#777"/>
<rect x="189.54" y="352.79" width="0.45" height="0.45" fill="#444"/>
<rect x="172.48" y="347.20" width="0.45" height="0.45" fill="#222"/>
<rect x="185.13" y="326.59" width="0.45" height="0.45" fill="#555"/>
<rect x="169.85" y="342.58" width="0.45" height="0.45" fill="#444"/>
<rect x="174.43" y="331.30" width="0.45" height="0.45" fill="#222"/>
<rect x="177.36" y="336.91" width="0.45" height="0.45" fill="#777"/>
<rect x="174.83" y="313.79" width="0.45" height="0.45" fill="#777"/>
<rect x="167.28" y="340.42" width="0.45" height="0.45" fill="#999"/>
<rect x="163.35" y="353.26" width="0.45" height="0.45" fill="#999"/>
<rect x="168.23" y="327.61" width="0.45" height="0.45" fill="#444"/>
<rect x="159.21" y="345.40" width="0.45" height="0.45" fill="#222"/>
<rect x="175.32" y="348.41" width="0.45" height="0.45" fill="#222"/>
<rect x="184.00" y="342.74" width="0.45" height="0.45" fill="#777"/>
<rect x="180.31" y="343.35" width="0.45" height="0.45" fill="#222"/>
<rect x="161.23" y="364.72" width="0.45" height="0.45" fill="#777"/>
<rect x="174.70" y="329.81" width="0.45" height="0.45" fill="#444"/>
<rect x="168.83" y="333.34" width="0.45" height="0.45" fill="#222"/>
<rect x="184.00" y="344.03" width="0.45" height="0.45" fill="#444"/>
<rect x="166.23" y="346.86" width="0.45" height="0.45" fill="#999"/>
<rect x="177.14" y="348.09" width="0.45" height="0.45" fill="#444"/>
<rect x="187.05" y="345.66" width="0.45" height="0.45" fill="#999"/>
<rect x="181.40" y="335.12" width="0.45" height="0.45" fill="#555"/>
<rect x="182.71" y="340.10" width="0.45" height="0.45" fill="#999"/>
<rect x="173.07" y="340.56" width="0.45" height="0.45" fill="#444"/>
<rect x="182.36" y="347.30" width="0.45" height="0.45" fill="#222"/>
<rect x="172.62" y="340.82" width="0.45" height="0.45" fill="#777"/>
<rect x="155.04" y="343.85" width="0.45" height="0.45" fill="#555"/>
<rect x="189.59" y="346.79" width="0.45" height="0.45" fill="#444"/>
<rect x="170.57" y="347.10" width="0.45" height="0.45" fill="#444"/>
<rect x="169.90" y="342.61" width="0.45" height="0.45" fill="#777"/>
<rect x="176.24" y="358.98" width="0.45" height="0.45" fill="#999"/>
<rect x="195.01" y="346.31" width="0.45" height="0.45" fill="#222"/>
<rect x="186.67" y="344.71" width="0.45" height="0.45" fill="#999"/>
<rect x="162.15" y="348.65" width="0.45" height="0.45" fill="#444"/>
<rect x="158.10" y="333.66" width="0.45" height="0.45" fill="#999"/>
<rect x="166.12" y="346.06" width="0.45" height="0.45" fill="#777"/>
<rect x="170.76" y="336.77" width="0.45" height="0.45" fill="#555"/>
<rect x="198.89" y="350.28" width="0.45" height="0.45" fill="#222"/>
<rect x="154.37" y="339.72" width="0.45" height="0.45" fill="#999"/>
<rect x="171.27" y="327.50" width="0.45" height="0.45" fill="#222"/>
<rect x="189.41" y="336.58" width="0.45" height="0.45" fill="#444"/>
<rect x="197.69" y="336.84" width="0.45" height="0.45" fill="#444"/>
<rect x="182.29" y="341.07" width="0.45" height="0.45" fill="#777"/>
<rect x="184.09" y="357.75" width="0.45" height="0.45" fill="#444"/>
<rect x="182.28" y="333.33" width="0.45" height="0.45" fill="#222"/>
<rect x="189.98" y="346.63" width="0.45" height="0.45" fill="#999"/>
<rect x="173.93" y="347.14" width="0.45" height="0.45" fill="#777"/>
<rect x="179.51" y="339.22" width="0.45" height="0.45" fill="#999"/>
<rect x="161.64" y="330.88" width="0.45" height="0.45" fill="#222"/>
<rect x="172.65" y="342.90" width="0.45" height="0.45" fill="#999"/>
<rect x="153.29" y="327.15" width="0.45" height="0.45" fill="#222"/>
<rect x="190.60" y="334.16" width="0.45" height="0.45" fill="#222"/>
<rect x="182.93" y="320.40" width="0.45" height="0.45" fill="#555"/>
<rect x="184.20" y="334.56" width="0.45" height="0.45" fill="#777"/>
<rect x="166.80" y="335.05" width="0.45" height="0.45" fill="#444"/>
<rect x="177.03" y="345.50" width="0.45" height="0.45" fill="#999"/>
<rect x="173.30" y="330.81" width="0.45" height="0.45" fill="#777"/>
<rect x="185.59" y="334.26" width="0.45" height="0.45" fill="#444"/>
<rect x="189.90" y="343.46" width="0.45" height="0.45" fill="#555"/>
<rect x="179.77" y="338.78" width="0.45" height="0.45" fill="#555"/>
<rect x="170.09" y="357.84" width="0.45" height="0.45" fill="#222"/>
<rect x="185.79" y="338.76" width="0.45" height="0.45" fill="#555"/>
<rect x="189.75" y="338.25" width="0.45" height="0.45" fill="#555"/>
<rect x="176.61" y="350.31" width="0.45" height="0.45" fill="#222"/>
<rect x="180.88" y="346.37" width="0.45" height="0.45" fill="#777"/>
<rect x="176.94" y="323.15" width="0.45" height="0.45" fill="#555"/>
<rect x="183.71" y="329.14" width="0.45" height="0.45" fill="#444"/>
<rect x="193.85" y="346.30" width="0.45" height="0.45" fill="#777"/>
<rect x="192.14" y="354.70" width="0.45" height="0.45" fill="#999"/>
<rect x="185.08" y="341.18" width="0.45" height="0.45" fill="#444"/>
<rect x="182.33" y="333.53" width="0.45" height="0.45" fill="#777"/>
<rect x="187.88" y="342.95" width="0.45" height="0.45" fill="#444"/>
<rect x="174.93" y="358.41" width="0.45" height="0.45" fill="#999"/>
<rect x="158.13" y="353.66" width="0.45" height="0.45" fill="#222"/>
<rect x="178.65" y="351.57" width="0.45" height="0.45" fill="#777"/>
<rect x="187.77" y="358.16" width="0.45" height="0.45" fill="#999"/>
<rect x="168.42" y="337.09" width="0.45" height="0.45" fill="#555"/>
<rect x="177.89" y="324.72" width="0.45" height="0.45" fill="#555"/>
<rect x="181.46" y="340.55" width="0.45" height="0.45" fill="#999"/>
<rect x="179.42" y="333.18" width="0.45" height="0.45" fill="#444"/>
<rect x="168.05" y="327.97" width="0.45" height="0.45" fill="#555"/>
<rect x="170.35" y="330.22" width="0.45" height="0.45" fill="#222"/>
<rect x="172.22" y="340.86" width="0.45" height="0.45" fill="#444"/>
<rect x="176.85" y="339.23" width="0.45" height="0.45" fill="#555"/>
<rect x="157.54" y="324.94" width="0.45" height="0.45" fill="#555"/>
<rect x="168.51" y="344.48" width="0.45" height="0.45" fill="#555"/>
<rect x="170.54" y="341.79" width="0.45" height="0.45" fill="#555"/>
<rect x="168.94" y="323.27" width="0.45" height="0.45" fill="#777"/>
<rect x="176.85" y="339.39" width="0.45" height="0.45" fill="#555"/>
<rect x="164.32" y="334.94" width="0.45" height="0.45" fill="#555"/>
<rect x="176.42" y="344.56" width="0.45" height="0.45" fill="#222"/>
<rect x="173.43" y="346.89" width="0.45" height="0.45" fill="#555"/>
<rect x="183.52" y="334.05" width="0.45" height="0.45" fill="#555"/>
<rect x="183.01" y="351.18" width="0.45" height="0.45" fill="#444"/>
<rect x="194.08" y="329.34" width="0.45" height="0.45" fill="#999"/>
<rect x="170.05" y="344.97" width="0.45" height="0.45" fill="#444"/>
<rect x="175.12" y="325.64" width="0.45" height="0.45" fill="#555"/>
<rect x="177.32" y="350.40" width="0.45" height="0.45" fill="#777"/>
<rect x="176.79" y="326.82" width="0.45" height="0.45" fill="#999"/>
<rect x="182.06" y="331.61" width="0.45" height="0.45" fill="#444"/>
<rect x="171.89" y="326.86" width="0.45" height="0.45" fill="#777"/>
<rect x="191.67" y="331.73" width="0.45" height="0.45" fill="#999"/>
<rect x="175.92" y="345.80" width="0.45" height="0.45" fill="#999"/>
<rect x="180.09" y="344.11" width="0.45" height="0.45" fill="#444"/>
<rect x="176.99" y="323.95" width="0.45" height="0.45" fill="#999"/>
<rect x="178.57" y="333.66" width="0.45" height="0.45" fill="#555"/>
<rect x="173.59" y="334.15" width="0.45" height="0.45" fill="#444"/>
<rect x="177.66" y="331.44" width="0.45" height="0.45" fill="#555"/>
<rect x="167.89" y="349.58" width="0.45" height="0.45" fill="#777"/>
<rect x="185.37" y="330.93" width="0.45" height="0.45" fill="#999"/>
<rect x="164.59" y="333.27" width="0.45" height="0.45" fill="#777"/>
<rect x="187.96" y="332.46" width="0.45" height="0.45" fill="#777"/>
<rect x="166.84" y="338.08" width="0.45" height="0.45" fill="#444"/>
<rect x="182.78" y="345.08" width="0.45" height="0.45" fill="#777"/>
<rect x="201.17" y="338.30" width="0.45" height="0.45" fill="#777"/>
<rect x="191.62" y="355.60" width="0.45" height="0.45" fill="#444"/>
<rect x="180.30" y="328.63" width="0.45" height="0.45" fill="#444"/>
<rect x="176.52" y="343.19" width="0.45" height="0.45" fill="#777"/>
<rect x="175.26" y="356.74" width="0.45" height="0.45" fill="#444"/>
<rect x="172.27" y="337.29" width="0.45" height="0.45" fill="#222"/>
<rect x="186.06" y="347.75" width="0.45" height="0.45" fill="#777"/>
<rect x="154.57" y="354.79" width="0.45" height="0.45" fill="#777"/>
<rect x="191.58" y="340.36" width="0.45" height="0.45" fill="#555"/>
<rect x="200.08" y="333.49" width="0.45" height="0.45" fill="#999"/>
<rect x="184.03" y="353.99" width="0.45" height="0.45" fill="#444"/>
<rect x="181.35" y="360.24" width="0.45" height="0.45" fill="#555"/>
<rect x="185.46" y="347.13" width="0.45" height="0.45" fill="#999"/>
<rect x="176.60" y="343.45" width="0.45" height="0.45" fill="#222"/>
<rect x="175.28" y="347.91" width="0.45" height="0.45" fill="#999"/>
<rect x="169.79" y="334.83" width="0.45" height="0.45" fill="#444"/>
<rect x="178.42" y="370.16" width="0.45" height="0.45" fill="#555"/>
<rect x="195.01" y="336.60" width="0.45" height="0.45" fill="#777"/>
<rect x="204.91" y="346.20" width="0.45" height="0.45" fill="#444"/>
<rect x="195.71" y="347.86" width="0.45" height="0.45" fill="#999"/>
<rect x="201.52" y="356.68" width="0.45" height="0.45" fill="#222"/>
<rect x="180.83" y="359.14" width="0.45" height="0.45" fill="#999"/>
<rect x="181.55" y="331.87" width="0.45" height="0.45" fill="#222"/>
<rect x="184.29" y="327.65" width="0.45" height="0.45" fill="#222"/>
<rect x="201.63" y="347.07" width="0.45" height="0.45" fill="#777"/>
<rect x="182.13" y="357.04" width="0.45" height="0.45" fill="#777"/>
<rect x="192.17" y="335.93" width="0.45" height="0.45" fill="#222"/>
<rect x="188.49" y="364.56" width="0.45" height="0.45" fill="#999"/>
<rect x="192.61" y="363.95" width="0.45" height="0.45" fill="#444"/>
<rect x="168.86" y="359.62" width="0.45" height="0.45" fill="#999"/>
<rect x="193.63" y="338.13" width="0.45" height="0.45" fill="#222"/>
<rect x="198.56" y="328.96" width="0.45" height="0.45" fill="#999"/>
<rect x="198.40" y="355.40" width="0.45" height="0.45" fill="#999"/>
<rect x="207.99" y="342.78" width="0.45" height="0.45" fill="#777"/>
<rect x="193.88" y="348.81" width="0.45" height="0.45" fill="#777"/>
<rect x="213.07" y="333.59" width="0.45" height="0.45" fill="#777"/>
<rect x="194.50" y="345.91" width="0.45" height="0.45" fill="#222"/>
<rect x="217.16" y="330.32" width="0.45" height="0.45" fill="#777"/>
<rect x="198.60" y="349.90" width="0.45" height="0.45" fill="#999"/>
<rect x="215.00" y="355.20" width="0.45" height="0.45" fill="#555"/>
<rect x="185.47" y="332.82" width="0.45" height="0.45" fill="#555"/>
<rect x="194.60" y="349.47" width="0.45" height="0.45" fill="#444"/>
<rect x="214.25" y="325.54" width="0.45" height="0.45" fill="#555"/>
<rect x="198.86" y="333.51" width="0.45" height="0.45" fill="#222"/>
<rect x="214.51" y="358.26" width="0.45" height="0.45" fill="#222"/>
<rect x="202.63" y="345.46" width="0.45" height="0.45" fill="#444"/>
<rect x="180.91" y="371.14" width="0.45" height="0.45" fill="#999"/>
<rect x="192.39" y="367.60" width="0.45" height="0.45" fill="#555"/>
<rect x="198.53" y="336.83" width="0.45" height="0.45" fill="#777"/>
<rect x="182.48" y="354.07" width="0.45" height="0.45" fill="#777"/>
<rect x="189.11" y="330.16" width="0.45" height="0.45" fill="#777"/>
<rect x="180.16" y="324.88" width="0.45" height="0.45" fill="#222"/>
<rect x="210.17" y="361.67" width="0.45" height="0.45" fill="#444"/>
<rect x="219.50" y="363.69" width="0.45" height="0.45" fill="#777"/>
<rect x="201.80" y="325.04" width="0.45" height="0.45" fill="#444"/>
<rect x="176.38" y="329.33" width="0.45" height="0.45" fill="#999"/>
<rect x="215.92" y="348.83" width="0.45" height="0.45" fill="#444"/>
<rect x="178.89" y="346.72" width="0.45" height="0.45" fill="#777"/>
<rect x="190.28" y="346.84" width="0.45" height="0.45" fill="#555"/>
<rect x="172.18" y="341.41" width="0.45" height="0.45" fill="#999"/>
<rect x="206.84" y="332.88" width="0.45" height="0.45" fill="#999"/>
<rect x="212.03" y="356.61" width="0.45" height="0.45" fill="#444"/>
<rect x="174.46" y="347.34" width="0.45" height="0.45" fill="#777"/>
<rect x="210.58" y="366.07" width="0.45" height="0.45" fill="#999"/>
<rect x="213.93" y="351.76" width="0.45" height="0.45" fill="#444"/>
<rect x="179.25" y="344.45" width="0.45" height="0.45" fill="#777"/>
<rect x="198.77" y="340.96" width="0.45" height="0.45" fill="#777"/>
<rect x="189.61" y="356.33" width="0.45" height="0.45" fill="#555"/>
<rect x="204.44" y="348.09" width="0.45" height="0.45" fill="#777"/>
<rect x="186.59" y="350.85" width="0.45" height="0.45" fill="#777"/>
<rect x="177.85" y="351.27" width="0.45" height="0.45" fill="#222"/>
<rect x="204.46" y="333.05" width="0.45" height="0.45" fill="#222"/>
<rect x="217.98" y="342.20" width="0.45" height="0.45" fill="#222"/>
<rect x="206.54" y="353.68" width="0.45" height="0.45" fill="#999"/>
<path d="M179.99,362.60 L180.17,363.66 L179.90,364.69 L178.96,365.54 L178.43,366.50 L177.55,367.39 L175.93,367.86 L174.55,368.51 L172.88,368.93 L171.11,369.30 L169.20,369.33 L167.35,369.11 L165.53,368.91 L163.97,368.38 L162.23,368.04 L161.19,367.19 L159.93,366.52 L159.45,365.53 L158.60,364.67 L158.34,363.65 L158.85,362.60 L158.98,361.57 L159.69,360.60 L160.26,359.56 L161.36,358.64 L162.16,357.51 L163.46,356.63 L165.02,356.07 L166.34,355.29 L167.76,354.72 L169.20,354.39 L170.67,354.61 L172.14,355.12 L173.50,355.92 L174.83,356.73 L175.92,357.73 L177.15,358.59 L178.31,359.50 L178.66,360.61 L179.30,361.58 Z" fill="#fff" fill-opacity="0.75"/>
<path d="M170.41,362.60 L170.35,362.71 L170.38,362.83 L170.31,362.93 L170.25,363.04 L170.10,363.12 L169.98,363.21 L169.78,363.24 L169.62,363.32 L169.41,363.32 L169.20,363.32 L169.00,363.32 L168.79,363.30 L168.62,363.24 L168.45,363.19 L168.32,363.10 L168.21,363.02 L168.12,362.93 L168.06,362.82 L168.03,362.71 L168.00,362.60 L168.06,362.49 L168.10,362.37 L168.18,362.26 L168.29,362.16 L168.42,362.07 L168.57,362.00 L168.72,361.94 L168.87,361.89 L169.04,361.87 L169.20,361.88 L169.36,361.87 L169.52,361.90 L169.67,361.96 L169.81,362.02 L169.95,362.09 L170.10,362.16 L170.21,362.26 L170.29,362.37 L170.34,362.49 Z" fill="none" stroke="#555555" stroke-width="0.35"/>
<path d="M171.49,362.60 L171.50,362.82 L171.54,363.06 L171.42,363.27 L171.23,363.46 L170.97,363.62 L170.68,363.76 L170.36,363.88 L169.99,363.96 L169.61,364.06 L169.20,364.05 L168.79,364.05 L168.39,363.99 L168.01,363.91 L167.66,363.80 L167.36,363.65 L167.20,363.44 L166.93,363.28 L166.83,363.06 L166.78,362.83 L166.85,362.60 L166.86,362.36 L167.00,362.14 L167.25,361.94 L167.41,361.73 L167.64,361.54 L167.93,361.40 L168.22,361.26 L168.55,361.20 L168.87,361.14 L169.20,361.17 L169.53,361.14 L169.83,361.23 L170.17,361.28 L170.48,361.38 L170.71,361.57 L170.93,361.76 L171.13,361.95 L171.36,362.15 L171.44,362.38 Z" fill="none" stroke="#555555" stroke-width="0.35"/>
<path d="M172.78,362.60 L172.78,362.95 L172.69,363.28 L172.55,363.61 L172.20,363.87 L171.90,364.15 L171.42,364.33 L170.98,364.57 L170.44,364.73 L169.81,364.73 L169.20,364.82 L168.56,364.84 L168.00,364.67 L167.46,364.53 L166.96,364.35 L166.44,364.19 L166.22,363.86 L165.83,363.62 L165.76,363.27 L165.59,362.95 L165.58,362.60 L165.70,362.25 L166.02,361.93 L166.21,361.60 L166.57,361.32 L166.86,361.01 L167.35,360.84 L167.80,360.68 L168.24,360.52 L168.72,360.48 L169.20,360.44 L169.69,360.40 L170.16,360.53 L170.61,360.68 L171.12,360.77 L171.45,361.07 L171.90,361.28 L172.21,361.59 L172.45,361.92 L172.65,362.25 Z" fill="none" stroke="#555555" stroke-width="0.35"/>
<path d="M173.93,362.60 L174.04,363.07 L173.90,363.52 L173.56,363.91 L173.32,364.34 L172.82,364.68 L172.31,365.03 L171.51,365.15 L170.82,365.38 L170.05,365.58 L169.20,365.46 L168.36,365.54 L167.54,365.46 L166.82,365.23 L166.24,364.91 L165.53,364.71 L165.18,364.30 L164.77,363.93 L164.46,363.52 L164.51,363.05 L164.56,362.60 L164.74,362.15 L164.93,361.70 L165.33,361.30 L165.62,360.86 L166.09,360.48 L166.77,360.29 L167.29,359.98 L167.89,359.76 L168.54,359.65 L169.20,359.71 L169.85,359.70 L170.50,359.78 L171.11,359.98 L171.78,360.16 L172.32,360.47 L172.84,360.83 L173.08,361.30 L173.39,361.72 L173.79,362.14 Z" fill="none" stroke="#555555" stroke-width="0.35"/>
<path d="M175.12,362.60 L175.04,363.17 L174.92,363.72 L174.83,364.29 L174.39,364.79 L173.59,365.12 L172.91,365.50 L172.20,365.91 L171.22,366.07 L170.21,366.15 L169.20,366.37 L168.18,366.18 L167.22,366.00 L166.26,365.85 L165.42,365.55 L164.64,365.22 L164.02,364.79 L163.81,364.22 L163.40,363.73 L163.13,363.19 L163.32,362.60 L163.36,362.01 L163.68,361.44 L164.15,360.88 L164.73,360.35 L165.48,359.90 L165.98,359.26 L166.84,358.92 L167.61,358.53 L168.39,358.17 L169.20,357.95 L170.03,358.11 L170.82,358.48 L171.65,358.80 L172.38,359.29 L173.04,359.82 L173.57,360.40 L174.20,360.90 L174.59,361.47 L175.00,362.02 Z" fill="none" stroke="#555555" stroke-width="0.35"/>
<path d="M176.17,362.60 L176.44,363.30 L176.26,363.98 L175.71,364.56 L175.48,365.25 L174.62,365.71 L173.74,366.15 L172.72,366.48 L171.62,366.76 L170.46,367.02 L169.20,367.11 L167.97,366.94 L166.76,366.79 L165.66,366.51 L164.75,366.08 L163.65,365.78 L163.11,365.17 L162.75,364.54 L162.34,363.94 L162.17,363.28 L162.01,362.60 L162.48,361.92 L162.86,361.27 L163.10,360.53 L163.95,359.95 L164.51,359.21 L165.56,358.80 L166.41,358.24 L167.30,357.74 L168.23,357.32 L169.20,357.02 L170.16,357.33 L171.19,357.55 L172.14,358.04 L172.97,358.68 L173.91,359.20 L174.63,359.87 L175.32,360.52 L175.71,361.23 L175.89,361.93 Z" fill="none" stroke="#555555" stroke-width="0.35"/>
<path d="M177.48,362.60 L177.27,363.38 L177.29,364.18 L177.18,365.00 L176.30,365.60 L175.59,366.27 L174.66,366.87 L173.40,367.23 L172.02,367.45 L170.64,367.67 L169.20,367.62 L167.73,367.76 L166.34,367.53 L165.10,367.13 L163.91,366.74 L162.74,366.31 L162.25,365.54 L161.58,364.89 L161.01,364.20 L160.76,363.42 L160.94,362.60 L161.15,361.79 L161.87,361.06 L162.22,360.23 L162.98,359.47 L164.00,358.83 L164.82,358.03 L165.91,357.47 L166.96,356.89 L168.04,356.31 L169.20,356.00 L170.30,356.55 L171.40,356.96 L172.57,357.36 L173.69,357.93 L174.58,358.71 L175.34,359.50 L176.25,360.20 L176.94,360.97 L176.98,361.82 Z" fill="none" stroke="#555555" stroke-width="0.35"/>
<path d="M178.36,362.60 L178.65,363.51 L178.61,364.44 L178.06,365.27 L177.35,366.04 L176.28,366.66 L175.15,367.25 L173.81,367.68 L172.44,368.17 L170.83,368.31 L169.20,368.50 L167.55,368.38 L165.99,368.12 L164.39,367.91 L163.18,367.30 L161.99,366.74 L161.06,366.04 L160.24,365.30 L159.64,364.47 L159.58,363.53 L160.06,362.60 L159.93,361.67 L160.56,360.78 L161.20,359.88 L162.31,359.13 L163.28,358.31 L164.34,357.53 L165.47,356.78 L166.68,356.15 L167.88,355.44 L169.20,355.08 L170.49,355.55 L171.74,356.12 L173.01,356.67 L174.09,357.50 L175.20,358.25 L176.26,359.04 L177.33,359.84 L177.95,360.76 L178.12,361.70 Z" fill="none" stroke="#555555" stroke-width="0.35"/>
<path d="M179.99,362.60 L180.17,363.66 L179.90,364.69 L178.96,365.54 L178.43,366.50 L177.55,367.39 L175.93,367.86 L174.55,368.51 L172.88,368.93 L171.11,369.30 L169.20,369.33 L167.35,369.11 L165.53,368.91 L163.97,368.38 L162.23,368.04 L161.19,367.19 L159.93,366.52 L159.45,365.53 L158.60,364.67 L158.34,363.65 L158.85,362.60 L158.98,361.57 L159.69,360.60 L160.26,359.56 L161.36,358.64 L162.16,357.51 L163.46,356.63 L165.02,356.07 L166.34,355.29 L167.76,354.72 L169.20,354.39 L170.67,354.61 L172.14,355.12 L173.50,355.92 L174.83,356.73 L175.92,357.73 L177.15,358.59 L178.31,359.50 L178.66,360.61 L179.30,361.58 Z" fill="none" stroke="#555555" stroke-width="0.35"/>
<ellipse cx="169.2" cy="362.8" rx="1.8" ry="1.2" fill="#fff"/>
<rect x="177.60" y="299.40" width="45.00" height="72.80" fill="none" stroke="#EC8080" stroke-width="1.5"/>
<text x="219.90" y="308.40" font-size="6.2" font-weight="bold" text-anchor="end" fill="#B83232" textLength="15.40" lengthAdjust="spacingAndGlyphs" stroke="#B83232" stroke-width="0.093">11.24</text>
<text x="190.00" y="392.00" font-size="7.9" font-weight="bold" text-anchor="middle" fill="#111" textLength="13.20" lengthAdjust="spacingAndGlyphs" stroke="#111" stroke-width="0.118">Old</text>
<line x1="267.30" y1="299.50" x2="267.30" y2="379.00" stroke="#333" stroke-width="0.8"/>
<line x1="265.50" y1="299.80" x2="267.30" y2="299.80" stroke="#333" stroke-width="0.8"/>
<text x="264.30" y="301.74" font-size="5.4" font-weight="bold" text-anchor="end" fill="#222" stroke="#222" stroke-width="0.081">15</text>
<line x1="265.50" y1="326.20" x2="267.30" y2="326.20" stroke="#333" stroke-width="0.8"/>
<text x="264.30" y="328.14" font-size="5.4" font-weight="bold" text-anchor="end" fill="#222" stroke="#222" stroke-width="0.081">10</text>
<line x1="265.50" y1="352.60" x2="267.30" y2="352.60" stroke="#333" stroke-width="0.8"/>
<text x="264.30" y="354.54" font-size="5.4" font-weight="bold" text-anchor="end" fill="#222" stroke="#222" stroke-width="0.081">5</text>
<line x1="265.50" y1="379.00" x2="267.30" y2="379.00" stroke="#333" stroke-width="0.8"/>
<text x="264.30" y="380.94" font-size="5.4" font-weight="bold" text-anchor="end" fill="#222" stroke="#222" stroke-width="0.081">0</text>
<line x1="267.30" y1="379.00" x2="333.00" y2="379.00" stroke="#222" stroke-width="0.7"/>
<rect x="277.40" y="324.20" width="19.50" height="54.80" fill="#5BB36C" stroke="#222" stroke-width="0.9"/>
<rect x="307.30" y="321.00" width="19.60" height="58.00" fill="#DE5566" stroke="#222" stroke-width="0.9"/>
<line x1="287.30" y1="320.20" x2="287.30" y2="328.40" stroke="#111" stroke-width="0.7"/>
<line x1="282.40" y1="320.20" x2="292.20" y2="320.20" stroke="#111" stroke-width="0.7"/>
<line x1="282.40" y1="328.40" x2="292.20" y2="328.40" stroke="#111" stroke-width="0.7"/>
<circle cx="287.30" cy="319.50" r="1.00" fill="#111"/>
<circle cx="284.40" cy="324.50" r="1.00" fill="#111"/>
<circle cx="290.20" cy="325.50" r="1.00" fill="#111"/>
<circle cx="287.30" cy="328.80" r="1.00" fill="#111"/>
<line x1="317.10" y1="317.30" x2="317.10" y2="324.30" stroke="#111" stroke-width="0.7"/>
<line x1="312.20" y1="317.30" x2="322.00" y2="317.30" stroke="#111" stroke-width="0.7"/>
<line x1="312.20" y1="324.30" x2="322.00" y2="324.30" stroke="#111" stroke-width="0.7"/>
<circle cx="317.10" cy="316.50" r="1.00" fill="#111"/>
<circle cx="314.40" cy="320.50" r="1.00" fill="#111"/>
<circle cx="320.00" cy="321.50" r="1.00" fill="#111"/>
<circle cx="317.10" cy="325.00" r="1.00" fill="#111"/>
<line x1="287.20" y1="379.00" x2="287.20" y2="380.70" stroke="#222" stroke-width="0.7"/>
<text x="287.20" y="387.80" font-size="5.0" font-weight="bold" text-anchor="middle" fill="#222" stroke="#222" stroke-width="0.075">Young</text>
<line x1="316.80" y1="379.00" x2="316.80" y2="380.70" stroke="#222" stroke-width="0.7"/>
<text x="316.80" y="387.80" font-size="5.0" font-weight="bold" text-anchor="middle" fill="#222" stroke="#222" stroke-width="0.075">Old</text>
<text x="247.10" y="376.30" font-size="6.0" font-weight="normal" text-anchor="start" fill="#333" textLength="75.50" lengthAdjust="spacingAndGlyphs" transform="rotate(-90 247.10 376.30)" stroke="#333" stroke-width="0.072">%  of  CD300ld expression</text>
<text x="363.60" y="130.50" font-size="9.5" font-weight="bold" text-anchor="start" fill="#000" stroke="#000" stroke-width="0.120">G</text>
<line x1="383.40" y1="137.30" x2="681.30" y2="137.30" stroke="#3a3a3a" stroke-width="1.0"/>
<text x="458.50" y="131.10" font-size="8.1" font-weight="bold" text-anchor="start" fill="#111" textLength="115.60" lengthAdjust="spacingAndGlyphs" stroke="#111" stroke-width="0.120">CD4 T cell suppression assay</text>
<rect x="383.20" y="142.30" width="64.30" height="65.80" fill="#fff" stroke="#ababab" stroke-width="1.1"/>
<line x1="383.20" y1="141.80" x2="383.20" y2="208.10" stroke="#5a5a5a" stroke-width="0.9"/>
<line x1="383.20" y1="208.10" x2="448.00" y2="208.10" stroke="#5a5a5a" stroke-width="0.9"/>
<line x1="384.50" y1="208.10" x2="384.50" y2="209.60" stroke="#444" stroke-width="0.45"/>
<line x1="392.00" y1="208.10" x2="392.00" y2="209.60" stroke="#444" stroke-width="0.45"/>
<line x1="401.00" y1="208.10" x2="401.00" y2="209.60" stroke="#444" stroke-width="0.45"/>
<line x1="414.00" y1="208.10" x2="414.00" y2="209.60" stroke="#444" stroke-width="0.45"/>
<line x1="427.00" y1="208.10" x2="427.00" y2="209.60" stroke="#444" stroke-width="0.45"/>
<line x1="440.00" y1="208.10" x2="440.00" y2="209.60" stroke="#444" stroke-width="0.45"/>
<line x1="386.00" y1="208.10" x2="386.00" y2="208.90" stroke="#444" stroke-width="0.3"/>
<line x1="389.00" y1="208.10" x2="389.00" y2="208.90" stroke="#444" stroke-width="0.3"/>
<line x1="392.00" y1="208.10" x2="392.00" y2="208.90" stroke="#444" stroke-width="0.3"/>
<line x1="395.00" y1="208.10" x2="395.00" y2="208.90" stroke="#444" stroke-width="0.3"/>
<line x1="398.00" y1="208.10" x2="398.00" y2="208.90" stroke="#444" stroke-width="0.3"/>
<line x1="401.00" y1="208.10" x2="401.00" y2="208.90" stroke="#444" stroke-width="0.3"/>
<line x1="404.00" y1="208.10" x2="404.00" y2="208.90" stroke="#444" stroke-width="0.3"/>
<line x1="407.00" y1="208.10" x2="407.00" y2="208.90" stroke="#444" stroke-width="0.3"/>
<line x1="410.00" y1="208.10" x2="410.00" y2="208.90" stroke="#444" stroke-width="0.3"/>
<line x1="413.00" y1="208.10" x2="413.00" y2="208.90" stroke="#444" stroke-width="0.3"/>
<line x1="416.00" y1="208.10" x2="416.00" y2="208.90" stroke="#444" stroke-width="0.3"/>
<line x1="419.00" y1="208.10" x2="419.00" y2="208.90" stroke="#444" stroke-width="0.3"/>
<line x1="422.00" y1="208.10" x2="422.00" y2="208.90" stroke="#444" stroke-width="0.3"/>
<line x1="425.00" y1="208.10" x2="425.00" y2="208.90" stroke="#444" stroke-width="0.3"/>
<line x1="428.00" y1="208.10" x2="428.00" y2="208.90" stroke="#444" stroke-width="0.3"/>
<line x1="431.00" y1="208.10" x2="431.00" y2="208.90" stroke="#444" stroke-width="0.3"/>
<line x1="434.00" y1="208.10" x2="434.00" y2="208.90" stroke="#444" stroke-width="0.3"/>
<line x1="437.00" y1="208.10" x2="437.00" y2="208.90" stroke="#444" stroke-width="0.3"/>
<line x1="440.00" y1="208.10" x2="440.00" y2="208.90" stroke="#444" stroke-width="0.3"/>
<line x1="443.00" y1="208.10" x2="443.00" y2="208.90" stroke="#444" stroke-width="0.3"/>
<line x1="383.60" y1="165.50" x2="447.10" y2="165.50" stroke="#D8E6FA" stroke-width="0.35"/>
<line x1="383.60" y1="175.90" x2="447.10" y2="175.90" stroke="#DCD8FA" stroke-width="0.35"/>
<line x1="383.60" y1="186.90" x2="447.10" y2="186.90" stroke="#FAE2D2" stroke-width="0.35"/>
<line x1="383.60" y1="197.70" x2="447.10" y2="197.70" stroke="#FAD2D6" stroke-width="0.35"/>
<path d="M408.50,165.50 L408.50,163.50 L408.77,163.55 L409.04,162.38 L409.30,162.00 L409.57,162.21 L409.84,161.50 L410.11,161.89 L410.38,161.52 L410.65,161.03 L410.91,159.74 L411.18,160.54 L411.45,158.23 L411.72,160.36 L411.99,159.77 L412.25,159.87 L412.52,157.57 L412.79,158.66 L413.06,158.19 L413.33,158.56 L413.60,157.44 L413.86,158.17 L414.13,158.80 L414.40,158.05 L414.67,158.48 L414.94,159.14 L415.20,156.74 L415.47,157.17 L415.74,157.07 L416.01,155.92 L416.28,157.13 L416.55,156.45 L416.81,155.46 L417.08,154.95 L417.35,153.46 L417.62,156.90 L417.89,155.10 L418.15,154.99 L418.42,155.62 L418.69,156.53 L418.96,152.01 L419.23,155.07 L419.50,151.30 L419.76,153.77 L420.03,154.73 L420.30,154.20 L420.57,155.20 L420.84,155.18 L421.10,153.26 L421.37,154.43 L421.64,157.42 L421.91,157.76 L422.18,159.26 L422.45,159.61 L422.71,158.52 L422.98,159.58 L423.25,157.24 L423.52,157.17 L423.79,156.86 L424.05,159.32 L424.32,159.44 L424.59,160.16 L424.86,159.87 L425.13,158.86 L425.40,159.23 L425.66,159.18 L425.93,160.65 L426.20,158.73 L426.47,158.25 L426.74,158.12 L427.00,158.43 L427.27,160.62 L427.54,161.04 L427.81,160.33 L428.08,161.04 L428.35,161.26 L428.61,162.25 L428.88,161.80 L429.15,162.93 L429.42,161.90 L429.69,162.04 L429.95,162.78 L430.22,163.15 L430.49,162.59 L430.76,162.47 L431.03,162.95 L431.30,163.37 L431.56,163.19 L431.83,162.69 L432.10,163.57 L432.37,162.81 L432.64,163.58 L432.90,163.70 L433.17,163.85 L433.44,163.19 L433.71,163.34 L433.98,163.88 L434.25,164.12 L434.51,163.79 L434.78,163.73 L435.05,164.40 L435.32,164.14 L435.59,164.16 L435.85,164.50 L436.12,164.59 L436.39,164.66 L436.66,164.96 L436.93,165.06 L437.20,165.09 L437.46,165.20 L437.73,165.28 L438.00,165.36 L438.00,165.50 Z" fill="#B6D5F7" fill-opacity="0.85" stroke="#a4c0de" stroke-width="0.25"/>
<path d="M413.00,175.90 L413.00,175.23 L413.23,174.93 L413.45,174.95 L413.68,174.50 L413.90,174.33 L414.12,174.24 L414.35,173.82 L414.57,173.58 L414.80,173.81 L415.02,173.00 L415.25,172.57 L415.48,172.37 L415.70,171.48 L415.93,171.35 L416.15,171.64 L416.38,171.63 L416.60,171.56 L416.82,169.84 L417.05,169.78 L417.27,169.64 L417.50,169.67 L417.73,169.01 L417.95,169.16 L418.18,167.28 L418.40,167.56 L418.62,164.26 L418.85,162.72 L419.07,161.20 L419.30,162.82 L419.52,163.56 L419.75,162.59 L419.98,161.65 L420.20,163.92 L420.43,164.27 L420.65,166.69 L420.88,167.52 L421.10,166.12 L421.32,168.62 L421.55,168.34 L421.77,166.86 L422.00,166.68 L422.23,167.52 L422.45,167.40 L422.68,168.15 L422.90,167.73 L423.12,167.15 L423.35,167.09 L423.57,167.11 L423.80,166.89 L424.02,164.04 L424.25,165.15 L424.48,163.61 L424.70,162.04 L424.93,162.98 L425.15,164.84 L425.38,164.10 L425.60,165.78 L425.82,165.82 L426.05,167.88 L426.27,168.98 L426.50,168.46 L426.73,169.88 L426.95,170.24 L427.18,168.74 L427.40,168.29 L427.62,169.84 L427.85,169.66 L428.07,166.72 L428.30,166.23 L428.52,167.77 L428.75,168.33 L428.98,167.29 L429.20,167.16 L429.43,169.95 L429.65,170.03 L429.88,170.25 L430.10,171.71 L430.32,171.80 L430.55,172.58 L430.77,172.33 L431.00,172.87 L431.23,173.22 L431.45,172.98 L431.68,173.40 L431.90,173.58 L432.12,173.70 L432.35,173.61 L432.57,173.90 L432.80,173.77 L433.02,174.23 L433.25,174.54 L433.48,174.75 L433.70,174.88 L433.93,174.88 L434.15,175.23 L434.38,175.29 L434.60,175.34 L434.82,175.46 L435.05,175.60 L435.27,175.64 L435.50,175.71 L435.50,175.90 Z" fill="#B0A8F2" fill-opacity="0.85" stroke="#9e97da" stroke-width="0.25"/>
<path d="M413.50,186.90 L413.50,185.01 L413.74,185.15 L413.98,184.73 L414.22,184.48 L414.46,184.73 L414.70,184.67 L414.95,183.85 L415.19,184.21 L415.43,183.64 L415.67,182.66 L415.91,182.41 L416.15,183.39 L416.39,183.27 L416.63,182.83 L416.87,181.49 L417.11,182.87 L417.35,182.30 L417.60,182.40 L417.84,182.22 L418.08,181.18 L418.32,181.82 L418.56,181.14 L418.80,180.19 L419.04,180.05 L419.28,180.66 L419.52,179.51 L419.76,179.90 L420.00,179.01 L420.25,180.46 L420.49,179.94 L420.73,179.14 L420.97,177.84 L421.21,178.69 L421.45,179.01 L421.69,179.62 L421.93,179.44 L422.17,179.58 L422.41,176.91 L422.65,177.06 L422.90,176.65 L423.14,177.34 L423.38,175.58 L423.62,176.02 L423.86,173.52 L424.10,174.03 L424.34,171.43 L424.58,172.40 L424.82,174.02 L425.06,170.60 L425.30,176.46 L425.55,174.29 L425.79,175.61 L426.03,178.37 L426.27,176.69 L426.51,174.34 L426.75,174.12 L426.99,175.73 L427.23,174.56 L427.47,174.44 L427.71,175.85 L427.95,173.93 L428.20,173.06 L428.44,173.83 L428.68,171.65 L428.92,174.30 L429.16,173.88 L429.40,178.18 L429.64,177.84 L429.88,180.26 L430.12,179.27 L430.36,179.41 L430.60,180.79 L430.85,181.13 L431.09,181.35 L431.33,182.44 L431.57,182.40 L431.81,182.33 L432.05,182.52 L432.29,183.24 L432.53,183.39 L432.77,183.87 L433.01,183.88 L433.25,184.03 L433.50,184.65 L433.74,184.57 L433.98,184.68 L434.22,185.13 L434.46,185.03 L434.70,185.59 L434.94,185.40 L435.18,185.87 L435.42,185.88 L435.66,185.77 L435.90,186.14 L436.15,185.99 L436.39,185.97 L436.63,186.01 L436.87,186.15 L437.11,186.30 L437.35,186.36 L437.59,186.35 L437.83,186.51 L438.07,186.56 L438.31,186.48 L438.55,186.57 L438.80,186.67 L439.04,186.69 L439.28,186.73 L439.52,186.73 L439.76,186.79 L440.00,186.80 L440.00,186.90 Z" fill="#F2C39A" fill-opacity="0.85" stroke="#dab08b" stroke-width="0.25"/>
<path d="M416.00,197.70 L416.00,197.67 L416.25,197.66 L416.50,197.65 L416.75,197.64 L417.00,197.62 L417.25,197.58 L417.50,197.53 L417.75,197.53 L418.00,197.47 L418.25,197.34 L418.50,197.34 L418.75,197.18 L419.00,197.12 L419.25,196.93 L419.50,196.71 L419.75,196.62 L420.00,196.50 L420.25,196.33 L420.50,195.97 L420.75,195.73 L421.00,195.63 L421.25,195.35 L421.50,195.06 L421.75,195.06 L422.00,194.92 L422.25,194.35 L422.50,194.65 L422.75,193.98 L423.00,193.62 L423.25,193.49 L423.50,194.10 L423.75,193.89 L424.00,193.30 L424.25,194.01 L424.50,193.33 L424.75,194.31 L425.00,193.70 L425.25,194.66 L425.50,194.11 L425.75,194.09 L426.00,194.46 L426.25,194.50 L426.50,194.38 L426.75,194.46 L427.00,195.27 L427.25,195.15 L427.50,195.66 L427.75,195.59 L428.00,195.92 L428.25,196.09 L428.50,196.06 L428.75,196.50 L429.00,196.65 L429.25,196.87 L429.50,196.82 L429.75,197.11 L430.00,197.26 L430.25,197.30 L430.50,197.39 L430.75,197.48 L431.00,197.54 L431.00,197.70 Z" fill="#E7707E" fill-opacity="0.85" stroke="#d06571" stroke-width="0.25"/>
<path d="M432.40,208.10 L432.40,207.40 L432.65,206.95 L432.91,206.02 L433.16,204.85 L433.42,204.09 L433.67,202.41 L433.92,201.76 L434.18,201.06 L434.43,199.98 L434.69,198.56 L434.94,199.06 L435.20,197.50 L435.45,197.76 L435.70,198.05 L435.96,197.78 L436.21,198.57 L436.47,199.50 L436.72,200.23 L436.98,201.74 L437.23,203.88 L437.48,204.57 L437.74,205.85 L437.99,206.54 L438.25,207.17 L438.50,207.59 L438.50,208.10 Z" fill="#BDBDBD" fill-opacity="0.85" stroke="#aaaaaa" stroke-width="0.25"/>
<line x1="432.40" y1="142.30" x2="432.40" y2="208.10" stroke="#6a6a6a" stroke-width="0.8"/>
<text x="380.90" y="186.00" font-size="6.4" font-weight="bold" text-anchor="start" fill="#111" textLength="16.20" lengthAdjust="spacingAndGlyphs" transform="rotate(-90 380.90 186.00)" stroke="#111" stroke-width="0.096">Count</text>
<text x="385.6" y="213.8" font-size="2.4" fill="#444" text-anchor="middle">-</text>
<text x="392" y="213.8" font-size="2.4" fill="#444" text-anchor="middle">0</text>
<text x="401" y="213.8" font-size="2.4" fill="#444" text-anchor="middle">10<tspan font-size="1.6" dy="-1">3</tspan></text>
<text x="414" y="213.8" font-size="2.4" fill="#444" text-anchor="middle">10<tspan font-size="1.6" dy="-1">4</tspan></text>
<text x="427" y="213.8" font-size="2.4" fill="#444" text-anchor="middle">10<tspan font-size="1.6" dy="-1">5</tspan></text>
<text x="440" y="213.8" font-size="2.4" fill="#444" text-anchor="middle">10<tspan font-size="1.6" dy="-1">6</tspan></text>
<line x1="478.40" y1="144.80" x2="478.40" y2="205.60" stroke="#333" stroke-width="0.8"/>
<line x1="476.60" y1="145.10" x2="478.40" y2="145.10" stroke="#333" stroke-width="0.8"/>
<text x="475.10" y="146.79" font-size="4.7" font-weight="bold" text-anchor="end" fill="#222">1.5</text>
<line x1="476.60" y1="165.10" x2="478.40" y2="165.10" stroke="#333" stroke-width="0.8"/>
<text x="475.10" y="166.79" font-size="4.7" font-weight="bold" text-anchor="end" fill="#222">1.0</text>
<line x1="476.60" y1="185.40" x2="478.40" y2="185.40" stroke="#333" stroke-width="0.8"/>
<text x="475.10" y="187.09" font-size="4.7" font-weight="bold" text-anchor="end" fill="#222">0.5</text>
<line x1="476.60" y1="205.60" x2="478.40" y2="205.60" stroke="#333" stroke-width="0.8"/>
<text x="475.10" y="207.29" font-size="4.7" font-weight="bold" text-anchor="end" fill="#222">0.0</text>
<line x1="478.40" y1="205.60" x2="556.80" y2="205.60" stroke="#222" stroke-width="0.7"/>
<circle cx="484.60" cy="205.60" r="1.30" fill="#111"/>
<circle cx="486.46" cy="205.60" r="1.30" fill="#111"/>
<circle cx="488.32" cy="205.60" r="1.30" fill="#111"/>
<circle cx="490.18" cy="205.60" r="1.30" fill="#111"/>
<circle cx="492.04" cy="205.60" r="1.30" fill="#111"/>
<circle cx="493.90" cy="205.60" r="1.30" fill="#111"/>
<rect x="498.20" y="165.10" width="10.20" height="40.50" fill="#A8D0F8" stroke="#222" stroke-width="0.9"/>
<circle cx="499.40" cy="165.10" r="1.30" fill="#111"/>
<circle cx="501.00" cy="165.10" r="1.30" fill="#111"/>
<circle cx="502.60" cy="165.10" r="1.30" fill="#111"/>
<circle cx="504.20" cy="165.10" r="1.30" fill="#111"/>
<circle cx="505.80" cy="165.10" r="1.30" fill="#111"/>
<circle cx="507.40" cy="165.10" r="1.30" fill="#111"/>
<rect x="512.40" y="168.40" width="10.20" height="37.20" fill="#D3D1FA" stroke="#222" stroke-width="0.9"/>
<line x1="517.50" y1="167.00" x2="517.50" y2="170.00" stroke="#111" stroke-width="0.5"/>
<line x1="514.50" y1="167.00" x2="520.50" y2="167.00" stroke="#111" stroke-width="0.5"/>
<line x1="514.50" y1="170.00" x2="520.50" y2="170.00" stroke="#111" stroke-width="0.5"/>
<circle cx="513.80" cy="167.60" r="1.30" fill="#111"/>
<circle cx="515.60" cy="166.80" r="1.30" fill="#111"/>
<circle cx="517.60" cy="166.20" r="1.30" fill="#111"/>
<circle cx="519.60" cy="168.00" r="1.30" fill="#111"/>
<circle cx="521.20" cy="167.00" r="1.30" fill="#111"/>
<circle cx="516.00" cy="169.60" r="1.30" fill="#111"/>
<circle cx="518.00" cy="170.40" r="1.30" fill="#111"/>
<rect x="526.50" y="177.00" width="10.20" height="28.60" fill="#F6D7B8" stroke="#222" stroke-width="0.9"/>
<line x1="531.60" y1="172.80" x2="531.60" y2="177.80" stroke="#111" stroke-width="0.5"/>
<line x1="528.60" y1="172.80" x2="534.60" y2="172.80" stroke="#111" stroke-width="0.5"/>
<line x1="528.60" y1="177.80" x2="534.60" y2="177.80" stroke="#111" stroke-width="0.5"/>
<circle cx="531.60" cy="171.60" r="1.30" fill="#111"/>
<circle cx="527.80" cy="175.60" r="1.30" fill="#111"/>
<circle cx="530.00" cy="176.20" r="1.30" fill="#111"/>
<circle cx="533.50" cy="176.60" r="1.30" fill="#111"/>
<circle cx="535.60" cy="175.80" r="1.30" fill="#111"/>
<circle cx="531.60" cy="174.80" r="1.30" fill="#111"/>
<rect x="540.90" y="198.60" width="10.30" height="7.00" fill="#EC6C70" stroke="#222" stroke-width="0.9"/>
<line x1="546.00" y1="195.80" x2="546.00" y2="199.40" stroke="#111" stroke-width="0.5"/>
<line x1="543.00" y1="195.80" x2="549.00" y2="195.80" stroke="#111" stroke-width="0.5"/>
<line x1="543.00" y1="199.40" x2="549.00" y2="199.40" stroke="#111" stroke-width="0.5"/>
<circle cx="542.20" cy="196.80" r="1.30" fill="#111"/>
<circle cx="544.80" cy="199.00" r="1.30" fill="#111"/>
<circle cx="546.80" cy="198.40" r="1.30" fill="#111"/>
<circle cx="549.50" cy="197.60" r="1.30" fill="#111"/>
<circle cx="550.40" cy="199.40" r="1.30" fill="#111"/>
<line x1="503.20" y1="148.40" x2="546.20" y2="148.40" stroke="#222" stroke-width="0.65"/>
<text x="524.70" y="149.00" font-size="5.5" font-weight="bold" text-anchor="middle" fill="#222" stroke="#222" stroke-width="0.082">*</text>
<line x1="517.10" y1="154.20" x2="546.20" y2="154.20" stroke="#222" stroke-width="0.65"/>
<text x="530.90" y="154.80" font-size="5.5" font-weight="bold" text-anchor="middle" fill="#222" stroke="#222" stroke-width="0.082">*</text>
<line x1="531.40" y1="160.30" x2="546.20" y2="160.30" stroke="#222" stroke-width="0.65"/>
<text x="538.50" y="160.90" font-size="5.5" font-weight="bold" text-anchor="middle" fill="#222" stroke="#222" stroke-width="0.082">*</text>
<text x="457.10" y="192.00" font-size="4.6" font-weight="normal" text-anchor="start" fill="#333" textLength="31.00" lengthAdjust="spacingAndGlyphs" transform="rotate(-90 457.10 192.00)">Normalized to</text>
<text x="462.70" y="192.00" font-size="4.6" font-weight="normal" text-anchor="start" fill="#333" textLength="33.00" lengthAdjust="spacingAndGlyphs" transform="rotate(-90 462.70 192.00)">activated T cell</text>
<rect x="565.70" y="155.75" width="4.30" height="4.30" fill="#000" stroke="none" stroke-width="0.8"/>
<text x="572.50" y="159.65" font-size="4.9" font-weight="bold" text-anchor="start" fill="#222" textLength="11.20" lengthAdjust="spacingAndGlyphs" stroke="#222" stroke-width="0.04">T cell</text>
<rect x="565.70" y="162.65" width="4.30" height="4.30" fill="#A8CCF8" stroke="none" stroke-width="0.8"/>
<text x="572.50" y="166.55" font-size="4.9" font-weight="bold" text-anchor="start" fill="#222" textLength="33.80" lengthAdjust="spacingAndGlyphs" stroke="#222" stroke-width="0.04">CD3/CD28 T cell</text>
<rect x="565.70" y="170.55" width="4.30" height="4.30" fill="#CFCCFA" stroke="none" stroke-width="0.8"/>
<text x="572.50" y="174.45" font-size="4.9" font-weight="bold" text-anchor="start" fill="#222" textLength="96.20" lengthAdjust="spacingAndGlyphs" stroke="#222" stroke-width="0.04">CD3/CD28 T cell <tspan font-size="6">+</tspan> CD11b<tspan font-size="3.3" dy="-1.9">+</tspan><tspan dy="1.9"> Gr1<tspan font-size="3.3" dy="-1.9">+</tspan><tspan dy="1.9"> cell (Young)</tspan></tspan></text>
<rect x="565.70" y="178.45" width="4.30" height="4.30" fill="#F4D2B4" stroke="none" stroke-width="0.8"/>
<text x="572.50" y="182.35" font-size="4.9" font-weight="bold" text-anchor="start" fill="#222" textLength="110.00" lengthAdjust="spacingAndGlyphs" stroke="#222" stroke-width="0.04">CD3/CD28 T cell <tspan font-size="6">+</tspan> CD11b<tspan font-size="3.3" dy="-1.9">+</tspan><tspan dy="1.9"> Gr1<tspan font-size="3.3" dy="-1.9">+</tspan><tspan dy="1.9"> CD300c<tspan font-size="3" dy="-1.8">-</tspan><tspan dy="1.8"> cell (Old)</tspan></tspan></tspan></text>
<rect x="565.70" y="186.95" width="4.30" height="4.30" fill="#E8606A" stroke="none" stroke-width="0.8"/>
<text x="572.50" y="190.85" font-size="4.9" font-weight="bold" text-anchor="start" fill="#222" textLength="110.00" lengthAdjust="spacingAndGlyphs" stroke="#222" stroke-width="0.04">CD3/CD28 T cell <tspan font-size="6">+</tspan> CD11b<tspan font-size="3.3" dy="-1.9">+</tspan><tspan dy="1.9"> Gr1<tspan font-size="3.3" dy="-1.9">+</tspan><tspan dy="1.9"> CD300c<tspan font-size="3" dy="-1.8">+</tspan><tspan dy="1.8"> cell (Old)</tspan></tspan></tspan></text>
<text x="364.60" y="227.40" font-size="9.5" font-weight="bold" text-anchor="start" fill="#000" stroke="#000" stroke-width="0.120">H</text>
<line x1="384.10" y1="229.50" x2="681.30" y2="229.50" stroke="#3a3a3a" stroke-width="1.0"/>
<text x="462.90" y="224.90" font-size="8.1" font-weight="bold" text-anchor="start" fill="#111" textLength="115.80" lengthAdjust="spacingAndGlyphs" stroke="#111" stroke-width="0.120">CD8 T cell suppression assay</text>
<rect x="384.70" y="234.70" width="64.60" height="64.30" fill="#fff" stroke="#ababab" stroke-width="1.1"/>
<line x1="384.70" y1="234.20" x2="384.70" y2="299.00" stroke="#5a5a5a" stroke-width="0.9"/>
<line x1="384.70" y1="299.00" x2="449.80" y2="299.00" stroke="#5a5a5a" stroke-width="0.9"/>
<line x1="386.00" y1="299.00" x2="386.00" y2="300.50" stroke="#444" stroke-width="0.45"/>
<line x1="393.50" y1="299.00" x2="393.50" y2="300.50" stroke="#444" stroke-width="0.45"/>
<line x1="403.00" y1="299.00" x2="403.00" y2="300.50" stroke="#444" stroke-width="0.45"/>
<line x1="414.00" y1="299.00" x2="414.00" y2="300.50" stroke="#444" stroke-width="0.45"/>
<line x1="425.70" y1="299.00" x2="425.70" y2="300.50" stroke="#444" stroke-width="0.45"/>
<line x1="437.00" y1="299.00" x2="437.00" y2="300.50" stroke="#444" stroke-width="0.45"/>
<line x1="447.00" y1="299.00" x2="447.00" y2="300.50" stroke="#444" stroke-width="0.45"/>
<line x1="388.00" y1="299.00" x2="388.00" y2="299.80" stroke="#444" stroke-width="0.3"/>
<line x1="391.00" y1="299.00" x2="391.00" y2="299.80" stroke="#444" stroke-width="0.3"/>
<line x1="394.00" y1="299.00" x2="394.00" y2="299.80" stroke="#444" stroke-width="0.3"/>
<line x1="397.00" y1="299.00" x2="397.00" y2="299.80" stroke="#444" stroke-width="0.3"/>
<line x1="400.00" y1="299.00" x2="400.00" y2="299.80" stroke="#444" stroke-width="0.3"/>
<line x1="403.00" y1="299.00" x2="403.00" y2="299.80" stroke="#444" stroke-width="0.3"/>
<line x1="406.00" y1="299.00" x2="406.00" y2="299.80" stroke="#444" stroke-width="0.3"/>
<line x1="409.00" y1="299.00" x2="409.00" y2="299.80" stroke="#444" stroke-width="0.3"/>
<line x1="412.00" y1="299.00" x2="412.00" y2="299.80" stroke="#444" stroke-width="0.3"/>
<line x1="415.00" y1="299.00" x2="415.00" y2="299.80" stroke="#444" stroke-width="0.3"/>
<line x1="418.00" y1="299.00" x2="418.00" y2="299.80" stroke="#444" stroke-width="0.3"/>
<line x1="421.00" y1="299.00" x2="421.00" y2="299.80" stroke="#444" stroke-width="0.3"/>
<line x1="424.00" y1="299.00" x2="424.00" y2="299.80" stroke="#444" stroke-width="0.3"/>
<line x1="427.00" y1="299.00" x2="427.00" y2="299.80" stroke="#444" stroke-width="0.3"/>
<line x1="430.00" y1="299.00" x2="430.00" y2="299.80" stroke="#444" stroke-width="0.3"/>
<line x1="433.00" y1="299.00" x2="433.00" y2="299.80" stroke="#444" stroke-width="0.3"/>
<line x1="436.00" y1="299.00" x2="436.00" y2="299.80" stroke="#444" stroke-width="0.3"/>
<line x1="439.00" y1="299.00" x2="439.00" y2="299.80" stroke="#444" stroke-width="0.3"/>
<line x1="442.00" y1="299.00" x2="442.00" y2="299.80" stroke="#444" stroke-width="0.3"/>
<line x1="445.00" y1="299.00" x2="445.00" y2="299.80" stroke="#444" stroke-width="0.3"/>
<line x1="385.10" y1="257.40" x2="448.90" y2="257.40" stroke="#D8E6FA" stroke-width="0.35"/>
<line x1="385.10" y1="267.80" x2="448.90" y2="267.80" stroke="#DCD8FA" stroke-width="0.35"/>
<line x1="385.10" y1="278.70" x2="448.90" y2="278.70" stroke="#FAE2D2" stroke-width="0.35"/>
<line x1="385.10" y1="289.50" x2="448.90" y2="289.50" stroke="#FAD2D6" stroke-width="0.35"/>
<path d="M407.50,257.40 L407.50,255.63 L407.79,254.96 L408.07,254.87 L408.36,253.99 L408.65,252.61 L408.94,252.03 L409.23,251.85 L409.51,250.52 L409.80,250.70 L410.09,248.97 L410.38,249.24 L410.66,250.39 L410.95,248.69 L411.24,248.79 L411.52,248.44 L411.81,249.46 L412.10,247.50 L412.39,248.98 L412.68,247.81 L412.96,246.87 L413.25,245.07 L413.54,243.62 L413.82,237.65 L414.11,236.60 L414.40,241.09 L414.69,237.30 L414.98,242.38 L415.26,240.14 L415.55,243.02 L415.84,242.80 L416.12,241.02 L416.41,239.57 L416.70,238.64 L416.99,240.39 L417.27,241.68 L417.56,238.73 L417.85,240.44 L418.14,239.73 L418.43,241.13 L418.71,245.60 L419.00,244.59 L419.29,243.11 L419.57,244.93 L419.86,242.87 L420.15,248.28 L420.44,247.43 L420.73,246.60 L421.01,246.85 L421.30,248.72 L421.59,249.75 L421.88,248.78 L422.16,249.99 L422.45,249.31 L422.74,250.95 L423.02,251.95 L423.31,251.62 L423.60,251.80 L423.89,252.78 L424.18,252.92 L424.46,253.20 L424.75,253.47 L425.04,254.42 L425.32,254.03 L425.61,253.52 L425.90,254.19 L426.19,254.05 L426.48,254.07 L426.76,255.26 L427.05,254.75 L427.34,255.17 L427.62,255.75 L427.91,255.73 L428.20,255.68 L428.49,255.84 L428.77,255.73 L429.06,256.13 L429.35,256.01 L429.64,256.27 L429.93,256.10 L430.21,256.15 L430.50,256.53 L430.79,256.30 L431.07,256.60 L431.36,256.54 L431.65,256.35 L431.94,256.53 L432.23,256.69 L432.51,256.71 L432.80,256.38 L433.09,256.44 L433.38,256.42 L433.66,256.64 L433.95,256.66 L434.24,256.54 L434.52,256.75 L434.81,256.58 L435.10,256.72 L435.39,256.71 L435.68,256.52 L435.96,256.68 L436.25,256.43 L436.54,256.53 L436.82,256.55 L437.11,256.53 L437.40,256.67 L437.69,256.46 L437.98,256.77 L438.26,256.54 L438.55,256.69 L438.84,256.72 L439.12,256.79 L439.41,256.89 L439.70,256.99 L439.99,257.01 L440.27,257.02 L440.56,257.12 L440.85,257.12 L441.14,257.18 L441.43,257.26 L441.71,257.29 L442.00,257.28 L442.00,257.40 Z" fill="#B6D5F7" fill-opacity="0.85" stroke="#a4c0de" stroke-width="0.25"/>
<path d="M408.50,267.80 L408.50,267.30 L408.69,267.23 L408.89,267.18 L409.08,267.12 L409.28,266.85 L409.47,266.59 L409.67,266.64 L409.86,266.26 L410.06,266.50 L410.25,266.03 L410.44,266.04 L410.64,265.61 L410.83,265.28 L411.03,264.80 L411.22,264.87 L411.42,264.23 L411.61,264.62 L411.81,264.66 L412.00,263.99 L412.19,263.39 L412.39,263.17 L412.58,264.03 L412.78,263.49 L412.97,263.28 L413.17,262.65 L413.36,261.60 L413.56,262.47 L413.75,262.61 L413.94,260.19 L414.14,259.71 L414.33,259.42 L414.53,261.06 L414.72,260.09 L414.92,260.14 L415.11,257.72 L415.31,260.21 L415.50,260.22 L415.69,259.90 L415.89,257.90 L416.08,259.48 L416.28,256.18 L416.47,257.93 L416.67,255.85 L416.86,257.17 L417.06,256.39 L417.25,253.81 L417.44,253.60 L417.64,257.43 L417.83,257.74 L418.03,259.54 L418.22,259.69 L418.42,259.54 L418.61,259.38 L418.81,259.28 L419.00,259.89 L419.19,260.40 L419.39,259.20 L419.58,259.98 L419.78,260.32 L419.97,259.10 L420.17,260.73 L420.36,262.62 L420.56,261.09 L420.75,261.51 L420.94,262.87 L421.14,261.93 L421.33,263.53 L421.53,262.05 L421.72,263.40 L421.92,262.20 L422.11,262.67 L422.31,262.44 L422.50,263.79 L422.69,263.61 L422.89,263.63 L423.08,265.00 L423.28,265.24 L423.47,265.16 L423.67,265.79 L423.86,266.04 L424.06,266.24 L424.25,266.19 L424.44,266.19 L424.64,266.45 L424.83,266.55 L425.03,266.94 L425.22,267.04 L425.42,267.04 L425.61,267.26 L425.81,267.39 L426.00,267.47 L426.00,267.80 Z" fill="#B0A8F2" fill-opacity="0.85" stroke="#9e97da" stroke-width="0.25"/>
<path d="M408.50,278.70 L408.50,277.92 L408.71,277.54 L408.92,277.50 L409.13,277.55 L409.34,277.14 L409.56,277.09 L409.77,276.81 L409.98,276.79 L410.19,276.57 L410.40,276.38 L410.61,276.58 L410.82,276.67 L411.03,275.85 L411.24,276.45 L411.46,275.93 L411.67,275.39 L411.88,275.96 L412.09,275.98 L412.30,275.79 L412.51,275.93 L412.72,275.26 L412.93,275.74 L413.14,275.96 L413.36,275.31 L413.57,275.66 L413.78,275.70 L413.99,275.82 L414.20,274.64 L414.41,275.05 L414.62,274.44 L414.83,274.24 L415.04,273.07 L415.26,274.04 L415.47,272.28 L415.68,271.20 L415.89,272.05 L416.10,271.31 L416.31,271.40 L416.52,271.44 L416.73,269.86 L416.94,272.01 L417.16,270.85 L417.37,272.70 L417.58,270.66 L417.79,272.23 L418.00,269.78 L418.21,271.46 L418.42,270.62 L418.63,270.24 L418.84,270.15 L419.06,268.70 L419.27,269.90 L419.48,271.63 L419.69,271.44 L419.90,270.90 L420.11,270.14 L420.32,270.41 L420.53,271.01 L420.74,270.40 L420.96,270.53 L421.17,271.16 L421.38,271.78 L421.59,272.59 L421.80,273.03 L422.01,273.88 L422.22,274.14 L422.43,274.40 L422.64,274.69 L422.86,273.97 L423.07,274.60 L423.28,273.75 L423.49,274.47 L423.70,275.17 L423.91,274.04 L424.12,274.76 L424.33,275.64 L424.54,274.85 L424.76,275.20 L424.97,275.44 L425.18,276.15 L425.39,276.66 L425.60,276.85 L425.81,276.85 L426.02,277.01 L426.23,277.29 L426.44,277.64 L426.66,277.85 L426.87,277.77 L427.08,277.96 L427.29,278.14 L427.50,278.34 L427.50,278.70 Z" fill="#F2C39A" fill-opacity="0.85" stroke="#dab08b" stroke-width="0.25"/>
<path d="M410.00,289.50 L410.00,288.97 L410.30,288.92 L410.60,288.64 L410.90,288.64 L411.20,288.34 L411.50,288.25 L411.80,287.89 L412.10,288.04 L412.40,287.40 L412.70,287.87 L413.00,287.79 L413.30,287.27 L413.60,286.97 L413.90,286.99 L414.20,286.94 L414.50,287.38 L414.80,287.16 L415.10,286.80 L415.40,286.52 L415.70,286.26 L416.00,285.76 L416.30,285.42 L416.60,285.36 L416.90,284.49 L417.20,284.33 L417.50,285.38 L417.80,284.60 L418.10,284.20 L418.40,285.53 L418.70,284.30 L419.00,285.30 L419.30,285.82 L419.60,286.10 L419.90,285.56 L420.20,285.96 L420.50,285.98 L420.80,285.26 L421.10,286.35 L421.40,286.22 L421.70,286.06 L422.00,286.57 L422.30,286.99 L422.60,287.20 L422.90,287.82 L423.20,287.47 L423.50,287.52 L423.80,287.03 L424.10,286.92 L424.40,287.31 L424.70,286.97 L425.00,287.42 L425.30,287.55 L425.60,287.57 L425.90,287.77 L426.20,288.12 L426.50,288.60 L426.80,288.82 L427.10,288.74 L427.40,288.94 L427.70,289.01 L428.00,289.03 L428.30,289.03 L428.60,289.09 L428.90,289.13 L429.20,289.18 L429.50,289.18 L429.80,289.20 L430.10,289.24 L430.40,289.23 L430.70,289.30 L431.00,289.29 L431.30,289.30 L431.60,289.33 L431.90,289.36 L432.20,289.35 L432.50,289.37 L432.80,289.34 L433.10,289.34 L433.40,289.37 L433.70,289.36 L434.00,289.33 L434.30,289.36 L434.60,289.33 L434.90,289.33 L435.20,289.36 L435.50,289.34 L435.80,289.31 L436.10,289.36 L436.40,289.33 L436.70,289.31 L437.00,289.35 L437.30,289.32 L437.60,289.35 L437.90,289.33 L438.20,289.33 L438.50,289.35 L438.80,289.38 L439.10,289.36 L439.40,289.39 L439.70,289.37 L440.00,289.37 L440.30,289.33 L440.60,289.26 L440.90,289.08 L441.20,288.90 L441.50,288.86 L441.80,288.94 L442.10,289.17 L442.40,289.31 L442.70,289.38 L443.00,289.44 L443.00,289.50 Z" fill="#EFA6B0" fill-opacity="0.85" stroke="#d7959e" stroke-width="0.25"/>
<path d="M427.60,299.00 L427.60,298.32 L427.81,297.87 L428.02,297.29 L428.23,296.48 L428.43,295.29 L428.64,294.32 L428.85,292.35 L429.06,291.16 L429.27,290.14 L429.48,288.08 L429.68,287.79 L429.89,286.20 L430.10,286.61 L430.31,287.80 L430.52,287.75 L430.73,289.83 L430.93,290.69 L431.14,293.03 L431.35,294.22 L431.56,295.33 L431.77,296.51 L431.98,297.30 L432.18,297.93 L432.39,298.29 L432.60,298.57 L432.60,299.00 Z" fill="#BDBDBD" fill-opacity="0.85" stroke="#aaaaaa" stroke-width="0.25"/>
<line x1="425.70" y1="234.70" x2="425.70" y2="299.00" stroke="#C4C4C4" stroke-width="1.4"/>
<text x="380.90" y="276.60" font-size="6.4" font-weight="bold" text-anchor="start" fill="#111" textLength="16.20" lengthAdjust="spacingAndGlyphs" transform="rotate(-90 380.90 276.60)" stroke="#111" stroke-width="0.096">Count</text>
<text x="387.4" y="304.6" font-size="2.4" fill="#444" text-anchor="middle">-</text>
<text x="393.5" y="304.6" font-size="2.4" fill="#444" text-anchor="middle">0</text>
<text x="403" y="304.6" font-size="2.4" fill="#444" text-anchor="middle">10<tspan font-size="1.6" dy="-1">3</tspan></text>
<text x="414" y="304.6" font-size="2.4" fill="#444" text-anchor="middle">10<tspan font-size="1.6" dy="-1">4</tspan></text>
<text x="425.7" y="304.6" font-size="2.4" fill="#444" text-anchor="middle">10<tspan font-size="1.6" dy="-1">5</tspan></text>
<text x="437" y="304.6" font-size="2.4" fill="#444" text-anchor="middle">10<tspan font-size="1.6" dy="-1">6</tspan></text>
<line x1="478.70" y1="237.50" x2="478.70" y2="298.60" stroke="#333" stroke-width="0.8"/>
<line x1="476.90" y1="237.80" x2="478.70" y2="237.80" stroke="#333" stroke-width="0.8"/>
<text x="475.40" y="239.49" font-size="4.7" font-weight="bold" text-anchor="end" fill="#222">1.5</text>
<line x1="476.90" y1="258.10" x2="478.70" y2="258.10" stroke="#333" stroke-width="0.8"/>
<text x="475.40" y="259.79" font-size="4.7" font-weight="bold" text-anchor="end" fill="#222">1.0</text>
<line x1="476.90" y1="278.20" x2="478.70" y2="278.20" stroke="#333" stroke-width="0.8"/>
<text x="475.40" y="279.89" font-size="4.7" font-weight="bold" text-anchor="end" fill="#222">0.5</text>
<line x1="476.90" y1="298.60" x2="478.70" y2="298.60" stroke="#333" stroke-width="0.8"/>
<text x="475.40" y="300.29" font-size="4.7" font-weight="bold" text-anchor="end" fill="#222">0.0</text>
<line x1="478.70" y1="298.60" x2="557.50" y2="298.60" stroke="#222" stroke-width="0.7"/>
<circle cx="485.30" cy="298.60" r="1.30" fill="#111"/>
<circle cx="487.30" cy="298.60" r="1.30" fill="#111"/>
<circle cx="489.30" cy="298.60" r="1.30" fill="#111"/>
<circle cx="491.30" cy="298.60" r="1.30" fill="#111"/>
<circle cx="493.30" cy="298.60" r="1.30" fill="#111"/>
<circle cx="495.30" cy="298.60" r="1.30" fill="#111"/>
<rect x="499.90" y="258.10" width="10.40" height="40.50" fill="#A8D0F8" stroke="#222" stroke-width="0.9"/>
<circle cx="501.00" cy="258.10" r="1.30" fill="#111"/>
<circle cx="502.65" cy="258.10" r="1.30" fill="#111"/>
<circle cx="504.30" cy="258.10" r="1.30" fill="#111"/>
<circle cx="505.95" cy="258.10" r="1.30" fill="#111"/>
<circle cx="507.60" cy="258.10" r="1.30" fill="#111"/>
<circle cx="509.25" cy="258.10" r="1.30" fill="#111"/>
<rect x="513.80" y="271.10" width="10.60" height="27.50" fill="#D3D1FA" stroke="#222" stroke-width="0.9"/>
<line x1="519.10" y1="269.60" x2="519.10" y2="274.00" stroke="#111" stroke-width="0.5"/>
<line x1="516.10" y1="269.60" x2="522.10" y2="269.60" stroke="#111" stroke-width="0.5"/>
<line x1="516.10" y1="274.00" x2="522.10" y2="274.00" stroke="#111" stroke-width="0.5"/>
<circle cx="515.00" cy="269.80" r="1.30" fill="#111"/>
<circle cx="517.40" cy="270.60" r="1.30" fill="#111"/>
<circle cx="519.60" cy="270.20" r="1.30" fill="#111"/>
<circle cx="521.80" cy="270.80" r="1.30" fill="#111"/>
<circle cx="523.20" cy="271.60" r="1.30" fill="#111"/>
<circle cx="519.10" cy="273.80" r="1.30" fill="#111"/>
<rect x="527.90" y="277.50" width="10.60" height="21.10" fill="#F6D7B8" stroke="#222" stroke-width="0.9"/>
<line x1="533.20" y1="274.00" x2="533.20" y2="281.00" stroke="#111" stroke-width="0.5"/>
<line x1="530.20" y1="274.00" x2="536.20" y2="274.00" stroke="#111" stroke-width="0.5"/>
<line x1="530.20" y1="281.00" x2="536.20" y2="281.00" stroke="#111" stroke-width="0.5"/>
<circle cx="533.20" cy="273.60" r="1.30" fill="#111"/>
<circle cx="529.40" cy="276.40" r="1.30" fill="#111"/>
<circle cx="531.20" cy="277.60" r="1.30" fill="#111"/>
<circle cx="535.00" cy="277.20" r="1.30" fill="#111"/>
<circle cx="537.20" cy="276.60" r="1.30" fill="#111"/>
<circle cx="533.20" cy="280.60" r="1.30" fill="#111"/>
<rect x="542.20" y="288.00" width="10.60" height="10.60" fill="#E86868" stroke="#222" stroke-width="0.9"/>
<line x1="547.50" y1="286.20" x2="547.50" y2="289.60" stroke="#111" stroke-width="0.5"/>
<line x1="544.50" y1="286.20" x2="550.50" y2="286.20" stroke="#111" stroke-width="0.5"/>
<line x1="544.50" y1="289.60" x2="550.50" y2="289.60" stroke="#111" stroke-width="0.5"/>
<circle cx="543.40" cy="286.60" r="1.30" fill="#111"/>
<circle cx="545.60" cy="287.60" r="1.30" fill="#111"/>
<circle cx="547.60" cy="287.20" r="1.30" fill="#111"/>
<circle cx="549.60" cy="288.20" r="1.30" fill="#111"/>
<circle cx="551.40" cy="288.80" r="1.30" fill="#111"/>
<circle cx="546.00" cy="289.40" r="1.30" fill="#111"/>
<line x1="505.00" y1="244.00" x2="547.80" y2="244.00" stroke="#222" stroke-width="0.65"/>
<text x="526.20" y="244.60" font-size="5.5" font-weight="bold" text-anchor="middle" fill="#222" stroke="#222" stroke-width="0.082">*</text>
<line x1="519.10" y1="250.00" x2="547.80" y2="250.00" stroke="#222" stroke-width="0.65"/>
<text x="532.50" y="250.60" font-size="5.5" font-weight="bold" text-anchor="middle" fill="#222" stroke="#222" stroke-width="0.082">*</text>
<line x1="533.20" y1="256.10" x2="547.80" y2="256.10" stroke="#222" stroke-width="0.65"/>
<text x="540.30" y="256.70" font-size="5.5" font-weight="bold" text-anchor="middle" fill="#222" stroke="#222" stroke-width="0.082">*</text>
<text x="457.30" y="284.00" font-size="4.6" font-weight="normal" text-anchor="start" fill="#333" textLength="31.00" lengthAdjust="spacingAndGlyphs" transform="rotate(-90 457.30 284.00)">Normalized to</text>
<text x="462.90" y="284.00" font-size="4.6" font-weight="normal" text-anchor="start" fill="#333" textLength="33.00" lengthAdjust="spacingAndGlyphs" transform="rotate(-90 462.90 284.00)">activated T cell</text>
<rect x="565.70" y="246.65" width="4.30" height="4.30" fill="#000" stroke="none" stroke-width="0.8"/>
<text x="572.50" y="250.55" font-size="4.9" font-weight="bold" text-anchor="start" fill="#222" textLength="11.20" lengthAdjust="spacingAndGlyphs" stroke="#222" stroke-width="0.04">T cell</text>
<rect x="565.70" y="253.75" width="4.30" height="4.30" fill="#DCEBFC" stroke="none" stroke-width="0.8"/>
<text x="572.50" y="257.65" font-size="4.9" font-weight="bold" text-anchor="start" fill="#222" textLength="33.80" lengthAdjust="spacingAndGlyphs" stroke="#222" stroke-width="0.04">CD3/CD28 T cell</text>
<rect x="565.70" y="261.65" width="4.30" height="4.30" fill="#CFCCFA" stroke="none" stroke-width="0.8"/>
<text x="572.50" y="265.55" font-size="4.9" font-weight="bold" text-anchor="start" fill="#222" textLength="96.20" lengthAdjust="spacingAndGlyphs" stroke="#222" stroke-width="0.04">CD3/CD28 T cell <tspan font-size="6">+</tspan> CD11b<tspan font-size="3.3" dy="-1.9">+</tspan><tspan dy="1.9"> Gr1<tspan font-size="3.3" dy="-1.9">+</tspan><tspan dy="1.9"> cell (Young)</tspan></tspan></text>
<rect x="565.70" y="269.85" width="4.30" height="4.30" fill="#F4D2B4" stroke="none" stroke-width="0.8"/>
<text x="572.50" y="273.75" font-size="4.9" font-weight="bold" text-anchor="start" fill="#222" textLength="110.00" lengthAdjust="spacingAndGlyphs" stroke="#222" stroke-width="0.04">CD3/CD28 T cell <tspan font-size="6">+</tspan> CD11b<tspan font-size="3.3" dy="-1.9">+</tspan><tspan dy="1.9"> Gr1<tspan font-size="3.3" dy="-1.9">+</tspan><tspan dy="1.9"> CD300c<tspan font-size="3" dy="-1.8">-</tspan><tspan dy="1.8"> cell (Old)</tspan></tspan></tspan></text>
<rect x="565.70" y="277.75" width="4.30" height="4.30" fill="#E8606A" stroke="none" stroke-width="0.8"/>
<text x="572.50" y="281.65" font-size="4.9" font-weight="bold" text-anchor="start" fill="#222" textLength="110.00" lengthAdjust="spacingAndGlyphs" stroke="#222" stroke-width="0.04">CD3/CD28 T cell <tspan font-size="6">+</tspan> CD11b<tspan font-size="3.3" dy="-1.9">+</tspan><tspan dy="1.9"> Gr1<tspan font-size="3.3" dy="-1.9">+</tspan><tspan dy="1.9"> CD300c<tspan font-size="3" dy="-1.8">+</tspan><tspan dy="1.8"> cell (Old)</tspan></tspan></tspan></text>
<text x="369.60" y="318.90" font-size="9.5" font-weight="bold" text-anchor="start" fill="#000" stroke="#000" stroke-width="0.120">I</text>
<line x1="385.50" y1="321.50" x2="681.30" y2="321.50" stroke="#3a3a3a" stroke-width="1.0"/>
<text x="475.70" y="316.80" font-size="8.1" font-weight="bold" text-anchor="start" fill="#111" textLength="87.70" lengthAdjust="spacingAndGlyphs" stroke="#111" stroke-width="0.120">ROS production assay</text>
<rect x="385.10" y="326.20" width="65.70" height="63.40" fill="#fff" stroke="#ababab" stroke-width="1.1"/>
<line x1="385.10" y1="325.70" x2="385.10" y2="389.60" stroke="#5a5a5a" stroke-width="0.9"/>
<line x1="385.10" y1="389.60" x2="451.30" y2="389.60" stroke="#5a5a5a" stroke-width="0.9"/>
<line x1="389.00" y1="389.60" x2="389.00" y2="391.10" stroke="#444" stroke-width="0.45"/>
<line x1="396.00" y1="389.60" x2="396.00" y2="391.10" stroke="#444" stroke-width="0.45"/>
<line x1="424.00" y1="389.60" x2="424.00" y2="391.10" stroke="#444" stroke-width="0.45"/>
<line x1="388.00" y1="389.60" x2="388.00" y2="390.40" stroke="#444" stroke-width="0.3"/>
<line x1="391.00" y1="389.60" x2="391.00" y2="390.40" stroke="#444" stroke-width="0.3"/>
<line x1="394.00" y1="389.60" x2="394.00" y2="390.40" stroke="#444" stroke-width="0.3"/>
<line x1="397.00" y1="389.60" x2="397.00" y2="390.40" stroke="#444" stroke-width="0.3"/>
<line x1="400.00" y1="389.60" x2="400.00" y2="390.40" stroke="#444" stroke-width="0.3"/>
<line x1="403.00" y1="389.60" x2="403.00" y2="390.40" stroke="#444" stroke-width="0.3"/>
<line x1="406.00" y1="389.60" x2="406.00" y2="390.40" stroke="#444" stroke-width="0.3"/>
<line x1="409.00" y1="389.60" x2="409.00" y2="390.40" stroke="#444" stroke-width="0.3"/>
<line x1="412.00" y1="389.60" x2="412.00" y2="390.40" stroke="#444" stroke-width="0.3"/>
<line x1="415.00" y1="389.60" x2="415.00" y2="390.40" stroke="#444" stroke-width="0.3"/>
<line x1="418.00" y1="389.60" x2="418.00" y2="390.40" stroke="#444" stroke-width="0.3"/>
<line x1="421.00" y1="389.60" x2="421.00" y2="390.40" stroke="#444" stroke-width="0.3"/>
<line x1="424.00" y1="389.60" x2="424.00" y2="390.40" stroke="#444" stroke-width="0.3"/>
<line x1="427.00" y1="389.60" x2="427.00" y2="390.40" stroke="#444" stroke-width="0.3"/>
<line x1="430.00" y1="389.60" x2="430.00" y2="390.40" stroke="#444" stroke-width="0.3"/>
<line x1="433.00" y1="389.60" x2="433.00" y2="390.40" stroke="#444" stroke-width="0.3"/>
<line x1="436.00" y1="389.60" x2="436.00" y2="390.40" stroke="#444" stroke-width="0.3"/>
<line x1="439.00" y1="389.60" x2="439.00" y2="390.40" stroke="#444" stroke-width="0.3"/>
<line x1="442.00" y1="389.60" x2="442.00" y2="390.40" stroke="#444" stroke-width="0.3"/>
<line x1="445.00" y1="389.60" x2="445.00" y2="390.40" stroke="#444" stroke-width="0.3"/>
<line x1="385.50" y1="352.20" x2="450.40" y2="352.20" stroke="#FAD2D6" stroke-width="0.35"/>
<line x1="385.50" y1="365.10" x2="450.40" y2="365.10" stroke="#FAE2D2" stroke-width="0.35"/>
<line x1="385.50" y1="377.90" x2="450.40" y2="377.90" stroke="#D8E6FA" stroke-width="0.35"/>
<path d="M400.20,352.20 L400.20,352.05 L400.48,351.99 L400.75,352.00 L401.03,351.99 L401.31,351.99 L401.58,351.90 L401.86,351.94 L402.14,351.77 L402.42,351.89 L402.69,351.68 L402.97,351.86 L403.25,351.72 L403.52,351.64 L403.80,351.44 L404.08,351.41 L404.35,351.56 L404.63,351.35 L404.91,351.16 L405.18,351.44 L405.46,350.98 L405.74,350.88 L406.02,350.65 L406.29,351.10 L406.57,350.57 L406.85,350.69 L407.12,350.06 L407.40,350.09 L407.68,350.81 L407.95,349.53 L408.23,349.48 L408.51,350.07 L408.78,348.84 L409.06,349.95 L409.34,348.38 L409.62,348.78 L409.89,349.73 L410.17,347.82 L410.45,348.70 L410.72,349.08 L411.00,348.64 L411.28,348.64 L411.55,347.32 L411.83,347.56 L412.11,345.15 L412.38,346.66 L412.66,347.40 L412.94,347.55 L413.22,344.36 L413.49,346.59 L413.77,342.38 L414.05,342.90 L414.32,343.39 L414.60,342.96 L414.88,344.17 L415.15,340.20 L415.43,343.28 L415.71,343.95 L415.98,340.79 L416.26,338.40 L416.54,337.16 L416.82,340.92 L417.09,341.59 L417.37,339.50 L417.65,341.95 L417.92,337.56 L418.20,340.38 L418.48,339.36 L418.75,334.60 L419.03,332.71 L419.31,335.30 L419.58,338.19 L419.86,331.31 L420.14,334.43 L420.42,334.54 L420.69,335.78 L420.97,331.03 L421.25,336.14 L421.52,337.69 L421.80,335.32 L422.08,335.59 L422.35,337.15 L422.63,337.44 L422.91,330.79 L423.18,335.90 L423.46,328.60 L423.74,331.01 L424.02,328.74 L424.29,330.72 L424.57,337.87 L424.85,329.26 L425.12,338.45 L425.40,334.27 L425.68,329.90 L425.95,333.57 L426.23,330.33 L426.51,335.12 L426.78,333.20 L427.06,337.54 L427.34,338.72 L427.62,336.91 L427.89,339.03 L428.17,340.79 L428.45,338.47 L428.72,342.01 L429.00,339.46 L429.28,342.84 L429.55,344.13 L429.83,342.33 L430.11,345.01 L430.38,346.26 L430.66,346.09 L430.94,347.06 L431.22,348.90 L431.49,348.80 L431.77,349.07 L432.05,348.85 L432.32,349.53 L432.60,349.94 L432.88,350.33 L433.15,350.12 L433.43,350.81 L433.71,351.14 L433.98,351.29 L434.26,351.10 L434.54,351.50 L434.82,351.61 L435.09,351.77 L435.37,351.87 L435.65,351.72 L435.92,351.98 L436.20,351.99 L436.20,352.20 Z" fill="#F2ABB3" fill-opacity="0.8" stroke="#da9aa1" stroke-width="0.25"/>
<path d="M401.20,365.10 L401.20,364.87 L401.45,364.90 L401.71,364.87 L401.96,364.85 L402.22,364.87 L402.47,364.87 L402.72,364.76 L402.98,364.69 L403.23,364.57 L403.48,364.64 L403.74,364.37 L403.99,364.62 L404.25,364.33 L404.50,364.54 L404.75,364.39 L405.01,364.36 L405.26,363.75 L405.52,363.83 L405.77,363.79 L406.02,363.41 L406.28,363.17 L406.53,363.56 L406.78,362.90 L407.04,363.38 L407.29,362.70 L407.55,362.32 L407.80,362.77 L408.05,362.12 L408.31,361.76 L408.56,362.72 L408.82,361.16 L409.07,362.11 L409.32,361.68 L409.58,361.56 L409.83,361.21 L410.08,359.06 L410.34,360.23 L410.59,358.56 L410.85,360.63 L411.10,359.97 L411.35,360.59 L411.61,358.48 L411.86,356.10 L412.12,357.57 L412.37,356.26 L412.62,358.58 L412.88,358.81 L413.13,357.67 L413.38,353.30 L413.64,354.31 L413.89,352.51 L414.15,353.02 L414.40,355.92 L414.65,356.09 L414.91,352.93 L415.16,355.90 L415.42,353.19 L415.67,352.49 L415.92,354.36 L416.18,348.59 L416.43,355.46 L416.68,348.35 L416.94,355.28 L417.19,347.50 L417.45,351.94 L417.70,353.99 L417.95,349.88 L418.21,349.06 L418.46,351.67 L418.72,350.94 L418.97,349.28 L419.22,352.69 L419.48,352.40 L419.73,349.18 L419.98,351.37 L420.24,348.36 L420.49,351.79 L420.75,349.74 L421.00,351.46 L421.25,354.15 L421.51,353.45 L421.76,352.32 L422.02,353.31 L422.27,352.06 L422.52,352.71 L422.78,353.03 L423.03,356.31 L423.28,352.95 L423.54,353.21 L423.79,356.79 L424.05,354.37 L424.30,357.02 L424.55,358.40 L424.81,359.70 L425.06,357.43 L425.32,357.89 L425.57,358.45 L425.82,359.69 L426.08,361.10 L426.33,361.65 L426.58,360.23 L426.84,360.50 L427.09,360.16 L427.35,360.87 L427.60,361.73 L427.85,361.24 L428.11,363.16 L428.36,361.96 L428.62,362.82 L428.87,363.09 L429.12,363.12 L429.38,363.58 L429.63,363.60 L429.88,363.45 L430.14,363.76 L430.39,363.76 L430.65,364.15 L430.90,364.41 L431.15,364.36 L431.41,364.34 L431.66,364.58 L431.92,364.55 L432.17,364.61 L432.42,364.74 L432.68,364.86 L432.93,364.77 L433.18,364.87 L433.44,364.81 L433.69,364.96 L433.95,364.91 L434.20,364.95 L434.20,365.10 Z" fill="#F2C6A4" fill-opacity="0.8" stroke="#dab294" stroke-width="0.25"/>
<path d="M400.20,377.90 L400.20,377.83 L400.44,377.75 L400.68,377.79 L400.92,377.70 L401.16,377.67 L401.40,377.72 L401.64,377.66 L401.88,377.64 L402.12,377.60 L402.36,377.48 L402.60,377.41 L402.84,377.50 L403.08,377.35 L403.32,377.23 L403.56,377.17 L403.80,377.30 L404.04,377.08 L404.28,376.92 L404.52,376.52 L404.76,376.43 L405.00,376.38 L405.24,376.57 L405.48,375.76 L405.72,376.33 L405.96,376.02 L406.20,376.08 L406.44,375.24 L406.68,374.64 L406.92,374.50 L407.16,373.93 L407.40,373.84 L407.64,373.60 L407.88,374.26 L408.12,372.00 L408.36,371.43 L408.60,371.76 L408.84,370.38 L409.08,370.25 L409.32,369.74 L409.56,369.69 L409.80,368.91 L410.04,368.92 L410.28,371.26 L410.52,367.03 L410.76,369.20 L411.00,366.98 L411.24,364.80 L411.48,366.86 L411.72,367.90 L411.96,365.41 L412.20,362.46 L412.44,362.13 L412.68,360.31 L412.92,360.43 L413.16,360.77 L413.40,363.13 L413.64,365.50 L413.88,358.14 L414.12,366.30 L414.36,357.15 L414.60,359.86 L414.84,363.67 L415.08,364.21 L415.32,358.34 L415.56,364.93 L415.80,361.07 L416.04,364.44 L416.28,364.13 L416.52,362.91 L416.76,358.75 L417.00,365.43 L417.24,357.00 L417.48,359.55 L417.72,363.58 L417.96,359.36 L418.20,366.04 L418.44,364.55 L418.68,362.63 L418.92,359.99 L419.16,362.12 L419.40,367.94 L419.64,361.04 L419.88,367.86 L420.12,368.09 L420.36,365.84 L420.60,369.78 L420.84,368.09 L421.08,369.81 L421.32,368.97 L421.56,370.05 L421.80,370.21 L422.04,371.09 L422.28,370.98 L422.52,370.79 L422.76,372.18 L423.00,372.27 L423.24,373.44 L423.48,373.53 L423.72,374.72 L423.96,374.12 L424.20,374.37 L424.44,375.36 L424.68,375.34 L424.92,375.22 L425.16,375.60 L425.40,375.66 L425.64,376.32 L425.88,375.94 L426.12,376.75 L426.36,376.28 L426.60,376.87 L426.84,377.04 L427.08,377.11 L427.32,376.93 L427.56,377.15 L427.80,377.17 L428.04,377.25 L428.28,377.48 L428.52,377.46 L428.76,377.67 L429.00,377.57 L429.24,377.70 L429.48,377.72 L429.72,377.71 L429.96,377.76 L430.20,377.78 L430.44,377.81 L430.68,377.82 L430.92,377.81 L431.16,377.86 L431.40,377.87 L431.40,377.90 Z" fill="#A8CAF6" fill-opacity="0.8" stroke="#97b6dd" stroke-width="0.25"/>
<path d="M394.40,389.60 L394.40,389.37 L394.60,388.98 L394.80,388.12 L395.00,386.67 L395.20,384.32 L395.40,380.51 L395.60,376.67 L395.80,372.04 L396.00,369.59 L396.20,367.30 L396.40,369.96 L396.60,372.56 L396.80,375.85 L397.00,381.03 L397.20,384.24 L397.40,386.75 L397.60,388.19 L397.80,388.97 L398.00,389.35 L398.20,389.51 L398.40,389.57 L398.40,389.60 Z" fill="#A0A0A0" fill-opacity="0.85" stroke="#909090" stroke-width="0.25"/>
<text x="382.60" y="378.40" font-size="6.0" font-weight="bold" text-anchor="start" fill="#111" textLength="39.40" lengthAdjust="spacingAndGlyphs" transform="rotate(-90 382.60 378.40)" stroke="#111" stroke-width="0.090">DCFH-DA MFI</text>
<text x="396.2" y="395.4" font-size="2.4" fill="#444" text-anchor="middle">0</text>
<text x="424.4" y="395.4" font-size="2.4" fill="#444" text-anchor="middle">10<tspan font-size="1.6" dy="-1">4</tspan></text>
<line x1="479.90" y1="329.60" x2="479.90" y2="388.50" stroke="#333" stroke-width="0.8"/>
<line x1="478.10" y1="329.90" x2="479.90" y2="329.90" stroke="#333" stroke-width="0.8"/>
<text x="476.60" y="331.59" font-size="4.7" font-weight="bold" text-anchor="end" fill="#222">1500</text>
<line x1="478.10" y1="349.80" x2="479.90" y2="349.80" stroke="#333" stroke-width="0.8"/>
<text x="476.60" y="351.49" font-size="4.7" font-weight="bold" text-anchor="end" fill="#222">1000</text>
<line x1="478.10" y1="369.20" x2="479.90" y2="369.20" stroke="#333" stroke-width="0.8"/>
<text x="476.60" y="370.89" font-size="4.7" font-weight="bold" text-anchor="end" fill="#222">500</text>
<line x1="478.10" y1="388.50" x2="479.90" y2="388.50" stroke="#333" stroke-width="0.8"/>
<text x="476.60" y="390.19" font-size="4.7" font-weight="bold" text-anchor="end" fill="#222">0</text>
<line x1="479.90" y1="388.50" x2="556.80" y2="388.50" stroke="#222" stroke-width="0.7"/>
<rect x="487.80" y="386.60" width="11.20" height="1.90" fill="#888" stroke="#222" stroke-width="0.9"/>
<circle cx="487.60" cy="386.80" r="1.30" fill="#111"/>
<circle cx="489.80" cy="386.80" r="1.30" fill="#111"/>
<circle cx="492.00" cy="386.80" r="1.30" fill="#111"/>
<circle cx="494.20" cy="386.80" r="1.30" fill="#111"/>
<circle cx="496.40" cy="386.80" r="1.30" fill="#111"/>
<circle cx="498.60" cy="386.80" r="1.30" fill="#111"/>
<rect x="504.40" y="372.10" width="12.10" height="16.40" fill="#C4DEF8" stroke="#222" stroke-width="0.9"/>
<line x1="510.40" y1="369.60" x2="510.40" y2="375.80" stroke="#111" stroke-width="0.5"/>
<line x1="507.40" y1="369.60" x2="513.40" y2="369.60" stroke="#111" stroke-width="0.5"/>
<line x1="507.40" y1="375.80" x2="513.40" y2="375.80" stroke="#111" stroke-width="0.5"/>
<circle cx="506.00" cy="371.20" r="1.30" fill="#111"/>
<circle cx="510.40" cy="369.40" r="1.30" fill="#111"/>
<circle cx="514.60" cy="371.40" r="1.30" fill="#111"/>
<circle cx="508.20" cy="373.20" r="1.30" fill="#111"/>
<circle cx="510.40" cy="376.00" r="1.30" fill="#111"/>
<rect x="521.40" y="362.10" width="12.10" height="26.40" fill="#F6D7B8" stroke="#222" stroke-width="0.9"/>
<circle cx="523.00" cy="359.80" r="1.30" fill="#111"/>
<circle cx="525.20" cy="361.20" r="1.30" fill="#111"/>
<circle cx="527.50" cy="361.60" r="1.30" fill="#111"/>
<circle cx="529.80" cy="361.80" r="1.30" fill="#111"/>
<circle cx="532.20" cy="362.00" r="1.30" fill="#111"/>
<circle cx="523.20" cy="361.80" r="1.30" fill="#111"/>
<rect x="537.90" y="351.30" width="12.30" height="37.20" fill="#F4B8C0" stroke="#222" stroke-width="0.9"/>
<line x1="544.00" y1="346.00" x2="544.00" y2="355.20" stroke="#111" stroke-width="0.5"/>
<line x1="541.00" y1="346.00" x2="547.00" y2="346.00" stroke="#111" stroke-width="0.5"/>
<line x1="541.00" y1="355.20" x2="547.00" y2="355.20" stroke="#111" stroke-width="0.5"/>
<circle cx="544.00" cy="345.40" r="1.30" fill="#111"/>
<circle cx="544.60" cy="348.60" r="1.30" fill="#111"/>
<circle cx="540.00" cy="351.40" r="1.30" fill="#111"/>
<circle cx="548.60" cy="351.00" r="1.30" fill="#111"/>
<circle cx="541.20" cy="355.00" r="1.30" fill="#111"/>
<circle cx="547.20" cy="355.00" r="1.30" fill="#111"/>
<line x1="493.80" y1="329.90" x2="544.50" y2="329.90" stroke="#222" stroke-width="0.65"/>
<text x="522.80" y="330.50" font-size="5.5" font-weight="bold" text-anchor="middle" fill="#222" stroke="#222" stroke-width="0.082">*</text>
<line x1="510.50" y1="335.80" x2="544.50" y2="335.80" stroke="#222" stroke-width="0.65"/>
<text x="529.40" y="336.40" font-size="5.5" font-weight="bold" text-anchor="middle" fill="#222" stroke="#222" stroke-width="0.082">*</text>
<line x1="527.10" y1="341.80" x2="544.50" y2="341.80" stroke="#222" stroke-width="0.65"/>
<text x="536.90" y="342.40" font-size="5.5" font-weight="bold" text-anchor="middle" fill="#222" stroke="#222" stroke-width="0.082">*</text>
<text x="463.40" y="374.00" font-size="4.6" font-weight="normal" text-anchor="start" fill="#333" textLength="29.30" lengthAdjust="spacingAndGlyphs" transform="rotate(-90 463.40 374.00)">DCFH-DA  MFI</text>
<rect x="567.20" y="344.65" width="4.30" height="4.30" fill="#F2B0B8" stroke="none" stroke-width="0.8"/>
<text x="574.00" y="348.55" font-size="4.9" font-weight="bold" text-anchor="start" fill="#222" textLength="68.70" lengthAdjust="spacingAndGlyphs" stroke="#222" stroke-width="0.04">CD11b<tspan font-size="3.3" dy="-1.9">+</tspan><tspan dy="1.9"> Gr1<tspan font-size="3.3" dy="-1.9">+</tspan><tspan dy="1.9"> CD300c<tspan font-size="3" dy="-1.8">+</tspan><tspan dy="1.8"> cell (Old)</tspan></tspan></tspan></text>
<rect x="567.20" y="352.85" width="4.30" height="4.30" fill="#F4D2B4" stroke="none" stroke-width="0.8"/>
<text x="574.00" y="356.75" font-size="4.9" font-weight="bold" text-anchor="start" fill="#222" textLength="68.20" lengthAdjust="spacingAndGlyphs" stroke="#222" stroke-width="0.04">CD11b<tspan font-size="3.3" dy="-1.9">+</tspan><tspan dy="1.9"> Gr1<tspan font-size="3.3" dy="-1.9">+</tspan><tspan dy="1.9"> CD300c<tspan font-size="3" dy="-1.8">-</tspan><tspan dy="1.8"> cell (Old)</tspan></tspan></tspan></text>
<rect x="567.20" y="361.55" width="4.30" height="4.30" fill="#BCD8F8" stroke="none" stroke-width="0.8"/>
<text x="574.00" y="365.45" font-size="4.9" font-weight="bold" text-anchor="start" fill="#222" textLength="55.30" lengthAdjust="spacingAndGlyphs" stroke="#222" stroke-width="0.04">CD11b<tspan font-size="3.3" dy="-1.9">+</tspan><tspan dy="1.9"> Gr1<tspan font-size="3.3" dy="-1.9">+</tspan><tspan dy="1.9"> cell (Young)</tspan></tspan></text>
<rect x="567.20" y="369.75" width="4.30" height="4.30" fill="#707070" stroke="none" stroke-width="0.8"/>
<text x="574.00" y="373.65" font-size="4.9" font-weight="bold" text-anchor="start" fill="#222" textLength="24.50" lengthAdjust="spacingAndGlyphs" stroke="#222" stroke-width="0.04">FMO-DCFH</text>
</svg></body></html>
